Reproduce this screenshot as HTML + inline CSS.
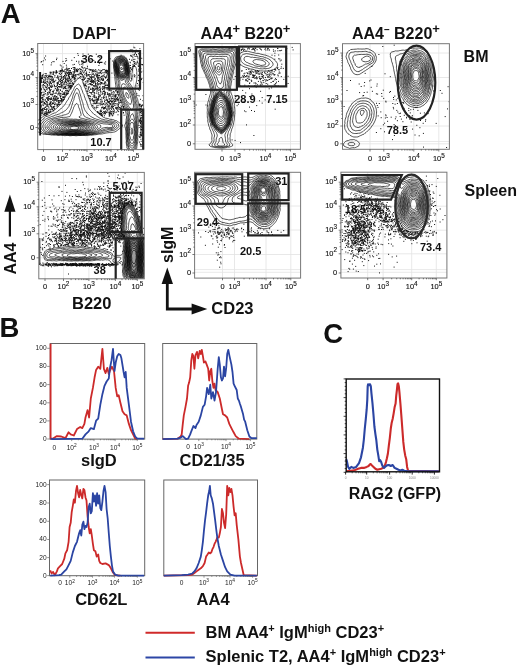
<!DOCTYPE html>
<html><head><meta charset="utf-8"><style>
html,body{margin:0;padding:0;background:#fff;width:520px;height:669px;overflow:hidden}
svg{display:block;will-change:transform}
text{font-family:"Liberation Sans", sans-serif}
</style></head><body><svg width="520" height="669" viewBox="0 0 520 669" font-family='"Liberation Sans", sans-serif'><text x="0.7" y="23.1" font-size="27.5" font-weight="bold" text-anchor="start" fill="#111" >A</text><text x="-0.6" y="337.4" font-size="27.5" font-weight="bold" text-anchor="start" fill="#111" >B</text><text x="323.2" y="342.9" font-size="27.5" font-weight="bold" text-anchor="start" fill="#111" >C</text><text x="72.6" y="38.8" font-size="16" font-weight="bold" text-anchor="start" fill="#111" >DAPI<tspan font-size="10" dy="-6">–</tspan></text><text x="200.5" y="38.8" font-size="16" font-weight="bold" text-anchor="start" fill="#111" >AA4<tspan font-size="13" dy="-6">+</tspan><tspan dy="6"> B220</tspan><tspan font-size="13" dy="-6">+</tspan></text><text x="352.0" y="38.8" font-size="16" font-weight="bold" text-anchor="start" fill="#111" >AA4<tspan font-size="10" dy="-6">–</tspan><tspan dy="6"> B220</tspan><tspan font-size="13" dy="-6">+</tspan></text><text x="463.6" y="61.8" font-size="16" font-weight="bold" text-anchor="start" fill="#111" >BM</text><text x="464.5" y="196.0" font-size="16" font-weight="bold" text-anchor="start" fill="#111" >Spleen</text><text x="72.0" y="309.0" font-size="16.5" font-weight="bold" text-anchor="start" fill="#111" >B220</text><text x="211.3" y="313.6" font-size="16.5" font-weight="bold" text-anchor="start" fill="#111" >CD23</text><text x="0" y="0" font-size="16" font-weight="bold" fill="#111" transform="translate(15.9,274.6) rotate(-90)">AA4</text><text x="0" y="0" font-size="16" font-weight="bold" fill="#111" transform="translate(173.4,263.0) rotate(-90)">sIgM</text><line x1="9.9" y1="236.5" x2="9.9" y2="208" stroke="#111" stroke-width="2.2"/><path d="M4.3 211.8 L9.9 194.6 L15.5 211.8 Z" fill="#111"/><path d="M167.3 282 L167.3 309 L193 309" fill="none" stroke="#111" stroke-width="2.8"/><path d="M161.6 284 L167.3 267.6 L173 284 Z" fill="#111"/><path d="M191.6 303.5 L207.3 309 L191.6 314.5 Z" fill="#111"/><text x="81.0" y="466.3" font-size="16.5" font-weight="bold" text-anchor="start" fill="#111" >sIgD</text><text x="179.6" y="465.8" font-size="16.5" font-weight="bold" text-anchor="start" fill="#111" >CD21/35</text><text x="75.2" y="604.9" font-size="16.5" font-weight="bold" text-anchor="start" fill="#111" >CD62L</text><text x="196.6" y="604.9" font-size="16.5" font-weight="bold" text-anchor="start" fill="#111" >AA4</text><text x="348.7" y="499.0" font-size="16" font-weight="bold" text-anchor="start" fill="#111" >RAG2 (GFP)</text><line x1="145.5" y1="632.7" x2="194.8" y2="632.7" stroke="#d02a2a" stroke-width="2"/><line x1="145.5" y1="657.5" x2="194.8" y2="657.5" stroke="#2c46a6" stroke-width="2"/><text x="205.6" y="638.2" font-size="16.5" font-weight="bold" text-anchor="start" fill="#111" >BM AA4<tspan font-size="11" dy="-6">+</tspan><tspan dy="6"> IgM</tspan><tspan font-size="11" dy="-6">high</tspan><tspan dy="6"> CD23</tspan><tspan font-size="11" dy="-6">+</tspan></text><text x="205.6" y="661.7" font-size="16.5" font-weight="bold" text-anchor="start" fill="#111" >Splenic T2, AA4<tspan font-size="11" dy="-6">+</tspan><tspan dy="6"> IgM</tspan><tspan font-size="11" dy="-6">high</tspan><tspan dy="6"> CD23</tspan><tspan font-size="11" dy="-6">+</tspan></text><text x="34.0" y="56.0" font-size="7.4" text-anchor="end" fill="#111" stroke="#111" stroke-width="0.12">10<tspan font-size="6.4" dy="-3.4">5</tspan></text><text x="34.0" y="79.8" font-size="7.4" text-anchor="end" fill="#111" stroke="#111" stroke-width="0.12">10<tspan font-size="6.4" dy="-3.4">4</tspan></text><text x="34.0" y="106.5" font-size="7.4" text-anchor="end" fill="#111" stroke="#111" stroke-width="0.12">10<tspan font-size="6.4" dy="-3.4">3</tspan></text><text x="34.0" y="129.7" font-size="7.4" text-anchor="end" fill="#111" stroke="#111" stroke-width="0.12">0</text><text x="43.5" y="161.0" font-size="7.4" text-anchor="middle" fill="#111" stroke="#111" stroke-width="0.12">0</text><text x="62.5" y="161.0" font-size="7.4" text-anchor="middle" fill="#111" stroke="#111" stroke-width="0.12">10<tspan font-size="6.4" dy="-3.4">2</tspan></text><text x="87.0" y="161.0" font-size="7.4" text-anchor="middle" fill="#111" stroke="#111" stroke-width="0.12">10<tspan font-size="6.4" dy="-3.4">3</tspan></text><text x="111.0" y="161.0" font-size="7.4" text-anchor="middle" fill="#111" stroke="#111" stroke-width="0.12">10<tspan font-size="6.4" dy="-3.4">4</tspan></text><text x="133.5" y="161.0" font-size="7.4" text-anchor="middle" fill="#111" stroke="#111" stroke-width="0.12">10<tspan font-size="6.4" dy="-3.4">5</tspan></text><text x="191.0" y="55.8" font-size="7.4" text-anchor="end" fill="#111" stroke="#111" stroke-width="0.12">10<tspan font-size="6.4" dy="-3.4">5</tspan></text><text x="191.0" y="79.5" font-size="7.4" text-anchor="end" fill="#111" stroke="#111" stroke-width="0.12">10<tspan font-size="6.4" dy="-3.4">4</tspan></text><text x="191.0" y="103.2" font-size="7.4" text-anchor="end" fill="#111" stroke="#111" stroke-width="0.12">10<tspan font-size="6.4" dy="-3.4">3</tspan></text><text x="191.0" y="127.0" font-size="7.4" text-anchor="end" fill="#111" stroke="#111" stroke-width="0.12">10<tspan font-size="6.4" dy="-3.4">2</tspan></text><text x="191.0" y="146.0" font-size="7.4" text-anchor="end" fill="#111" stroke="#111" stroke-width="0.12">0</text><text x="222.0" y="161.0" font-size="7.4" text-anchor="middle" fill="#111" stroke="#111" stroke-width="0.12">0</text><text x="235.0" y="161.0" font-size="7.4" text-anchor="middle" fill="#111" stroke="#111" stroke-width="0.12">10<tspan font-size="6.4" dy="-3.4">3</tspan></text><text x="265.5" y="161.0" font-size="7.4" text-anchor="middle" fill="#111" stroke="#111" stroke-width="0.12">10<tspan font-size="6.4" dy="-3.4">4</tspan></text><text x="290.5" y="161.0" font-size="7.4" text-anchor="middle" fill="#111" stroke="#111" stroke-width="0.12">10<tspan font-size="6.4" dy="-3.4">5</tspan></text><text x="338.5" y="55.0" font-size="7.4" text-anchor="end" fill="#111" stroke="#111" stroke-width="0.12">10<tspan font-size="6.4" dy="-3.4">5</tspan></text><text x="338.5" y="79.5" font-size="7.4" text-anchor="end" fill="#111" stroke="#111" stroke-width="0.12">10<tspan font-size="6.4" dy="-3.4">4</tspan></text><text x="338.5" y="103.2" font-size="7.4" text-anchor="end" fill="#111" stroke="#111" stroke-width="0.12">10<tspan font-size="6.4" dy="-3.4">3</tspan></text><text x="338.5" y="128.0" font-size="7.4" text-anchor="end" fill="#111" stroke="#111" stroke-width="0.12">10<tspan font-size="6.4" dy="-3.4">2</tspan></text><text x="338.5" y="146.0" font-size="7.4" text-anchor="end" fill="#111" stroke="#111" stroke-width="0.12">0</text><text x="370.0" y="161.0" font-size="7.4" text-anchor="middle" fill="#111" stroke="#111" stroke-width="0.12">0</text><text x="383.8" y="161.0" font-size="7.4" text-anchor="middle" fill="#111" stroke="#111" stroke-width="0.12">10<tspan font-size="6.4" dy="-3.4">3</tspan></text><text x="413.8" y="161.0" font-size="7.4" text-anchor="middle" fill="#111" stroke="#111" stroke-width="0.12">10<tspan font-size="6.4" dy="-3.4">4</tspan></text><text x="438.8" y="161.0" font-size="7.4" text-anchor="middle" fill="#111" stroke="#111" stroke-width="0.12">10<tspan font-size="6.4" dy="-3.4">5</tspan></text><text x="35.0" y="184.2" font-size="7.4" text-anchor="end" fill="#111" stroke="#111" stroke-width="0.12">10<tspan font-size="6.4" dy="-3.4">5</tspan></text><text x="35.0" y="208.8" font-size="7.4" text-anchor="end" fill="#111" stroke="#111" stroke-width="0.12">10<tspan font-size="6.4" dy="-3.4">4</tspan></text><text x="35.0" y="235.8" font-size="7.4" text-anchor="end" fill="#111" stroke="#111" stroke-width="0.12">10<tspan font-size="6.4" dy="-3.4">3</tspan></text><text x="35.0" y="260.0" font-size="7.4" text-anchor="end" fill="#111" stroke="#111" stroke-width="0.12">0</text><text x="45.0" y="289.1" font-size="7.4" text-anchor="middle" fill="#111" stroke="#111" stroke-width="0.12">0</text><text x="63.5" y="289.1" font-size="7.4" text-anchor="middle" fill="#111" stroke="#111" stroke-width="0.12">10<tspan font-size="6.4" dy="-3.4">2</tspan></text><text x="88.9" y="289.1" font-size="7.4" text-anchor="middle" fill="#111" stroke="#111" stroke-width="0.12">10<tspan font-size="6.4" dy="-3.4">3</tspan></text><text x="115.4" y="289.1" font-size="7.4" text-anchor="middle" fill="#111" stroke="#111" stroke-width="0.12">10<tspan font-size="6.4" dy="-3.4">4</tspan></text><text x="137.3" y="289.1" font-size="7.4" text-anchor="middle" fill="#111" stroke="#111" stroke-width="0.12">10<tspan font-size="6.4" dy="-3.4">5</tspan></text><text x="191.0" y="184.2" font-size="7.4" text-anchor="end" fill="#111" stroke="#111" stroke-width="0.12">10<tspan font-size="6.4" dy="-3.4">5</tspan></text><text x="191.0" y="208.0" font-size="7.4" text-anchor="end" fill="#111" stroke="#111" stroke-width="0.12">10<tspan font-size="6.4" dy="-3.4">4</tspan></text><text x="191.0" y="232.0" font-size="7.4" text-anchor="end" fill="#111" stroke="#111" stroke-width="0.12">10<tspan font-size="6.4" dy="-3.4">3</tspan></text><text x="191.0" y="256.5" font-size="7.4" text-anchor="end" fill="#111" stroke="#111" stroke-width="0.12">10<tspan font-size="6.4" dy="-3.4">2</tspan></text><text x="191.0" y="275.2" font-size="7.4" text-anchor="end" fill="#111" stroke="#111" stroke-width="0.12">0</text><text x="222.5" y="289.4" font-size="7.4" text-anchor="middle" fill="#111" stroke="#111" stroke-width="0.12">0</text><text x="234.5" y="289.4" font-size="7.4" text-anchor="middle" fill="#111" stroke="#111" stroke-width="0.12">10<tspan font-size="6.4" dy="-3.4">3</tspan></text><text x="266.0" y="289.4" font-size="7.4" text-anchor="middle" fill="#111" stroke="#111" stroke-width="0.12">10<tspan font-size="6.4" dy="-3.4">4</tspan></text><text x="290.8" y="289.4" font-size="7.4" text-anchor="middle" fill="#111" stroke="#111" stroke-width="0.12">10<tspan font-size="6.4" dy="-3.4">5</tspan></text><text x="337.0" y="184.2" font-size="7.4" text-anchor="end" fill="#111" stroke="#111" stroke-width="0.12">10<tspan font-size="6.4" dy="-3.4">5</tspan></text><text x="337.0" y="208.2" font-size="7.4" text-anchor="end" fill="#111" stroke="#111" stroke-width="0.12">10<tspan font-size="6.4" dy="-3.4">4</tspan></text><text x="337.0" y="232.2" font-size="7.4" text-anchor="end" fill="#111" stroke="#111" stroke-width="0.12">10<tspan font-size="6.4" dy="-3.4">3</tspan></text><text x="337.0" y="255.8" font-size="7.4" text-anchor="end" fill="#111" stroke="#111" stroke-width="0.12">10<tspan font-size="6.4" dy="-3.4">2</tspan></text><text x="337.0" y="275.2" font-size="7.4" text-anchor="end" fill="#111" stroke="#111" stroke-width="0.12">0</text><text x="367.7" y="289.4" font-size="7.4" text-anchor="middle" fill="#111" stroke="#111" stroke-width="0.12">0</text><text x="383.1" y="289.4" font-size="7.4" text-anchor="middle" fill="#111" stroke="#111" stroke-width="0.12">10<tspan font-size="6.4" dy="-3.4">3</tspan></text><text x="411.7" y="289.4" font-size="7.4" text-anchor="middle" fill="#111" stroke="#111" stroke-width="0.12">10<tspan font-size="6.4" dy="-3.4">4</tspan></text><text x="436.3" y="289.4" font-size="7.4" text-anchor="middle" fill="#111" stroke="#111" stroke-width="0.12">10<tspan font-size="6.4" dy="-3.4">5</tspan></text><rect x="50.2" y="343.5" width="94.5" height="95.6" fill="none" stroke="#666" stroke-width="1.0"/><path d="M50.6 343.7 50.6 438.7 52.7 438.7 56.9 436.1 61.2 436.5 65.4 438.2 68.6 432.3 70.7 434.4 73.8 435.5 77 429.1 80.2 427 82.3 428.1 84.4 423.9 85.5 417.5 87.6 410.1 89.1 417.5 90.8 398.5 92.9 387.9 94.6 377.3 96.1 369.9 98.2 366.7 100.3 368.8 102.4 348.8 103.9 368.8 105.6 373.1 107.3 367.8 108.8 374.1 109.8 371 111.9 366.7 114 371 115.7 387.9 117.2 396.3 118.7 395.3 120.4 402.7 122.5 411.2 124.6 414.3 126.7 415.4 128.9 423.9 131 430.2 133.1 434.4 135.2 438.7 137.3 438.9" fill="none" stroke="#cc2a2a" stroke-width="1.8" stroke-linejoin="round"/><path d="M50.6 438.7 52.7 439.1 82.3 438.7 85.5 434.4 88.7 431.3 90.8 428.1 93.9 429.1 96.1 420.7 98.2 418.6 100.3 404.8 102.4 394.2 104.5 385.8 106.6 381.5 108.8 378.4 109.8 368.8 111.5 360.4 113 348.8 114.5 371 115.7 362.5 117.2 356.2 118.7 354 120.4 355.1 121.4 358.3 123.6 372 124.6 377.3 125.7 372 126.7 387.9 128.9 404.8 131 421.7 133.1 431.3 135.2 436.5 137.3 438.7 144.1 438.7" fill="none" stroke="#2b45a3" stroke-width="1.8" stroke-linejoin="round"/><text x="46.6" y="350.2" font-size="6.6" text-anchor="end" fill="#222">100</text><line x1="47.2" y1="348.3" x2="49.8" y2="348.3" stroke="#666" stroke-width="0.7"/><text x="46.6" y="368.3" font-size="6.6" text-anchor="end" fill="#222">80</text><line x1="47.2" y1="366.4" x2="49.8" y2="366.4" stroke="#666" stroke-width="0.7"/><text x="46.6" y="386.5" font-size="6.6" text-anchor="end" fill="#222">60</text><line x1="47.2" y1="384.6" x2="49.8" y2="384.6" stroke="#666" stroke-width="0.7"/><text x="46.6" y="404.7" font-size="6.6" text-anchor="end" fill="#222">40</text><line x1="47.2" y1="402.8" x2="49.8" y2="402.8" stroke="#666" stroke-width="0.7"/><text x="46.6" y="422.8" font-size="6.6" text-anchor="end" fill="#222">20</text><line x1="47.2" y1="420.9" x2="49.8" y2="420.9" stroke="#666" stroke-width="0.7"/><text x="46.6" y="440.9" font-size="6.6" text-anchor="end" fill="#222">0</text><line x1="47.2" y1="439.0" x2="49.8" y2="439.0" stroke="#666" stroke-width="0.7"/><text x="54.4" y="449.5" font-size="6.6" text-anchor="middle" fill="#222">0</text><text x="71.7" y="449.5" font-size="6.6" text-anchor="middle" fill="#222">10<tspan font-size="4.8" dy="-2.8">2</tspan></text><text x="94.0" y="449.5" font-size="6.6" text-anchor="middle" fill="#222">10<tspan font-size="4.8" dy="-2.8">3</tspan></text><text x="115.1" y="449.5" font-size="6.6" text-anchor="middle" fill="#222">10<tspan font-size="4.8" dy="-2.8">4</tspan></text><text x="137.3" y="449.5" font-size="6.6" text-anchor="middle" fill="#222">10<tspan font-size="4.8" dy="-2.8">5</tspan></text><path d="M71.7 439.1v2M94.0 439.1v2M115.1 439.1v2M137.3 439.1v2M78.4 439.1v1.2M82.3 439.1v1.2M85.1 439.1v1.2M87.3 439.1v1.2M89.1 439.1v1.2M90.5 439.1v1.2M91.8 439.1v1.2M93.0 439.1v1.2M100.4 439.1v1.2M104.1 439.1v1.2M106.7 439.1v1.2M108.7 439.1v1.2M110.4 439.1v1.2M111.8 439.1v1.2M113.1 439.1v1.2M114.1 439.1v1.2M121.8 439.1v1.2M125.7 439.1v1.2M128.5 439.1v1.2M130.6 439.1v1.2M132.4 439.1v1.2M133.9 439.1v1.2M135.1 439.1v1.2M136.3 439.1v1.2" stroke="#555" stroke-width="0.6" fill="none"/><rect x="162.7" y="343.5" width="94.1" height="95.6" fill="none" stroke="#666" stroke-width="1.0"/><path d="M162.7 439.1 177.5 438.7 180.7 436.5 181.7 434.4 182.8 423.9 183.8 415.4 185.5 406.9 187 398.5 188.1 385.8 189.1 382.6 190.2 377.3 191.3 360.4 192.3 354 193.4 356.2 194.4 368.8 195.5 355.1 197 351.9 198.2 358.3 199.7 350.9 200.8 354 201.8 349.8 202.9 356.2 203.9 362.5 205.4 361.4 206.7 364.6 208.2 368.8 209.2 380.5 210.3 371 211.3 368.8 212.4 381.5 213.5 387.9 214.5 383.7 215.6 390 217.7 392.1 219.8 398.5 221.9 409 223 414.3 225.1 415.4 227.2 417.5 229.3 423.9 231.4 428.1 233.6 432.3 235.7 436.1 238.9 438.7 249.4 439.1" fill="none" stroke="#cc2a2a" stroke-width="1.8" stroke-linejoin="round"/><path d="M162.7 439.1 177.5 438.7 180.7 437.6 182.8 436.1 186 439.1 188.1 438.7 190.2 434.4 191.3 431.3 193.4 426 195.5 428.1 196.5 424.9 198.7 421.7 200.8 415.4 202.9 406.9 204.6 404.8 206.1 396.3 207.1 387.9 208.8 394.2 210.3 384.7 211.3 398.5 213 392.1 214.5 400.6 216 392.1 217.7 368.8 218.8 357.2 219.8 364.6 220.9 377.3 221.9 380.5 223 378.4 224 366.7 225.1 376.3 226.2 367.8 227.2 354 228.3 349.8 229.3 355.1 231.4 364.6 232.5 372 233.6 383.7 234.6 385.8 236.7 390 237.8 398.5 238.9 400.6 239.9 403.8 241 406.9 243.1 414.3 244.1 419.6 245.2 421.7 247.3 430.2 249.4 436.5 251.5 438.2 256.8 438.2" fill="none" stroke="#2b45a3" stroke-width="1.8" stroke-linejoin="round"/><text x="188.0" y="449.2" font-size="6.6" text-anchor="middle" fill="#222">0</text><text x="198.8" y="449.2" font-size="6.6" text-anchor="middle" fill="#222">10<tspan font-size="4.8" dy="-2.8">3</tspan></text><text x="226.0" y="449.2" font-size="6.6" text-anchor="middle" fill="#222">10<tspan font-size="4.8" dy="-2.8">4</tspan></text><text x="250.4" y="449.2" font-size="6.6" text-anchor="middle" fill="#222">10<tspan font-size="4.8" dy="-2.8">5</tspan></text><path d="M198.8 439.1v2M226.0 439.1v2M250.4 439.1v2M207.0 439.1v1.2M211.8 439.1v1.2M215.2 439.1v1.2M217.8 439.1v1.2M220.0 439.1v1.2M221.8 439.1v1.2M223.4 439.1v1.2M224.8 439.1v1.2M233.3 439.1v1.2M237.6 439.1v1.2M240.7 439.1v1.2M243.1 439.1v1.2M245.0 439.1v1.2M246.6 439.1v1.2M248.0 439.1v1.2M249.3 439.1v1.2" stroke="#555" stroke-width="0.6" fill="none"/><rect x="49.5" y="480.0" width="95.2" height="95.7" fill="none" stroke="#666" stroke-width="1.0"/><path d="M50.2 570.4 51.6 573.5 53.1 571.9 54.8 575.2 56.9 571.4 58 568.3 60.1 566.1 62.2 564 64.3 558.7 65.4 553.4 67.1 550.3 68.6 541.8 69.6 527 70.7 522.8 71.7 512.2 72.8 505.8 73.8 499.5 74.9 502.7 76 491 77 485.8 78.1 493.2 79.1 497.4 80.2 490 81.3 495.3 82.3 498.4 83.4 488.9 84.4 490 85.5 497.4 86.5 500.6 87.6 516.4 88.7 527 89.7 533.3 90.8 529.1 91.8 535.5 92.9 543.9 93.9 550.3 95.4 551.3 96.7 556.6 98.2 554.5 99.2 560.9 100.3 563 102.4 564 105.6 563.4 108.8 565.1 110.9 568.3 113 572.5 115.1 575.2 120.4 575.7" fill="none" stroke="#cc2a2a" stroke-width="1.8" stroke-linejoin="round"/><path d="M50.2 575.7 59 575.2 61.2 574.6 64.3 571.4 66.4 569.3 68.6 565.1 70.7 560.9 72.8 552.4 74.9 546 77 541.8 79.1 533.3 80.2 530.2 81.3 535.5 82.3 524.9 83.4 521.7 84.4 529.1 85.5 525.9 86.5 527 87.6 522.8 88.7 506.9 89.7 503.7 90.8 513.3 91.8 511.1 92.9 493.2 93.9 501.6 95 495.3 96.1 505.8 97.1 493.2 98.2 503.7 99.2 495.3 100.3 508 101.3 510.1 102.4 501.6 103.5 491 104.5 485.8 105.6 492.1 106.6 509 107.7 518.5 108.8 533.3 109.8 546 110.9 556.6 111.9 565.1 113 571.4 115.1 574.6 118.3 575.7 144.1 575.7" fill="none" stroke="#2b45a3" stroke-width="1.8" stroke-linejoin="round"/><text x="46.6" y="486.5" font-size="6.6" text-anchor="end" fill="#222">100</text><line x1="47.2" y1="484.6" x2="49.8" y2="484.6" stroke="#666" stroke-width="0.7"/><text x="46.6" y="504.9" font-size="6.6" text-anchor="end" fill="#222">80</text><line x1="47.2" y1="503.0" x2="49.8" y2="503.0" stroke="#666" stroke-width="0.7"/><text x="46.6" y="523.2" font-size="6.6" text-anchor="end" fill="#222">60</text><line x1="47.2" y1="521.3" x2="49.8" y2="521.3" stroke="#666" stroke-width="0.7"/><text x="46.6" y="541.4" font-size="6.6" text-anchor="end" fill="#222">40</text><line x1="47.2" y1="539.5" x2="49.8" y2="539.5" stroke="#666" stroke-width="0.7"/><text x="46.6" y="559.5" font-size="6.6" text-anchor="end" fill="#222">20</text><line x1="47.2" y1="557.6" x2="49.8" y2="557.6" stroke="#666" stroke-width="0.7"/><text x="46.6" y="577.5" font-size="6.6" text-anchor="end" fill="#222">0</text><line x1="47.2" y1="575.6" x2="49.8" y2="575.6" stroke="#666" stroke-width="0.7"/><text x="60.1" y="585.4" font-size="6.6" text-anchor="middle" fill="#222">0</text><text x="69.8" y="585.4" font-size="6.6" text-anchor="middle" fill="#222">10<tspan font-size="4.8" dy="-2.8">2</tspan></text><text x="92.5" y="585.4" font-size="6.6" text-anchor="middle" fill="#222">10<tspan font-size="4.8" dy="-2.8">3</tspan></text><text x="114.5" y="585.4" font-size="6.6" text-anchor="middle" fill="#222">10<tspan font-size="4.8" dy="-2.8">4</tspan></text><text x="137.3" y="585.4" font-size="6.6" text-anchor="middle" fill="#222">10<tspan font-size="4.8" dy="-2.8">5</tspan></text><path d="M69.8 575.7v2M92.5 575.7v2M114.5 575.7v2M137.3 575.7v2M76.6 575.7v1.2M80.6 575.7v1.2M83.5 575.7v1.2M85.7 575.7v1.2M87.5 575.7v1.2M89.0 575.7v1.2M90.3 575.7v1.2M91.5 575.7v1.2M99.1 575.7v1.2M103.0 575.7v1.2M105.7 575.7v1.2M107.9 575.7v1.2M109.6 575.7v1.2M111.1 575.7v1.2M112.4 575.7v1.2M113.5 575.7v1.2M121.4 575.7v1.2M125.4 575.7v1.2M128.2 575.7v1.2M130.4 575.7v1.2M132.2 575.7v1.2M133.8 575.7v1.2M135.1 575.7v1.2M136.3 575.7v1.2" stroke="#555" stroke-width="0.6" fill="none"/><rect x="163.8" y="480.0" width="93.7" height="95.7" fill="none" stroke="#666" stroke-width="1.0"/><path d="M163.8 575.7 188.1 575.2 192.3 574.6 194.4 573.1 196.5 571.4 198.7 569.7 200.8 568.3 202.9 566.1 204.6 563 206.1 556.6 207.5 554.5 208.8 552.4 210.3 553.4 211.3 552.4 212.4 549.2 213.5 547.1 214.5 543.9 215.6 541.8 217.3 537.6 218.8 537.6 219.8 533.3 220.9 527 221.9 509 223 513.3 224 522.8 225.1 528.1 226.2 514.3 227.2 485.8 228.3 495.3 229.3 487.9 230.4 492.1 231.4 488.9 232.5 495.3 233.6 506.9 234.6 515.4 235.7 513.3 236.7 524.9 238.4 539.7 239.9 556.6 241 563 242.4 569.3 243.7 575.2 256.8 575.7" fill="none" stroke="#cc2a2a" stroke-width="1.8" stroke-linejoin="round"/><path d="M163.8 575.7 181.7 575.2 188.1 574.6 192.3 573.5 194.4 571.4 196.5 568.3 198.7 563 200.8 556.6 201.8 550.3 202.9 541.8 203.9 531.2 205 520.7 206.1 512.2 207.1 503.7 208.2 495.3 209.2 491 209.9 485.8 210.7 495.3 211.8 498.4 213 503.7 214.1 512.2 215.2 520.7 216.2 529.1 217.3 537.6 218.8 546 220.9 554.5 223 560.9 225.1 567.2 227.2 571.4 230.4 574.6 234.6 575.7 256.8 575.7" fill="none" stroke="#2b45a3" stroke-width="1.8" stroke-linejoin="round"/><text x="181.7" y="585.0" font-size="6.6" text-anchor="middle" fill="#222">0</text><text x="204.0" y="585.0" font-size="6.6" text-anchor="middle" fill="#222">10<tspan font-size="4.8" dy="-2.8">3</tspan></text><text x="230.0" y="585.0" font-size="6.6" text-anchor="middle" fill="#222">10<tspan font-size="4.8" dy="-2.8">4</tspan></text><text x="252.6" y="585.0" font-size="6.6" text-anchor="middle" fill="#222">10<tspan font-size="4.8" dy="-2.8">5</tspan></text><path d="M204.0 575.7v2M230.0 575.7v2M252.6 575.7v2M211.8 575.7v1.2M216.4 575.7v1.2M219.7 575.7v1.2M222.2 575.7v1.2M224.2 575.7v1.2M226.0 575.7v1.2M227.5 575.7v1.2M228.8 575.7v1.2M236.8 575.7v1.2M240.8 575.7v1.2M243.6 575.7v1.2M245.8 575.7v1.2M247.6 575.7v1.2M249.1 575.7v1.2M250.4 575.7v1.2M251.6 575.7v1.2" stroke="#555" stroke-width="0.6" fill="none"/><path d="M346.2 471.2 350.4 470.8 354.2 470.4 358.1 468.8 361 467.9 363.8 467.9 366.7 466.9 368.7 466 369.6 464.6 370.6 464 371.5 465 372.5 466 373.5 466.9 375.4 468.8 377.3 469.8 379.2 469.2 381.2 468.8 383.1 467.9 385 465 386 462.1 386.9 458.3 387.9 453.5 388.8 445.8 389.8 438.1 390.8 428.5 391.7 422.7 392.7 418.8 393.7 413.1 394.6 407.3 395.6 403.5 396.2 395.8 396.9 390 397.5 384.2 398.1 383.3 398.8 386.2 399.4 391.9 400.4 403.5 401.3 415 402.3 428.5 403.3 441.9 404.2 449.6 405.2 455.4 406.2 459.2 407.1 466.9 408.1 470.8 438.8 471.2" fill="none" stroke="#cc2a2a" stroke-width="2.1" stroke-linejoin="round"/><path d="M346.2 459.2 346.9 461.2 348.1 466.9 349.4 468.8 351.3 466.9 353.3 467.9 356.2 466.9 359 463.1 361 457.3 362.9 447.7 363.8 440 364.8 428.5 365.8 418.8 366.7 409.2 367.3 399.6 367.7 386.2 368.1 384.2 369.2 385.2 370 384.2 370.8 386.2 371.5 393.8 372.5 403.5 373.5 415 374.4 426.5 375.4 434.2 376.3 440 377.3 449.6 378.3 455.4 379.2 461.2 380.2 460.2 381.2 462.1 382.1 465 383.1 466.9 384 467.9 385 466.9 386.9 465.4 388.8 465 390.8 466 392.7 465 394.6 467.9 396.5 468.8 398.5 469.8 400.4 470.4 402.3 469.8 404.2 470.8 408.1 471.2 438.8 471.2" fill="none" stroke="#2b45a3" stroke-width="2.1" stroke-linejoin="round"/><rect x="346.2" y="379.0" width="93.3" height="92.8" fill="none" stroke="#111" stroke-width="1.4"/><line x1="343.6" y1="378.9" x2="346.2" y2="378.9" stroke="#111" stroke-width="0.8"/><line x1="344.7" y1="382.6" x2="346.2" y2="382.6" stroke="#111" stroke-width="0.8"/><line x1="344.7" y1="386.4" x2="346.2" y2="386.4" stroke="#111" stroke-width="0.8"/><line x1="344.7" y1="390.1" x2="346.2" y2="390.1" stroke="#111" stroke-width="0.8"/><line x1="344.7" y1="393.8" x2="346.2" y2="393.8" stroke="#111" stroke-width="0.8"/><line x1="343.6" y1="397.6" x2="346.2" y2="397.6" stroke="#111" stroke-width="0.8"/><line x1="344.7" y1="401.3" x2="346.2" y2="401.3" stroke="#111" stroke-width="0.8"/><line x1="344.7" y1="405.1" x2="346.2" y2="405.1" stroke="#111" stroke-width="0.8"/><line x1="344.7" y1="408.8" x2="346.2" y2="408.8" stroke="#111" stroke-width="0.8"/><line x1="344.7" y1="412.5" x2="346.2" y2="412.5" stroke="#111" stroke-width="0.8"/><line x1="343.6" y1="416.3" x2="346.2" y2="416.3" stroke="#111" stroke-width="0.8"/><line x1="344.7" y1="420.0" x2="346.2" y2="420.0" stroke="#111" stroke-width="0.8"/><line x1="344.7" y1="423.7" x2="346.2" y2="423.7" stroke="#111" stroke-width="0.8"/><line x1="344.7" y1="427.5" x2="346.2" y2="427.5" stroke="#111" stroke-width="0.8"/><line x1="344.7" y1="431.2" x2="346.2" y2="431.2" stroke="#111" stroke-width="0.8"/><line x1="343.6" y1="434.9" x2="346.2" y2="434.9" stroke="#111" stroke-width="0.8"/><line x1="344.7" y1="438.7" x2="346.2" y2="438.7" stroke="#111" stroke-width="0.8"/><line x1="344.7" y1="442.4" x2="346.2" y2="442.4" stroke="#111" stroke-width="0.8"/><line x1="344.7" y1="446.1" x2="346.2" y2="446.1" stroke="#111" stroke-width="0.8"/><line x1="344.7" y1="449.9" x2="346.2" y2="449.9" stroke="#111" stroke-width="0.8"/><line x1="343.6" y1="453.6" x2="346.2" y2="453.6" stroke="#111" stroke-width="0.8"/><line x1="344.7" y1="457.4" x2="346.2" y2="457.4" stroke="#111" stroke-width="0.8"/><line x1="344.7" y1="461.1" x2="346.2" y2="461.1" stroke="#111" stroke-width="0.8"/><line x1="344.7" y1="464.8" x2="346.2" y2="464.8" stroke="#111" stroke-width="0.8"/><line x1="344.7" y1="468.6" x2="346.2" y2="468.6" stroke="#111" stroke-width="0.8"/><line x1="343.6" y1="472.3" x2="346.2" y2="472.3" stroke="#111" stroke-width="0.8"/><line x1="345.6" y1="471.8" x2="345.6" y2="474.6" stroke="#111" stroke-width="0.9"/><line x1="352.2" y1="471.8" x2="352.2" y2="473.3" stroke="#111" stroke-width="0.6"/><line x1="356.0" y1="471.8" x2="356.0" y2="473.3" stroke="#111" stroke-width="0.6"/><line x1="358.7" y1="471.8" x2="358.7" y2="473.3" stroke="#111" stroke-width="0.6"/><line x1="360.8" y1="471.8" x2="360.8" y2="473.3" stroke="#111" stroke-width="0.6"/><line x1="362.6" y1="471.8" x2="362.6" y2="473.3" stroke="#111" stroke-width="0.6"/><line x1="364.0" y1="471.8" x2="364.0" y2="473.3" stroke="#111" stroke-width="0.6"/><line x1="365.3" y1="471.8" x2="365.3" y2="473.3" stroke="#111" stroke-width="0.6"/><line x1="366.4" y1="471.8" x2="366.4" y2="473.3" stroke="#111" stroke-width="0.6"/><line x1="366.7" y1="471.8" x2="366.7" y2="474.6" stroke="#111" stroke-width="0.9"/><line x1="373.3" y1="471.8" x2="373.3" y2="473.3" stroke="#111" stroke-width="0.6"/><line x1="377.1" y1="471.8" x2="377.1" y2="473.3" stroke="#111" stroke-width="0.6"/><line x1="379.8" y1="471.8" x2="379.8" y2="473.3" stroke="#111" stroke-width="0.6"/><line x1="381.9" y1="471.8" x2="381.9" y2="473.3" stroke="#111" stroke-width="0.6"/><line x1="383.7" y1="471.8" x2="383.7" y2="473.3" stroke="#111" stroke-width="0.6"/><line x1="385.1" y1="471.8" x2="385.1" y2="473.3" stroke="#111" stroke-width="0.6"/><line x1="386.4" y1="471.8" x2="386.4" y2="473.3" stroke="#111" stroke-width="0.6"/><line x1="387.5" y1="471.8" x2="387.5" y2="473.3" stroke="#111" stroke-width="0.6"/><line x1="389.6" y1="471.8" x2="389.6" y2="474.6" stroke="#111" stroke-width="0.9"/><line x1="396.2" y1="471.8" x2="396.2" y2="473.3" stroke="#111" stroke-width="0.6"/><line x1="400.0" y1="471.8" x2="400.0" y2="473.3" stroke="#111" stroke-width="0.6"/><line x1="402.7" y1="471.8" x2="402.7" y2="473.3" stroke="#111" stroke-width="0.6"/><line x1="404.8" y1="471.8" x2="404.8" y2="473.3" stroke="#111" stroke-width="0.6"/><line x1="406.6" y1="471.8" x2="406.6" y2="473.3" stroke="#111" stroke-width="0.6"/><line x1="408.0" y1="471.8" x2="408.0" y2="473.3" stroke="#111" stroke-width="0.6"/><line x1="409.3" y1="471.8" x2="409.3" y2="473.3" stroke="#111" stroke-width="0.6"/><line x1="410.4" y1="471.8" x2="410.4" y2="473.3" stroke="#111" stroke-width="0.6"/><line x1="412.2" y1="471.8" x2="412.2" y2="474.6" stroke="#111" stroke-width="0.9"/><line x1="418.8" y1="471.8" x2="418.8" y2="473.3" stroke="#111" stroke-width="0.6"/><line x1="422.6" y1="471.8" x2="422.6" y2="473.3" stroke="#111" stroke-width="0.6"/><line x1="425.3" y1="471.8" x2="425.3" y2="473.3" stroke="#111" stroke-width="0.6"/><line x1="427.4" y1="471.8" x2="427.4" y2="473.3" stroke="#111" stroke-width="0.6"/><line x1="429.2" y1="471.8" x2="429.2" y2="473.3" stroke="#111" stroke-width="0.6"/><line x1="430.6" y1="471.8" x2="430.6" y2="473.3" stroke="#111" stroke-width="0.6"/><line x1="431.9" y1="471.8" x2="431.9" y2="473.3" stroke="#111" stroke-width="0.6"/><line x1="433.0" y1="471.8" x2="433.0" y2="473.3" stroke="#111" stroke-width="0.6"/><line x1="434.4" y1="471.8" x2="434.4" y2="474.6" stroke="#111" stroke-width="0.9"/><text x="345.6" y="478.6" font-size="3.2" text-anchor="middle" fill="#888">0</text><text x="366.7" y="478.6" font-size="3.2" text-anchor="middle" fill="#888">10</text><text x="389.6" y="478.6" font-size="3.2" text-anchor="middle" fill="#888">100</text><text x="412.2" y="478.6" font-size="3.2" text-anchor="middle" fill="#888">1000</text><text x="434.4" y="478.6" font-size="3.2" text-anchor="middle" fill="#888">10000</text><line x1="43.5" y1="43.5" x2="43.5" y2="149.6" stroke="#e2e2e2" stroke-width="0.8"/><line x1="62.5" y1="43.5" x2="62.5" y2="149.6" stroke="#e2e2e2" stroke-width="0.8"/><line x1="87.0" y1="43.5" x2="87.0" y2="149.6" stroke="#e2e2e2" stroke-width="0.8"/><line x1="111.0" y1="43.5" x2="111.0" y2="149.6" stroke="#e2e2e2" stroke-width="0.8"/><line x1="133.5" y1="43.5" x2="133.5" y2="149.6" stroke="#e2e2e2" stroke-width="0.8"/><line x1="37.7" y1="53.6" x2="143.6" y2="53.6" stroke="#e2e2e2" stroke-width="0.8"/><line x1="37.7" y1="77.5" x2="143.6" y2="77.5" stroke="#e2e2e2" stroke-width="0.8"/><line x1="37.7" y1="104.5" x2="143.6" y2="104.5" stroke="#e2e2e2" stroke-width="0.8"/><line x1="37.7" y1="127.5" x2="143.6" y2="127.5" stroke="#e2e2e2" stroke-width="0.8"/><line x1="222.0" y1="43.6" x2="222.0" y2="149.3" stroke="#e2e2e2" stroke-width="0.8"/><line x1="235.0" y1="43.6" x2="235.0" y2="149.3" stroke="#e2e2e2" stroke-width="0.8"/><line x1="265.5" y1="43.6" x2="265.5" y2="149.3" stroke="#e2e2e2" stroke-width="0.8"/><line x1="290.5" y1="43.6" x2="290.5" y2="149.3" stroke="#e2e2e2" stroke-width="0.8"/><line x1="195.0" y1="53.8" x2="300.4" y2="53.8" stroke="#e2e2e2" stroke-width="0.8"/><line x1="195.0" y1="77.5" x2="300.4" y2="77.5" stroke="#e2e2e2" stroke-width="0.8"/><line x1="195.0" y1="101.2" x2="300.4" y2="101.2" stroke="#e2e2e2" stroke-width="0.8"/><line x1="195.0" y1="125.0" x2="300.4" y2="125.0" stroke="#e2e2e2" stroke-width="0.8"/><line x1="195.0" y1="141.5" x2="300.4" y2="141.5" stroke="#e2e2e2" stroke-width="0.8"/><line x1="195.0" y1="143.8" x2="300.4" y2="143.8" stroke="#e2e2e2" stroke-width="0.8"/><line x1="370.0" y1="43.7" x2="370.0" y2="149.3" stroke="#e2e2e2" stroke-width="0.8"/><line x1="383.8" y1="43.7" x2="383.8" y2="149.3" stroke="#e2e2e2" stroke-width="0.8"/><line x1="413.8" y1="43.7" x2="413.8" y2="149.3" stroke="#e2e2e2" stroke-width="0.8"/><line x1="438.8" y1="43.7" x2="438.8" y2="149.3" stroke="#e2e2e2" stroke-width="0.8"/><line x1="342.5" y1="53.0" x2="449.4" y2="53.0" stroke="#e2e2e2" stroke-width="0.8"/><line x1="342.5" y1="77.5" x2="449.4" y2="77.5" stroke="#e2e2e2" stroke-width="0.8"/><line x1="342.5" y1="101.2" x2="449.4" y2="101.2" stroke="#e2e2e2" stroke-width="0.8"/><line x1="342.5" y1="126.0" x2="449.4" y2="126.0" stroke="#e2e2e2" stroke-width="0.8"/><line x1="342.5" y1="141.5" x2="449.4" y2="141.5" stroke="#e2e2e2" stroke-width="0.8"/><line x1="342.5" y1="143.8" x2="449.4" y2="143.8" stroke="#e2e2e2" stroke-width="0.8"/><line x1="45.0" y1="172.4" x2="45.0" y2="278.8" stroke="#e2e2e2" stroke-width="0.8"/><line x1="63.5" y1="172.4" x2="63.5" y2="278.8" stroke="#e2e2e2" stroke-width="0.8"/><line x1="88.9" y1="172.4" x2="88.9" y2="278.8" stroke="#e2e2e2" stroke-width="0.8"/><line x1="115.4" y1="172.4" x2="115.4" y2="278.8" stroke="#e2e2e2" stroke-width="0.8"/><line x1="137.3" y1="172.4" x2="137.3" y2="278.8" stroke="#e2e2e2" stroke-width="0.8"/><line x1="38.8" y1="182.2" x2="144.3" y2="182.2" stroke="#e2e2e2" stroke-width="0.8"/><line x1="38.8" y1="206.8" x2="144.3" y2="206.8" stroke="#e2e2e2" stroke-width="0.8"/><line x1="38.8" y1="233.8" x2="144.3" y2="233.8" stroke="#e2e2e2" stroke-width="0.8"/><line x1="38.8" y1="257.8" x2="144.3" y2="257.8" stroke="#e2e2e2" stroke-width="0.8"/><line x1="222.5" y1="172.3" x2="222.5" y2="278.1" stroke="#e2e2e2" stroke-width="0.8"/><line x1="234.5" y1="172.3" x2="234.5" y2="278.1" stroke="#e2e2e2" stroke-width="0.8"/><line x1="266.0" y1="172.3" x2="266.0" y2="278.1" stroke="#e2e2e2" stroke-width="0.8"/><line x1="290.8" y1="172.3" x2="290.8" y2="278.1" stroke="#e2e2e2" stroke-width="0.8"/><line x1="194.6" y1="182.2" x2="300.6" y2="182.2" stroke="#e2e2e2" stroke-width="0.8"/><line x1="194.6" y1="206.0" x2="300.6" y2="206.0" stroke="#e2e2e2" stroke-width="0.8"/><line x1="194.6" y1="230.0" x2="300.6" y2="230.0" stroke="#e2e2e2" stroke-width="0.8"/><line x1="194.6" y1="254.5" x2="300.6" y2="254.5" stroke="#e2e2e2" stroke-width="0.8"/><line x1="194.6" y1="269.6" x2="300.6" y2="269.6" stroke="#e2e2e2" stroke-width="0.8"/><line x1="194.6" y1="272.3" x2="300.6" y2="272.3" stroke="#e2e2e2" stroke-width="0.8"/><line x1="367.7" y1="172.2" x2="367.7" y2="278.0" stroke="#e2e2e2" stroke-width="0.8"/><line x1="383.1" y1="172.2" x2="383.1" y2="278.0" stroke="#e2e2e2" stroke-width="0.8"/><line x1="411.7" y1="172.2" x2="411.7" y2="278.0" stroke="#e2e2e2" stroke-width="0.8"/><line x1="436.3" y1="172.2" x2="436.3" y2="278.0" stroke="#e2e2e2" stroke-width="0.8"/><line x1="340.9" y1="182.2" x2="446.9" y2="182.2" stroke="#e2e2e2" stroke-width="0.8"/><line x1="340.9" y1="206.2" x2="446.9" y2="206.2" stroke="#e2e2e2" stroke-width="0.8"/><line x1="340.9" y1="230.2" x2="446.9" y2="230.2" stroke="#e2e2e2" stroke-width="0.8"/><line x1="340.9" y1="253.8" x2="446.9" y2="253.8" stroke="#e2e2e2" stroke-width="0.8"/><line x1="340.9" y1="269.6" x2="446.9" y2="269.6" stroke="#e2e2e2" stroke-width="0.8"/><line x1="340.9" y1="272.3" x2="446.9" y2="272.3" stroke="#e2e2e2" stroke-width="0.8"/><clipPath id="cP1"><rect x="37.7" y="43.5" width="105.9" height="106.1"/></clipPath><g clip-path="url(#cP1)"><path d="M79.3 64.7h1M87.8 54.2h1M71.3 60.3h1M53.6 61.7h1M66.2 67.1h1M50.7 64.9h1M81 60.8h1M65.1 61.1h1M61.4 68.2h1M93.3 60.4h1M89.5 60.9h1M82.3 63.5h1M52.5 61.6h1M78.4 61.3h1M99.2 57.7h1M40.6 62.1h1M66.1 60.3h1M42.2 64.7h1M72.5 64.8h1M42.8 60.8h1M87 66.3h1M83.7 62.1h1M73.9 64.4h1M63.7 63.5h1M77.8 55.4h1M82.5 54h1M65.5 58.5h1M51.1 62.8h1M56 71h1M109.7 58.8h1M56 59.6h1M78.3 62.9h1M104.7 64.1h1M62.5 61.4h1M76 61.3h1M82.4 64.9h1M81.1 64.2h1M44 58h1M81.4 61.8h1M103.9 63.1h1M82.7 58.7h1M60.8 66h1M136.7 62.9h1M101.1 62.5h1M44.8 59.8h1M81.4 61.6h1M95.8 54.2h1M73.8 57.6h1M98.9 63.6h1M77.3 53.6h1M98.4 65.5h1M120.6 55.2h1M59.8 65.1h1M85.1 58.7h1M65.9 65.2h1M82.9 62.6h1M45.1 56h1M62.6 67.1h1M73.6 67.9h1M105.1 61.9h1M112.2 61h1M41.2 61.5h1M56.4 58.2h1M139.4 48.7h1M131 78.9h1M131.7 76.1h1M140.1 71.1h1M133.8 66h1M138.8 66.5h1M132 68.1h1M134.5 62.3h1M132.9 61.7h1M130.9 69.5h1M141.8 64.9h1M131.5 56.5h1M129.9 68h1M140.7 64.4h1M133.6 66.3h1M131.7 70h1M126.7 51.1h1M137.8 66.1h1M134.4 59.3h1M131.2 60.2h1M133.9 65.3h1M129.6 62.1h1M140.4 68.7h1M132.3 57.8h1M132.6 65.9h1M132.3 66.5h1M137.3 57.2h1M133.8 55h1M134.6 56.5h1M139.7 82.9h1M137.5 58.7h1M138.7 74.9h1M138.8 90.3h1M136.9 62.2h1M138 53.8h1M138.2 69.2h1M138.6 85.1h1M141.2 58.3h1M129 59.3h1M138.3 63.2h1M138.4 66.5h1M142.8 71.1h1M141.1 72h1M129.4 65.4h1M138.1 71h1M130 67.8h1M138.2 89.4h1M135.7 50.1h1M133.4 47.2h1M134.7 53.2h1M130.7 78.2h1M130.2 49.8h1M136.8 61.2h1M136.3 93.7h1M130.1 71.1h1M131.6 60.1h1M130.1 55.8h1M130.6 68.1h1M131.1 56h1M136 56h1M138.4 80.7h1M134.1 63.5h1M132.5 64.4h1M137.8 65h1M134.1 54.4h1M134.9 52.8h1M139.6 66.6h1M131.5 49.6h1M140.4 64.6h1M130.4 55.3h1M139.5 58.5h1M134.3 47.8h1M138.1 75.4h1M137 83.6h1M135.5 64.5h1M129.9 65.5h1M136.8 56.3h1M139.4 66.8h1M133.9 61.6h1M128.7 50.3h1M142.1 64.5h1M141 79.6h1M132.5 54.9h1M137.9 80.6h1M135.6 63.2h1M134.2 63.7h1M129.8 62.8h1M133.3 59.6h1M133.7 65.4h1M139.8 57.4h1M136 54.5h1M141.3 78.5h1M132.1 51.8h1M140 99.3h1M136.4 86h1M122.9 113h1M118.1 111.6h1M137.4 95.4h1M117.9 94.8h1M142.4 100.7h1M142.8 82.5h1M139.3 104.2h1M111.4 73.1h1M122.9 112.5h1M120.1 100.3h1M139.3 104.5h1M117.5 114.8h1M138.7 95.9h1M142.5 95.7h1M116.3 94.4h1M123.6 115.2h1M141 129.4h1M140.2 122.7h1M140.9 144.9h1M139.7 106.9h1M140.2 121h1M139.6 122.6h1M141.5 135.8h1M140.5 135.2h1M139.8 143.9h1M140.2 111.1h1M140.3 136.8h1M141.1 125.2h1M139.1 121.1h1M139.6 134.4h1M140.1 118.3h1M142.7 105.5h1M141.3 124.4h1M140.4 111.9h1M141.1 121.3h1M142.3 132.6h1M140.3 131.9h1M140.2 146h1M141.6 126.2h1M140.9 111.5h1M141.1 120.1h1M140 118.3h1M142.2 115h1M142 133.3h1M141 121.3h1M141.1 106.6h1M138.7 136.2h1M141 127.2h1M140.3 132.4h1M140.9 129.6h1M141.1 135.4h1M140.2 128.9h1M139 142.1h1M140.8 133.2h1M139.8 132.8h1M140.2 133h1M139.9 112.4h1M140.2 126.6h1M138.4 125.6h1M141.6 130.8h1M140.7 113.4h1M141.5 146.5h1M142.2 129.6h1M140.5 115.1h1M139.7 125.3h1M139.4 127.5h1M140 120.5h1M140.6 129.5h1M138.7 121.4h1M140.8 134.6h1M139.1 120.4h1M140.7 128h1M140.4 139.3h1M140.4 117.3h1M140 123.3h1M139.9 119.2h1M139 137.1h1M140.5 115.8h1M142.1 123.1h1M142.2 128.1h1M141.7 117.6h1M141.1 117.9h1M139.9 123.2h1M141.8 105.2h1M140.4 112.5h1M140.4 123.9h1M140.2 130.1h1M140.6 126.4h1M140.1 108.8h1M140.4 123.3h1M139.5 137.3h1M140.2 134.6h1M142.5 127.6h1M140.4 118.6h1M140.3 135.4h1M141 122.1h1M141.1 115.5h1M139.5 119.6h1M140.3 144.5h1M141.3 130.9h1M140.7 141.3h1M140.6 123.2h1M141.9 138.8h1M139.9 121.8h1M41 78.5h1M105.2 70.9h1M72.6 67.6h1M52.9 97.9h1M50.3 74h1M74.1 70.6h1M96.1 97.1h1M50.3 79.3h1M99.8 113.9h1M53.2 100.9h1M86.4 75.1h1M43.6 108.8h1M40.8 88.4h1M60.5 101.9h1M91.7 71.1h1M44.7 115.8h1M92.4 91.5h1M55.5 86.6h1M114.8 95.1h1M41.4 101.2h1M59.9 89.8h1M45.8 87.7h1M95.4 85.3h1M91.6 81h1M107.3 74.9h1M90.5 89.5h1M101.8 112.5h1M45.6 106.6h1M95.5 85.2h1M75.9 69.7h1M50 99.7h1M93.4 76.3h1M93.2 80.8h1M52.9 72.7h1M67 73h1M59.3 95.4h1M61.1 99.5h1M69.7 86.2h1M49.7 73.1h1M61.9 70.6h1M88.4 95.9h1M72.6 71.7h1M123.1 106.5h1M97.6 73.1h1M95.5 97.7h1M51.7 94.4h1M118.6 102.8h1M58 98.2h1M113.7 92.1h1M87.6 80.5h1M102 69.9h1M96.3 75.5h1M101.7 107.4h1M52.2 109.7h1M106.9 80.9h1M52.2 103.8h1M86 73.6h1M92.6 81.1h1M96.3 103.4h1M50 109.9h1M99.7 110.7h1M120.7 109.7h1M45.9 102h1M60.2 79.5h1M104.4 112.8h1M41.3 75.9h1M96.4 91.8h1M117.9 99h1M69.7 70.6h1M85.1 85.5h1M99.7 95.6h1M69 72.6h1M92.2 70.6h1M71.1 72.6h1M52.8 91.2h1M65.3 86.6h1M105.6 112h1M88.9 90.8h1M97 82.3h1M61.2 70.4h1M40.1 85.6h1M46.1 101.4h1M113.4 109.4h1M50.1 102.6h1M54 85.5h1M73.5 72.6h1M40.9 110.8h1M101.3 99.8h1M49.4 91.2h1M45.1 91.5h1M115.5 99.1h1M52.6 92.9h1M45.1 113.2h1M57.6 86.8h1M96 102.2h1M75.6 70h1M112.5 114.9h1M41.7 105h1M58.1 89.2h1M93.6 97h1M87.8 86.9h1M68.8 78.4h1M55.2 88.3h1M103.5 111.4h1M92.1 100.3h1M121.1 106.7h1M108.2 82.3h1M107.5 70.4h1M107.9 95.1h1M103.3 88.6h1M77.3 70.6h1M95.6 97.4h1M45.9 104.8h1M90 92.8h1M111.2 98.1h1M102.3 89.2h1M91.1 77.2h1M79.5 69.9h1M107.3 110.9h1M76.3 71.5h1M103.6 72.6h1M52.1 82.2h1M99.4 87.9h1M115.9 98.5h1M62.7 84.8h1M103.9 112.6h1M70.9 86h1M42.3 101.1h1M63.9 99.2h1M109 89.5h1M59.3 86.4h1M49.2 89.4h1M114.6 103.6h1M111.5 107.8h1M93 83.1h1M73.5 74h1M90.4 84.7h1M109.9 100.3h1M92.1 70.9h1M48.8 104.1h1M60 81.6h1M74.4 77.7h1M106.3 87.6h1M60.2 71.6h1M50.6 83.7h1M96.7 74.2h1M44 113.4h1M74.6 75.7h1M50.4 98.9h1M94.9 89.1h1M109.3 115.8h1M90.7 78h1M50.5 76h1M116.3 108.9h1M70.1 87.3h1M68.3 90.2h1M109.3 98.5h1M58.5 81.7h1M43.4 81.1h1M101 83.7h1M54.1 108.8h1M104 115.8h1M47.1 84.6h1M46.8 86.3h1M105.4 100.6h1M86.3 75.7h1M113.5 93h1M48.3 78.1h1M46.5 75.8h1M60.5 87h1M73 84.4h1M50.6 106.6h1M94.7 88.2h1M67.4 93.4h1M42.5 110.6h1M67 90.3h1M56.9 85.4h1M114.8 100.1h1M67.7 84.9h1M40.3 107.9h1M68.3 70.2h1M72.3 82.4h1M97.3 77.4h1M92.6 74.3h1M62.1 85.2h1M73.9 69.3h1M69.4 85.5h1M103.4 91.1h1M92.6 89.2h1M113.1 103.9h1M108.6 102.3h1M56.1 101.2h1M66.1 79.1h1M52.3 86.1h1M42 99.1h1M116.7 105h1M53.2 98.3h1M59.8 79.6h1M87.4 74.9h1M95.2 83.4h1M107.1 92.8h1M112.5 103h1M67.9 88h1M93.1 92.1h1M65.4 79.5h1M84.8 68.2h1M86.3 76.3h1M41.3 115.1h1M76.7 68.9h1M59.1 87.1h1M78.3 74.6h1M107.8 105.3h1M117.9 100h1M41.8 77.7h1M92.7 101.4h1M67.5 80.7h1M44.8 87.1h1M106.6 73.9h1M115 108.2h1M66.1 70.9h1M100.1 91.2h1M87.5 91.1h1M89.9 89h1M81.6 74.3h1M70.3 79.5h1M51.7 76.5h1M94 81.9h1M64.6 84.9h1M91.5 100h1M139.6 108.9h1M82.6 78.2h1M61 99.3h1M100.4 80.2h1M101.1 70.8h1M43.3 88.8h1M46.5 114.3h1M40.8 82.5h1M91.2 70.1h1M103.5 83.8h1M75.6 70.6h1M63.8 94.6h1M75.1 76.1h1M44.4 83.4h1M40.7 81h1M54.7 95.9h1M96.9 100.9h1M71.4 85.5h1M64.7 80.8h1M111.1 90.8h1M68.8 83.7h1M99.3 113.5h1M51.7 102.9h1M122.7 108.1h1M93.5 77h1M48.6 88.2h1M113.8 105.2h1M41.7 113.4h1M65.3 80.9h1M116.9 98.2h1M102.1 93.1h1M52.9 107.3h1M45.1 107.4h1M111.1 111.8h1M40.6 77.8h1M74 71.7h1M98.2 80.5h1M93.2 100.6h1M91.1 78.5h1M117.9 107h1M104.6 112.1h1M49.1 92.6h1M116.1 112.1h1M105.7 96.4h1M96.9 111.5h1M43.6 80.8h1M65.1 81.4h1M96.8 98.9h1M105.1 85.6h1M53.1 74.6h1M100 91.1h1M54.9 104h1M91.4 84.6h1M85.6 75.1h1M90.8 77.8h1M56.6 85.3h1M46.6 89.8h1M111.4 98.8h1M105 111.1h1M91.9 105.6h1M41.9 78.2h1M58.2 79.1h1M112.1 104.9h1M79.3 77.3h1M46.7 77.8h1M114.7 94.4h1M93.4 100.9h1M104.2 83.1h1M49.5 76.3h1M96.1 107.2h1M104.1 100h1M56.2 96.5h1M76.5 70h1M53.6 90.2h1M92.3 76.8h1M61.4 86.4h1M97.3 84.3h1M64 75.4h1M40.3 105.5h1M47.1 103h1M83.8 72h1M106.2 70.6h1M58.4 104.6h1M91.3 99.3h1M115.2 96.6h1M60.3 101.2h1M51.9 79.7h1M85.9 72h1M50.9 98.9h1M80 76.6h1M93.5 95.3h1M44.7 103.5h1M93.8 100.7h1M91.5 69.5h1M52.4 108.8h1M116.1 108h1M99.3 95h1M94.4 103h1M49.1 75.2h1M50.5 89.5h1M104.8 85h1M55.4 97.6h1M89.7 83.5h1M107.6 107.8h1M95.8 102.9h1M64.9 95h1M89.8 84.4h1M104.5 104.9h1M112.1 101.4h1M91.9 84.6h1M56.5 104.9h1M68.2 75.4h1M60.2 94.9h1M68.7 78.4h1M50.1 82.5h1M89.5 96.4h1M45.1 80.9h1M57.5 90.3h1M80.1 69.4h1M92.4 77.5h1M95.7 101.1h1M89.4 83.9h1M65.4 81.1h1M45.1 79h1M114.6 105.7h1M62.6 99.7h1M112.5 103h1M94.4 71.8h1M59.5 104.5h1M46.8 85.4h1M48.4 83.1h1M112.1 115.8h1M42.4 99.5h1M116.4 103.7h1M48.6 104.9h1M102.7 79.4h1M41 92.9h1M49.3 103.7h1M49.8 90.9h1M50.2 105.3h1M97.4 78h1M46.4 103h1M69.9 87.4h1M62.9 71.5h1M91.1 82.7h1M92 98.8h1M112.2 107.3h1M67 70.2h1M87.9 74.7h1M42.1 112.2h1M104.2 87h1M54 104.3h1M94.6 75h1M94.5 81.3h1M106.8 73.8h1M103.2 69.6h1M41.4 102h1M119.9 108h1M103.1 108.6h1M107.5 112.6h1M67.4 85.7h1M65.8 75.1h1M58.6 104.3h1M62.9 79.2h1M139.2 104.4h1M86 73.1h1M107 85.7h1M87.7 89.3h1M118.6 101h1M64.3 96.1h1M60.6 96h1M120.8 108.8h1M62.7 79.6h1M67.3 79.3h1M92.8 71.3h1M54.1 86.7h1M97.7 93.8h1M52.4 107.9h1M96.4 100.2h1M56.4 89.8h1M111.7 106.1h1M108.5 108.8h1M57.7 104.2h1M116.3 101h1M43.7 112.1h1M89.1 79.7h1M43.1 105.3h1M60 96.6h1M108.3 102.3h1M65.7 69.4h1M106 112.3h1M112.4 96.5h1M90.2 77.4h1M43.2 85.9h1M108.1 96.9h1M66.3 85.1h1M102.3 107.1h1M100.9 111.5h1M64.9 88.5h1M112.8 106.5h1M104.7 104.1h1M112.9 113.4h1M104.4 111.9h1M46.1 110.8h1M111.2 93.2h1M61.8 70h1M65.3 92.2h1M100.1 110.1h1M63.4 97.4h1M60.6 87.3h1M103.5 97.8h1M72.2 75.1h1M97.3 75.2h1M102.5 80.6h1M92.6 89.2h1M97.8 112.3h1M123.8 109.3h1M50.9 79.9h1M107.4 85.2h1M59.7 70.9h1M45 99.9h1M64 92.2h1M55.7 96.5h1M102.9 98.4h1M42 78.6h1M62.3 82.3h1M96.2 90h1M43.4 79.6h1M52.2 96.1h1M55.5 86.5h1M141 107h1M66 75.8h1M93.8 95.4h1M100 72.4h1M93.2 69.8h1M51.4 72.3h1M70.9 81.7h1M51.4 99.1h1M109 101.8h1M113.8 99.4h1M96.6 103.3h1M48.4 76.8h1M94.4 79.3h1M107.7 88.5h1M107.3 88.2h1M112.8 108.4h1M49.3 90h1M120.9 102h1M83.2 83.1h1M68.4 76.9h1M84.2 74.3h1M40.4 112.9h1M47.6 100.3h1M71.1 76.2h1M41.8 109.5h1M98.2 78h1M61.4 99h1M104.5 82.2h1M97.6 90.7h1M109.8 90.8h1M50.4 104.1h1M108.2 80.8h1M63.4 96.7h1M42.3 97.4h1M139.1 105.2h1M100.2 114h1M48.3 92h1M67.5 79.8h1M64.4 71.4h1M96.8 88.5h1M113.1 98.2h1M107.7 106.5h1M104.7 71.8h1M94.5 71h1M63 97.4h1M66.7 73.6h1M93.2 88.3h1M112.7 94.3h1M103.7 95.3h1M109.4 112.6h1M45.7 76.4h1M81 69.8h1M83.5 77.8h1M62.3 96.8h1M60.4 78.7h1M103.8 91h1M68.1 81.6h1M75.6 76h1M111.2 106.8h1M45.9 109.4h1M86.7 91.5h1M84.1 85h1M80.8 73.4h1M82.7 68.8h1M48.9 88.2h1M109.2 95.7h1M99.6 96.3h1M87.7 84.3h1M64.5 69.5h1M96.6 74.4h1M97 86.9h1M41.6 92.3h1M70.4 86.3h1M50.1 103.2h1M94.6 100.6h1M88.9 76.3h1M46.8 102h1M44.8 109.5h1M88.9 72.3h1M94.3 70.7h1M108.5 98.9h1M72.9 77h1M66 82.6h1M99.9 84.7h1M51.4 94.8h1M114.2 101.5h1M90.2 81.6h1M41 92.9h1M104.4 88.3h1M101.2 78.3h1M92.7 88.4h1M88.2 87.4h1M57.1 88h1M49 88.6h1M51.2 86.1h1M44.3 85.5h1M109 115.8h1M109.2 93.6h1M41.1 79.9h1M101 113.7h1M102.2 80.4h1M63.3 93.9h1M75.3 71.8h1M113.1 100.8h1M65.9 90.2h1M104.6 82h1M51 108.1h1M56.9 90.8h1M97.3 87.5h1M117.6 103.8h1M62.8 97.8h1M42.1 75.5h1M110.9 101.5h1M87.3 93.3h1M100.8 79.5h1M77.1 71.4h1M104.6 93.2h1M45.9 83.7h1M102.6 80.2h1M141.1 106.2h1M43.6 77.5h1M57.4 94.8h1M114.8 96.4h1M81.7 67.1h1M48.6 98.4h1M84.9 70.5h1M103.6 87.5h1M60.9 85.6h1M61.2 78.3h1M63.1 77.1h1M117.1 107.6h1M63 76.5h1M65 73.1h1M59.7 72.1h1M67.7 75.5h1M54.2 99.6h1M139.7 106h1M106.4 85.2h1M122.6 106.4h1M106.8 100.5h1M67.5 78.3h1M57.1 99h1M44.4 114.5h1M118.8 107.4h1M44.3 94.6h1M61.6 94h1M53.5 84.2h1M58.2 78.1h1M109.3 114.3h1M118 99.9h1M58.5 91.7h1M100.2 104h1M104.4 108.5h1M88.9 69.8h1M41.2 98.3h1M73.4 75.2h1M88.5 79h1M139.2 109.3h1M99.5 89.5h1M123.2 107.8h1M89.6 81.3h1M60.3 86.3h1M119.1 102.9h1M95.4 81h1M102.3 72.8h1M49.9 85.9h1M96.6 77.2h1M49.4 87.3h1M49.9 90.5h1M57.2 84.3h1M49.9 103.3h1M98.1 98.5h1M73.1 75h1M116.3 107.3h1M61.1 71.9h1M101.5 104h1M98.9 75.6h1M106.8 100.2h1M58.7 71.2h1M113.2 111.6h1M116.5 92.1h1M104.5 102.8h1M98.4 84.4h1M121.3 107.9h1M91.4 85.1h1M43.9 89.5h1M92.6 71h1M40.1 92.4h1M67.8 93.2h1M105.9 99.8h1M52.7 106.7h1M66.8 69.6h1M49.4 98.5h1M94.9 103.6h1M110.6 100.9h1M103.9 91.7h1M41.9 85.9h1M54.1 100.7h1M78.5 75h1M102.5 83.9h1M100.7 78.7h1M54.1 96.1h1M71 73.7h1M101.8 104.8h1M52.9 93h1M95.3 71.6h1M94.4 79.8h1M49.3 83.4h1M103.4 86.5h1M41.8 109.6h1M64.5 86.9h1M116.3 108.7h1M50.4 99.1h1M64.5 77h1M57 82.7h1M49.5 109.3h1M92.3 74.3h1M81.7 67.6h1M109.9 95.9h1M73.6 67.5h1M94.7 82.4h1M68.6 82.9h1M90.3 79.9h1M57.3 105.7h1M72.1 77.6h1M48 96.9h1M100.3 88.2h1M111.4 101.3h1M52.9 78.9h1M46.7 112.9h1M56 72.5h1M85.7 85.8h1M60.1 70.7h1M106.4 105.9h1M46.5 81.7h1M102 86.8h1M57.3 76.1h1M103.6 97.4h1M58.7 94.2h1M109.2 106.7h1M96.7 80.4h1M54.2 106.4h1M58.3 101.1h1M55.6 71.9h1M105.2 107.6h1M47.8 97h1M77 70.3h1M83 72.8h1M73.9 72.9h1M42.9 114.2h1M60.3 83.6h1M94 97.2h1M104.2 89.1h1M69 86.8h1M101.6 91.9h1M50.7 106.5h1M51.9 91.4h1M64.5 72.1h1M69.7 83.5h1M69.3 87.9h1M100.4 71.7h1M46.6 113.8h1M47.3 88.3h1M53 81h1M60.1 81.9h1M86.7 81.8h1M49 84.3h1M59.4 76.4h1M102.9 79.4h1M65.8 91h1M101.9 88.1h1M113.2 113.8h1M57.3 78.1h1M102.5 86.8h1M111.4 111.7h1M109.9 101h1M43.8 76h1M99 87.4h1M48.5 76.3h1M99.4 86.4h1M90.7 84.1h1M61.9 80.9h1M58.3 89.9h1M51.5 109.7h1M96.4 71h1M73.6 79h1M56 90.3h1M58.8 73.8h1M108.9 89.7h1M91.7 81.8h1M65.2 77.3h1M108.4 101.7h1M80 73.5h1M102.3 76.8h1M47.6 93.2h1M96.5 72.2h1M107.6 84.3h1M107.1 79.2h1M47.7 75.3h1M68.1 74.5h1M60.3 93.5h1M91 93.2h1M112.8 108.9h1M95.3 73.7h1M107.6 101.4h1M73.8 79.2h1M60.2 70.6h1M87.9 95.4h1M92.6 81.9h1M98.4 90.1h1M46.5 105.7h1M99.1 73.1h1M97.5 99.4h1M41.6 109.8h1M65.9 93.9h1M83.9 79.5h1M76.6 74.4h1M50.9 99h1M112.4 111h1M91.3 81.8h1M72.6 76.5h1M105.1 113.4h1M48.7 85.6h1M76.1 70.3h1M101 115.4h1M106.2 76h1M68.4 71.3h1M48.9 92.8h1M98.7 113.5h1M59.3 80.4h1M65.4 74h1M75.2 78.7h1M98.4 99.9h1M55.6 92.8h1M60.5 84.5h1M64 93.3h1M100 82.7h1M55.7 73.7h1M77.1 71.7h1M96.5 76.3h1M53.5 82.6h1M54.1 104.8h1M85.4 73.3h1M99.9 89.2h1M102.3 93.8h1M103.9 76.2h1M61.9 71.9h1M56.4 91.1h1M69.8 89h1M70.5 88.7h1M85.9 68.7h1M70.3 73.1h1M67.4 68.7h1M100.1 103h1M51.2 87.5h1M106.3 102.9h1M65.3 78.9h1M45.4 111.5h1M92.5 81h1M56.5 106.2h1M52.7 81h1M94.1 93.2h1M44.7 93.5h1M96 88.3h1M104 101.4h1M67.6 73.6h1M47.3 79.7h1M52.2 100.4h1M110.7 96.9h1M41.6 82.3h1M98.7 75.3h1M78 69.4h1M68.8 68.5h1M99.4 81.4h1M113.9 110.8h1M98.3 79.2h1M60.7 76.5h1M51.4 78.2h1M63 99.9h1M65.8 68.6h1M83.2 76.3h1M97.1 75.1h1M85 69.8h1M42.1 108.4h1M60 90.4h1M96.2 105.9h1M43 84.4h1M88.7 95.7h1M54.5 93.4h1M111.1 102.9h1M63 88.3h1M70.5 85.6h1M41.4 113.6h1M61.1 80.6h1M41.6 97.5h1M115.1 90.9h1M44.8 91.2h1M64.8 88.2h1M46.8 84.3h1M46.2 113.5h1M90.2 76.8h1M84.8 85.1h1M61.6 80.4h1M46.4 108.5h1M90.1 96.3h1M91.3 81.2h1M63.8 84.1h1M67.9 72.4h1M109.9 111.1h1M71.6 86.6h1M53.1 110.9h1M42.7 101.1h1M63.2 88.8h1M94 108h1M56.7 89.6h1M58.9 73.4h1M90.2 89.1h1M106 109.1h1M89.8 99.9h1M91.5 72.9h1M63.5 70.6h1M92.6 106h1M51.6 80.4h1M52.6 103.2h1M63.2 94.4h1M48.8 87.8h1M99.1 79.2h1M141.2 105.5h1M72.7 75.3h1M46.2 112.1h1M53.1 73h1M47.8 87.7h1M55.7 99h1M68.3 72.4h1M66.2 72.2h1M79.3 68.5h1M43.6 96.2h1M110.1 94.3h1M94.5 96.1h1M65.5 75.2h1M85.8 86.7h1M89.2 78.1h1M74.4 67.7h1M52.9 98.7h1M48 110.5h1M110.9 113.8h1M51.9 94.3h1M87.7 81.8h1M69.5 70.6h1M106.3 76.1h1M98.5 77.4h1M105.7 85.2h1M95.7 86.1h1M48.3 110.1h1M110.9 114.2h1M71.4 80.3h1M53.9 81.5h1M73.3 75.4h1M67.1 81h1M93.1 80.7h1M59.9 96.7h1M102.4 75.7h1M95.3 89h1M63.9 94.5h1M43.4 108.5h1M87 68.2h1M98.3 97.6h1M69.1 73.5h1M72.3 83.9h1M48.2 112.5h1M66.4 93.3h1M46.8 93.9h1M106.2 70.2h1M64.4 81.9h1M111 109.3h1M94.4 86.8h1M57.9 82h1M100.2 101.2h1M75.9 69.6h1M139.3 104.4h1M96.1 101.9h1M94.4 103.4h1M41.6 98h1M94.9 83.5h1M110.1 113.7h1M48.6 112.4h1M104.9 70.8h1M101.7 101.7h1M116.4 109.1h1M70.1 72h1M63.9 78.1h1M99.7 105.1h1M52.4 103.3h1M65.4 79.9h1M57.5 83.7h1M49.5 76.6h1M52.9 79.7h1M98.5 103.1h1M107.5 109.2h1M48.8 81.1h1M43.5 92.3h1M103 78.9h1M45.7 89.4h1M57.2 76h1M54.4 75.5h1M57 87.6h1M64.1 82.8h1M47.7 111.9h1M94.1 85.8h1M102.1 83h1M106.6 87.6h1M93.9 92.4h1M104.2 69.6h1M46.1 114.8h1M65.9 84.1h1M72.9 83.7h1M44.9 82.4h1M96.3 76.6h1M43.8 108.1h1M53 73h1M71.9 83.2h1M57.9 102.5h1M54.3 81.2h1M47.3 98.6h1M114.5 103.6h1M115.8 95.9h1M56.8 105.8h1M101.9 79h1M73.7 78h1M114.7 101.5h1M62.7 86.9h1M41.7 110.9h1M105.3 87.5h1M140.6 108.7h1M102.6 97.4h1M106.9 70.9h1M82.9 77.3h1M96.8 99.8h1M40.9 102.4h1M101.5 94.4h1M57.2 101h1M46 87.8h1M67.4 83.3h1M42.2 76.7h1M85.4 83.3h1M56.3 77.7h1M72.1 77.2h1M111.2 106.5h1M47.3 99.5h1M63.2 83.9h1M108.7 113.2h1M74.9 74.7h1M52.8 99.8h1M75.4 74.7h1M47 104.7h1M142.4 104.9h1M51.7 86.6h1M95.7 99.6h1M71.5 74.2h1M57.2 98.3h1M119.2 109.2h1M74.3 76.1h1M69.9 85.8h1M99.8 112.1h1M64.9 87.2h1M109.2 90.1h1M82 79.5h1M47.2 97.6h1M113.8 96.9h1M105 77.5h1M103.7 93.4h1M103.6 88h1M51.5 85.2h1M50.1 94.4h1M89.1 98.5h1M98.1 94.9h1M117 97.4h1M48.7 112.4h1M50.5 72.9h1M106.9 94.5h1M50.5 83.2h1M41.6 97.6h1M52.9 91.4h1M140.3 109.2h1M46.6 98.4h1M61 82.9h1M64.1 87.5h1M89.8 100.8h1M107.8 74.9h1M54 108.8h1M93.8 90.5h1M48.3 111.6h1M47.7 100.2h1M104 107.5h1M41.1 81.3h1M97.4 85.7h1M105.7 98.9h1M44.6 107.4h1M57.9 83h1M92.6 71.8h1M83.4 83.9h1M48.8 96.4h1M86.2 74.2h1M42.6 110.2h1M81.9 70.8h1M69.6 79h1M44.5 82.8h1M57.3 76.9h1M42.2 75.2h1M70.3 74.5h1M101.2 110.2h1M120.5 105.8h1M105.1 106.4h1M93.6 103.2h1M44.2 82.9h1M105.7 70.4h1M64.5 82.7h1M46.6 112.5h1M74.6 80.7h1M40.6 112.8h1M83.6 70.9h1M88.6 74.8h1M111.5 92.6h1M64.5 76.6h1M83 80.1h1M109.5 111.1h1M103.7 74.3h1M44.7 77.3h1M103.3 109h1M46.3 98h1M47.4 106.2h1M110.5 108.4h1M117.3 92.7h1M100.9 76.3h1M68.5 76.2h1M46.7 82.2h1M101.4 104.6h1M103.1 108.4h1M64.2 97.2h1M110 104.1h1M49.7 102.7h1M50.5 77.8h1M106.4 72.2h1M93.5 101.9h1M73.4 69.4h1M69.7 79.7h1M58.1 86.5h1M109 113.8h1M111.1 105h1M117.6 109.9h1M81.1 72.9h1M92.7 103.7h1M84.7 84.6h1M53.8 108h1M40.5 89.6h1M74.1 78.8h1M70.8 87.2h1M90.8 92.5h1M115.3 107.6h1M84.9 78h1M74.1 77.7h1M95.2 69.6h1M95.7 86.8h1M40.7 80h1M46.6 95.1h1M81.3 76.9h1M95.6 107.4h1M64.6 73.2h1M54.3 97h1M47.1 92.6h1M84.3 78.4h1M92.8 73.8h1M61.1 73.5h1M104.6 94.1h1M55.7 70.6h1M54.8 88.7h1M44.5 100.2h1M50.1 105.9h1M102.8 75.8h1M93.7 94.1h1M67.8 87.1h1M120.6 109.5h1M88.3 75.3h1M100.9 113.4h1M61.7 91.3h1M69.9 82h1M72.5 76.3h1M44 103.8h1M41.3 94.9h1M99.5 90.2h1M89.9 70.2h1M114.3 98.6h1M53.2 98.6h1M43.1 82.5h1M74.8 68.9h1M50 76.4h1M42.6 84.7h1M116.7 99.3h1M102 89.6h1M102.9 103.5h1M68.5 80.6h1M57.6 93.6h1M139.3 105.7h1M57.1 72.2h1M68.9 74.5h1M54.6 102.8h1M100.7 73.2h1M86.6 80.6h1M90.2 81.6h1M72.9 74.1h1M69 86.8h1M52.1 77.7h1M95 84.7h1M109.3 103.5h1M67.2 78.2h1M104.1 86.8h1M95.5 83.7h1M51.9 74.1h1M48.6 82.3h1M55.9 71.5h1M116.8 97.4h1M40.2 95.6h1M59.5 80.9h1M60.9 85h1M106.3 103.6h1M64.6 86.4h1M91.5 94.4h1M66.2 93h1M89.2 87h1M51.5 80.7h1M41.6 102.2h1M42.6 87.6h1M46 76h1M55.2 99.2h1M91.8 88.9h1M81.3 66.7h1M108.7 94.6h1M108.4 90.7h1M87.9 88.7h1M108.7 114.4h1M114.4 100.9h1M88.5 69.2h1M52.8 107.6h1M58.6 100.6h1M56.4 104h1M44 103.1h1M55.3 80.3h1M109.1 112.9h1M42.4 95.8h1M104.6 93h1M61.5 87.9h1M70 72.6h1M117 110.8h1M93.8 78h1M67.8 76.1h1M102.9 104.1h1M91.4 76.5h1M57.4 98.7h1M48.8 104.5h1M92.8 90.6h1M59 84.5h1M104.3 92h1M57.8 104.2h1M58.2 100.5h1M104.3 94.7h1M114.8 95.7h1M46.9 77.8h1M104.9 72.8h1M98.6 96.7h1M86.7 81.9h1M56.4 83h1M92.4 100h1M63.9 93.3h1M45.9 73.8h1M117.1 100h1M54.2 72.1h1M108.6 116h1M50.6 104.7h1M87.2 78.7h1M52.8 71.7h1M111 101.7h1M65 81.6h1M95.8 93.2h1M106.7 110.8h1M64.1 75.5h1M49.3 76.2h1M56.8 88.2h1M107.3 89.7h1M104.7 114h1M105.6 70.8h1M103.8 108.7h1M83.4 76h1M107.7 101.8h1M101.3 76.7h1M43.1 94.4h1M45.4 101.6h1M84.2 85.7h1M89.6 83.8h1M79.7 72.3h1M81.6 71.8h1M59.1 93h1M113.9 102.1h1M108.9 99.9h1M40.9 77.2h1M74.5 79.1h1M103.1 79.9h1M101.5 101.1h1M111.7 115.3h1M107.1 71.7h1M56.8 104.8h1M101.4 102.8h1M97 83.9h1M109.7 104.3h1M98.1 96.7h1M117 91.7h1M92.6 96.7h1M54.3 77h1M58 93h1M108.6 101.6h1M61.4 82.9h1M54.9 98.9h1M83.1 79.9h1M72.9 77h1M113.4 111.9h1M100.2 111.5h1M85.5 88.4h1M65.1 90.4h1M89.3 92.5h1M60.1 98.4h1M65.9 94.8h1M98.6 103.7h1M91.5 79.4h1M117.9 106h1M104.7 108.1h1M106.8 104.6h1M117.7 108.7h1M118 104.3h1M114.9 95.3h1M107.4 102.2h1M94.5 99.2h1M63 93h1M104.4 94.7h1M66.4 72.6h1M107.1 71.9h1M56.2 100h1M70.3 85.7h1M98 81.4h1M97.7 83.9h1M43.9 109.4h1M48.1 100.1h1M50.2 81.5h1M40.6 109.4h1M60.8 76.9h1M62.2 100h1M93 86h1M63.7 88h1M50.8 87.2h1M50.4 93.9h1M72 76.8h1M68.1 68.9h1M111.7 107h1M98.7 83.4h1M54.3 98.8h1M109.2 105.3h1M49.7 101.7h1M45.8 97.9h1M96.9 102h1M49.6 111.7h1M113.6 99.3h1M106.3 77.3h1M78.7 73.4h1M52.3 103.5h1M53.4 96.8h1M48.2 76.6h1M107 101.1h1M101 82.5h1M61 98.7h1M102.7 113.7h1M59.9 97h1M93.9 75.3h1M106 88.9h1M42.7 74.3h1M103.8 113.6h1M88.3 78.9h1M58.1 79.8h1M53.4 102.1h1M68.6 86.3h1M68.2 85.3h1M71.3 83.9h1M49.6 72.2h1M48.1 76.8h1M52.3 94.5h1M92 88.1h1M99.7 114.3h1M65 74h1M105.7 97.5h1M120.2 108.1h1M42.7 103.9h1M99.4 72.3h1M60.8 75.1h1M103.3 96.6h1M106.6 73.1h1M61.3 77.5h1M93 82h1M112.6 103.9h1M50.5 94.7h1M100.9 114.8h1M61.3 101h1M105.2 78.2h1M90.7 80.6h1M103.1 111.9h1M89.7 98.3h1M114.2 95.9h1M41.5 111.9h1M98.2 97h1M69.5 70.7h1M106.6 109h1M107.7 106.9h1M74.1 67.8h1M82 74.7h1M71.3 78.2h1M58.5 100.6h1M101.3 107.4h1M52.8 81.9h1M111.4 94.6h1M65.4 94h1M107.1 87.8h1M62.4 81.7h1M118 102.1h1M44.5 78h1M97.9 100h1M58.6 86.7h1M97.7 73h1M44 102.5h1M106.6 99.4h1M93.7 96.9h1M51.6 109.4h1M92 92.1h1M115.4 90.6h1M105.2 77.2h1M47.3 99.7h1M107 79.6h1M102.2 114.9h1M58.3 101.7h1M60.7 70.4h1M97.2 89.6h1M60.1 100.4h1M67.3 80.8h1M120.1 100.3h1M114.5 112.3h1M97.2 80.2h1M43.4 102.3h1M115 97.2h1M47.7 94.4h1M112.9 91.4h1M97.6 77h1M95.6 108.8h1M109.5 107.9h1M43.6 114.7h1M77.4 74.7h1M108.7 112.1h1M100.7 70.6h1M117.1 99.7h1M91.8 88.2h1M61.3 80.6h1M49.6 79.7h1M107 93.8h1M98.2 92.7h1M67.1 94.1h1M111.9 98.6h1M108.6 94.1h1M110.2 112.2h1M105.2 92.4h1M110.6 113.5h1M48.2 106.9h1M45.1 104.1h1M55.6 93.3h1M119.8 109.1h1M84.9 81.7h1M61.5 82.7h1M86.6 90.9h1M101.3 108.2h1M40.9 106h1M106.3 80.6h1M100.1 99.4h1M59.6 93.4h1M83.7 67.7h1M93.9 89.4h1M49.3 99.3h1M100.2 92.9h1M120.2 102.6h1M55.2 72.8h1M91 75.1h1M97 99.8h1M90 69.6h1M44.9 113.4h1M50.7 97.4h1M41.1 89.8h1M66.3 88.4h1M96.6 87.3h1M117.8 106h1M91.3 79.8h1M100.9 97.9h1M51.2 76.5h1M108.9 109.1h1M112.6 95.3h1M112.8 106.3h1M97.5 99.3h1M60 74.3h1M55 100.2h1M95.7 74.8h1M52 103.6h1M45.4 112.9h1M59 102.3h1M99.5 95h1M97.2 112.3h1M97.3 107.4h1M62.4 97.6h1M57.2 83.8h1M41.2 110.2h1M139.6 109.7h1M96.5 98.8h1M61 100.9h1M101.9 115.8h1M54.3 95.9h1M56.4 100.3h1M71 68.5h1M100.7 73.7h1M48.2 98.4h1M94.9 78.7h1M56.9 83.8h1M69.5 84h1M91.5 80.8h1M60.1 81.7h1M94.4 86.1h1M44.7 73.5h1M45 75.3h1M92 90.2h1M62.2 94.5h1M46.9 81.2h1M57.5 77.4h1M72.6 84.7h1M89.6 74.5h1M62.6 77.1h1M98.3 81.3h1M41.7 109.4h1M45.3 86.8h1M44.6 90.5h1M104.6 85.4h1M62.6 100.8h1M100.4 83.6h1M103.1 108.3h1M92.8 85.6h1M103.1 91.5h1M50.1 111.4h1M52.7 103.4h1M93.6 107.3h1M88.2 78.6h1M119 107.6h1M112.5 112.9h1M69.6 80.7h1M45.4 79.2h1M97.1 75.7h1M48.6 78.9h1M51.4 107.2h1M109.3 89.8h1M40.6 106.9h1M105.4 83.1h1M99.4 70.3h1M112.3 101h1M108.7 96h1M108.3 102.8h1M105.9 72.5h1M61.7 91.8h1M42.5 95.3h1M108.2 94h1M115.2 100h1M53.1 106.7h1M97.5 105.5h1M68.8 76.4h1M49.5 92.7h1M46.8 106h1M73.8 81.4h1M101.2 115.1h1M69 77.5h1M43.1 81.5h1M109.8 103.6h1M111.2 98.9h1M73.7 71.9h1M82.1 76h1M103 91.5h1M106.4 70.8h1M99.4 113.5h1M99.9 77.3h1M80.6 74.7h1M79.9 71.4h1M50.2 72.3h1M92.2 82.3h1M58.4 103.2h1M102.7 107.2h1M56.5 97.3h1M67 91h1M98.5 112.2h1M104 83.8h1M67.9 91.5h1M104.7 82h1M97.7 88.4h1M108.3 87.3h1M98.4 75.6h1M50.2 86.5h1M67.5 73.8h1M51 83.7h1M98.1 69.8h1M46.5 109.4h1M50.8 101.8h1M104.4 77h1M61.6 69.6h1M106.3 71.6h1M97 79h1M43.3 99.2h1M65.1 78.6h1M77.5 78.2h1M48.4 108h1M55.5 99h1M97.4 78.3h1M115.6 99.3h1M63.1 78.9h1M60.9 100.3h1" stroke="#111" stroke-width="1.0" fill="none"/><path d="M132.7 155.3l-1.4 .1-1-.5-1-1.1-.6-.9-.5-1.4-.2-1.4-.4-1.1-.8-1.4 0-1.1-.3-1.4-.1-1.2-.2-1.4 .2-1.6-.2-1.4-.1-1.4-.1-1.2 0-1.3-.1-1.3 0-1.4-.1-1.4-.1-1.3-.2-1.3-.2-1.3-.4-1.1-.2-1.1 .5-1.3 .5-1.1 .2-1.1 .2-1.2 0-1.2 .3-1.2 .2-1.3-.4-1.5-.1-1.1 0-1.3-.5-1.4-.3-1.2-.5-1-.7-1.2-.5-1.2-.8-1.1-.6-1.5-.4-1-.6-1.2-.6-1.3-.5-1.3-.6-1.1-.2-1.3-.6-1.2-.5-1.2-.5-1.3-.3-1.4-.4-1.3-.4-1.4-.2-1.1-.6-1.5 0-1.5-.2-1.3-.2-1.2-.1-1.4-.2-1.3-.1-1.2-.2-1.3-.1-1.3-.3-1.6-.2-1.2-.1-1.2 0-1.3-.2-1.5-.4-1.2 .1-1.3 0-1.3-.2-1.4 .1-1.2 .1-1.4 .4-1 .2-1.2 .5-1 .9-1.3 1-.5 1.1-.2 1.3-.4 1.3-.3 1.3-.1 1.4 .2 1.4 .3 .9 .7 .9 .9 .7 1.1 .4 1.2 .7 1.3 .3 1.4 .5 1.5 0 1.2 .5 1.4 .2 1.2 .2 1.1 .1 1.3 0 1.4 .5 1.2-.1 1.3-.2 1.1-.2 1.4-.3 1.4 0 1.4 .6 1 1 .6 .7-1.1 .2-1.4 0-1.2-.1-1.4 .1-1.3-.1-1.3 .4-1.5 0-1.2 .2-1.4 .3-1.3 .2-1.2 .8-1.2 1.4 .3 .7 1.1 .4 1.3 .3 1.5 .2 1.4-.1 1.2 .1 1.4 .2 1.4 0 1.3-.2 1.4-.1 1.3-.1 1.4-.3 1.1-.2 1.4-.4 1.3-.5 1.3 0 1.2 0 1.4-.2 1.5 .5 1 .4 1.4 .1 1.4 .3 1.2 .3 1.6 .4 1.4 .7 1.4 .2 1.5 .4 1.3 .3 1.2 .2 1.5 0 1.5 .2 1.3 .1 1.2 .3 1.3 0 1.4-.2 1.5 .1 1.5-.3 1.5-.1 1.2-.1 1.4-.2 1.4-.3 1.2 0 1.3-.1 1.3-.2 1.2-.1 1.3 .1 1.4-.1 1.4-.1 1.4 .1 1.2-.3 1.5 .2 1.6 .1 1.4-.2 1.3 0 1.3 .1 1.4-.1 1.3-.2 1.4-.3 1.4-.1 1.2-.3 1.2 0 1.2-.4 1.1-.4 1.3-.6 1.5-.7 1.1-.6 1-1 .9-.5 .2M81.6 135.5l-1.6 0-1.2 0-1.2 .1-1.4 .2-1.1-.1-1.4-.3-1.1 .1-1.3 .2-1.5 .1-1.1-.3-1.4-.1-1.4 .2-1.2 .1-1.4-.3-1.3-.1-1.3-.2-1.1 .2-1.4 .2-1.6-.3-1.2-.1-1.2 0-1.4-.1-1.2 .1-1.5-.4-1.4-.1-1.4-.2-1.4 .1-1.1-.2-1.3 0-1-.4-1.4-.6-1.1-.5-1.3-.6-1.1-.5-1-.7-.9-1.1-1-.9-.5-1.5-.3-1.5 .3-1.2 .4-1.7 .9-.9 1.1-.8 1-.8 1-.7 1.1-.6 1-.6 1-.9 .7-.9 1-.6 1.2-.7 1.4-.4 1.3-.8 1.4-.6 1-.8 1.2-.7 .9-.6 1-.6 1.2-.9 1-.6 1.1-1 1-.7 1-1.1 1-.9 .7-.9 .8-.8 .9-1.1 .7-1.2 .6-1 .8-1.1 .8-1.3 .6-1.1 .9-1.3 .8-1.3 .7-1.1 .5-1 .7-.9 .8-1.4 .4-1.1 .9-.8 .7-1 .5-1 .7-1 .8-.8 .7-1.1 .6-.9 1-1.3 .5-1.1 1.1-1 1.1-.7 .9-.7 1.1 .5 1 .7 .8 1 .5 1.1 .1 1.1 .4 1.1 .5 1.3 .3 1.3 .5 1.1 .6 1 .5 1.1 .3 1.2 .3 1.1 .7 1 .2 1.2 .4 1.1 .5 1.1 .6 1.1 .3 1.2 .4 1.1 .6 1.1 .3 1.4 .3 1 .7 1.4 .3 1.3 .6 1.3 .9 1.1 .7 1 .9 .9 1 1 .9 .9 .9 .9 1 .5 .7 .9 .9 .8 1.2 .7 .9 .8 1 .8 1.1 .4 1.3 .7 1.6 .2 1.2 .2 1.3 .6 1.4 .2 1.5 .1 1.3 .3 1.2 .8 1.4 .1 1.1 .7 1 .7 .9 .7 1.4 .6 .9 .7 .8 1 0 1.2-1.1 1.1-1.1 .5-1.1 1-1 .8-.9 .7-1.4 1-1.1 .5-1.4 .3-1.6 .2-1.2 .2-1.4 0-1.5 .2-1.3 .2-1.4 .2-1.4 .4-1.2 .3-1.4 .1-1.3 .1-1.1 0-1.4 .3-1.2 .3-1.4 .1-1.3 .2-1.3 .1-1.2-.1-1.5 .3-1 .3-1.4-.1-1.5 .1-1.3-.1-1.3-.1-1.2 .1M132.7 152.6l-1.4 .1-1.3-.8-.7-1-.6-1-.2-1.1-.3-1.3-.3-1.4-.4-1.3-.5-1.2-.2-1.4 .1-1.5-.1-1.3 .1-1.5-.3-1.5 0-1.3 .1-1.3-.1-1.4 0-1.2 0-1.5-.2-1.4 0-1.3-.1-1.2 0-1.4 .1-1.2 .2-1.6 .4-1.1 0-1.4 .1-1.3 .3-1.3 .3-1.1-.2-1.5-.3-1.3-.2-1.4-.5-1-.4-1.1-.7-1.4-.7-1-.7-1.5-.7-.9-.4-1.2-.6-1.2-.5-1.1-.4-1.1-.5-1-.5-1.3-.3-1.3-.6-1.2-.3-1.4-.6-1.3-.3-1.4-.2-1.1-.2-1.2-.4-1.2-.3-1.3-.1-1.2-.3-1.5 0-1.3 0-1.3-.4-1.1-.5-1.4-.2-1.6-.6-1.3-.1-1.4-.1-1.2-.2-1.3-.2-1.3 0-1.4-.3-1.3-.1-1.1-.2-1.4 .1-1.5 .1-1.3 .4-1.3 .8-1.3 .8-1.2 1.1-1 1.4-.4 1.4-.4 1.4 0 1.4 .3 1.3 .4 1 .8 1 1.1 .6 .9 .5 1.3 .5 1.2 .4 1.3 .3 1.1 .4 1.2-.1 1.4 .3 1.2 .3 1.4 .3 1.3-.2 1.3-.2 1.4 0 1.2-.1 1.4-.7 1.3-.2 1.2 0 1.6 .4 1.2 .9 .8 .5 1.1 .9 1 .4 1 1 1.2 .4 1.1 0 1.2 .7 1.3 .5 1.2 .4 1.2 .5 1.3 .3 1.4 .5 1.1 .1 1.1 .4 1.5 .3 1.5 .5 1 .1 1.3 .1 1.6 .2 1.4 .2 1.3 .4 1.3 0 1.5 0 1.2-.2 1.4-.1 1.4 0 1.2-.2 1.4 0 1.3-.1 1.2-.1 1.5-.1 1.3 .1 1.3 0 1.3-.1 1.3 .1 1.5 .1 1.4 0 1.2 0 1.2-.1 1.2-.1 1.4 .1 1.3-.2 1.4-.1 1.5 .1 1.4-.3 1.5-.2 1.5-.2 1.1-.1 1.4-.2 1.1-.2 1.1-.4 1.4-.5 1.3-.6 1-1 1.2-.6 .2M134.6 77.2l-.4-1.4 .1-1.4 .8 1.1-.4 1.3 0 .4M83.6 135.1l-1.5 .2-1.1 0-1.5 .1-1.4-.1-1.1 0-1.2 0-1.3 .2-1.5 0-1.3-.1-1.3-.1-1.3 .1-1.3-.2-1.3-.2-1.3 .1-1.3-.1-1.5-.1-1.3 0-1.4 0-1.3 0-1.3-.4-1.6 .1-1.5 0-1.5-.1-1.2-.3-1.2 .1-1.3 0-1.3-.1-1.3-.4-1.4-.4-1.3-.2-1.1-.6-1-1.1-1.1-.9-1-.8-.7-1.1-.6-1.1-.4-1.2 .2-1.3 .6-1.1 .9-1.2 .9-.9 1-1 1-.7 .8-1.1 1-.7 1.1-1 .8-.8 1.1-.3 1.2-.3 1.3-.4 1-.7 1.2-.7 1.2-.6 1.5-.6 1.2-.2 .9-.6 1.1-.8 1.2-1.1 1-.6 .9-.7 .8-1 .9-.8 .9-.8 .9-.8 .6-1 .8-1.2 .6-1.1 .6-1.1 .8-1 .7-.9 .5-1.5 .8-.9 .7-1.2 .7-1.3 .7-1.3 .6-1.5 .7-1 .6-1.1 .4-1 .5-1.2 1-1.3 .9-.7 1.2-.8 1.1-.5 .8 .7 .8 1.3 .8 1.3 .2 1.4 .6 1.2 .5 1 .3 1.3 .4 1.1 .8 1 .3 1.3 .4 1.4 .6 1.3 .3 1.5 .6 .9 .5 1.1 .4 1.4 .6 1.5 .4 1.2 .4 1.3 .7 1.4 .7 1.1 .8 .9 .9 .9 .7 1 1 .8 .9 1.1 1.2 .5 1.2 1.1 1.3 .9 1 .6 1.4 .9 1.1 .6 1.4 .3 1.2 .3 1.5 .4 1.3 .1 1.3 .3 1.3 .3 1.3 .2 1.4 .1 1.4 .3 1.3 .4 1.1 .5 1.3 .7 1.1 .9 .5 1.2 .2 1.4-.7 1-1.1 .9-1.2 1.1-1.4 .7-1.2 .3-1.1 .1-1.3 .3-1.7 .3-1.2 .3-1.3 .2-1.4 .3-1.2 .2-1.2 .3-1.2 .4-1.2 .3-1 .4-1.4 .3-1.2 0-1.2 .1-1.4 .2-1.4 .3-1.3 .4-1.3-.1-1.6 0-1.2 0-1.3 .3-1.4 .2-1.1-.2-.1 0M132.1 150.1l-1.2 0-.9-.7-.7-1.2-.6-1.1-.4-1.4-.2-1.5-.1-1.4-.4-1.2-.3-1.2 .2-1.3-.2-1.3-.1-1.3 .1-1.3 0-1.4-.3-1.6 0-1.2 0-1.5 0-1.5 0-1.2 .1-1.4 0-1.3 .2-1.4 .4-1.3 .2-1.5 .1-1.2 .3-1.3 .3-1.3-.1-1.4-.2-1.2 0-1.1-.3-1.3-.2-1.2-.7-1.3-.6-1-.7-1.5-.8-.8-.3-1.2-.8-1.2-.7-1.4-.7-1.3-.1-1.2-.5-1-.8-1.2-.3-1.3-.6-.9-.4-1.5-.2-1.4-.3-1.2-.2-1.4-.3-1.1-.1-1.3-.2-1.6-.2-1.4 .1-1.3 0-1.4-.7-1.4-.6-1-.5-1.3-.3-1.1-.3-1.3-.4-1.3-.3-1.4-.2-1.2-.2-1.2-.2-1.3-.2-1.1-.1-1.1-.1-1.4 .3-1.4 .1-1.2 .4-1.2 .4-1.1 .6-.9 1.2-1.1 1.3-.3 1.3-.4 1.4-.1 1.4 .1 1.1 .6 1.2 .5 .7 1 1 1.2 .3 1.2 .4 1.3 .5 1.3 .1 1.4 .5 1.2 .1 1.3 .3 1.4-.1 1.3 .2 1.3 0 1.4-.3 1.2-.1 1.5-.7 1.2-.8 1.2-.2 1.4 .1 1.4 .8 1.2 .6 1 .7 1.5 .9 1.1 .8 1 .5 1.2 .6 1.5 .7 1.2 .4 1.2 .3 1.4 .5 1.4 .7 1.3 .2 1.4 .2 1.1 .3 1.4 .2 1.4 .2 1.3 .4 1.3 0 1.5 .3 1.4 .1 1.2 .1 1.4-.1 1.2 0 1.2-.1 1.6 0 1.1 .2 1.4-.1 1.5 0 1.2 .1 1.3 0 1.4 0 1.3 0 1.2 .2 1.2 0 1.5-.1 1.5 .3 1.2-.2 1.2-.2 1.4 .2 1.3-.2 1.4 0 1.2 0 1.4-.4 1.6 .1 1.4-.2 1.2 .1 1.3-.2 1-.4 1.2-.6 1.5-.3 1.1-.8 1.2-1.1 .8-.5 .1M85.4 134.8l-1.3-.1-1.3 .1-1.6 0-1.5 .1-1.4 0-1.3 0-1.2 .1-1.5-.1-1.5-.1-1.1 .1-1.4 .2-1.3-.1-1.3-.1-1.3-.2-1.3 0-1.3 0-1.3 0-1.4-.2-1.4 .1-1.4-.2-1.4-.1-1.3-.2-1.6 0-1.3-.1-1.3-.1-1-.3-1.2-.3-1.4-.2-1.2-.1-1.6-.5-1.1-.9-1-.8-.9-1.1-.7-1.4-.4-1.1-.1-1.4 .3-1.4 .8-1.2 1-1.2 .8-1.2 .9-.7 .9-.8 1-.6 1.4-.7 1.2-.5 1.3-.4 1.3-.6 1.2-.3 1.2-.4 1.2-.7 1.3-.2 1.5-.6 1.2-.3 1.2-.8 1.1-.5 1.3-.6 1-.5 .8-.7 1.1-.7 .8-.8 .7-.9 .9-1.2 .8-1 .4-1.3 .8-1.2 .3-1.4 .8-1.2 .3-1.2 .5-1.2 .4-1 .2-1.4 .4-1.2 .4-1.2 .7-1.3 .5-1.3 .6-1.2 .5-1.1 1.1-.9 1.2 .9 .6 1 .6 1.1 .1 1.1 .5 1.2 .5 1.5 .4 1.3 .3 1.2 .3 1.2 .5 1.3 .4 1.5 .5 1.3 .3 1.4 .3 1.3 .2 1.2 .5 1.4 .5 1.3 .7 1.4 .7 .9 .9 1.2 .9 1.1 1.1 1 .9 .7 .9 .8 1.1 .5 1.1 .7 1.4 .7 1.3 .4 1.1 .5 1.1 .2 1.5 .5 1.3 .6 1.3 .3 1.2 .2 1.5 0 1.1 .4 1.4 .2 1.3 .2 1.4 .1 1.3 .2 1.5 .3 1.4 .3 1.1 .6 .9 .9 .9 1.1-.5 1.3-.8 .8-1 1.1-1.1 .4-1.5 .4-1.3 .2-1.4 .1-1.3 0-1.4 .5-1.2 .2-1.3 .3-1.3 .4-1.5 .7-1.1 .4-1.3 .1-1.1 .5-1.2 .4-1.4 .5-1.2 0-1.5 .4-1.3 .3-1.5-.1-1.2 0-1.2 0-1.3 .3-.5 .2M132.3 148.2l-1.1-.4-1-.8-.7-.9-.5-1.3-.3-1.2-.5-1.4-.2-1.4-.1-1.2-.1-1.3-.1-1.5 0-1.4 0-1.4-.1-1.2-.1-1.3 .1-1.4 0-1.2 .1-1.4-.1-1.3 .2-1.3 .2-1.2 .1-1.3 .3-1.5 .2-1.2 .2-1.4 .2-1.4 .3-1.4 .1-1.3 .2-1.2-.1-1.4-.3-1.3-.4-1-.6-.9-.4-1.2-.6-1-.6-1.1-.7-1-.8-.8-.5-1-.5-1.4-.5-1.2-.5-1.2-.6-1.1-.4-1.1-.4-1.3-.5-1.2-.3-1.4-.4-1.5-.4-1.4-.2-1.3-.2-1.3 0-1.3 .1-1.5 .2-1.1-.2-1.3-.5-1.5-.8-.9-.4-1.1-.9-1.1-.2-1.1-.6-1.2-.4-1.3-.3-1.3-.1-1.3-.1-1.3-.3-1.5-.4-1.1-.1-1.3 0-1.3 0-1.4 .5-1.2 .5-1.4 .7-.9 1.2-.8 1.1-.4 1.1-.3 1.5-.2 1.3 0 1.2 .7 .8 .7 .9 1 .9 1 .4 1.3 .4 1.4 .5 1 .2 1.4 .3 1.4 .1 1.3 0 1.5 .2 1.2 .1 1.2-.2 1.5-.3 1.5-.4 1.3-.9 1.3-.9 .9-.7 1.4 .3 1.3 .7 1.2 .7 .9 .8 1 .8 1.1 .7 1 .5 1.4 .9 1.3 .5 1.2 .6 1.4 .5 1.2 .3 1.2 .6 1.3 .3 1.2 .3 1.3 .1 1.4 .5 1.3 .4 1.2 .1 1.5 0 1.3 0 1.2 .2 1.1 .1 1.5 0 1.5 0 1.3 .1 1.4 0 1.4 .1 1.2 .2 1.2-.1 1.1 .4 1.3-.1 1.2 0 1.6 .1 1.2 .2 1.3 .1 1.4 0 1.2 0 1.4 0 1.3-.2 1.4 .2 1.4-.2 1.5 0 1.4-.2 1.4 0 1.3-.1 1.5-.2 1.6-.2 1.5-.3 1.1-.4 1.2-.7 1.4-1 1-.5 .3M78.6 134.6l-1.3-.2-1.1 .1-1.4 .1-1.4 0-1.2 .2-1.4-.1-1.2-.2-1.1 0-1.3 .1-1.3 0-1.4-.3-1.1 0-1.5 .2-1.3 0-1.4-.2-1.2-.2-1.3-.4-1.4-.1-1.4 .1-1.1-.3-1.5-.2-1.4-.5-1.2-.1-1.2-.6-1.4-.5-1.1-.7-.9-.8-.5-1.4-.7-1.3-.1-1.4 .5-1.4 .7-1.3 .8-.9 .7-.9 1-.7 1-.6 1.2-.7 1.4-.6 1.4-.3 1.2-.4 1.5-.3 1.3-.5 1.2-.4 1.2-.3 1.2-.3 1.1-.3 1.3-.2 1.3-.5 1.4-.4 1.3-.2 1.2-.5 1-.4 1-.5 .7-1.1 .6-1.6 .7-1.4 .5-1.2 .3-1.5 .4-1.1 .4-1.2 .4-1.4 .3-1.3 .6-1 .4-1.1 .1-1.2 .4-1.2 .5-1.3 .5-1.2 .7-1.2 .9-.7 .7 1 .6 1.1 .3 1.2 .4 1.3 .1 1.3 .4 1.1 .4 1.3 .3 1.4 .2 1.1 .4 1.4 .4 1.5 .3 1.3 .2 1.3 .4 1.2 .4 1.3 .1 1.1 .4 1.3 .6 1.1 .5 1.2 1.3 .8 1.1 .8 1.4 .3 1 .4 1.3 .5 1.3 .4 1.2 .3 1.2 .3 1.3 .5 1.1 .2 1.5 .5 1.3 .5 1.1 .2 1.2 .1 1.5 .3 1.4 .1 1.1 .3 1.1 .1 1.4 .2 1.1 .2 1.4 .2 1.2 .2 1.5 .4 .9 .6 .6 1.2-.5 1.3-1 .7-1.2 .7-1.3 0-1.5 .2-1.2 .1-1.4 .1-1.3 .2-1.1 .5-1.2 .4-1.1 .4-1 .5-1.3 .2-1.3 .7-1.3 .4-1.3 .5-1.4 .5-1.2 .2-1.2 .3-1.5 .3-1.3 .1-1.4-.1-1.3 .3-1.3 .1-1.3 .3-1.5 0-1.2 .2-1.5-.1-1-.1M123 79.9l-1.4 .5-1.2-.6-1-.7-.8-.9-.7-1.1-.5-1.4-.6-1.2-.3-1.2-.1-1.1-.3-1.2-.5-1.2-.2-1.4 .1-1.2-.2-1.4-.3-1.1 .3-1.1 .3-1.4 .1-1.2 .9-1 1.2-.9 1.1-.3 1.4-.4 1.4 0 1.3 .3 1.2 .4 .9 1.1 .8 1.2 .7 1.4 .3 1.2 .2 1.1 .2 1.4 .3 1.2 .2 1.2 .4 1.3 0 1.2 .1 1.1-.3 1.5-.5 1.4-.5 1.4-.9 .8-.8 .9-1.2 .9-1.2 .4M132.1 110.3l-1-.6-.6-1.1-.7-.9-1-1.2-.5-1-.6-1.1-.9-1.2-.6-1-.7-1.2-.7-1.2-.4-1-.5-1.4-.5-1.3-.5-1.5-.4-1.1-.4-1.4-.3-1.3-.3-1.4-.2-1.1 0-1.5 .3-1.4 .6-1.3 1.3-.4 1.3 .4 .9 1.2 .9 .8 .8 .9 .7 1.4 1 1.1 .4 1.1 .8 1.1 .5 1.4 .6 1.2 .4 1.3 .6 1.5 .1 1.4 .2 1.1 .4 1.4 .1 1.2 .1 1.4 .2 1.4 0 1.1-.1 1.3-.5 1.3-.5 1-.4 .7M82.7 134.2l-1.4 .2-1.1-.1-1.2 .2-1.5 0-1.3-.1-1.4 .1-1.5 .1-1.4 0-1.2-.1-1.4-.1-1.2-.1-1.2-.1-1.4 0-1.4 .1-1.4-.2-1.4-.2-1.3-.1-1.4-.1-1.1-.2-1.4-.1-1.2-.4-1.3-.2-1.4-.2-1.5-.6-1.1-.4-1.3-.5-.9-.6-1-.7-.8-.9-.3-1-.2-1.2-.1-1.3 .4-1 1.1-1.1 .8-1 1.1-.8 1-.4 1.2-.8 1.3-.7 1.2-.3 1.5-.5 1.2-.1 1.4-.2 1.2-.4 1.3-.2 1.2-.4 1.1-.1 1.3 0 1.5-.1 1.3 0 1.3-.3 1.3-.3 1.1-.1 .6-1 .4-1.1 .7-1.2 .6-1.4 .4-1.1 .5-1.3 .5-1.1 .2-1.2 .7-1 .5-1 .7-1 1.1-.9 1 1 .6 1 .2 1.4 .4 1.1 .7 1.3 .3 1.4 .5 1.1 .3 1.4 .4 1.3-.2 1.2-.9 1-1.1 .4 1.1 1 1.1 .3 1.3 .2 1.2 .2 1.3 .5 1.2 .4 1.5 .2 1.3 .3 1.4 .3 1.3 .6 1.3 .2 1.5 .2 1.2 .4 1.5 .6 1.2 .4 1.4 .4 1.3 .2 1.3 .3 1.2 .3 1.5 0 1.2 .2 1.2 0 1.5 .3 1.3 .2 1.3 0 1.2 .8 0 1.5-1.1 .6-1.4 .1-1.4 .2-1.5-.5-1.2 .2-1.2 .2-1.5 .3-1.3 .4-1.1 .9-1 .5-1.1 .4-1.3 .6-1.2 .7-1.2 .5-1.1 .6-1.4 .2-1.1 .2-1.1 .1-1.1 .4-1.1 .3-1.4-.1-1.3 .3-1.4 .2-1.3-.1-.2 0M132.4 145.9l-1.3-.2-.9-.9-.5-1-.2-1.1-.4-1.3-.2-1.4-.3-1.1-.2-1.1 0-1.4-.1-1.3 0-1.1 0-1.2 .1-1.1-.1-1.4-.1-1.3 0-1.1 .1-1.4 0-1.3 .2-1.1 .1-1.3 .6-1.4 .1-1.4 .3-1.1 .6-1.2 .3-1.2 .3-1.1 .9-1.1 1-.6 .4 1.1 .7 1.2 .4 1.5 .2 1.4 .5 1.4 .3 1.3 0 1.5 .1 1.5 .1 1.4-.1 1.2 .1 1.1 0 1.4 0 1.4 .1 1.4 0 1.2-.2 1.1 .2 1.6-.2 1.5-.2 1.4-.1 1.3-.3 1.1-.4 1.4-.5 1.3-.6 1-.8 .4M123.6 78.7l-1.3 .3-1.5-.1-1.4-.8-.8-.9-.4-1.2-.7-1.1-.6-1.3-.6-1.2 0-1.4-.3-1.3-.2-1.5-.2-1.4 .1-1.2-.1-1.3-.2-1.3 .6-1.4 .7-1 .9-.7 1-.6 1.5-.3 1.3 .1 1.3 0 1 .4 1.2 .7 .5 1 .6 1 .5 1.2 .2 1.5 .5 1.2 .3 1.2 .1 1.5 .1 1.4 .2 1.4 0 1.4-.1 1.1-.5 1.4-.7 .9-.6 1-1.3 .6-1.1 .6-.1 .1M130.5 104.2l-1.2-.4-1-.8-.8-1.1-1-1.3-.5-1-.7-1.2-.3-1.1-.8-1.1-.3-1.4-.5-1.3-.2-1.4-.1-1.3 .1-1.3 0-1.2 .8-1.2 1.3 0 1.1 1 .6 1.1 .9 .8 .6 1.2 .6 1.1 .6 1.2 .3 1.2 .3 1.1 .4 1.3 .4 1.4 .2 1.2 .3 1.1-.1 1.6-.5 1.4-.6 .3M84.1 134l-1.6 0-1.5-.1-1.3 .2-1.3 0-1.3 0-1.3 0-1.6-.1-1.3 .3-1.3-.1-1.3-.1-1.6 0-1.3-.2-1.5 0-1.3-.2-1.3 .2-1.3-.3-1.3-.2-1.2-.3-1.5-.1-1.2-.2-1.3-.3-1.5-.5-1.4-.4-1.2-.6-1.2-.3-1-.7-1.2-.9-.9-1-.1-1.4 .2-1.3 .9-1.2 .9-1 1.2-1 1-.7 1.2-.6 1.2-.1 1.3-.6 1.3-.2 1.4-.3 1.3-.3 1.3 0 1.4 0 1.3-.3 1.2-.2 1.4 .2 1.4-.2 1.2 0 1.3 .2 1.3 0 1.5 0 1.4 .2 1.2-.1 1.2 0 1.3 .2 1.4 .1 1.3 .2 1.2 .1 1.6 .2 1.1 .1 1.2 .2 1.1 .4 1.4 .5 1.4 .1 1.4 .2 1.1 .5 1.1 .3 1.5 .4 1.4 .6 1.3 .3 1.3 .6 1.1 .4 1.4 .6 .2 1.1-.6 1.3-.9 .9-1.2 .5-1 .6-1 1-1.2 .8-1.5 .6-1.3 .4-1.3 .4-1.5 .1-1.4 .4-1.1 .3-1.4 .2-1.2 .2M132.8 143.2l-1.3 .1-1-.6-.4-1.5-.5-1.2-.4-1.4-.2-1.3-.2-1.2 0-1.4 .1-1.5 .1-1.4 0-1.1 0-1.4 0-1.1-.1-1.3 .3-1.4 0-1.4 .5-1.3 .4-1.4 .5-1.3 1-.9 1.2 .1 .7 1.2 .7 1.1 .2 1.6 .1 1.2 .1 1.4 0 1.3 0 1.3-.1 1.4 .3 1.4 .1 1.4-.2 1.2 0 1.4-.2 1.3-.1 1.4-.2 1.4 0 1.2-.6 1.2-.3 1.1-.6 .5M122 78.2l-1.4-.3-1.1-.7-.9-.8-.7-1-.5-1.1-.4-1.2-.1-1.4-.5-1.4-.1-1.5-.3-1.4-.3-1.2 0-1.3 .2-1.5 .4-1.3 1.1-1.3 .8-.7 1.3-.3 1.2-.2 1.4-.1 1.3 .3 1.2 .9 .7 1 .7 1.3 .4 1.1 .2 1.5 .4 1.6 .4 1.1 0 1.4 0 1.3 .1 1.2-.1 1.5-.6 1-.5 1.1-.9 .9-1 .6-1.1 .3-1.2 .5 0 0M128.5 98.3l-1.1-.6-.8-1.2-.6-1.3-.2-1.3 .1-1.3 1.2 .4 .8 1.1 .4 1.2 .5 1.2 .1 1.2-.3 .6M80.2 133.7l-1.5 .2-1.1-.1-1.4 .1-1.5 .1-1.3 0-1.2 0-1.4-.1-1.4-.1-1.2-.1-1.3-.2-1.2 .1-1.3 0-1.5-.2-1.5-.3-1.4-.2-1.2-.1-1.1-.4-1.4-.3-1.5-.2-1.2-.7-1.1-.5-1.3-.8-1.2-.8-1-1-.2-1.4 .6-1.4 .6-1 1-.7 1-.6 1.1-.9 1.2-.3 1.1-.2 1.2-.5 1.4-.5 1.2-.1 1.5-.2 1.2 0 1.2-.1 1.4-.2 1.6 0 1.1 0 1.3 .1 1.2 0 1.4 0 1.5 .1 1.4 0 1.3 0 1.3 0 1.3 .2 1.2 .2 1.1 .1 1.2 .2 1.2 0 1.4 .3 1.3 .2 1.2 .1 1.1 .3 1.5 .3 1 .7 1.4 .3 1.4 .5 1.3 .5 1.2 .4 1.2 .7 .8 1 0 1.2-.9 1.3-.9 .8-.9 .7-1.3 .8-1 .3-1.2 .6-1.1 .5-1.1 .2-1.3 .2-1.4 .4-1.3 .2-1.4-.1-1.3 .1-1.1 .3-1 .1M132.1 140.4l-1.3-.9-.4-1.3-.3-1.4-.5-1.2 .1-1.5-.1-1.3-.2-1.4 0-1.2 .2-1.3 .2-1.3 0-1.3 .1-1.1 .4-1.4 .7-.9 1-.6 1.2 .8 .5 1.5 .1 1.3 .1 1.6 .4 1.3-.1 1.3-.1 1.3 .1 1.6 .1 1.3-.4 1.4-.5 1.3 0 1.5-.4 1-.9 .9M123 77.2l-1.3 .2-1.3-.2-1.2-1-1-1.1-.5-1.2-.4-1.3-.4-1.4-.1-1.2-.2-1.2-.3-1.4 0-1.4 0-1.2 .2-1.7 .3-1.3 .9-.7 1-.6 1.2-.3 1.5-.3 1.3 .2 1.1 .5 .9 1 .7 1 .8 1.1-.2 1.4 .2 1.1 .6 1.3 .2 1.4 .3 1.1 .1 1.3-.3 1.4-.3 1.3-.6 1.5-.8 1.1-1.2 .4-1.1 .2-.2 0M81.4 133.3l-1.1 .3-1.6 .1-1.4-.2-1.2-.1-1.2 .2-1.5-.1-1.2 .2-1.3 0-1.5-.3-1.3-.1-1.1 .2-1.5-.1-1.4-.3-1.4-.2-1.3-.4-1.2-.4-1.4-.3-1.3 0-1.2-.5-1.4-.7-1.1-.8-1.4-.6-1-1.2-.5-1.3 .2-1.1 1.1-1 .8-.7 1.3-.7 1.3-.6 1.2-.4 1.2-.3 1.3-.3 1.3-.2 1.4 0 1.4-.2 1.3-.2 1.3 0 1.2-.1 1.3 .1 1.4-.2 1.2 .1 1.5-.1 1.3 .1 1.3 .1 1.5 .1 1.2 .1 1.4 .2 1.5 .1 1.7 .1 1.1 .3 1.2 .2 1.4 .3 1.1 .2 1.3 .4 1.3 .5 1.3 .3 1.2 .5 1.1 .7 1.3 .7 .6 1.4-.4 1.1-.8 1-.9 .7-.7 .8-1.2 .5-1.1 .5-1.1 .2-1.5 .4-1.4 .3-1.2 .5-1.3 .2-1.5-.2-.9 .1M131.8 134.3l-.6-1.1 .1-1.4 .1-1.3-.2-1.3 .7-1 .6 1.1 0 1.3 0 1.1 .1 1.3-.6 1.3-.3 0M122.2 76.7l-1.2 .1-1.4-.8-.7-1-.7-.9-.5-1.2-.3-1.1-.3-1.2 0-1.4-.3-1.2-.3-1.3 .1-1.5 0-1.4 .5-1.3 1.1-1.2 1.2-.6 1.1-.4 1.3 .1 1.3 .3 1.2 1 .6 .9 .5 1.3 .6 1.4 .4 1.2 0 1.3 .3 1.4 .1 1.3 .1 1.2-.2 1.3-.5 1.5-.9 1-1 .8-1.3 .2-.9 .1M74.5 133.3l-1.5 0-1.3 0-1.4-.2-1.2 0-1.5 0-1.3-.1-1.3 .1-1.3-.5-1.4-.4-1.3-.2-1.1-.3-1.3-.5-1.1-.6-1.2-.5-1.3-.6-1-1.1-.6-1.1-.2-1.3 1.3-.9 1.2-1 1-.3 1.2-.6 1.4-.4 1.4-.2 1.2-.3 1.3-.3 1.3-.2 1.4 0 1.4-.2 1.1-.1 1.4 0 1.4-.2 1.4 .2 1.2 0 1.4 .1 1.4 .1 1.5 .3 1.2-.1 1.3 .2 1.4 .2 1.2 .2 1.2 .1 1.4 .3 1.5 .4 1.1 .3 1.1 .4 1.2 .6 1.3 .6 1 .8 .5 1.6-.5 1.3-1 .7-.9 .7-1.5 .7-1.1 .6-1.3 .3-1.4 .5-1.5-.1-1.2 .3-1.1 .3-1.4 .4-1.5 0-1.3-.1-1.3 0-1.3 0-.7 .1M123.5 75.8l-1.4 .4-1.3-.1-1.2-.8-.6-1-.7-1.4-.6-1-.2-1.5-.3-1.2-.1-1.3-.1-1.4-.2-1.3 .1-1.4 .6-1.2 1.1-.9 1.4-.6 1.4-.1 1.4 .2 1 .4 .6 1 .6 1 .5 1.4 .5 1 .2 1.5 .4 1.3 .1 1.3-.2 1.4-.4 1.1-.3 1.4-.6 1.2-1.3 .4-.4 .2M77.8 133l-1.3 0-1.2 .1-1.4 0-1.3-.1-1.2 0-1.5-.2-1.3-.1-1.3 0-1.3-.1-1.4-.2-1.1-.3-1.1-.3-1.5-.5-1-.5-1.1-.4-1.3-.5-1.2-.9-.7-1.3-.3-1.2 .8-1 1.3-.9 1.1-.6 1.1-.4 1.1-.2 1.3 0 1.3-.7 1.4-.3 1.3 0 1.2 0 1.5-.2 1.4-.1 1.2 0 1.3-.2 1.3 .2 1.2 .1 1.5 .1 1.3 .1 1.4 0 1.3 .1 1.2 .2 1.1 .2 1.3 .3 1.3 .4 1.3 .3 1.2 .4 1.2 .8 1.2 .2 .7 1 .7 .8-.2 1.2-.8 .9-1 .9-1 .5-1.3 .4-1.2 .4-1.1 .5-1.1 .3-1.5 .2-1.2 .2-1.4 .4-1.2 .1-1-.2M122.5 75.5l-1.2 .2-1.1-.2-.8-.9-.7-1.4-.3-1.1-.5-1.2-.2-1.2-.5-1.5-.1-1.4-.1-1.2 .3-1.1 .3-1.1 1.2-1.1 1-.6 1.1-.3 1.3-.1 1.3 .7 .8 1 .5 1 .4 1.1 .4 1.3 .1 1.3 .3 1.6 .2 1.3-.1 1.4-.3 1.1-.9 1.4-1.2 .8-1.2 .1M78.8 132.5l-1.4-.1-1.3 .1-1.4 .1-1.2 .2-1.2 .1-1.5-.1-1.5-.4-1.2 0-1.2-.3-1.3-.2-1.4-.3-1.5-.3-1.5-.5-1.2-.4-1.1-.9-1-.7-.7-1.2 .3-1.1 1.1-1.1 1.3-.6 1.2-.6 1.2-.6 1.4-.2 1.4-.2 1.4-.2 1.3-.2 1.2 0 1.4-.1 1.1-.1 1.4 .2 1.5-.1 1.5-.1 1.3 .2 1.1 0 1.4 .2 1.3 .4 1.4 0 1.2 .1 1.2 .1 1.3 .7 .9 .6 1.1 .4 1.3 1 .7 1.3-.4 1.1-.6 1.1-1 .4-1 .3-1.3 .6-1.3 .3-1.2 .5-1.4 .2-1.2 .3-1.2 0-.6 .1M121.6 74.9l-1.2-.5-1.1-.8-.7-1.4-.2-1.1-.3-1.3-.3-1.5-.1-1.3 .2-1.3-.1-1.3 .9-1.5 1.2-.6 1.4-.1 1.1-.2 1.2 .9 .6 .9 .3 1.1 .5 1.1 .5 1.3 .3 1.5-.2 1.2 .2 1.3-.4 1.3-.7 1.2-.9 .8-1.1 .4-1.1 0M78.8 131.9l-1.5 .1-1.3 .2-1.2-.1-1.5-.1-1.1 .2-1.3-.1-1.3-.3-1.5-.1-1.4 0-1.2-.3-1.3-.3-1.1-.6-1.1-.6-1.1-.4-1.1-.5-.6-1.3 .4-1.3 .8-.9 1.2-.3 1.1-.3 1.1-.5 1.3-.4 1.5-.2 1.2-.1 1-.4 1.6-.2 1.5 0 1.2 .2 1.2-.1 1.3 .1 1.6 0 1.4 .2 1.2 0 1.4 .2 1.1 .5 1.4 .3 1.3 .4 1.3 .5 1.4 .6 .9 1.1-.3 1.2-.7 1-1.4 .6-1 .8-1.1 .4-1.4 .3-1.3 .3-1.4 .2-1.2 .2-.1-.1M123 74.1l-1.2 .3-1.3-.1-.9-1.1-.6-1.3-.3-1.6-.3-1.3-.3-1.4-.2-1.3 .4-1.4 .4-1.1 1.1-.8 1.4-.5 1.4 .3 .9 .7 .9 1.1 .3 1.5 .5 1.1 .2 1.3 .1 1.3-.1 1.4-.1 1.1-.8 1.2-1.1 .5-.5 0M79 131.7l-1.7 .1-1.1 .1-1.2-.1-1.4 0-1.4-.1-1.3-.2-1.4-.1-1.2-.1-1.4-.3-1.4-.3-1.4-.4-1.1-.7-1.3-.7-.9-.9 .4-1.3 .9-.9 1.2-.4 1.4-.7 1.2-.3 1.3-.5 1.2 0 1.5 0 1.2-.1 1.4 0 1.5-.2 1.3 .2 1.2 0 1.3 .2 1.4 0 1.3 .1 1.4 .6 1.3 .3 1.2 .3 1.2 .6 1.1 .7 .4 1.4-.5 1-1.1 1-1.3 .5-1.5 .5-1.1 .2-1.7 .3-1 .2M121.5 73.7l-1.2-.5-.8-.8-.7-1.4-.1-1.3-.2-1.2-.3-1.3 0-1.5 .6-1.2 1.2-.8 1.3-.5 1.1 .1 1.1 .9 .4 1.2 .4 1.1 .4 1.3 .2 1.4 0 1.1-.1 1.1-.3 1.1-.9 .7-1.5 .5-.5 .1M78.3 131.3l-1.4 0-1.3 0-1.3 0-1.4 0-1.6 .2-1.3-.2-1.4-.2-1.3-.5-1.4-.4-1.1-.5-1.4-.8-.8-1 .4-1.1 .8-.8 1.3-.5 1.3-.4 1.3-.2 1.3-.3 1.3-.3 1.4 0 1.2-.2 1.5 0 1.3 .2 1.1-.2 1.2 .1 1.3 .4 1.3 .3 1.3 .3 1.2 .4 1 .5 1.1 .7 .7 .9-.6 1.2-1.4 .7-1.4 .7-1 .5-1.3 0-1.4 .2-.5 .3M122.5 72.8l-1.3 0-1.2-1-.4-1.1-.4-1.1-.3-1.3 .1-1.3 .1-1.4 .8-1.2 1.3-.4 1.5 .2 .7 1.1 .5 1.2 .3 1.1 .2 1.5-.1 1.3-.4 1.3-1.3 1M78.4 130.5l-1.4 .2-1.3 .3-1.4 0-1.2-.1-1.4-.2-1.1 0-1.6-.1-1.4-.5-1-.5-1-.6-1-.6-.3-1.2 .9-.7 1-.6 1.3-.4 1.2-.6 1.2-.2 1.3 0 1.2 0 1.5-.1 1.4 .2 1.3 .2 1.2 0 1.4 .1 1.3 .4 1.3 .6 1.1 .2 1.2 .8 0 1.2-1.1 .9-1 .6-1.3 .3-1.4 .5-.9 0M122.1 72l-1.2-.2-.8-1.2-.3-1.2-.3-1.5-.1-1.4 .4-1 1.3-.5 1.3 .2 .7 1.4 .3 1.2 .4 1.4-.1 1.3-.8 1-.9 .4M77.4 130.2l-1.4 .2-1.2 .1-1.2 0-1.3-.1-1.2-.1-1.2-.2-1.1-.4-1.1-.3-1.2-.7-.9-1.2 1.1-.9 1.4-.5 1.3-.5 1.4-.3 1.3-.2 1.4 .2 1.2 .1 1.3 0 1.4 .1 1.5 .1 1.2 .3 1.2 .6 1 .8 0 1.2-1.1 .6-1.2 .5-1.1 .6-1.5 .1M122 69.8l-1.1-.7-.1-1.5 1.1 .1 .7 1-.5 1.1M76.7 129.9l-1.4 .1-1.6-.1-1.3-.1-1.2-.2-1.2-.1-1.2-.6-.9-.9 .3-1 1.2-.4 1.3-.5 1.3-.2 1.4-.2 1.3 .1 1.1 .1 1.3 .3 1.3 .1 1.3 .5 1.2 .7-.4 1.1-1.2 .5-1.1 .3-1.3 .3-.3 .1M75 129.4l-1.5 0-1.4 .1-1.1-.3-1-.8-.1-1.1 1.1-.6 1.1-.2 1.4-.1 1.3-.2 1.3 .2 1.3 .3 1.1 .4 .3 1.2-1.2 .6-1.4 .3-1.2 .1" fill="none" stroke="#000" stroke-width="0.68" stroke-linejoin="round"/><rect x="39.2" y="72" width="1.9" height="63.5" fill="#111"/></g><clipPath id="cP2"><rect x="195.0" y="43.6" width="105.4" height="105.7"/></clipPath><g clip-path="url(#cP2)"><path d="M287.6 76.3h1M245.3 76.7h1M259.8 84.9h1M254.8 70.7h1M253.7 76.3h1M253 77.6h1M259.8 78.8h1M259.5 78.7h1M249.5 74.6h1M273.8 84.7h1M254.7 75.1h1M260.3 85.3h1M275.8 86.1h1M262.3 77h1M258.9 74.2h1M270.6 82.5h1M267.2 84.2h1M241.3 77.3h1M236 71.5h1M260.7 82.9h1M274.4 74.6h1M238.6 76h1M254.8 78.1h1M264 72.8h1M261.5 76.4h1M239.6 80h1M237.2 75.9h1M249.7 71.7h1M283.3 79.4h1M245.2 76.5h1M249.7 71.1h1M266.9 72.3h1M261.6 84.6h1M273.5 74.9h1M246.8 78.3h1M247.1 73.4h1M266.3 75h1M252.7 75.5h1M255.5 73.3h1M242.4 79.3h1M245.6 80.8h1M245.5 79.6h1M247.5 73.8h1M246.5 72.7h1M251.2 80.8h1M269.6 74.2h1M278.5 69.9h1M251.3 70.2h1M275.9 79.5h1M262 74.3h1M259.2 76.6h1M237 80.2h1M269.8 76.9h1M276 82.2h1M274 69.6h1M249.3 82.9h1M243.1 76.4h1M269.6 72h1M244.4 73.2h1M254.6 71.8h1M268.5 77.5h1M254.1 78.1h1M280.8 66.9h1M260.3 81.8h1M264.9 77.5h1M248.3 69.4h1M257.9 81.4h1M256.1 78h1M262.9 78.2h1M256.4 73.1h1M248.1 79.1h1M256.9 71.9h1M244.3 85.2h1M238.1 73.7h1M259.2 78.4h1M255.5 72h1M248.9 73.2h1M254.1 85.8h1M243.9 75.8h1M266.7 80.6h1M278 81.4h1M252.2 71.7h1M261.7 76.2h1M246.4 75.6h1M237 71.9h1M248.6 76.1h1M251.9 77.4h1M245.6 80.4h1M258.2 71.5h1M270.5 78.8h1M249 79.3h1M261.1 78.4h1M263.3 82.6h1M268.8 75.6h1M264.4 71.9h1M268.7 79.4h1M256.9 78.1h1M239.6 65.2h1M242.1 75.9h1M250.2 71.9h1M243.5 73.8h1M246.2 76h1M253.5 83h1M255.6 77.6h1M250.7 72.3h1M260.5 72.8h1M280.8 76.6h1M243.4 77.5h1M249 88.7h1M241.1 71h1M270.5 72.8h1M267.3 80.3h1M239 73.9h1M262.2 76.4h1M238.2 67.7h1M256.3 78.9h1M256.9 70.6h1M233.4 79.3h1M258.6 73.2h1M258.6 77.1h1M273 81.3h1M257.8 71.7h1M255.6 71.7h1M247.2 81.1h1M263.1 75.6h1M266.7 74.8h1M265.9 79.9h1M267.8 70.8h1M254.2 75.4h1M238.3 69.4h1M275 78.7h1M272.3 81.4h1M247.6 76.4h1M282.8 68.4h1M274.1 74.9h1M267.2 77.1h1M243.8 75.4h1M265.2 81.1h1M268.6 71.5h1M284.8 77h1M250.9 73.8h1M253 75.1h1M271.9 73.8h1M271.3 77.9h1M250.1 74h1M248.4 77.2h1M259.9 79.7h1M262.7 80.7h1M268.3 76.4h1M247.3 81h1M236.3 81.7h1M270.7 74.9h1M255.4 85h1M254.8 82.9h1M268.9 74.1h1M238.2 74.9h1M256.4 73.2h1M252.1 74.9h1M262.5 77.2h1M256.1 76.8h1M265.3 73.6h1M240.1 77.9h1M251.1 81.3h1M245.4 79.9h1M270.5 78.7h1M273 73.9h1M257.8 74h1M265.7 83.5h1M253.9 75.7h1M248.5 71.9h1M274.3 79.9h1M255.5 83.4h1M287.6 83.5h1M241.7 70.8h1M264.3 79.7h1M252.6 75.9h1M261.9 72.6h1M245.8 69.5h1M260.6 73.7h1M262.5 80.4h1M267.6 74.3h1M257.1 84.8h1M260.9 74.3h1M253.1 72.2h1M237.4 75.5h1M249 83.4h1M250.5 71.9h1M252.6 75.4h1M273.2 51.3h1M248.5 48.2h1M265.1 48.2h1M253.9 49.7h1M253.3 48.9h1M254.5 51.1h1M252.5 48.9h1M269 50h1M235.6 48.5h1M248.8 49h1M231.4 48.8h1M240.9 49.5h1M236.6 49.1h1M254.3 50.2h1M228.6 49h1M251.4 49.6h1M245.5 51.1h1M272.9 49.8h1M237.5 50h1M240.9 50.6h1M265.4 50.1h1M242.3 49.3h1M252.1 49.1h1M253.3 48.9h1M264.4 49.3h1M232.5 47.7h1M241.9 48h1M254.9 48.1h1M277.4 50.8h1M244.2 49.6h1M243.1 50.4h1M267.1 49h1M256.6 49.7h1M255.2 48.4h1M284.9 47.2h1M243.3 49h1M267.6 48.7h1M286.3 48.6h1M248.1 47.8h1M292.6 49.9h1M267.4 50.1h1M261 49.9h1M279.5 50.5h1M259.4 48.4h1M260.1 49.2h1M253.2 48.8h1M267.5 48.3h1M247 48.9h1M241.6 49.3h1M291.7 47.4h1M274.8 50.9h1M281.1 50.3h1M285.1 50.2h1M277.3 75h1M277.1 48.4h1M280.5 68.5h1M270.8 70.8h1M278.2 55h1M274.4 53.2h1M278.5 73.3h1M277.3 48.4h1M275 69.3h1M271.6 71.9h1M274.6 85.4h1M277.8 75.9h1M281.3 64.2h1M274.3 59.2h1M274.9 83.9h1M273.7 71.7h1M271.5 55.2h1M278.2 58.8h1M276.9 68.7h1M274.3 55.8h1M278.8 72h1M280.8 60.1h1M276.8 68.2h1M279.3 59h1M278.4 69.5h1M279.6 50.8h1M271.7 70.3h1M279.6 73h1M275.2 70.2h1M267.3 76.8h1M277.3 67.6h1M271.1 87.9h1M279.7 60.9h1M236.6 105.7h1M240 142.6h1M195.6 105h1M251 110.5h1M254 100.5h1M240 86.1h1M243.5 101.4h1M205.4 94.5h1M234.5 95.6h1M234.8 98.7h1M253.4 135.5h1M207.3 106h1M205.5 105h1M234.6 140.4h1M254 111.4h1M244 110.9h1M246 124.9h1M237.9 104.2h1M231.6 139.9h1M271.5 78.3h1M249 107.1h1M255.7 87.1h1M275.3 83.4h1M261.7 103.1h1M268.9 79.5h1M277.7 85.8h1M234.8 76.5h1M252.9 76.8h1M249.2 96.5h1M261.4 83h1M245.4 111.7h1M274.7 109.2h1M251.2 97.1h1M248.2 85.9h1M245.2 92.9h1M242.2 90.4h1M256.2 105.6h1M250.1 72.2h1M260.1 91.3h1M251.4 94h1M261.7 97.6h1M259 100.8h1M268.7 88.8h1M264.7 99.9h1M250.7 80.1h1" stroke="#111" stroke-width="1.0" fill="none"/><path d="M224.1 148l-1.4 .1-1.4 .1-1.2-.1-1.4-.1-1.2-.1-1.3-.2-1.4-.1-1.4-.4-1.4-.4-1.1-.2-1-.6-.9-1.1 .7-1.1 1.1-.7 .8-1.3 .4-1.2-.2-1.3 0-1.5 .2-1.6 .1-1.2-.4-1.1-.5-1.4-.3-1.1-.6-1.3-.6-1.2-.1-1.3-.7-1.4-.3-1.2-.3-1.4-.3-1.3-.3-1.4 .1-1.3-.2-1.2-.3-1.4 0-1.4 0-1.4-.1-1.7 .1-1.3 .1-1.1-.1-1.3-.1-1.1 .1-1.4 .3-1.4 0-1.2 .3-1.4 .4-1.4 .5-1 .1-1.2 .4-1.3 .4-1.4 .4-1.2 .4-1.4 .2-1.3-.2-1.3-.1-1.3 0-1.2-.6-1.4-.2-1.3-.4-1.4-.5-1.4-.4-1.1-.4-1.2-.6-1.2-.5-1.2-.6-.9-.5-1.6-.4-1.2-.7-1.1-.4-1.1-.6-1.3-.5-1.1-.5-1-.6-1.3-.3-1.4-.3-1.4-.4-1.1-.4-1.5 .1-1.3-.4-1.1-.1-1.4-.3-1.1-.3-1.2-.2-1.3-.2-1.2-.4-1.1 .1-1.4 .5-1.1 1.1-.5 1.5-.4 1.4 .1 1.5-.1 1.1 0 1.3 0 1.2 0 1.2 .1 1.6 .1 1.3-.3 1.3 .2 1.5 .2 1.2-.1 1.2-.2 1.5-.1 1.3 .2 1.2-.2 1.2 0 1.2 .3 1.5-.3 1.5 .1 1.3-.2 1.5-.1 1.4 .2 1.4 0 1.4 .1 1.2 .6 .8 1.1 .6 1.1 .1 1.4 .4 1.3 1.4 .3 .9-.9 1-1 1.4-.6 1.4-.6 1.6-.5 1.2 .1 1.3-.1 1.3 .3 1.3 .4 1.3 .3 1.3 .3 1.3 .2 1.4 .4 1.2 .3 1.5-.1 1.3 .3 1.2 .5 1.5 .3 1.2 .3 1.3 .3 1.3 .2 1.3 .6 1.1 .3 1.2 .7 1.2 .4 1 .6 1 .6 1.2 1 .8 .7 1 .9 .9 1.2 .8 1.3 .2 1.4-.4 1.6-.9 1.2-.9 .6-1 .6-1.1 .7-1.2 .5-1.2 .3-1.2 0-1.4 .3-1.1 .4-1.5-.2-1.3 .1-1.3 .1-1.1-.2-1.7 0-1.4-.2-1.3-.2-1.3-.1-1.1-.2-1.2-.5-1.1-.4-1.1-.2-1.2-.1-1.3-.4-1.4-.5-1.5-.6-1.2-.2-1.3-.6-1.2-.6-1.3-.9-.9-.7-.9-1-.9-.9-.9-1-1.2-.2-.5 1.2-.4 1.2-.3 1.5-.6 1.2-.5 1.3-.2 1.3-.5 1.3-.2 1.1 .2 1.2-.6 1.3-.3 1.4-.3 1.3-.4 1.5-.2 1.2-.1 1.3-.2 1.5-.3 1.5-.2 1.3-.3 1.3-.1 1.2 0 1.5-.1 1.3 .2 1.3 .3 1.4 .4 1.1 .7 1.3 .2 1.2 .2 1.5 .6 1.1 .5 1.2 .1 1.2 .3 1.2 .4 1.3-.1 1.3 .2 1.3 .2 1.4 .1 1.2 .1 1.3-.1 1.5 .1 1.3-.2 1.2-.1 1.5-.1 1.2-.1 1.4-.2 1.4-.3 1.3-.2 1.1-.2 1.5-.4 1.3-.3 1.3-.4 1.1-.5 1.1-.4 1.1-.3 1.4-.3 1.2-.6 1.2-.2 1.3 .1 1.4-.2 1.2 0 1.3 .2 1.2-.1 1.3 .6 1 1.1 1.2 .8 .9 0 1.3-1 .5-1.4 .5-1.4 .4-1.4 0-1.2 .5-1.5 .2-.7 .2M225.3 146.9l-1.3 .4-1.2 .1-1.3-.3-1.5 .1-1.2 0-1.3 0-1.5-.3-1.4-.4-1.2 0-1.3-.7-.1-1.2 .7-1.2 .9-1.4 .4-1 .1-1.3-.2-1.4 .3-1.2 .4-1.1-.1-1.3-.5-1.4-.3-1.2-.7-1.2-.5-1-.4-1.2-.6-1-.6-1.6-.4-1.4-.1-1.4-.6-1-.4-1-.2-1.2 0-1.2-.1-1.5-.2-1.5-.3-1.3-.1-1.2 .1-1.4 .1-1.3 .1-1.5 .1-1.2 .3-1.6 .1-1.4 .3-1.3 .1-1.5 .1-1.2 .8-1.3 .2-1.2 .7-1.4 .2-1.1 .3-1.2 0-1.3 0-1.4-.2-1.2-.2-1.3-.2-1.4-.5-1.5-.2-1.2-.5-1.4-.4-1.4-.4-1-.3-1.1-.6-1.1-.4-1-.5-1.2-.7-1.3-.7-1.5-.3-1.1-.5-1.1-.8-1.2-.4-1.5-.4-1-.6-1.2-.6-1.2-.2-1.4-.1-1.4-.3-1.4-.4-1.1-.3-1.3-.2-1.2-.3-1.4-.3-1.2 0-1.2-.3-1.3 0-1.4 .3-1.1 1.2-.6 1.1-.1 1.4 0 1.2 .1 1.3 0 1.4 .1 1.5 0 1.3-.1 1.2-.1 1.3-.1 1.4 0 1.4 0 1.4 .2 1.2 .1 1.4 0 1.2 0 1.3-.2 1.3 0 1.4-.1 1.3 .2 1.3-.2 1.3 .2 1.4-.1 1.5 0 1.6 .1 .9 .6 .6 1.3 0 1.5-.2 1.1 .1 1.4 .2 1.4-.1 1.1-.2 1.2-.1 1.1-.4 1.3-.4 1.2-.3 1.5-.3 1.1-.2 1.2-.3 1.1-.3 1.2-.2 1.5-.3 1.4-.4 1.1-.4 1.4-.1 1.5-.6 1.4-.2 1.2-.3 1.3-.3 1.3 0 1.3-.1 1.3-.2 1.4-.1 1.3 0 1.4-.3 1.3 .1 1.3-.1 1.2-.1 1.4 .4 1.3 .7 1.5 .3 1.3 .5 1.3 .6 1.4 .2 1.2 .4 1.3 .2 1.5 .2 1.3 .2 1.3-.1 1.1 .2 1.5 0 1.3 .4 1.2 .2 1.2-.2 1.4-.3 1.4-.1 1.2-.2 1.2-.3 1.1-.2 1.5 0 1.3-.4 1.1-.5 1.4-.4 1.1-.3 1.1-.4 1-.6 1.1-.3 1.1-.9 .9-.2 1.3-.4 1.4-.3 1.2-.1 1.4 .2 1.3 .3 1.4-.3 1.3 .1 1.3 .6 1 .8 .8 .6 1.3-.5 1.2-1.1 .3-1.1 .3-1.1 .2-.6 .1M265 68.6l-1.1 .1-1.5 .2-1.3-.1-1.4-.1-1.3-.3-1.2-.4-1.3-.1-1.3-.3-1.3-.1-1.4-.6-1.2-.4-1.1-.4-1.1-.4-1.4-.3-1.3-.5-1.2-.6-1.1-.7-1.2-1-.9-.9-.4-1.1-.3-1.3-.1-1.3 .3-1 .6-1.2 1.1-1 1-.5 1.5-.4 1.4-.3 1.4 .2 1.2 .2 1.5 .4 1.4 .3 1.3 .1 1.2 .4 1.4 .3 1.4 .2 1.3 .3 1.3 .4 1.3 .2 1.6 .1 1.3 .5 1 .4 1.5 .4 1.2 .5 1.2 .6 1 .7 1.1 1 .9 1.2 .8 .9 .3 1.5-.4 1.1-.8 1-.9 .8-1 .5-1.2 .5-1.2 .2-1.7 .2-.9 .1M223.4 146.7l-1.3 .2-1.5-.1-1.4-.1-1.2 0-1.1-.2-1.1-.4-1.2-.8 .2-1.3 .7-1.2 .5-1 .2-1.4 0-1.3 .4-1.2 .5-1.3 .2-1.4-.5-1.5-.5-1.3-.8-.9-.7-.9-.5-.9-.5-1.3-.8-1.1-.7-.9-.7-1.4-.5-1.3 0-1.4-.6-1-.2-1.2 0-1.1-.3-1.1-.4-1.5 0-1.4-.3-1.1 .2-1.5 .3-1.3 .1-1.1 0-1.4 .4-1.4 .1-1.1 .1-1.2 .3-1.3 .3-1.2 .3-1.6 .3-1.2 .8-1.1 .7-1.2 .3-1.2 .3-1.1 .1-1.4-.5-1.5-.6-1.2-.1-1.4-.1-1.2-.1-1.4-.5-1.3-.4-1.2-.2-1.2-.3-1.1-.7-1.4-.4-1.1-.6-1.2-.4-1.2-.7-1.3-.5-1.4-.7-1.3-.4-1-.4-1.4-.8-1.1-.5-1.3-.7-1.4-.5-1.3-.3-1.3-.4-1.4-.2-1.4-.1-1.1-.4-1.2-.1-1.6-.1-1.5-.4-1.2-.1-1.4 .2-1.4 .9-.6 1.2-.2 1.4-.1 1.5 0 1.4 .2 1.4-.1 1.3-.2 1.4 .2 1.3 0 1.4-.1 1.5 0 1.5 .1 1.3-.1 1.4 0 1.1 .1 1.3 0 1.3-.1 1.3 0 1.4 0 1.3-.1 1.4-.1 1.2 .2 1.3 0 .9 .7 .4 1.2 .2 1.2 0 1.1-.2 1.3-.1 1.4-.1 1.3-.1 1.3-.2 1.4-.4 1.1-.1 1.5-.3 1.2-.2 1.5-.6 1.1-.2 1.5-.3 1.3-.2 1.3-.3 1.3-.4 1.2-.3 1.4-.2 1.3-.4 1.4-.3 1.4-.1 1.3-.3 1.3-.3 1.2 .1 1.5 .1 1.1-.2 1.5 0 1.1-.2 1.4-.1 1.2 .2 1.2 0 1.2 .5 1.4 .5 1.3 .5 1.4 .6 1.1 .3 1.4 .4 1.6 .2 1.3 .2 1.3 .3 1.2 .2 1.5 .2 1.3 0 1.4 .2 1.3 .2 1.2 0 1.5-.3 1.3-.4 1.3 .1 1.4-.5 1.1-.4 1.3-.2 1.4-.2 1.2-.3 1.1-.8 1.3-.7 1.1-.6 1-.7 1.2-.5 1.1-.8 .9-.5 1.3-.7 1.4-.1 1.3 .3 1.4 .2 1.5 .1 1.3 .1 1.5 .5 1.1 .7 1.1 .6 1.3-.4 1-1.1 .4-1.3 .2-1.1 .2M263.5 66.9l-1.5-.1-1.3 .1-1.3-.4-1.2-.2-1.3-.1-1.3-.2-1.3-.4-1-.7-1-.4-1.1-.3-1.1-.3-1.4-.6-1.4-.8-1.1-.3-1-.9-1-1.2-.2-1.4 .5-1.4 1.1-.7 1.4-.3 1.4 .2 1.3 .3 1.2 .5 1.5-.1 1.3 .3 1.4-.1 1.4 .3 1.3 .2 1.5 .2 1.4 .4 1.2 .3 1.4 .1 1.1 .4 1.2 .8 1.3 .7 1 .8 .8 .9 .6 1.3-.5 1.3-1 .7-1.3 .7-1.4 .3-1.2 .2-.4-.1M222.2 133.7l-1.3 .1-1.3-.7-.9-.9-1.3-.7-.6-1-1.1-.7-.6-1.4-.9-1.4-.9-.9-.7-1.1-.5-1-.4-1.1-.4-1.2-.3-1.2-.2-1.3-.3-1.1-.1-1.2-.3-1.2-.2-1.3 .1-1.5 .2-1.2-.1-1.4 .3-1.3 .2-1.2 .5-1.4 .2-1.2-.1-1.1 .4-1.2 .6-1.3 .5-1.5 .4-1 .4-1.1 .6-1.3 .6-1.3 .6-1 .2-1.2-.4-1.1-.5-1.3-.5-1.3-.2-1.1-.3-1.5-.2-1.3-.5-1.5-.3-1.2-.3-1.4-.7-1.3-.5-1.5-.6-1.1-.3-1.3-.7-1.2-.4-1.5-.4-1.1-.6-1.2-.6-1.3-.6-1.3-.6-1.2-.7-1.3-.5-1.5-.3-1.2-.2-1.5-.2-1.2-.1-1.2-.5-1.2-.3-1.1 0-1.4 .1-1.4 .6-1.1 1.2-.4 1.3-.1 1.3 .1 1.4-.1 1.5-.1 1.3 0 1.2 .1 1.4-.1 1.2 .1 1.4-.1 1.4-.2 1.3 .1 1.4 .1 1.2 0 1.1-.1 1.4 .2 1.4 0 1.3-.1 1.5-.1 1.3 .2 .9 .7 .5 1.1 0 1.3-.2 1.2 .1 1.3-.2 1.3-.2 1.3-.1 1.1-.2 1.3 0 1.3-.4 1.3-.2 1.5-.4 1.3-.4 1.3-.3 1.3-.4 1.2-.2 1.4-.6 1.3 0 1.4-.2 1.2-.2 1.4-.4 1.4-.1 1.4-.2 1.3-.2 1.6-.1 1.3-.1 1.3 0 1.6 .1 1.2-.2 1.3-.6 1.2-.1 1.2 .7 1.3 .6 1.1 .5 1.4 1 1.2 .5 1.5 .6 1.2 .3 1.1 .2 1.2 .1 1.3 .4 1.2 .3 1.3 .3 1.5 0 1.4 .3 1.3 .2 1.3-.4 1.2-.1 1.4-.1 1.3-.4 1.4-.2 1.3-.4 1.3-.3 1.3-.4 1.4-.7 1-.5 1.1-.5 1.2-.7 .9-.6 .9-1 1-.9 .8-.8 1.1-1.3 1.1-.5 .4M263.7 65.1l-1.4 .2-1.4 .2-1.3-.5-1.3-.3-1.3-.3-1.5-.5-1.4-.7-.8-1-.5-1.1 .9-.9 1.2-.4 1.5-.3 1.4 .2 1.3 .1 1.4 .2 1.3 .4 1.2 .3 1.4 .8 .8 .9 .5 1.2-.5 1-1.1 .5-.5 .1M223.6 145.7l-1.4 .4-1.4-.1-1.3-.1-1.4-.4-1-.8 .6-1.2 .8-1.1 .7-1.3-.1-1.3 .3-1.2 1.1-.9 1.1-.2 .8 1.2 .3 1.2 .1 1.3 .2 1.1 .6 .9 .9 .8 0 1.3-.8 .3M221.4 132.8l-1.2-.3-1-.9-1-.7-1-1-1.1-.8-.7-1-.7-.9-.6-1-.9-.9-.8-1-.2-1.1-.4-1-.3-1.3-.3-1.4-.4-1.2-.4-1.2 0-1.3-.2-1.4 0-1.5 .3-1.4 .3-1.2 .2-1.4 .2-1.3 .2-1.2 .3-1.3 .2-1.4 .2-1.4 .5-1.3 .6-1.2 .5-1.4 .5-1.2 .8-1.2 .6-1.1 .8-1 .5-1 .1-1.1-.2-1.3-.8-.9-.5-1.4-.3-1.2 0-1.4-.4-1.3-.3-1.5-.6-1.2-.6-1.2-.3-1.5-.5-1.1-.4-1-.4-1-.4-1.1-.5-1.2-.3-1.1-.8-1.3-.6-1.6-.5-1.1-.4-1-.4-1.1-.5-1.2-.6-1.1-.4-1.2 .2-1.1-.4-1.2-.2-1.1-.3-1.3-.2-1.3 .4-1.3 1-.7 1.4-.3 1.4 0 1.4 .2 1.3 0 1.1-.1 1.4 .2 1.3-.3 1.1-.1 1.5 .2 1.4 .1 1.3-.3 1.3 0 1.4-.1 1.6 .1 1.2 .1 1.5 .3 1.3 .6 .5 1.4 .1 1.5-.2 1.3-.2 1.2-.2 1.5 0 1.4-.3 1.1-.3 1.3-.5 1.3-.3 1.3-.3 1.5-.2 1.4-.3 1.5-.5 1.3-.3 1.3 0 1.6-.3 1.4-.3 1.2-.2 1.3-.4 1.1 0 1.5 0 1.3-.2 1.3 0 1.5-.2 1.3-.1 1.2-.7 .9-.4 1.4 .5 1.3 .8 .8 .6 .9 1 1.3 .8 1.2 .6 1.1 .6 1.2 .6 1.3 .1 1.3 .8 1.4 .1 1.1 .3 1.4 .2 1.2 0 1.2 .4 1.3 .2 1.3 .1 1.4-.1 1.1-.1 1.6 0 1.1-.6 1.1-.4 1.1-.1 1.1-.4 1.3-.2 1.1-.3 1.1-.4 1-1 1.3-.7 1.4-1 .7-.8 1.3-.9 .8-1.1 1-.9 1-1.3 .4 0-.1M221.8 88.3l-1.2 .2-1.1-.3-1.1-.5-1-.9-.5-1.2-.4-1.3 0-1.3-.5-1.1-.3-1.2-.3-1.3-.6-1.3-.5-1.3-.5-1.4-.5-1-.5-1.1-.6-1.2-.3-1.1-.7-1.3-.5-1.1-.5-1.3-.8-1.3-.3-1.3-.5-1.2-.4-1.4-.2-1.3 0-1.4 .1-1.3 .6-1.2 1.2-.6 1.4 0 1.5 .3 1.5-.2 1.4 0 1.2 .1 1.6 0 1.3-.1 1.2 .1 1.6-.2 1.4 .1 1.4 0 1.4 0 .9 .9 .3 1.2 0 1.4-.2 1.4-.1 1.2-.2 1.3-.2 1.3-.2 1.1-.5 1.1-.1 1.4-.5 1.6-.2 1.2-.4 1.4 0 1.2-.5 1.1-.3 1.3 0 1.2-.1 1.3-.3 1.3-.4 1.2 0 1.4-.2 1.3 .1 1.3-.5 1.4-.9 1.2-.5 .2M222.2 132.3l-1.3 0-.9-.6-1-.9-1-.7-.8-.9-1-.7-.7-1.1-.8-1.2-1-.8-.6-1.1-.5-1.1-.3-1.4-.5-1.1-.1-1.3-.5-1.4-.2-1.5-.1-1.3-.4-1.4 .1-1.2 .4-1.4 .2-1.4 .3-1.2 .2-1.4 .3-1.3 .1-1.4 .4-1.1 .6-1.4 .3-1.6 .6-1.4 .3-1.1 .5-1.1 .9-1 .8-1.4 .9-1.1 .6-1 .9-1.1 1.2-.7 1 .6 .7 1 .7 .9 1.1 1 .9 .9 .8 1.2 .8 1 .6 .9 .7 1.1 .5 1.1 .6 1 .7 1.1 .5 1.3 .1 1.3 .3 1.3 .2 1.5 .4 1.3 .2 1.4 0 1.3 .1 1.3 .1 1.3 0 1.1-.3 1.6-.3 1.2-.3 1.1-.1 1.2-.3 1.3-.5 1.2-.3 1.1-.7 1.2-.6 .9-.7 1.1-.9 .7-.5 1-.8 .9-1.1 1-1 .8-.4 .4M220 84.2l-.7-.9-.6-1.1-.7-1.4-.5-1.3-.5-1.4-.5-1.4-.3-1.1-.8-1-.8-1-.6-1.2-.5-1.4-.3-1.1-.6-1.1-.2-1.2-.5-1.1-.2-1.2-.6-1-.2-1.1-.1-1.5 0-1.4 .9-1.1 1.3-.5 1.4 0 1.2 0 1.5-.1 1.2 .1 1.2 0 1.3-.1 1.5 .2 1.1 0 1.2 .3 .7 1.1 0 1.3 0 1.4 0 1.2-.3 1.2-.2 1.3-.1 1.2-.2 1.5-.5 1.3-.3 1.2-.3 1.4-.3 1.2-.4 1.1-.2 1.1-.3 1.3-.2 1.4-.1 1.4-.3 1.3-.6 1-.7 1-.3 .2M221.9 131.7l-1.2-.2-1-.6-1.3-1.1-1-.6-.8-1-.8-1.1-.9-.9-.6-1.1-.9-.7-.5-1-.4-1.3-.2-1.2-.5-1.1-.1-1.5-.2-1.5-.2-1.1-.2-1.2-.1-1.2 .1-1.3 .2-1.3 .2-1.1 .4-1.4 .2-1.5 .2-1 .1-1.3 .5-1.1 .2-1.3 .8-1.5 .3-1 .5-1.1 .8-1.1 .5-1.1 .5-1.1 .9-1.1 .8-.9 .8-1.2 1-.6 .9 .7 .7 .9 .9 .7 .9 .7 .7 .9 .7 1.1 .8 .8 .6 1 .5 1.1 .8 1 1 1.2 .2 1.4 .5 1.4 .3 1.1 .3 1.4 .4 1.3 .2 1.4 .4 1.3-.2 1.3 .1 1.3 .2 1.3-.2 1.4-.4 1.3-.1 1.5-.4 1.1-.4 1.4-.3 1.3-.4 1.4-1 1.1-.5 1-.8 .8-.6 .9-.7 1.2-1 .9-.9 .8-1 .9-.3 .1M219.6 75.1l-1.3-.4-.9-.8-1-.8-.8-1.1-.6-1-.6-1.3-.2-1.5-.1-1.2 0-1.2-.4-1.4-.2-1.4 .6-1.2 1.1-.5 1.4-.2 1.4-.1 1.2 0 1.4-.1 1.3 .7 .8 .9 .1 1.3 .2 1.5 0 1.2-.1 1.7-.4 1.2-.1 1.5-.5 1.2-.5 1.1-.8 .8-.7 .9-.3 .2M221.8 131.2l-1.2-.2-.9-.7-.8-.8-1.1-.5-1-.8-.6-1.1-1-1-.7-1.2-.8-1.3-.5-1.4-.5-1.2-.2-1.4-.3-1.4-.5-1.2 0-1.3-.3-1.6 0-1.3 .1-1.2 .4-1.3 .3-1.3 .2-1.3 .1-1.5 .3-1.3 .4-1.1 .4-1.4 .3-1.2 .4-1 .4-1.2 .5-1.1 .5-1.1 .7-.9 .8-1.1 .8-1 .6-.9 1-.8 1.3 .5 .8 1.1 .9 .7 1.1 .8 .8 .8 .6 1.4 1 1.2 .7 1 .6 1.1 .4 1 .6 1.1 .4 1.2 .3 1.4 .3 1.3 .5 1.4 .2 1.4 .1 1.4 .1 1.4 .2 1.1 0 1.4-.2 1.3-.3 1.4-.4 1.2-.3 1.5-.3 1.3-.3 1.4-.5 1.1-.7 .9-.6 1-.6 1.2-.9 .9-.8 .9-.8 .9-1.2 .9-.8 .5M219.7 72l-1.3 .2-1.3-.9-.7-.8-.7-1.3-.2-1.2 0-1.4 .6-1.3 .6-1.1 1-.6 1.5-.1 1.4 .8 .4 1.2 .2 1.2 .3 1.3-.1 1.1-.4 1.6-1 1-.4 .2M222 130.7l-1.1 0-1.1-1-1.4-.9-1.1-.9-.6-.9-1.1-1.2-.7-.9-.9-1.4-.3-1-.8-1.1-.2-1.5-.1-1.4-.2-1.3-.2-1.5-.6-1.4 0-1.4 .4-1 .1-1.5 .6-1.4-.2-1.2 .3-1.1 .4-1 .1-1.1 .1-1.3 .4-1.3 .6-1.1 .4-1.1 .5-1.1 .7-1.3 .7-1.5 .9-1.1 1-1 1-.7 1.4 .3 .9 .8 .8 .9 1.1 1 .8 .8 .5 1.2 1 1.1 .6 1 .7 1.2 .5 1 .6 1.2 .4 1.3 0 1.4 .3 1.4 .2 1.2 .3 1.4 .1 1.3 .3 1.2 .2 1.4-.3 1.4-.4 1.3-.1 1.4-.3 1.4-.3 1.3-.5 1.3-.3 1.3-1 1.3-.9 1.2-.8 1-.9 1.2-.8 1-.9 1-.9 .5M218.7 70.1l-1-.5-.5-1.4 0-1.2 .9-.8 1 .5 .9 1.1-.2 1.3-.8 1.1-.2 0M221.4 130.1l-1.1-.4-1.1-1-1.2-.8-1-.9-.9-1.1-.8-.9-.8-.9-.6-1 0-1.2-.3-1.2-.4-1.2-.3-1.1-.2-1.1-.4-1.1 0-1.3-.1-1.4 .3-1.4 .2-1.5 0-1.2 .3-1.4 .2-1.4 .3-1.2 .3-1.2 .4-1.3 .2-1.2 .7-1.1 .6-1.3 .6-1.2 .6-1.1 .9-1 .6-1.1 1-1 1.3 0 1.2 1.2 .9 .8 .8 .7 1.2 1.1 .5 1 .8 .9 .5 1 .6 1.1 .4 1 .4 1.2 .3 1.1 .4 1.3 .5 1.3 .1 1.3 .1 1.5 .3 1.4 .1 1.3 .1 1.2-.4 1.4-.3 1.3-.2 1.2-.5 1.5-.2 1.1-.1 1.1-.4 1.4-.6 1.1-.7 1-.9 1.1-1.1 1.5-1 1.1-1.2 .7-.9 .2M221.8 129.5l-1.2-.2-1.1-.6-.9-.5-.8-1-.7-.9-.9-1.2-.9-1.2-.8-1.2-.4-1.2-.3-1.4-.2-1.2-.4-1.4-.3-1.5-.2-1.3 0-1.3-.2-1.4 .3-1.3 .3-1.4 .3-1.3 .2-1.1 .3-1.5 .3-1.3 .3-1.3 .7-1.6 .6-1.2 .3-1.1 .8-1.4 .5-1 1.2-1.2 .9-.7 1.4 .3 1.1 .9 1.2 .6 .5 1.1 .7 .9 .8 1.2 .7 1 .8 1.2 .5 1.1 .5 1.2 .3 1.3 .2 1.5 .3 1.3 .4 1.3 .1 1.5 .4 1.3 .1 1.6-.2 1.3-.4 1.4-.3 1.4-.3 1.2-.2 1.4-.4 1.1-.4 1.6-.7 1.1-.7 .9-.8 1-.9 .9-.6 .9-.9 .8-.9 .7M221.6 128.7l-1.2-.5-1.2-.6-.9-.8-1-.9-.8-.9-.6-.9-.9-1.2-.4-1.6-.3-1.2-.4-1.2-.4-1.4-.3-1.5-.4-1 .1-1.5 .3-1.5 .1-1.2 .2-1.5 .1-1.3 .3-1.4 .5-1.3 .2-1.2 .4-1.2 .5-1 .4-1.4 .7-1 .6-1.1 .7-1.4 .8-.7 .9-.8 1.4 0 .8 .8 .8 .8 1.2 .9 .8 1.1 .7 1 .6 1.1 .7 1.2 .4 1.4 .4 1.4 .5 1.1 .3 1.4 .1 1.2 .2 1.2 .3 1.1 .1 1.4 0 1.4-.2 1.1-.2 1.3-.3 1.4-.4 1.4-.4 1.5-.3 1.3-.3 1.2-.6 1-.8 .7-.6 1-.8 .9-.8 .9-1.2 .8-.3 .3M221.7 127.6l-1.4 .1-1.1-.9-.9-.9-.8-.8-.9-1.1-.8-.8-.4-1.4-.5-1.4-.4-1.3-.1-1.3-.6-1.1-.1-1.5-.1-1.3 .2-1.3 .1-1.4 0-1.3 .1-1.4 .3-1.3 .2-1.3 .2-1.5 .7-1.3 .6-1.5 .7-.9 .6-1.4 .8-1.3 .6-.9 1.4-.6 1.1 .1 1.1 .8 .9 1 .7 1.3 .9 1 .9 1.3 .7 1.3 .3 1.2 .4 1.1 .3 1 .3 1.4 .2 1.3 .2 1.1 .1 1.4 .2 1.5 0 1.5-.4 1.4-.4 1.4-.2 1.6-.4 1.4-.6 1.1-.3 1.4-.6 1.1-.7 .9-1.1 1-1.1 .8-1 .8M222.2 125.3l-1.3 .4-1.2-.3-1.4-.9-.9-1.2-.7-1-.5-.9-.5-1.4-.5-1-.1-1.2-.3-1.1-.1-1.5 0-1.4-.5-1.3 .1-1.5 .2-1.5 .4-1.2 .2-1.1-.1-1.4 .5-1.4 .7-1.2 .5-1.2 .7-1.3 .8-1.1 .8-.8 1-.7 1.5 .2 1.1 .4 .7 .9 .7 1 .7 .9 .5 1 .8 1 .4 1.4 .2 1.3 .4 1.3 .4 1.5 .1 1.3 0 1.3 .3 1.1-.4 1.3 0 1.3-.2 1.2-.3 1.3-.4 1-.3 1.4-.6 1.2-.6 1.5-.9 1.2-1 .9-.9 .3M222.2 123l-1.1 .5-1.4-.2-1-.5-.8-1.1-.6-1.2-.8-1.2-.6-1.4-.2-1.6-.2-1.2-.1-1.3-.1-1.2 0-1.2 .1-1.3 .1-1.4 .3-1.5 .4-1.1 .2-1.3 .6-1.1 .8-1.4 .8-.8 1.1-.7 1.3-.4 1.1 .1 1 .8 .8 1 .8 .9 .6 1.3 .5 1.1 .3 1.2 .2 1.4 .3 1.3 0 1.2-.1 1.2 0 1.5 0 1.4-.1 1.1-.4 1.2-.3 1.1-.4 1-.4 1.1-.8 1.1-.6 .9-1 .8-.1-.1M220.9 121.5l-1.2-.5-1-.8-.7-.9-.5-1.1-.6-1.3-.2-1.2-.2-1.4-.1-1.3 0-1.3-.1-1.3 .2-1.2 .1-1.2 .2-1.1 .6-1 .6-1 .8-1.1 .8-.8 1.2-.6 1.1 0 1 .7 .4 1 .9 .9 .5 1.3 .2 1.3 .5 1.4 .3 1.5 .2 1.3-.1 1.3-.3 1.5-.3 1.4-.5 1.4-.4 1.6-.8 1-1.2 .8-1.1 .5-.4 .1M221.5 119.3l-1.1-.2-1.2-.9-1-1.3-.5-1.3-.1-1.4-.2-1.3 0-1.2 0-1.3 .2-1.3 .5-1.5 .4-1.4 1-1.2 1.1-.5 1.3 .3 .8 .9 .7 1 .5 1.5 .4 1.3 0 1.2 .1 1.4 .2 1.3-.3 1.2-.4 1.4-.5 1.1-.6 1-.8 .8-.3 .3M221.3 117.2l-1.1-.2-.8-1-.7-1.2-.3-1.4 0-1.3 .2-1.3 .1-1.3 .4-1.2 .7-1 1.1-.7 1.2 .3 .6 1.2 .3 1 .3 1.3 .2 1.2-.1 1.4-.1 1.4-.4 1.2-.6 1-.9 .6" fill="none" stroke="#000" stroke-width="0.68" stroke-linejoin="round"/></g><clipPath id="cP3"><rect x="342.5" y="43.7" width="106.9" height="105.6"/></clipPath><g clip-path="url(#cP3)"><path d="M394.3 96.1h1M384 131.8h1M397.1 133h1M393.2 99.4h1M409.5 119.5h1M433 91h1M392 139.6h1M423 147.1h1M441.5 93.3h1M444.7 116.6h1M363.8 85.9h1M363.1 95.5h1M346.5 90.5h1M382.9 124.8h1M448.7 101.7h1M375.9 132.5h1M422.7 123.3h1M394.8 125.6h1M393.9 135.5h1M435.7 123.4h1M400.9 119.1h1M384.1 123.2h1M343.6 106.5h1M387.1 121.3h1M411.7 117.1h1M376.8 105.5h1M380.3 128.7h1M411.8 115.6h1M389.8 76.7h1M376.4 86.1h1M389.1 92.3h1M362.4 95.9h1M385.3 101.2h1M427.6 113.6h1M384.9 118h1M382.8 90.2h1M423.9 112.9h1M371.3 66.3h1M377.7 115.9h1M402.3 102.6h1M393.1 108.8h1M381.4 96.3h1M375.9 93.8h1M439.8 90.5h1M382.3 46.5h1M385.5 102h1M425.2 119.7h1M358.7 84h1M364.1 82.5h1M400 113.2h1M380.7 117.7h1M418.7 135.8h1M392.8 107.4h1M393.7 45.2h1M350 80.5h1M419.4 127.7h1M381.2 93.5h1M447 108.9h1M360.7 86.5h1M383.2 98.4h1M446.1 147.5h1M422.9 133.4h1M376.7 84h1M363.7 92.5h1M397.3 98.3h1M416.3 125.3h1M447.6 86.7h1M377.1 94.1h1M370.7 87.3h1M406.1 117.3h1M377.5 107.4h1M359.1 92.6h1M432.4 86h1M403.5 132.7h1M380.3 111.9h1M369.2 80.9h1M376 103.3h1M412.1 129.1h1M378.4 54.5h1M386.6 117.5h1M410.3 109.7h1M370.5 80h1M384.5 73.8h1M393 97.5h1M364.7 73.4h1M412.9 109.3h1M366.7 92.2h1M406.1 128.5h1M399.7 116.5h1M371.9 91.3h1M395.8 99.9h1M402.4 121.7h1M402.8 102.4h1M398.7 113.6h1M417.4 110.4h1M390 91.5h1M397.3 112h1M406.1 113.6h1M403.8 115.3h1M378.8 103.5h1M403.6 108.3h1M406 117.9h1M409.1 118.1h1M390.7 117.2h1M410.7 122h1M394.6 104.2h1M408.3 108.4h1M408.3 110.6h1M385.6 115.8h1M395.5 116.9h1M396.9 120.7h1M385.2 114.9h1M419.9 113.2h1M396.9 103.5h1M409.8 112.9h1M400.9 103.2h1M392.3 103.5h1M415.3 107.5h1M409.1 115.7h1M393.6 124.6h1M403.2 103.3h1M394.5 127.3h1M414.5 135h1M405.9 112.8h1M420 120.5h1M425 121.2h1M394.9 118.8h1M416.5 107.6h1M410.8 117.4h1M396.3 110.4h1" stroke="#111" stroke-width="1.0" fill="none"/><path d="M418 107.2l-1.2 .2-1.4 .2-1.3-.2-1.4-.4-1.2-.2-1.2-.4-1.2-.7-1.2-.7-.9-.7-.9-.8-1-1.4-.9-.9-.7-1.2-.6-1.3-.7-.9-.7-.9-.6-1.3-.2-1.1-.7-.9-.7-1.1-.7-1.3-.5-1.1-.1-1.4-.5-1.3-.2-1.4-.3-1.3-.4-1.1-.3-1.4-.3-1.1-.2-1.2-.1-1.3-.3-1.2-.3-1.3-.3-1.4-.4-1.5-.1-1.1-.3-1.1-.2-1.3-.3-1.3-.1-1.2-.4-1.4-.4-1.3-.3-1.5-.6-1.3-.3-1.5-.1-1.2-.5-1.2-.4-1.1 0-1.3-.2-1.3 .6-1.4 .9-.7 1.3-.3 1.2-.3 1.2-.5 1.3 .1 1.5 0 1-.3 1.5-.2 1.2-.3 1.3-.1 1.4 .2 1.5-.4 1.4-.4 1.3-.4 1.3-.6 1.6 0 1-.4 1.6 .1 1.2-.1 1.3 0 1.4-.1 1.2 .2 1.3 .4 1.4 .7 1.1 .4 1.1 .6 .9 .7 .9 .7 .9 .9 .6 1.1 .8 1 .7 1.2 .7 1.3 .5 1.2 .6 1 .5 1 .6 1.3 .2 1.2 .2 1.3 .2 1.1 .2 1.4 0 1.1 .3 1.5 0 1.5 .3 1.1-.1 1.4-.4 1.3 .1 1.2 .4 1.2 0 1.5-.2 1.4-.2 1.1-.1 1.5 0 1.3-.2 1.6-.1 1.2-.1 1.3-.3 1.2-.3 1.3-.7 1.3-.2 1.3-.3 1.4-.6 1.4-.5 1.4-.5 1.1-.5 1.3-.9 .7-.5 1.1-.5 1.1-1.4 1-1.2 1.4-1.2 .7-1.1 .5-.8 .7-1.5 .4-1.1 .2-.3-.1M359.7 74.3l-1.4 .3-1.1 .1-1.4-.2-1.5-.5-1.1-1.2-.8-.9-.5-1.3-.9-.8-.3-1-.3-1.4-.7-1.4-.5-1.3-.6-1-.6-1.1-.3-1.1-.3-1.2-.5-1.1-.5-1.3-.4-1.2 .3-1.2 .2-1.1 .5-1.4 .5-1.1 1.2-1 1.1-.5 .8-.8 1.5-.2 1.6-.1 1.3-.1 1.6-.1 1.2-.2 1.6 .1 1.4 0 1.2 .1 1.1-.1 1.5 0 1.4-.3 1.2 0 1.4 .3 1.1 .7 1.3 .5 1.2 .8 1.1 .6 .9 .8 .9 1.1 .4 1.5 .5 1 .4 1.3-.2 1.4-.1 1.3-.3 1.1-.7 1.2-.6 1-1 1-.5 1-1 .8-1.3 .8-1.2 .8-.8 .7-1.2 .6-1 1-1 .6-1.4 .7-.9 .7-1.4 .9-1 .6-.9 .7-.2 0M356.5 137l-1.5 0-1.2 0-1.3-.4-1.4-.7-1-.6-.8-.8-1.3-.7-.9-1-.7-.9-.5-1.2-.7-1-.4-1.3-.1-1.2 0-1.2-.1-1.4 .4-1.3-.2-1.6 .2-1.3 .3-1.2 .4-1.2 .5-1.3 0-1.1 .3-1.2 .4-1.5 .5-1 .6-1.1 .4-1 .6-1.2 .3-1.2 .8-1.1 .8-.7 .8-1.4 .7-1.2 1-.6 1-.9 .9-.7 1.3-1 1.1-.6 1.1-.3 1.4-.4 1.3-.4 1.2 .1 1.4-.1 1.4-.2 1.5 .3 1.1 .2 1.2 .7 1.1 .2 .6 1.2 .8 .7 1 .8 1 1.1 .5 1 .7 1.4 .4 1 .5 1.4 .4 1.3 .1 1.2 .2 1.4-.1 1.4-.1 1.4-.1 1.2-.2 1.5-.3 1.2-.4 1.3-.4 1-.5 1.1-.6 1.1-.5 1.1-.7 .9-.9 1.1-.6 1.1-.8 1-.8 .8-1 1.2-.9 .8-1 .6-.7 .9-1.1 .8-.8 .8-1.3 .4-.9 .5-1.4 .6-1.1 .5-1.4 .8-1.5 .1M353.6 147.7l-1.4 .1-1.1 .2-1.4 .4-1-.5-1.4-.4-1.1-.4-1.1-.5-1.2-.6-.4-1.2 .2-1.3 1-1.2 .9-.9 1.3-.6 1.5-.3 1.2-.5 1.2-.3 1.2 .1 1.3-.2 1.1 .1 1 .5 1.2 .2 1.1 1 1.1 .9 .7 1.1-.3 1.2-.3 1.1-1 .7-1.1 .5-1 .5-1.1 .4-1.3 0 .1-.2M416.6 105.7l-1.3 0-1.3-.3-1.3-.3-1.3-.4-1-.4-1.1-.7-1-.9-1-.7-.7-1-1-.9-.8-1.3-.7-1.1-.3-1.1-1-1.1-.4-1.1-.8-1-.7-1.1-.4-1.2-.2-1.2-.6-1.2-.3-1.3-.3-1.1-.5-1.1 0-1.2-.4-1.2-.1-1.2-.1-1.3-.1-1.4-.3-1.4-.2-1.3-.1-1.3-.1-1.5 0-1.1-.3-1.2-.3-1.5-.1-1.3-.1-1.2 .2-1.2-.2-1.6-.3-1.1-.2-1.6-.2-1.4-.4-1.1 .1-1.1 .1-1.2 .8-1 1-.4 1.4-.5 1.2-.9 1.3-.2 1.5-.3 1.2-.5 1.5-.5 1.2-.4 1.3-.6 1.5-.3 1.1-.4 1.2-.4 1.3-.3 1.2 .1 1.3-.1 1.2-.3 1.3 .3 1.3 .5 1.1 .2 1.2 .3 1.3 .7 1 .7 1.1 .9 .8 1 1 .7 .7 .9 .7 1.2 .6 1.4 .7 1.3 .5 1.2 .4 1.5 .5 1.2 .2 1.2 .3 1.4 .2 1.3 .2 1.4-.2 1.3 .3 1.4 .1 1.3 .2 1.3 .1 1.4-.2 1.3-.1 1.4-.2 1.3 0 1.4-.2 1.3-.3 1.3 .1 1.4-.2 1.2-.3 1.1-.3 1.1-.2 1.6-.4 1.1-.4 1.5-.3 1.2-.6 1-.5 1.2-.7 1.2-.4 1.1-.6 1-.7 1.1-1.1 .9-.8 .8-1 .7-.9 .8-1.3 .7-1.3 .5-1.4 .4-1.1 .2-.2 0M359.1 71.6l-1.5 0-1.5-.4-1-.8-.9-.7-.6-1.2-.5-1.1-.5-1.1-.4-1.2-.7-1.3-.6-1.2-.3-1.3-.5-1-.6-1.1-.4-1.1-.3-1.2 .1-1.5 .5-1.4 .7-1.1 1-.6 1.2-.1 1.5-.2 1.5-.4 1.4 .1 1.2 .1 1.4-.2 1.2 0 1.3 0 1.4-.1 1.1-.1 1.5-.1 1.5 .4 1.3 .5 1.5 .1 1.2 .8 .9 .8 .9 .7 .9 1.3 .3 1.2-.1 1.1 0 1.2-.4 1.5-.4 1.4-1.1 .7-1.3 .7-.9 .7-1.2 .5-1.3 1.1-.9 .7-1.2 .7-1 .6-1 .7-1.1 1-1.4 .6-.9 .6-1.1 .5 .1 .2M358.1 133.2l-1.1 .3-1.2 0-1.4 0-1.1-.2-1.2-.3-1.1-1.1-1.1-.5-.9-1.3-.6-1.3-.6-1.1-.5-1.4-.2-1.2 .2-1.4 .1-1.5 .4-1.3 .1-1.3 .1-1.2 .2-1.3 .4-1.1 .5-1.1 .4-1.5 .6-1 .2-1.3 .5-1.2 .7-1.3 .7-.9 .6-1.4 .9-.7 1-1 1.1-.7 .8-.9 .9-.9 1.2-.3 1.3-.7 1.5-.2 1.6-.1 1.5 .1 1.3 .1 1.2 .3 1.1 .5 1.1 .6 .9 .8 .9 1.1 1 .9 .3 1.1 .6 1 .6 1.2 .1 1.1 .4 1.4 .1 1.5-.2 1.5-.1 1.4-.1 1.1-.4 1.1-.3 1.1-.4 1.4-.8 1.3-.5 1.4-.8 .8-.9 1.3-.8 1.2-1 .6-.7 1.1-.9 1-1.2 .7-1 .9-.7 .8-1 .6-1.3 .6-.9 .7-1.3 .1-.7 .1M353.1 145.6l-1.4 .1-1.5-.1-1.3-.4-1-.8 .4-1.1 1.1-.6 1.5-.3 1.4 0 1.3 .3 .9 .7 .3 1.1-.9 .9-.8 .3M417.1 103.7l-1.5 .1-1.1 0-1.4-.3-1-.4-1.3-.7-1.1-.3-.9-.7-.9-.9-.7-1.2-.8-1-.7-.9-.8-1.3-.9-1.2-.4-1.1-.7-1.3-.3-1.3-.6-1.1-.5-1.6-.5-1.1-.2-1.2-.5-1.1-.3-1.1-.1-1.3-.2-1.6-.2-1.4 0-1.4-.3-1.2 0-1.4-.1-1.1 .2-1.5-.5-1.3 0-1.2 .1-1.3 0-1.4 0-1.3 .3-1.4 .1-1.3 .4-1.5 .1-1.2 .7-1 .5-1.1 .8-1.1 .7-1 .9-.8 1.4-.7 1-1 1.3-.6 1-.6 1.3-.5 1.4-.4 1.4-.7 1.1 .2 1.1-.2 1.5-.1 1.3 .3 1.4 0 1.3 .4 1.1 .6 1.5 .4 1.2 .8 1 .9 .9 .8 .8 .9 1.1 1.2 .4 1.3 .6 1.1 .4 1.3 .3 1.1 .5 1.1 .4 1.3 .2 1.5 0 1.2 .2 1.2 0 1.2 .4 1.4-.1 1.4 .1 1.5 0 1.4 0 1.3 .2 1.2-.2 1.5-.4 1.5 .1 1.3-.2 1.1-.3 1.6-.6 1.4 .1 1.3-.4 1.4-.6 1.3-.1 1.2-.5 1.4-.5 1.4-.6 1.1-.6 .9-.6 1.2-.9 1.3-.8 1.2-1 .6-.8 .8-1.4 .7-1.5 .5-1.3 .5-1 .2M360 67.2l-1.5 .2-1.4-.4-.9-1-.9-.8-.3-1.6-.8-.9-.4-1.3-.5-1.5-.5-1.2 0-1.5 .7-1.4 1-.7 1.2 .1 1.5-.4 1.4-.2 1.4-.1 1.5-.1 1.3 .1 1.2-.1 1.4 0 1.5-.2 1.4 .3 1.5 .5 1.5 .7 .9 1.1 .4 1.1 0 1.1-.2 1.2-.9 1.3-1.2 .6-.8 .8-1.5 .6-1.5 .5-1.1 .1-1 .7-1.2 .6-.9 .7-1.3 .5-1.2 .6M356.9 130.7l-1.4 .1-1.3-.5-1.3-.4-.9-.6-.4-1.5-.9-1-.3-1.1-.2-1.3-.1-1.3 0-1.2 .1-1.4 .4-1.2-.2-1.2 .3-1.4 .4-1.2 .5-1.4 .2-1.4 .6-1.2 .6-1.3 .6-1 .7-.9 .8-1.1 .8-1 1-.9 .9-.8 1.2-.5 1.6-.4 1.3-.3 1.3-.1 1.3 .2 1.2 .2 1.3 .6 1.1 .5 1 .8 .9 .9 .5 1.2 .4 1.1 .5 1.1 .3 1.4 .2 1.3-.1 1.4-.3 1.5 .1 1.1-.5 1.4-.4 1.1-.3 1.1-.4 1.1-1.1 1.2-.9 1.1-.8 1-1 .7-.8 .9-.8 .8-1.1 1.1-1.1 .7-.9 .6-1.2 1-1.4 .1-1.6 .2-.2 .1M418.7 102.1l-1.3 0-1.3 .1-1.1 0-1.3-.4-1.2-.2-1.3-.6-1.2-.4-.7-1-1-.9-1-1.3-.7-1-.9-1-.6-1-.4-1.1-.5-1.1-.6-1.4-.6-1.4-.2-1.2-.7-1.3-.5-1.4-.3-1.3-.2-1.4-.2-1.2 0-1.2-.1-1.1-.1-1.2-.3-1.5 0-1.2 0-1.2 .3-1.5 .1-1.4 0-1.3-.2-1.3 .2-1.1 .2-1.3 .3-1.1 .4-1.4 .2-1.3 .4-1 .5-1.3 1-1.1 .8-1 .7-.9 1-.8 1.2-.9 .8-.9 1.3-.3 1.2-.4 1.3-.5 1.6-.3 1.2-.2 1.3 .2 1.2 .2 1.1 .1 1.3 .3 1.4 .4 1.1 .4 1.2 .8 .9 1 .9 .9 .7 1 .5 1.1 .7 .9 .7 1.3 .3 1.4 .5 1.1 .3 1.1 .4 1.1 .3 1.2 .3 1.5 .1 1.3-.1 1.8 .1 1.4-.1 1.5 .1 1.2 0 1.2-.2 1.3 0 1.2-.2 1.7-.2 1.1 .1 1.2-.3 1.2-.3 1.5-.3 1.2-.2 1.5-.5 1.1-.5 1.5-.5 1.3-.5 1.1-.7 1.2-.6 .9-.7 1.2-.7 .9-.9 .7-.8 .9-1.4 .9-1.1 .8-.8 .3M366.7 61.7l-1.3 .1-1.4-.2-1.2-.4-1.2-1 .2-1.4 .9-.9 1.1-.6 1.3-.7 1.2-.4 1.4 0 1.4 .3 .9 .9 .6 1 .2 1.2-.8 .8-1.3 .7-1.2 .4-.9 .1M359.2 127.3l-1.1 .3-1.6-.4-1.3-.4-.8-.9-.8-1.1-.4-1.2-.5-1.4-.1-1.5 .2-1.4 .2-1.3 .2-1.3 .3-1.4 .4-1.2 .6-1.3 .3-1.2 .9-1.1 .6-1.1 .9-.7 .5-1.1 1-.4 .9-.7 1.6-.5 1.2-.3 1.2 .2 1.1 .4 1.1 .3 1.3 .8 1 1.2 .8 1.2 .7 1.6 0 1.2 .2 1.3 0 1.2-.5 1.2-.4 1.3-.7 1.6-.6 1.4-.6 1-1 .9-.9 1.3-1.2 .9-.8 .9-1.3 .4-1.3 .8-1.5 .4 .1 0M417.6 100.8l-1.4 .2-1.1-.2-1.3 0-1.3-.5-1.1-.8-1.4-.6-.9-1-.8-.8-.7-1.1-.9-1-.5-1.1-.5-1.1-.6-.9-.2-1.1-.6-1-.6-1.4-.2-1.3-.3-1.1-.6-1.5-.4-1.1-.2-1.2-.1-1.5-.1-1.3-.2-1.4 0-1.3 0-1.3 0-1.4 .2-1.3 .1-1.4 0-1.3 0-1.3 .3-1.3 .3-1.1 .3-1.3 .5-1.3 .5-1.4 .4-1 .6-.9 .8-1.4 .8-.8 .7-1.2 1.2-.5 1.3-.6 1.3-.8 1.1-.1 1.2-.2 1.2-.3 1.4 0 1.5 0 1.2 .1 1.4 .3 1 .7 1.4 .7 1.1 .9 1.3 .8 .8 .8 .3 1.3 .6 1.3 .6 .9 .5 1.1 .6 1 .2 1.4 .2 1.7 0 1.3 .4 1.2 .1 1.4 .2 1.3 0 1.4 0 1.2-.1 1.7 0 1.5-.1 1.5 0 1.3-.3 1.3 .1 1.2-.3 1.5-.4 1.1-.2 1.2-.3 1.1-.6 1.4-.3 1.4-.8 1-.5 1.5-.6 1-1 1.1-.4 1.1-.9 .7-.9 .8-.9 .7-1.3 .9-1.2-.1-.8 .3M360 123l-1.3 0-1.4-.1-.8-.8-.3-1.5-.3-1.3-.1-1.4-.1-1.1 .2-1.2 .4-1.3 .8-1.3 .5-1.2 .6-1.3 1.2-.7 1-.8 1.1-.5 1.3-.2 1.4 0 .7 .9 1.1 .8 .7 1.3 .4 1.2 0 1.3 0 1.4-.2 1.2-.6 1-.4 1.1-.8 1-.6 1.1-1.1 1.1-.9 .7-1.2 .3-1.2 .4M417 99.4l-1.2-.1-1.3 .1-1.4 0-1-.6-1-.7-.8-.9-1-1-.8-.9-.6-1-.8-1-.5-1.3-.6-1.2-.6-1.2-.7-1.4-.5-1.2-.4-1.3-.4-1.7-.1-1.4-.2-1.5-.1-1.5-.2-1.3-.2-1.3 .1-1.5 .1-1.4 .2-1.4-.1-1.3 .1-1.2 .2-1.4 .2-1.3 .4-1.3 0-1.1 .4-1.1 .5-1.1 .7-1.4 .7-1.3 .8-.9 .9-.7 .9-.8 1-.6 1.1-.8 1.4-.5 1.3-.5 1.2 .2 1.4-.1 1.4 .2 1.3 .1 1.3 .5 1.1 .5 1.2 .9 .9 .9 .9 .7 .8 1.3 .8 1 .6 1.1 .3 1.3 .5 1.4 .3 1.1 .3 1.3 .5 1.5-.1 1.3 0 1.3-.1 1.5 .4 1.2 0 1.2-.3 1.4-.1 1.3 .1 1.3-.1 1.2-.1 1.3-.2 1.3-.3 1.2-.2 1.3-.4 1.4-.5 1.4-.6 1.1-.5 1.2-.4 1.2-.6 1.1-.5 1-.8 1.1-.9 .9-.9 .9-.8 .7-1.3 .8-1.6 .2-.6 .2M361.9 115.8l-.9-.8-.5-1.1-.1-1.4 .1-1.2 .7-1 1.5 0 1.3 .5 .2 1.3-.8 1.3-.6 1.1-.8 .9-.2 .4M416.6 97.7l-1.1 .2-1.2 .3-1.3-.9-1.1-.6-1.1-.9-1.1-.7-.8-1.2-.4-1-1-1.3-.5-1-.9-1.4-.3-1.3-.5-1.1-.4-1.2-.2-1.3-.5-1.4-.3-1.5-.1-1.3 0-1.7 0-1.2-.1-1.3 .1-1.5-.3-1.1 0-1.3 .3-1.5 0-1.3 .3-1.4 .5-1.2 .4-1 .3-1.2 .5-1.2 .8-1.3 .8-1.2 .7-.9 1.1-.7 1-.8 1-.7 1.2-.5 1.3-.4 1.2 .2 1.2-.1 1.4-.2 1.4 .5 1.2 .9 1.6 .7 .9 .8 1 .8 1 1.1 .4 1.2 .8 1 .3 1.2 .5 1.4 .2 1.3 .3 1.1 .3 1.2-.3 1.2 .3 1.3 .1 1.5 .3 1.4 0 1.4 0 1.4-.2 1.4-.2 1.6-.3 1-.3 1.1-.1 1.3-.2 1.3-.3 1.2-.4 1.4-.7 1-.4 1.4-.6 .9-.5 1.5-.6 1-.8 .9-.9 .8-.9 1-1 .7-1.4 .1-1.3 .1-.1 0M417.9 96.2l-1.1 .2-1.4 .1-1.4-.2-1.2-.2-1-.6-1.1-.8-.8-.9-.5-1.1-.9-1-.5-1.3-1-1.3-.4-1.4-.7-.9 0-1.2-.4-1.5-.5-1.2-.2-1.4 0-1.3-.2-1.3 .1-1.3-.2-1.6-.2-1.5 .1-1.2 0-1.5 .2-1.4 .1-1.2 .2-1.2 .2-1.4 .5-1.1 .7-1.1 .5-1.3 .8-1 .8-1 .8-.8 1-.4 1.2-.6 .8-.8 1.3-.1 1-.5 1.4 0 1.4 .1 1.1 .3 1.3 .3 1.4 .8 .9 1.2 .9 .7 .7 .9 .6 .9 .5 1.1 .6 1.1 .4 1.1 .3 1.1 .2 1.2 .1 1.4 .5 1.3 .1 1.4 .1 1.3 .1 1.5-.3 1.2 .1 1.2-.2 1.3 .2 1.5-.1 1.2-.6 1.3-.4 1.5-.3 1.1-.2 1.4-.3 1.2-.5 1.1-1 1.2-.5 1.2-.8 .9-1 .8-.9 1.1-1 .9-1.3 .5-.1 .1M417.8 95l-1.4 .3-1.1-.2-1.5-.1-.9-.7-1.2-.9-1.3-.7-.4-1.1-1.1-1.1-.6-1.2-.7-1.2-.6-1.4-.4-1.3 0-1.2-.7-1.2-.4-1.4 .1-1.3-.3-1.5-.3-1.1 .2-1.6 .2-1.4-.1-1.4-.1-1.2 .3-1.4 .3-1.3 .2-1.1 .3-1.4 .4-1.3 .4-1.3 .7-.9 .8-1 1-1.1 1-.7 1-.8 1.1-.4 1.4-.3 1.1 0 1.4 .3 1.3-.1 1.1 .1 1.1 .4 1 .8 1.1 .8 .8 1 .8 1.2 .5 1.1 .5 1 .3 1.3 .4 1.2 .4 1.5 0 1.4 .3 1.3-.1 1.2 .2 1.2 .2 1.3-.3 1.5 0 1.3-.1 1.6-.2 1.2-.3 1.2-.1 1.5-.6 1.1-.6 1.4-.4 1.3-.5 1-.8 1.1-.4 1-1 1.2-.9 .9-1.1 .4-1.2 .8-.4 .3M416.9 93.4l-1.3 .2-1.1-.1-1.2-.4-1.3-1-1.3-.9-.5-1.3-.7-.9-.7-.9-.7-1.1-.5-1.2-.3-1.2-.4-1-.3-1.1-.2-1.2-.2-1.4 0-1.5-.1-1.3-.3-1.5 .2-1.5 .2-1.5-.2-1.2 .2-1.3 .4-1.3 .6-1.3 .3-1.3 .8-1.5 .7-.8 .6-1.2 .9-.9 1.4-.7 .9-.5 1.4-.4 1.3 0 1.6 .4 1.6 0 1.3 .6 1.1 .9 1 .9 .7 1.3 .8 1 .8 1.4 .4 1.1 .4 1.5 .2 1.1-.1 1.1 .3 1.3 .2 1.3-.2 1.2-.2 1.4-.1 1.5 .3 1.2-.2 1.3-.1 1.2-.4 1.4-.5 1.5-.4 1.3-.7 1.1-.3 1.1-.8 1.2-1 1.2-.9 .9-1 .9-1.1 .6-1.2 .4M417.6 91.7l-1.3 .2-1.3 .1-1.3-.3-1.3-1-.8-1-1.1-.5-.7-1.5-.9-1.3-.6-.9-.6-1.5-.1-1.3-.2-1.2-.3-1.2-.3-1.5 0-1.5 .1-1.1-.1-1.2 .1-1.6 0-1.1 .2-1.2 .1-1.4 .3-1.2 .7-1.4 .5-1.1 .3-1.3 1-.6 .9-1.2 .9-.9 1.4-.4 1.2-.3 1.3-.1 1.3 .1 1.5 .3 .8 .8 1.2 .7 1 .5 1 1.3 .6 1.5 .6 1 .4 1.4 .3 1.1 0 1.2 .1 1.1 .2 1.2 .2 1.2 0 1.3-.1 1.3 0 1.1-.1 1.3-.3 1.4-.1 1.3-.4 1.1-.3 1.2-.7 1.3-.5 1-.7 1.2-.8 1.3-1.1 .8-.9 1-1.1 .4-.4 .1M416.2 90.5l-1.5-.2-1.1-.3-1.1-.4-.7-1-.7-1-.9-1.1-.7-1.2-.5-1.4-.5-1.2-.4-1.2-.3-1.1 .2-1.1 0-1.3-.4-1.4-.1-1.3 .3-1.2 .2-1.4 0-1.3 .1-1.1 .3-1.4 .1-1.3 .7-1 .9-1 1-1 .5-1.3 1.4-.3 1.2-.1 1.4-.2 1.3-.1 1.6 .2 1.1 .3 1.2 1.1 .5 1.2 1 1.1 .5 1.4 .3 1.4 .3 1.5 .3 1.2 .2 1.4 .4 1.2-.3 1.3-.3 1.3 .3 1.2-.1 1.2-.4 1.5-.3 1.4-.7 1.5-.3 1.5-.4 1-1 1.3-.7 .9-1.4 .7-1.2 .7-1.3 .4M417 88.7l-1.2 .2-1.3-.1-1.4-.6-1-1-1-.4-.6-1.5-.5-1-.7-1.3-.5-1.2-.2-1.4-.3-1.5 0-1.3 .1-1.3 .1-1.6-.3-1.2 .1-1.3 .1-1.3 .5-1.2 .5-1.1 .4-1.3 .8-.9 .9-1 1-.8 1-.7 1.3-.1 1.4-.1 1.1 .3 1.2 .1 .9 .5 1.2 1.1 .6 1.1 .6 1 .5 1.2 .4 1.4 .2 1.3 .3 1.3-.1 1.6 0 1.1 0 1.5 0 1.2-.4 1.3 .1 1.5-.3 1.1-.7 1.1-.2 1.2-.7 1-.7 1-.7 .9-.8 .8-1.7 .5M417 87.3l-1.4-.2-1.5-.1-1.1-.8-1.1-.8-.7-1-.9-.9-.4-1.1-.1-1.5-.3-1.1-.2-1.2-.4-1.4 0-1.3 .2-1.4 0-1.5-.1-1.2 .6-1.1 .5-1.3 .4-1.2 .7-1 .5-1.2 1.4-.8 1.3-.3 1.1-.1 1.3 .1 1.2 .3 1 .5 .8 .8 1 .8 .6 1 .4 1.1 .4 1.4 .4 1.3 0 1.2-.3 1.2 0 1.4 .4 1.3-.2 1.2-.4 1.5-.1 1.4-.4 1.2-.6 1.3-.9 1.1-.7 1.2-1 .9-1 .5-.3-.3M417.5 85.8l-1.4 .3-1.2-.4-1.3-.4-1.3-1.1-.8-1.2-.6-1-.3-1.1-.3-1.1-.2-1.5-.3-1.3 .2-1.5 0-1.4 .2-1.4 0-1.3 .6-1.3 .3-1.6 1.3-1.1 1.1-.9 1.3-.4 1.4-.2 1.3 .4 1.3 .8 1 1 .9 1.2 .4 1.2 .4 1.2 .3 1.5 .3 1.2-.2 1.3-.3 1.1-.1 1.3-.1 1.4-.3 1.2-.6 1.5-.5 1.1-.6 .9-1.2 .8-.7 .7M416.5 84.2l-1.2-.1-1.3-.5-1.2-.8-.9-1.2-.3-1.1-.5-1-.4-1.3 .2-1.3-.3-1.4 0-1.3 .2-1.5 .3-1.1 .3-1.1 1-1.3 .9-1 1.1-.8 1.4-.1 1.1 .3 1.6 .7 .8 .9 .8 .9 .2 1.2 .3 1.5 .2 1.2-.1 1.5 .1 1.2-.2 1.5 0 1.4-.3 1.2-.7 1.3-.5 1-1 .7-1.1 .4-.4-.1M416.7 82.6l-1.2 0-1.4-.5-.8-.8-1-1.1-.4-1.3-.4-1.6 0-1.2 .1-1.2 .1-1.2 .2-1.2 .3-1.2 .6-1 .7-.9 1.4-.7 1.5-.1 1.2 .6 .9 .7 .7 1 .3 1.2 .7 1.1 .1 1.2-.2 1.4-.1 1.1 .1 1.1-.5 1.3-.7 1.4-.8 .9-1 .6-.3 .3M416.7 80.8l-1.2-.1-1.1 .1-1-1-.3-1.3-.3-1.2 0-1.4-.1-1.5 .3-1.3 .6-1.3 .7-1 1.3-.2 1.3 0 1 .4 .5 1.2 .3 1.4 .3 1.4 .1 1.4-.1 1.3-.7 1.4-.7 1.1-.7 .6" fill="none" stroke="#000" stroke-width="0.68" stroke-linejoin="round"/></g><clipPath id="cP4"><rect x="38.8" y="172.4" width="105.5" height="106.4"/></clipPath><g clip-path="url(#cP4)"><path d="M124.5 238.5 L144.3 238.5 L144.3 279 L130 279 L126.5 262 Z" fill="#9a9a9a"/><rect x="38.8" y="238" width="1.6" height="27" fill="#555"/><path d="M71.4 264.9h1M72.7 265.3h1M91.3 264.1h1M90.7 263.9h1M70.3 264.3h1M47.4 264.3h1M44.8 264.7h1M52.2 263.9h1M102.4 264.1h1M85.5 265.3h1M84 264h1M96.4 265.1h1M96.6 264.9h1M80.3 265.9h1M75.9 263.8h1M68.2 264.9h1M54.7 263.6h1M110.7 264.4h1M75.9 264.8h1M77.7 264.9h1M86.3 263.7h1M56.9 265.6h1M116.4 264.6h1M110.1 264.9h1M56.5 265.6h1M66.6 265.8h1M70 263.7h1M64.8 264.1h1M86.7 264.1h1M84.8 263.7h1M81.6 265h1M90.8 265.5h1M45.8 263.8h1M71.5 265.6h1M66.2 264.2h1M108.6 265.4h1M114.6 264.5h1M87.5 265.6h1M85.5 264.7h1M64.2 264.6h1M87.8 265h1M99.3 265h1M76.1 264.9h1M76.3 266.3h1M104.4 265.5h1M75.9 264.2h1M79.3 264.8h1M74.9 265.1h1M63.4 264.4h1M83.4 265.3h1M76.5 264h1M90.9 264.6h1M63.1 264.8h1M75.4 264.3h1M69.6 263.9h1M105.9 264.7h1M72.1 264.8h1M92 264.9h1M53.9 264.8h1M68.7 264h1M105.2 264.9h1M78.1 265.5h1M80.9 264.2h1M41.9 265.7h1M79 265h1M87.2 265.2h1M93.2 264.7h1M80.7 265.5h1M88.5 264.8h1M87.3 264.2h1M58.9 264.8h1M72.3 264.1h1M86.9 264.1h1M53.7 266.1h1M80.3 264.6h1M64.5 264.7h1M47.9 264.1h1M82.6 264h1M75.2 265.6h1M72.9 265.1h1M84.3 264.3h1M91.4 264.7h1M104 264.5h1M61.5 263.6h1M48.9 264.6h1M71 264.6h1M57.3 265.6h1M88.9 264.8h1M106.4 264.6h1M73.9 264.9h1M81.2 265.5h1M66.6 263.8h1M73.7 264.3h1M83 264.8h1M121.8 264.2h1M112.8 264.3h1M51 266.8h1M75.4 263.7h1M98.2 264.1h1M72 264h1M72.2 265.6h1M62.2 263.7h1M68.1 265.6h1M81.9 264.4h1M101.8 264h1M65.5 264.4h1M81 263.4h1M71.3 264.3h1M87.4 264.9h1M87.1 265.2h1M62.8 264.6h1M112.6 264.9h1M59.8 265.3h1M87.8 263.4h1M45.7 264.7h1M72.1 263.5h1M105.3 264.6h1M106.1 264h1M79.2 264.7h1M70.2 264.6h1M43.3 265.8h1M70.9 263.8h1M41.3 264.9h1M79.5 265.2h1M74.9 263.1h1M80.5 264.6h1M107.8 265.2h1M60.8 264.8h1M47.2 265.4h1M98.4 263.5h1M49.2 264.8h1M94.2 265.2h1M58.9 264.2h1M109.5 266.4h1M70.6 264.5h1M54.8 264.9h1M112.5 264.6h1M105.4 265.4h1M57.6 264.1h1M80.5 264h1M69.8 265.2h1M111.4 263.4h1M83.2 265h1M107.1 264.5h1M87.6 264.6h1M40.4 265.2h1M78.2 265.4h1M71.1 265.2h1M91.5 264.9h1M69 264.8h1M92 264h1M45.7 265.3h1M82.2 263.8h1M71.7 264.3h1M60.3 265.1h1M106.1 264.7h1M63.6 265h1M86.6 263.9h1M71.5 264.3h1M99.2 266.2h1M109.2 264.2h1M89.2 264.6h1M42.4 263h1M80.2 264.9h1M110.9 264.7h1M76.3 265.2h1M73.7 264.6h1M48.3 265.6h1M50.7 265.3h1M80.7 264.7h1M97.8 263.7h1M53.9 264.5h1M51.9 264.8h1M69.8 264.8h1M101.9 263.7h1M102.8 264.4h1M74.2 264h1M82.7 264.6h1M61.2 265.6h1M65.4 263.4h1M90.6 263.9h1M52.4 265.5h1M108.5 263.9h1M83.6 265.3h1M83.8 265.5h1M76 265.2h1M98.6 265.4h1M95.9 264.2h1M66 264.2h1M67.9 264.4h1M99 264.8h1M55.6 264.5h1M95.7 265h1M80.1 264.6h1M109.9 264.5h1M61.6 265.5h1M76.4 264.8h1M51.2 263.7h1M68.2 265.6h1M101.2 264.6h1M75.5 264.6h1M46.9 263h1M55.3 264.1h1M115.9 265.3h1M42.8 264.1h1M97.8 264.4h1M88.7 265.6h1M65.9 264.5h1M75.5 264.8h1M45.8 264.2h1M87.2 265.5h1M67.1 263.9h1M63.6 264.6h1M82.9 264.3h1M88.8 264.6h1M56.4 264.5h1M89.8 264h1M91.3 266.2h1M81 265.1h1M84.4 264.1h1M101.4 265h1M66.8 264.4h1M47.8 266.4h1M45.6 264.3h1M66.6 264.7h1M83.9 264.7h1M60.8 264.7h1M57.7 265.3h1M52.6 265.2h1M81.5 264.3h1M74.2 264.1h1M102 264.9h1M67.2 263.9h1M85.9 264.8h1M72.2 265h1M48 264.9h1M60.7 264.8h1M63.6 264.7h1M54.3 264.7h1M110.6 265h1M54.7 265.3h1M93 264.8h1M50.1 264.4h1M79.8 264.9h1M85.1 266.1h1M97.6 264.2h1M77 265.4h1M71.4 265.5h1M109.4 265h1M89.2 266.3h1M62.3 264.5h1M75.5 265.2h1M71.3 264.7h1M90.7 264.8h1M115.4 264.2h1M58.7 265.2h1M103.5 264.8h1M82.5 266h1M80.3 264.4h1M75.2 264h1M97.7 264.7h1M73 265h1M42.8 265.2h1M86.8 264.3h1M59.8 263.4h1M106.3 264.3h1M53 263.9h1M90.1 264.5h1M60.6 264h1M49.8 265.7h1M93.6 264.7h1M70.3 264.9h1M62.9 264.3h1M39.3 264.4h1M82 263.7h1M49.3 263.7h1M74.4 264.9h1M45 264.4h1M61.9 265h1M80.4 264.3h1M87.4 264.5h1M55.4 265.9h1M80.5 265h1M91.5 264.8h1M61 264.6h1M112.5 264.8h1M79.4 265.4h1M104.2 265.5h1M83.3 265.8h1M112 263.6h1M54.3 263.9h1M66.5 264.4h1M97.2 263.5h1M66.7 264.9h1M60.6 264.7h1M78.9 264.8h1M96.2 264.4h1M71.9 265.4h1M105.8 264.3h1M49.8 265.2h1M96.1 264.3h1M86.5 264.5h1M113.5 264.8h1M96.3 265.1h1M121.6 265h1M60.5 264.5h1M108.8 264.8h1M60 264.3h1M65.7 265.1h1M79.1 263.8h1M57.8 264.4h1M94.7 263.9h1M91.7 265.1h1M92.2 264.2h1M81 264.3h1M68.5 264.9h1M78.8 265.1h1M59 264.7h1M82.6 264.8h1M90.3 264h1M74.1 264.5h1M97.8 264.9h1M39.6 263.3h1M111.8 264.1h1M47.9 264.8h1M59.3 265.2h1M108 263.7h1M105.5 265.3h1M75.6 264.1h1M104.9 264.4h1M56.4 264.7h1M112.4 265.6h1M73.1 264.5h1M60.7 264.2h1M86.6 265.9h1M106.5 264.5h1M67.4 265.4h1M81.8 265.1h1M56.1 264.9h1M107.7 264.6h1M105.6 264.5h1M97.1 263.8h1M95.1 264.4h1M98.9 264.4h1M99 264.4h1M74.7 264.8h1M88.5 264.3h1M66 265h1M95 264.4h1M90.7 266.1h1M73.2 263.9h1M90 264.3h1M91 263.7h1M82.8 264.3h1M99.2 263.7h1M93.8 264.2h1M88.3 265h1M68.8 264.9h1M75.8 264.2h1M97.8 264.1h1M103.1 265.6h1M48.4 263.8h1M94.6 265.7h1M76.4 264.6h1M75.9 264.8h1M60.7 264.1h1M67.1 264.9h1M62.2 264.8h1M48.1 264.6h1M67 264h1M62.1 265.4h1M55.5 264.8h1M104.4 264.8h1M76.3 265.7h1M61.3 264.1h1M61.1 264.7h1M90.7 265.4h1M81.7 265.2h1M68.4 264.4h1M88.9 264.7h1M78.4 263.5h1M93.2 265.1h1M116.4 264.9h1M90.6 263.6h1M75.4 264.5h1M105.9 264.9h1M70.6 265.9h1M89.7 264.5h1M68.3 264.8h1M97.3 265.2h1M111.6 264.4h1M72.9 263.5h1M64.9 264h1M83.6 265.8h1M72.9 265.5h1M69.5 265.5h1M55.3 264.8h1M82 264.4h1M110.7 265.5h1M62 264.3h1M90.5 265.3h1M113.9 264.8h1M45.8 264.7h1M83.5 264.4h1M57.7 264.8h1M89.2 263.7h1M96.6 264.6h1M79.5 263.5h1M70.7 264.2h1M65.7 263.8h1M73.9 263.9h1M79.4 264.7h1M119.7 263.3h1M98.5 264.9h1M86.6 264.6h1M98.1 264.8h1M98.4 265.5h1M117.5 264.6h1M78.9 266h1M66.3 265h1M87.1 264.4h1M49.5 264.7h1M75.6 265.2h1M48.2 263.8h1M95.4 264.4h1M77 264.8h1M88.8 264.3h1M78.4 265.2h1M88.8 265.4h1M100.9 264.6h1M93.2 264.8h1M74.3 265.1h1M90.3 265.2h1M63.6 264.5h1M67.4 265.3h1M90.8 264.2h1M91.3 264.4h1M53.7 264.1h1M93.1 264h1M67.5 264.9h1M68.8 264.9h1M86.5 265h1M85.8 263.7h1M72.4 265.2h1M56 263.7h1M102.7 265.2h1M85 265.6h1M78.7 264.4h1M89.8 263.7h1M86.5 263.5h1M63.8 264.6h1M52.7 264.3h1M72.4 264.3h1M82.2 264.5h1M62.4 264.5h1M85.6 264.4h1M85.1 264.9h1M85.3 264.6h1M77.2 264.5h1M56.7 264.2h1M65.3 263.2h1M62.6 264.1h1M57.2 265.6h1M53.3 263.3h1M117.5 196.3h1M118.1 200h1M120.8 228.7h1M117.4 221.3h1M111.7 215.2h1M127.4 202.7h1M131.1 195h1M117.3 220.7h1M121.3 211h1M122.1 209h1M112.2 216.4h1M120.5 239.6h1M117.1 216.9h1M113.7 235.8h1M118.5 209.3h1M121.3 211.8h1M113.6 201.5h1M114 216.1h1M119.3 222.7h1M114.7 217.7h1M115.1 234.4h1M113.3 207.5h1M112.1 209.5h1M117.1 240.4h1M114 227.7h1M121.2 218.9h1M120.5 223.7h1M109 191.7h1M121.1 220.7h1M108.3 188.2h1M122.3 243h1M115.8 226.2h1M119.9 225.9h1M127.6 199.2h1M133.2 195.9h1M119.5 210.3h1M119 219.5h1M125.1 200.3h1M115 200.4h1M128.5 183.5h1M119.7 212.8h1M120.5 197.1h1M125.8 203.4h1M120.1 194.5h1M127.5 202h1M108.3 222.7h1M127.7 199.2h1M128.6 201.3h1M116.5 186.7h1M132.2 202.8h1M136 208.9h1M118.7 225.3h1M121.9 213.3h1M117.8 205.7h1M118.6 202.1h1M121.3 213.4h1M119.1 197h1M120.6 230.5h1M119.5 216.8h1M113.9 219.9h1M115 217.8h1M101.9 212.4h1M121.4 239.8h1M119.3 231.4h1M122.7 236.5h1M115.4 243.4h1M116.6 238.1h1M105.5 211.9h1M111.1 212.8h1M114.1 206.7h1M118 204.5h1M114.4 221.9h1M129.3 193.3h1M118.8 213h1M112.8 213.4h1M127.9 195.6h1M125.7 200.6h1M136.3 208.6h1M119.3 216.5h1M117.9 234.1h1M119.9 208.6h1M115.8 230.4h1M113.8 211.8h1M130.5 203.1h1M125.3 204.2h1M108.3 228.1h1M104.7 205.7h1M115.9 213.4h1M119.3 213.2h1M120.4 204.2h1M116.6 190.1h1M111.5 235.1h1M120.5 223.6h1M114.7 206.3h1M118.4 209.9h1M119.5 199.9h1M119.2 208.2h1M114 217h1M108.5 198.4h1M119.7 217.5h1M113.9 238.9h1M133.6 201h1M115.1 205.9h1M121.6 239.8h1M114.2 222.8h1M110.5 249.8h1M117.3 197.6h1M105.3 212.6h1M121.2 217h1M121.2 224.2h1M134.8 201.8h1M117.1 230.7h1M118.5 220.5h1M121.7 198.8h1M117.8 223.9h1M131 201.4h1M118.1 199h1M121.5 218.7h1M121.8 202.3h1M121.4 236.2h1M116.1 221.3h1M121.2 208.8h1M117.1 228.6h1M123 239h1M120.1 213.8h1M125.6 195.8h1M114.3 206.6h1M118.6 218.5h1M119.4 242.7h1M116.4 224.3h1M106 233.4h1M135.8 201.4h1M104.6 212.7h1M117.8 212.6h1M137.7 211.8h1M120.7 224.2h1M140 209.9h1M134.9 205.8h1M118.6 222.9h1M109.4 235.3h1M138.5 186.2h1M119.5 218.7h1M118.4 217.3h1M118.9 208.6h1M115.8 211.2h1M118.3 214.4h1M117.5 232.5h1M117.8 205.6h1M118.5 203.6h1M117.4 216.3h1M104.5 216.6h1M110 236h1M111.1 205.4h1M112.4 228.6h1M109.1 225.6h1M116 216.8h1M115 220.1h1M117 237.6h1M107.8 183.4h1M119.6 216h1M118.5 215.6h1M136.8 209.2h1M121.2 216.6h1M114.2 222.9h1M123.8 201.8h1M124.8 195.5h1M121.1 206.2h1M126.6 188.3h1M114.9 215.8h1M138.8 216.9h1M119.3 241h1M121.4 207.4h1M123.3 201.7h1M128.1 195.5h1M108.2 229.4h1M116.5 212.2h1M114.4 225.8h1M116.8 210.8h1M114.5 205h1M131.6 202.5h1M139.3 201.9h1M113.3 196.4h1M120.8 233.6h1M115.3 224.6h1M121.1 200.2h1M118.4 219.6h1M110 227.6h1M118.8 241.1h1M113.9 188.5h1M111.1 205.9h1M117.6 217.6h1M109.5 209.1h1M106.4 235.7h1M136.6 187.3h1M105.6 207.2h1M119.5 200.5h1M139 216.7h1M118.8 217h1M118.8 222.4h1M106.6 218.4h1M113.9 205.5h1M118 197.1h1M114.9 217.5h1M120 211.8h1M117.3 216.9h1M108.9 216.2h1M114.9 215.8h1M115.8 211h1M128.1 203.5h1M120.6 217.8h1M119.8 221.8h1M113 193.9h1M121.4 233.3h1M131.6 199.8h1M120.3 192.6h1M115.2 224.7h1M118.5 234.4h1M112.2 199.9h1M117.8 232.2h1M117.1 230.2h1M123.3 207.1h1M132.6 192h1M131 201.2h1M115.7 208.2h1M117.4 210.5h1M143.2 228.3h1M113.6 212.3h1M106.5 220.8h1M120.9 229.6h1M114.6 216.7h1M120.6 223.6h1M123 194.9h1M120.8 215.2h1M111.4 210.1h1M116.1 197.9h1M120.6 212.3h1M122.6 177h1M109.3 219.9h1M116.8 229.2h1M113.4 223.3h1M111.4 224.7h1M117.9 213.5h1M126.2 198.3h1M115.6 219.3h1M122.7 198.2h1M111.8 215h1M139.1 210.6h1M116.1 187.7h1M120.8 193.1h1M129.7 200.3h1M116 226.5h1M119.5 216.6h1M114.1 207.6h1M115.2 196.8h1M119.4 215.4h1M124.3 193.1h1M114.8 219.6h1M140.6 183.5h1M101.4 189.2h1M101.1 229.7h1M115.5 213.2h1M119.8 227.4h1M120.4 196.8h1M140.3 212h1M117.2 205.3h1M121.1 183.9h1M109.6 224.3h1M111.3 223.5h1M110.4 236.6h1M112.2 202.3h1M118.4 216.9h1M120 217.6h1M115.2 202h1M125.8 200.3h1M106.9 216.3h1M113.3 223.4h1M129.2 189.2h1M112.1 236.1h1M116.5 240.3h1M135.8 189.4h1M119.6 213.2h1M116.7 207.6h1M116.4 205h1M113.3 231.5h1M115.7 187.9h1M121.1 236.5h1M120.8 219.5h1M125.9 189.9h1M119.3 201.5h1M123.9 198.7h1M121.8 212.8h1M111.2 230.8h1M114.1 225.2h1M120.3 246.1h1M112.9 198.7h1M123.9 196.7h1M115.6 206.6h1M125.9 203.4h1M116.5 200.5h1M121.4 200.2h1M117.6 202.9h1M102.8 235.5h1M120.1 197.8h1M121.1 203.1h1M122.3 204.6h1M110 215.6h1M120.1 211.2h1M118.7 217.6h1M118.8 206.7h1M107.6 181h1M114.4 222.4h1M119.2 195.8h1M118.9 218.4h1M118.9 206.4h1M114.5 215h1M109.2 218.3h1M115.7 218h1M121.1 212h1M129.9 198h1M121 229.9h1M129.4 203.8h1M108.1 223.9h1M119.2 221.7h1M111.7 206.8h1M117.9 216.1h1M118.7 208.5h1M119.4 240.1h1M125.8 187.2h1M127.8 181.3h1M110.1 207.3h1M108.1 226.9h1M121.5 202.5h1M120.6 210.9h1M117.7 202.9h1M114.6 227.2h1M121.3 215.3h1M118.7 223.1h1M106.9 201.7h1M137.5 207.3h1M127.9 202.8h1M122.5 203h1M123.3 207.9h1M125.6 204.9h1M122.9 206.2h1M135.1 202.7h1M126.8 203.6h1M118.4 204.4h1M128.3 201.6h1M124.4 202.4h1M135.2 205.3h1M121.9 203.5h1M120.4 205.4h1M135.9 209.2h1M118.1 206.9h1M122.9 207.7h1M128.2 202.9h1M132.3 202h1M115.9 203.5h1M130.4 198.9h1M111.6 203.2h1M118.1 206.7h1M117.8 207.9h1M126.6 202.4h1M122.8 205h1M126.2 200h1M133.1 205.4h1M119.4 203.5h1M132.5 205.3h1M132.1 204h1M117.6 210.9h1M121.2 207.9h1M134.6 206.4h1M125.9 195.2h1M136.2 203h1M122.3 204h1M120.5 204.9h1M120.8 206.7h1M131.4 204.8h1M115.4 200.8h1M135.2 204.1h1M121.7 198.7h1M131.3 201.1h1M119.8 202.6h1M120.6 200.6h1M114 205.4h1M131.1 203.8h1M132.7 205.4h1M122.1 209h1M129.8 202.5h1M117.8 205.4h1M120.2 211.1h1M122.9 204.8h1M120.9 205h1M124.1 200.2h1M113.5 204.8h1M124.1 204.8h1M126.1 202.8h1M118.3 208.3h1M120.2 207.9h1M125 203.2h1M131.6 204.3h1M119.5 208.4h1M121.6 209.6h1M136.3 204h1M124.2 205.5h1M131.1 203h1M133.1 205.4h1M124 203.4h1M124.3 201.1h1M130.1 202.8h1M122.4 206.6h1M120.7 208.3h1M128.7 201.2h1M138.9 207.4h1M131.8 203.9h1M134.8 204.6h1M139.4 207.6h1M121.8 204h1M122.1 210.1h1M134.5 205.4h1M131.8 204.5h1M124 204h1M123.6 206.6h1M118.6 205.6h1M124.2 203.9h1M125.4 200.7h1M125.9 199.5h1M123.4 207.1h1M118.7 202.2h1M124.4 198.5h1M131 204.3h1M139.5 204.7h1M135.2 205.1h1M121.6 195.7h1M121.1 200.7h1M129.1 201.9h1M118.5 207.2h1M130.9 202.5h1M119.8 201.6h1M118.6 203.4h1M121 200.3h1M111.4 209.2h1M124.9 203.2h1M123.6 205.6h1M124 206.2h1M129.3 201.9h1M123.5 204.1h1M122.6 203.4h1M95.1 211.6h1M106.2 219.2h1M110.3 215.5h1M107.5 246.2h1M76.9 215.5h1M89.7 226.6h1M84 225.9h1M86.1 218.5h1M110.2 220.5h1M127 203.9h1M86.1 240.7h1M99.4 198.9h1M97.6 228.6h1M87.1 227.3h1M99 223.4h1M108.5 211.7h1M94.8 241.3h1M92.7 212.8h1M103.3 183h1M87.9 233.7h1M87.2 246h1M93.7 243.5h1M92.3 221h1M95.1 194.2h1M84.3 198.8h1M99.8 215.2h1M95.6 224.9h1M104 197.7h1M105.5 191.2h1M70.2 222.3h1M115.6 234.8h1M93 233.5h1M80.2 213.8h1M106.8 226.1h1M76.4 229.5h1M93.9 212h1M93.7 224.8h1M88.8 219.1h1M90.4 217.8h1M76.1 178.7h1M94.4 217.3h1M115.1 216.9h1M71.2 237.4h1M76.9 223h1M88 191.2h1M96.3 216.4h1M97 207.8h1M96.2 212.1h1M98.9 211.9h1M102.1 209.3h1M108.3 190.6h1M80.3 232.1h1M78 241.7h1M73.3 215h1M103.5 236.4h1M56.1 243.2h1M99.4 218.3h1M78 240.3h1M75.5 225.7h1M88.2 225.1h1M101.1 233h1M101.1 238.3h1M88.1 229h1M91.1 228.6h1M56 235.2h1M119.1 196.6h1M77.7 203.7h1M119.9 209.6h1M88.8 217.2h1M91.7 213.1h1M101.2 232.4h1M117.9 200.5h1M64.9 231.1h1M115.3 197.4h1M112.4 220.1h1M111.5 206.5h1M68.9 208h1M93 233.6h1M96.1 214.7h1M67.8 225.3h1M90.6 212.4h1M68.9 211.6h1M84.3 235.6h1M73.1 213.8h1M114.1 213.6h1M117.8 175.1h1M87 207.9h1M119.6 202.6h1M77.2 240.9h1M93.4 216.1h1M76.8 239.3h1M68.3 201.4h1M82.8 233h1M95 246.9h1M108.1 235.8h1M99.4 202.9h1M58 246.2h1M66.5 230.9h1M81.1 210.5h1M61.2 244.5h1M56.9 244.5h1M83.8 220.4h1M108.6 176.3h1M80.4 231.2h1M87.6 227.4h1M91.8 227h1M81.3 221.2h1M71.7 243.6h1M82.4 219.8h1M106.6 198.7h1M93.1 218.8h1M92.8 234.1h1M82.2 213.7h1M114.4 206h1M72.9 230h1M113.8 199.9h1M74.1 239.3h1M105.4 228.1h1M98.8 215.4h1M73.3 216.9h1M96.2 219.4h1M84.1 231.9h1M103.2 206.6h1M83.7 215.3h1M97.2 230h1M67.1 217.4h1M134.8 190.6h1M114.8 230.2h1M64.4 199.7h1M84 224.4h1M108.7 203.5h1M79.7 208.1h1M72.7 202.2h1M103.8 204.6h1M105 215.7h1M73.4 206.1h1M109.4 219.8h1M85.9 176h1M117.5 206.1h1M88.7 214h1M120.3 221.2h1M65.5 244.3h1M86.2 245.5h1M87 202.6h1M71.4 234.4h1M95.2 210.4h1M79.3 225h1M99.3 231.2h1M71.9 196.5h1M54.4 218h1M92 223.6h1M118 206.2h1M73 236.9h1M86.5 196.8h1M81.7 234h1M103.3 217.2h1M94.4 224.4h1M91 218.4h1M138.9 194.2h1M121.2 210.5h1M94 215.4h1M76.1 234.5h1M97.3 200.9h1M106.7 227.3h1M71 232.7h1M86.6 237.7h1M69.8 232.5h1M91.6 213.3h1M68.2 200.2h1M110 240.2h1M86.5 213.5h1M84.6 220.5h1M105.1 203.7h1M73.6 238.3h1M80.6 205.6h1M115.7 224.8h1M87.5 228.6h1M66.6 244.3h1M115.6 207.3h1M109.6 206.3h1M64.8 235.2h1M101.2 188.3h1M97.4 246h1M92.8 210.8h1M78.3 196.9h1M83 218.7h1M55.9 241.6h1M77.8 230.9h1M118.2 241.4h1M75.5 199.7h1M75.4 236.4h1M98.9 200.7h1M98.7 236.2h1M56.2 211.7h1M84.8 243.8h1M81.5 223.1h1M48.2 226h1M84.6 225.7h1M66 228.6h1M102.7 202.3h1M87.5 234.4h1M80.8 236.8h1M87.5 199.2h1M95.6 227.5h1M90.8 204h1M68.8 223.9h1M93.2 209.1h1M129.9 187.4h1M56.9 225.4h1M89.1 232.8h1M84.3 220.8h1M113.1 214.2h1M66.3 215.1h1M97.2 227.9h1M96.1 216.2h1M61.9 226.9h1M104.4 222h1M89.8 243.3h1M70.8 238h1M102.4 203.1h1M83.3 230.3h1M60.9 239.4h1M93.8 211.7h1M69 226.9h1M67.8 243.4h1M115.9 216.9h1M87.6 230.1h1M99.7 201.2h1M84.3 233.7h1M60.4 236h1M74.3 230.7h1M71.2 210.5h1M72.3 226.4h1M121.7 201.3h1M112.6 230.5h1M78 230.7h1M86.3 228.3h1M116.4 197.8h1M98.5 217.3h1M89.4 200.8h1M84.3 242.8h1M96.9 224.7h1M100.3 195.4h1M104.8 198.9h1M63 229.6h1M99.2 227.9h1M91.1 212h1M96.9 230.9h1M53.1 247h1M93.7 238h1M86 219.4h1M107.6 232.8h1M89.8 211.5h1M93.2 226.1h1M90.8 228.4h1M70.7 213.6h1M77.6 213.4h1M95.2 236.5h1M75.8 196.5h1M114.7 250h1M59.5 234h1M75.2 195.1h1M110.8 227.5h1M109.7 193.1h1M95.1 197h1M93.8 221.6h1M97.9 236h1M87.6 189.1h1M84 232.5h1M107.5 214.2h1M94.7 226.4h1M63.1 207.2h1M93.3 213.5h1M88.7 214h1M95.3 224.7h1M89.9 216.3h1M76.7 223.2h1M83 233.1h1M86.5 228.4h1M106.3 198.7h1M118.6 178.7h1M92.6 213.6h1M86.1 215.4h1M82.6 199.1h1M104.2 210.7h1M89.8 216.5h1M95.4 241.8h1M92.6 241h1M75.6 213.1h1M80.1 232h1M81.9 214.2h1M114.2 207.2h1M108.6 201.8h1M97.3 223.2h1M117.7 226.3h1M92.7 193.5h1M92.2 237.6h1M81.3 224.7h1M60.5 241.6h1M82.9 184.8h1M83.1 232.6h1M104.8 241.8h1M86.4 244.3h1M115.4 197.7h1M73.9 245.6h1M91.5 218.8h1M87.3 227h1M70.4 236.8h1M107.3 239.2h1M55.1 233.2h1M91.1 246.1h1M76.4 216.1h1M102.6 230.7h1M115.9 209.3h1M88 229.8h1M109.1 188.7h1M69.2 224.8h1M111.7 221.3h1M89.9 189.9h1M113 201.9h1M90.9 193.4h1M110.7 203.7h1M62.1 224.6h1M98.9 233.9h1M84.7 207.2h1M60.9 236.6h1M76.1 225.5h1M90.3 220.2h1M118.5 215.6h1M69.5 243.6h1M123.7 202.4h1M123.1 236.7h1M92.2 233h1M85.1 206.3h1M119.8 199.3h1M75.3 232.9h1M102.4 203.1h1M95.8 218.7h1M90.2 232.1h1M95 210.2h1M84 240.9h1M99 189.3h1M85 230.8h1M88.3 230.7h1M100.4 189h1M104.6 189.1h1M94.5 236.2h1M70.4 207h1M60.3 240.8h1M88 225.1h1M82.8 233.3h1M112.3 213.7h1M90.2 233.4h1M89.2 238.8h1M112.4 208.5h1M66.4 192.4h1M85.8 231h1M121.3 198.6h1M91.8 213.5h1M113.8 231.4h1M98.4 224.5h1M89.1 218.1h1M108 233.7h1M104.5 211.6h1M94.9 209h1M93.4 216.5h1M107.3 222.5h1M69.2 228.9h1M80.5 197h1M66.2 230.7h1M113.6 206.4h1M104.1 220.7h1M86.6 215.5h1M80.1 223h1M114 236h1M116.8 230.6h1M118.3 218.4h1M107.1 206.2h1M86.9 231.4h1M68.7 223.1h1M113 251.7h1M111.6 220.5h1M98.7 221h1M101 206.5h1M89.4 194.8h1M48 219.7h1M113.9 189.8h1M64.3 225.8h1M69.1 215h1M77.8 206.7h1M80 232.7h1M98.9 211.4h1M97.7 231h1M92.1 232.4h1M92.7 195.9h1M82 202.5h1M70.9 222.8h1M102.4 215.3h1M79.6 208h1M100.7 214.2h1M103.2 186.5h1M80 235.2h1M61 222.2h1M72.8 244.5h1M77.5 220.4h1M108.8 215.9h1M97.3 216.9h1M136 190.6h1M60.9 217.3h1M93.1 226.8h1M89.5 227.2h1M72.2 222.6h1M99 229.8h1M107.5 190.3h1M66.9 224h1M90.2 222.2h1M99.9 229h1M98.8 204.9h1M94.2 208.4h1M106.6 201.6h1M135.4 187.2h1M76.7 229.6h1M76.4 231.8h1M103.9 227.6h1M94.2 217.2h1M90.7 205.7h1M91.9 194.5h1M61.3 215.6h1M111.7 241.4h1M107.7 224.3h1M88.9 202.3h1M97.1 214.1h1M94.9 233.3h1M75.2 231.9h1M82 243.1h1M112.1 199.7h1M93.3 239.1h1M58.2 220h1M91.7 216.9h1M100.7 217h1M76.4 220.6h1M106.4 206.1h1M111.6 207.4h1M99.2 222h1M123.8 207.1h1M111 242.6h1M109 246.2h1M69.7 214.8h1M63.6 233.3h1M85 239.4h1M93.6 199.3h1M107 203.7h1M65.7 233.8h1M91.1 212.9h1M106.9 205h1M94.9 221h1M69.7 237.5h1M110.4 234.7h1M96.8 230.1h1M91.9 228.2h1M126 191.7h1M102 217.8h1M60.5 229.5h1M74.3 221.9h1M107 237.3h1M65 234.8h1M69.3 241.1h1M86.6 237.9h1M75.9 234.6h1M89.3 224.8h1M93.9 248.3h1M90.6 223.5h1M88 199.7h1M121.1 183.2h1M120.8 223h1M136.8 211.5h1M110.7 227.9h1M106.6 229.3h1M104.5 221.6h1M98.1 218.7h1M79.3 206.5h1M97.3 220.6h1M106 203.9h1M92.5 226.9h1M72.7 242.6h1M96.3 219.9h1M88.4 234.8h1M86.4 213.3h1M106.3 205.3h1M108.9 234.7h1M89.4 196.4h1M81.9 241.3h1M91.2 222.8h1M101.7 217.6h1M96.8 223.8h1M101.6 225.1h1M101.1 211.2h1M92.2 192.4h1M95.5 223.9h1M73.5 245.4h1M113.9 226.8h1M89 239.8h1M97.6 227.4h1M75.9 210.7h1M43.5 211.4h1M139.9 195.5h1M100.7 216.3h1M90.7 216h1M58.5 186.8h1M80.9 236.8h1M70.1 230.5h1M57.8 209.7h1M86.9 238.4h1M103.2 199.9h1M110 219.6h1M110.7 227.7h1M106.3 243.5h1M102.9 189.9h1M93.5 224h1M89.8 214.7h1M78.8 235.7h1M96.7 208.4h1M107.1 185.6h1M94.2 238.3h1M84 208.5h1M63.4 215.2h1M97.2 205.3h1M94 229.9h1M48.9 243.9h1M86.2 199.8h1M80.8 234.7h1M92.2 217.5h1M94.7 214.9h1M102.7 217.2h1M93 200.6h1M46.2 232.8h1M99.1 238h1M77.5 218.2h1M87.9 238.5h1M105.1 226.2h1M97.7 213.6h1M73.7 234.8h1M98.1 217.4h1M89.4 210.9h1M107.8 212.1h1M102.4 221.1h1M60.5 245.7h1M94.4 236.9h1M81.3 245.5h1M80.5 211.2h1M105.1 228.2h1M94 247.2h1M78 229.9h1M74.7 205.2h1M109.5 205.9h1M43 238h1M94.9 229h1M72.3 234.1h1M83.7 218.2h1M91.2 221.7h1M98.8 197.6h1M62.9 222.9h1M91.3 209.9h1M100.6 219.6h1M107.2 216.3h1M74.1 235.4h1M66.8 228.2h1M86.6 230.2h1M88.4 231.5h1M98.3 231.8h1M102.5 232.9h1M98.2 186.5h1M89.2 236.7h1M89.6 236.2h1M86.9 240.3h1M61.3 245.4h1M88.5 228h1M76.1 243.7h1M101 240.4h1M92.7 214.1h1M83.1 232.9h1M68.5 238.9h1M111.7 226.9h1M102.5 205h1M116.2 201.1h1M84.1 227h1M135.9 199.8h1M72.1 222.9h1M101.9 222.6h1M102 228h1M75.8 241.6h1M96.1 203.9h1M71.4 241.1h1M104.9 215.3h1M98.2 202.7h1M124.7 190.1h1M73.3 223.6h1M90.1 208.1h1M92.7 209h1M70.6 235.8h1M91 204.4h1M85.1 245.9h1M95.6 222.2h1M90.7 230.8h1M97.5 193h1M102.2 204.5h1M92.3 207.1h1M97.7 224.6h1M102.4 229.7h1M123 193.8h1M101.8 218.5h1M81.8 207h1M124.6 173.2h1M89 200.5h1M69.1 242.2h1M118.2 196.1h1M42.2 249.8h1M98.8 206.5h1M98.1 227.4h1M79.2 224h1M92.3 220.4h1M93.9 217.4h1M92.1 219.8h1M80.7 263.6h1M89.3 218.7h1M96.3 214.4h1M98.2 212.4h1M122.7 199.4h1M119.3 216.4h1M82.1 243.8h1M102.1 234.8h1M96.4 241.1h1M85.3 240.4h1M125 199.1h1M78.4 194.9h1M75.9 233.4h1M90.7 220.8h1M79.8 227.8h1M78.1 240h1M75.7 236.1h1M107.5 181h1M108.8 232.5h1M79.7 218.7h1M100.7 218.5h1M89.2 238.8h1M113.7 206.3h1M105.7 201.8h1M109.5 204.1h1M69.8 242.4h1M94.7 239h1M78.6 204h1M90.3 229h1M87.2 224.8h1M79.5 221.5h1M88.1 235h1M104.2 222.8h1M99.7 186.6h1M96.5 220.4h1M116.9 211.8h1M85.9 177h1M90 240.7h1M65 185.3h1M82.8 215.9h1M103.7 236.4h1M83.8 222.8h1M79.1 239.8h1M97.2 219.7h1M75 229h1M94.2 224.2h1M96.6 200.8h1M86 231.6h1M80.8 231.9h1M72.7 230.4h1M110.4 219.4h1M94.2 194.4h1M120.4 203.5h1M86.9 211.2h1M54.9 224.7h1M99.1 216.8h1M84.3 246.8h1M90 226.2h1M106.5 212h1M104.9 212.9h1M64.3 223.4h1M82.1 209.7h1M89.7 199.5h1M89.9 216.8h1M88.4 244.2h1M92 225.8h1M117.9 201.9h1M88.1 219.3h1M106.5 240.2h1M76 229.5h1M86.5 242.5h1M103.9 201h1M76.9 207h1M71.3 217.7h1M103 217.1h1M69.1 235.7h1M87.1 232.3h1M96.7 221h1M99 187.8h1M65.2 221.6h1M76.7 211.5h1M89.9 210.5h1M93.3 204.6h1M68.7 227.8h1M85.1 220.7h1M69.9 222.7h1M136.3 198.9h1M55 238.7h1M103.2 216h1M88.1 220h1M96.9 189.2h1M121.8 208.2h1M100.5 245.5h1M93.1 215.1h1M96.7 231.5h1M78 233.1h1M115.7 211.2h1M109.1 223.7h1M78.2 211.6h1M86.2 211.7h1M104.8 225.9h1M85.2 236.2h1M121.1 200.8h1M104 212.9h1M103.9 200.3h1M82.7 210.8h1M93.1 202.5h1M88.4 237.8h1M78.2 226.6h1M74.1 203.4h1M76.2 233.3h1M102.3 199.8h1M94.3 189.1h1M80.4 240h1M98 226.9h1M82.5 216.8h1M102.3 216.2h1M97.6 217.6h1M83.9 244.2h1M95.5 235.7h1M109.8 188.9h1M95.8 208h1M94.3 224.7h1M131.5 191h1M89.9 228.7h1M101.4 217.1h1M98.2 205.5h1M94.9 223.7h1M101.3 217.9h1M101.6 224.6h1M111.5 217.8h1M69 201.2h1M119.7 197.7h1M90.5 244.4h1M94.1 201.9h1M90.1 232.9h1M89.1 229.1h1M79.3 226.7h1M91.3 233.6h1M96.6 198.1h1M84.3 205h1M82.8 234.5h1M77.9 205.9h1M85.7 218.8h1M80.3 228h1M87.6 228.6h1M77 196.6h1M91.1 203h1M94.6 207.1h1M85 193.1h1M94.5 218.4h1M103.7 214.3h1M103.2 205.5h1M117.8 187.4h1M93.3 213.5h1M88.6 221.7h1M73.9 226.6h1M74.8 230.9h1M89.4 202.3h1M103.2 235.2h1M82.9 245.2h1M100.4 200.5h1M81.9 206.5h1M78.7 196.5h1M92.1 214.4h1M103.1 217.1h1M82.9 221.4h1M94.9 230.8h1M84.1 234.8h1M84.3 188.6h1M107.3 173.3h1M89 225.5h1M64.8 239.7h1M97.2 225h1M94.6 213.7h1M104.9 197.3h1M104 212.8h1M110.1 220.9h1M95.1 209.4h1M91.1 242.9h1M70.7 199.2h1M117.4 214.6h1M118.3 200.4h1M118.6 186h1M113.1 238.9h1M92.8 209.9h1M108.2 215.5h1M109.7 199h1M72.6 246.1h1M94.1 226.2h1M92.1 208.5h1M95.6 218.5h1M70.4 223.5h1M86.6 215.4h1M70.7 213.7h1M73.3 218.6h1M88.5 218h1M81.4 229.2h1M104.3 248.6h1M88.6 216.2h1M79.8 239h1M101.1 223.5h1M99.8 224.4h1M102.4 198.9h1M95.7 216.5h1M81.8 216.2h1M101.5 213.6h1M88.7 232.7h1M90.1 204.7h1M98.4 222.7h1M99.8 229.1h1M94.6 213.4h1M93.9 212h1M87.5 232.5h1M92.2 198.9h1M80.3 190.6h1M93.8 227.6h1M90.4 215.1h1M85.2 241h1M97.4 218.2h1M92.4 225.2h1M103 208.9h1M116.5 205.6h1M89.1 229.2h1M101 241.9h1M77.3 218.5h1M89.7 227.1h1M94.4 216.8h1M68 274h1M83.2 218.9h1M100.1 212.8h1M105.9 222.6h1M95.6 206.8h1M76 225.3h1M110.2 204.1h1M73.4 230.5h1M80 220.6h1M84 217.7h1M65.3 235.5h1M67.1 235.4h1M109.3 233h1M70.7 235.5h1M100.8 234.1h1M81 217.1h1M86.8 226.2h1M73.6 215.3h1M117 207h1M74.7 189.5h1M118.4 216.8h1M102.2 200.9h1M86.9 236.8h1M91.2 229.6h1M96.4 201.8h1M109.8 218.3h1M103.4 207.5h1M108.5 222.9h1M73.9 264.8h1M107.8 216.7h1M86.1 202.2h1M67 217.8h1M111.1 191.9h1M115.8 223.6h1M81.1 202.3h1M72.5 208.8h1M72.5 234.6h1M89.9 233.9h1M80 208.4h1M76.8 213.7h1M66.9 244.8h1M85.1 244.7h1M100.2 229.8h1M103.7 222.7h1M78.7 213.1h1M89.3 190.7h1M90.7 227.9h1M70 227.4h1M85.2 209.6h1M93 224.2h1M53.4 244.9h1M110.9 205.1h1M110.8 188.4h1M92.5 214.9h1M68.4 233.5h1M95.3 215h1M119.3 204.1h1M75.5 217.1h1M74.3 206.4h1M96 219.1h1M79.4 219.3h1M70.4 236.7h1M98 214.6h1M98.2 208.9h1M91 196.5h1M92.1 213.3h1M66 244.4h1M132.6 189.4h1M63.5 228h1M92.3 240h1M94.6 206.6h1M76.3 219.9h1M80 228.8h1M63.5 204.3h1M102.8 223.6h1M96.9 243.2h1M83.8 211.5h1M57.3 234.7h1M106.8 185.8h1M98.9 224.2h1M83 225.4h1M90.4 217.4h1M83.6 202.5h1M82.3 230.7h1M83.7 217.9h1M109 194.4h1M76.8 191.5h1M91.2 244.8h1M96.3 215.9h1M101.7 223.4h1M82.2 220.3h1M119.4 178.7h1M109 246.4h1M72.1 231.3h1M95.2 218.2h1M80.4 240.5h1M83.9 215.3h1M75.8 232.4h1M96 248.1h1M103.2 222.7h1M108.1 212.9h1M87.1 235.5h1M71.5 178.5h1M87.9 221h1M106.2 209.1h1M86.6 232.3h1M94.7 218.8h1M112.5 221.6h1M81 226.3h1M101 240.6h1M97.9 245.9h1M92.3 220.6h1M115.7 211.5h1M119.8 212.7h1M85.5 228h1M79.9 236.2h1M82.5 213.5h1M71.5 235.5h1M97.2 229.5h1M91.5 221.6h1M75.8 224.8h1M81.8 225.2h1M94 194.4h1M86.6 225h1M120.3 195.8h1M85.3 203.9h1M68.5 224.4h1M84 209h1M117 177.8h1M76.2 205.7h1M86.7 200.2h1M106.8 196.6h1M89.5 237.1h1M99.2 221.8h1M83.4 233.3h1M92 234.3h1M89.8 223.5h1M76.8 234.3h1M102.4 237.4h1M96.3 207.5h1M96.3 215.9h1M62.7 229.8h1M82.7 216.2h1M98.4 194.3h1M96 215.5h1M78.3 217.8h1M95.8 230.5h1M74.1 215.6h1M83.4 243.7h1M89.1 212h1M74.2 225.3h1M84.1 222.4h1M75.6 225h1M83.7 200.2h1M99.7 212.9h1M86.7 225h1M50.2 211.2h1M113 216.2h1M76.1 227.4h1M66.6 225.8h1M111.2 235h1M76 204.6h1M102 221.5h1M57.8 229.7h1M93.7 210.2h1M105.4 222.3h1M89.8 197.5h1M65.3 233.3h1M87.3 199.3h1M107.1 215.8h1M91.7 216.8h1M105.7 216.9h1M72.9 229.8h1M96.1 223.7h1M86.8 232.7h1M86.5 203.9h1M112.8 226.9h1M55.3 208h1M85.9 234.7h1M102.3 229.4h1M85.5 216.8h1M106.7 199.2h1M113 195.4h1M82.3 182.3h1M79.1 228.3h1M77.9 231.6h1M105.2 208.2h1M96.2 217.9h1M61.4 209.7h1M95.1 210.1h1M79.6 230.2h1M80.9 230.7h1M138.9 187.3h1M53.1 216.6h1M84.3 206h1M75 239h1M96.8 214.6h1M100.4 226h1M92.7 229.2h1M89 224.8h1M68.6 238.2h1M80.6 236.7h1M105.2 195.3h1M87.2 236.8h1M91.4 213.7h1M79.6 223.2h1M102.8 205.7h1M96.4 232.8h1M86.1 225h1M107.5 187.4h1M72.9 241h1M84.4 239.6h1M77.3 234.5h1M100.5 227.9h1M105.4 229.5h1M112.1 228.3h1M90.1 222.5h1M70.8 231.2h1M69.6 234.4h1M60 243.9h1M113 234.3h1M97.9 228.4h1M90.2 228.3h1M57.8 242.4h1M107.2 230.5h1M59.4 237h1M65.9 240.4h1M84.1 228.7h1M59.9 245.9h1M59 233.2h1M48.4 243.6h1M83.7 240.5h1M106.5 234.3h1M79.8 224.8h1M95.1 236.1h1M84.6 246.4h1M55.9 239.7h1M77.2 235.1h1M93.6 246.5h1M80.3 236.2h1M91 219.5h1M77.1 240.2h1M46.6 262.4h1M73.6 229.6h1M86.9 232.9h1M60.5 238.1h1M106.4 231h1M94.7 227.2h1M90.2 229.7h1M58.8 238.6h1M56.6 237.8h1M84.8 236h1M91 226.4h1M89.1 232.4h1M90.5 228.2h1M69.5 240.5h1M48.1 237.7h1M56.9 236.7h1M67.5 243h1M65 235.9h1M88.1 211.4h1M81.3 234.2h1M80.4 227h1M57 244h1M42.1 244.5h1M81.5 229.6h1M56.5 227.2h1M101.8 233.6h1M73.8 242.4h1M79.5 234.1h1M47.3 244.2h1M73.9 237.6h1M71.2 242.8h1M80.8 239h1M79.6 238.1h1M65.2 240.8h1M73 236.8h1M50.7 239.9h1M94.2 238.1h1M95.9 233.3h1M78.9 235.2h1M89.3 230.4h1M80.1 238.8h1M81.4 232.1h1M54.6 234.3h1M76.1 238.5h1M60.2 231.1h1M55.3 233.7h1M83.6 233.6h1M78.9 224.6h1M105.6 223.9h1M88.8 235.6h1M63.7 230.8h1M85 230.7h1M95.5 226.8h1M47.2 238.7h1M74.6 234.8h1M84.3 227.8h1M84.4 230.8h1M67.1 235.7h1M73.2 228.3h1M67 226.7h1M105.8 232.9h1M91 245.4h1M81.3 225.8h1M64.4 230.1h1M98.6 235.6h1M90.5 230.4h1M70.4 234.8h1M98.3 234.7h1M96.4 236h1M42.9 240.1h1M67.7 232.8h1M81.4 241.7h1M46.1 245.7h1M60.6 235.4h1M75.7 230.3h1M78.6 239.9h1M80.7 234.8h1M109.7 234.3h1M53.4 234.2h1M68 244.2h1M72.4 245.6h1M86.7 227.1h1M74.3 230.7h1M41.8 248.9h1M93 240h1M76.7 230.8h1M84.1 237h1M79.3 244.1h1M88.6 238.9h1M87.5 229.5h1M64.1 236.3h1M74.4 239.7h1M82.1 234.2h1M62.2 242.8h1M81.6 235.8h1M79.4 237.9h1M66.3 242.6h1M51.9 234.6h1M101.4 230.8h1M49 239.8h1M73.3 231h1M90.1 235.2h1M100.8 236h1M96.2 233.6h1M51.9 241.7h1M99.3 225.1h1M82.1 222.4h1M48.4 238.3h1M66 238.6h1M59.3 237h1M81.6 240.4h1M71.2 240.5h1M50.3 241h1M105.3 225.5h1M81.9 243.5h1M87.3 224.3h1M80.8 223.3h1M107.9 237.2h1M73.7 240.4h1M77.7 245.6h1M87.7 233.4h1M107.6 235.9h1M45.6 242.3h1M92.4 236.8h1M66 231.8h1M108.6 226.7h1M98.9 223.5h1M75.1 233.9h1M64.5 245.2h1M54.5 236.7h1M94 242.9h1M72.4 225.9h1M42.2 255.6h1M46 241.3h1M67.8 240.8h1M119.5 228.2h1M81.3 242.2h1M102 226.4h1M102.9 232.6h1M54.6 244.5h1M111.7 221.9h1M70.5 233.3h1M64 240.6h1M95.4 225.6h1M81.3 235.9h1M92.9 235.2h1M72.6 244.1h1M99.6 236.4h1M64.5 244.5h1M64.7 245.4h1M89.1 235.2h1M81.7 240.1h1M91.7 232h1M79.5 239.5h1M90.4 241.9h1M75.6 239.4h1M101.5 238.8h1M82.2 211.4h1M96.6 235.5h1M109.2 226.3h1M98.1 234.3h1M91.7 241.8h1M54.8 240.4h1M102.9 237.5h1M66.1 238.2h1M64 238.3h1M70.5 226.7h1M59.3 235.2h1M94 239.2h1M84 234.7h1M58.8 243.5h1M78.5 242.9h1M41 254.3h1M70.3 235.6h1M69 241h1M74.9 227.1h1M62.4 238.1h1M75.3 230.4h1M62.8 236.1h1M71.1 238.4h1M42.2 248h1M93.4 232.1h1M83.2 229.4h1M89.5 244h1M80.6 231.8h1M98.3 224.2h1M73.5 223.8h1M101.7 230.6h1M69.1 238.7h1M70.6 234.1h1M81.2 244.9h1M73.9 243.6h1M90.4 230.6h1M72.1 240.5h1M92.2 225.8h1M56 243.8h1M87.2 237.4h1M86.2 234.8h1M98.1 234.2h1M66.9 244.9h1M90.4 234.6h1M69.1 242.5h1M48.8 248.9h1M96.3 218.9h1M96.6 238.9h1M89.1 231h1M68 225.8h1M87.5 227h1M49.9 249.1h1M56.2 240.4h1M49.5 247.1h1M40.5 252.5h1M74.4 213.9h1M91.6 221.9h1M100.8 234.8h1M82.3 229.4h1M77.8 240.4h1M74.2 235.4h1M70.6 235.8h1M54.7 240.3h1M58.7 241.3h1M48.2 245.9h1M69 235.2h1M74.7 231h1M70.3 231.8h1M57.8 246h1M59.1 240h1M100.9 229.3h1M69.9 237.4h1M60.2 236.8h1M44.4 264.1h1M112.6 228.5h1M64.8 237.5h1M99.1 247.3h1M74.4 230.9h1M65 239.8h1M66.3 233.4h1M62.5 230h1M67.9 243.6h1M80.6 243.9h1M76 226.2h1M90.6 233.2h1M93.8 224.2h1M89.4 240.6h1M66.8 242.1h1M72.1 237.7h1M62 239.5h1M91.3 233.5h1M60.1 239.9h1M58.7 234.3h1M54.8 238.4h1M69.9 233.6h1M93.2 226.2h1M80.8 237.2h1M66.4 231h1M86.3 226.4h1M69.4 240.6h1M81.9 234.9h1M72.6 238.6h1M95.8 230.1h1M44.1 247.5h1M65.2 235.3h1M87.8 233.7h1M107.7 230.5h1M88.4 233.7h1M80 234.1h1M72.4 228h1M75.6 234.6h1M63.1 245.5h1M85.9 242.5h1M86.3 232.9h1M70.4 228.2h1M71.2 235.6h1M100.9 226.6h1M94.2 237.9h1M54 237.1h1M50 244.5h1M60.4 229.6h1M59.2 233.9h1M71.5 243.7h1M40.2 247.3h1M82.6 235.7h1M50.4 239.1h1M70.9 241.8h1M76.7 243.8h1M71.4 240.3h1M68.5 237.7h1M78.5 237.7h1M82.8 240.2h1M78.8 238.8h1M93.8 245.8h1M68.3 245.5h1M79.8 239.2h1M79.9 234.8h1M82.7 230.5h1M101 231.9h1M79.6 236.9h1M83 234.9h1M69.5 239.7h1M42.5 234.2h1M73.7 242.4h1M61 238.5h1M77.6 226h1M73 244.6h1M45.2 232.9h1M57.5 245.8h1M79.7 230.4h1M61.7 240.7h1M81.7 240.6h1M53.2 234.1h1M57.6 243.5h1M58.6 237.7h1M71.6 237.9h1M88.5 242.7h1M62.6 230.8h1M60 236.1h1M87.8 243.2h1M78.7 230.6h1M86.3 232.9h1M76.3 241.5h1M71.9 244.7h1M77.7 233h1M66.3 236.1h1M72 244h1M64.9 229h1M89 216.8h1M74.2 231.9h1M70.1 239.7h1M84.5 237.4h1M58.3 246.6h1M65 227.9h1M102.2 229.1h1M78.6 235.8h1M68.2 239.4h1M110.7 232.3h1M113.8 222.5h1M83.4 226.2h1M92.1 228.4h1M112.8 232h1M70.8 236.8h1M80 243.1h1M91.1 227.9h1M91.4 222.2h1M97.2 244.5h1M62.4 231.7h1M55.7 238.5h1M70.9 244.3h1M58 240.3h1M76 220.3h1M80 235.3h1M92.2 241.5h1M65.6 244.8h1M87.4 218.4h1M58.2 238h1M65.4 239h1M79.6 239.4h1M101 218.2h1M96.4 236.6h1M78.1 236.4h1M67.1 240.3h1M83.4 236.1h1M84.7 237h1M98.1 236.9h1M118.9 219.8h1M88.4 225.8h1M86 226.9h1M88.1 228.3h1M49.6 239.4h1M92.7 230.7h1M73.3 242.9h1M81.2 235.1h1M65.2 241.7h1M76.5 229.7h1M71.7 239.5h1M96 221.8h1M104 243.8h1M108.6 228.2h1M101 229.4h1M104.2 228h1M98 229.3h1M108.2 237.8h1M117.8 234.4h1M117.8 242h1M118.6 236.2h1M106.1 238.3h1M104.7 243.5h1M98.4 218.2h1M106.9 222h1M107.8 234.4h1M113.4 226.9h1M98.3 212.7h1M106 227.9h1M103.4 231.3h1M107.7 208.6h1M115.2 224.1h1M108 236.1h1M96.2 232.1h1M92.3 240.1h1M110 218.5h1M110.5 227.6h1M100.7 218.4h1M105.5 219.9h1M109 222.3h1M103.8 236.9h1M99.7 220.9h1M108.7 247.4h1M112.3 233.4h1M96.7 234.5h1M108 224.9h1M121.9 205.9h1M103.9 231.9h1M109.3 245.4h1M105.7 227.9h1M111.3 226.4h1M110 242.1h1M106.6 224.4h1M98.6 207.6h1M102.8 248.9h1M105.4 238.6h1M108.4 218.4h1M112.4 222.4h1M101.9 235.8h1M113.9 221.9h1M95.5 231.3h1M101.1 239.3h1M111.9 242.5h1M112.6 224.6h1M114.4 217.2h1M96.7 221.9h1M107.3 228.4h1M91.6 219.8h1M108.5 240h1M103.9 231.8h1M104.2 219.9h1M107.7 225.6h1M102.3 240.3h1M97 237.7h1M101 233.3h1M103 210.9h1M99.4 246.8h1M95.8 225.9h1M104.6 236.4h1M106 208.9h1M104.4 225.4h1M111.5 239.8h1M100.8 241.9h1M107.6 223.5h1M109.4 239.8h1M109.7 224.8h1M103.2 238.8h1M106.2 242.8h1M91.9 235.2h1M97.5 239.8h1M110.8 243.1h1M100.4 216h1M104.5 244.4h1M101.3 237.4h1M102.8 245.1h1M102.1 245h1M102.8 226.5h1M107.3 216.2h1M109 233.3h1M104.5 243.5h1M108.6 230.4h1M99.7 217.5h1M100 233.7h1M96.9 244.3h1M109.8 229.1h1M101.9 238.5h1M99.6 231.5h1M100.4 211.5h1M107.6 211.6h1M104.9 213h1M112.9 231.9h1M99.2 227.5h1M109.9 223.9h1M101 234.7h1M104.3 238.3h1M113.4 226.6h1M109.9 246h1M104.7 243.9h1M111.6 230.8h1M100.5 220.2h1M105.1 242.5h1M99.2 218.8h1M99.4 226.6h1M109.6 234.1h1M108.2 243.1h1M109.5 231.8h1M103 230.8h1M119.6 242.4h1M98.4 241.9h1M112.1 223.2h1M106.3 228.8h1M103.5 233.1h1M97.8 224.5h1M97.7 235.8h1M115.7 229h1M100 224.6h1M101.6 236.1h1M111.8 224.5h1M102.8 230.8h1M101.6 223.9h1M104 237.3h1M96 227.6h1M101.8 235.1h1M101.1 241.1h1M89.4 227.1h1M107 226.7h1M114.1 219.4h1M103.5 217.3h1M111.3 224.5h1M99.5 235.3h1M94.9 228.4h1M113.3 221.9h1M100 215.3h1M87.7 234.2h1M93.9 239.6h1M102 227.9h1M110.8 205.5h1M101.1 226.1h1M106.6 229.7h1M109.1 217.2h1M109.7 245.8h1M103.7 242.8h1M114.7 224.3h1M107.1 249.6h1M112.7 234.6h1M102.9 237.3h1M97.4 217.8h1M112 226.7h1M114.8 213.5h1M108.9 220.2h1M105.7 230.5h1M103.7 226.4h1M102.7 239.5h1M106.5 218.2h1M109.6 227.5h1M111.7 243.8h1M99.9 241.1h1M106.6 228.5h1M102.5 235h1M110.1 233.5h1M100.8 226.2h1M103.8 207h1M119.7 225.5h1M112.7 218.9h1M107.2 213.7h1M106.6 209.7h1M107.8 236.2h1M104.3 235.4h1M102.7 226.4h1M117.6 225.6h1M101.5 229.9h1M98.1 222.6h1M100 222.6h1M110.9 228.9h1M120 219h1M90.7 222.8h1M99.8 245.1h1M111.5 223.9h1M104.5 218.1h1M104.7 220.4h1M99.4 239.9h1M101.6 217.5h1M104.9 225.6h1M103.4 232.8h1M106.5 212.7h1M103.8 234h1M106.7 237.5h1M117.4 224.8h1M97.9 246.3h1M105.6 249.3h1M101.3 233.8h1M100 223.1h1M114.6 230.8h1M108.2 219.2h1M96.3 225.6h1M103.3 237.4h1M104.1 226.2h1M117.4 220h1M100.7 227.3h1M111.7 230.2h1M109.8 217.5h1M103.6 229.6h1M103.6 222h1M113.3 226.9h1M106.5 223.8h1M108.9 243.6h1M104.1 215.7h1M101.8 233h1M105.6 233.9h1M114.7 244.7h1M105.4 236h1M112.6 238h1M114.6 228.6h1M107.6 221.2h1M110 210.7h1M103.1 245.4h1M114.8 222.7h1M110.6 250.3h1M101 238.4h1M101.9 226.1h1M104.5 231.9h1M103.3 233.2h1M103 217.3h1M100.5 226.4h1M104.9 229.8h1M112.1 228.9h1M103 229.7h1M113 227.8h1M106.7 226.3h1M104.9 231.3h1M98.7 218.4h1M107.8 240.7h1M98.8 240.7h1M113.5 239.1h1M110.3 210.6h1M98.6 217.7h1M99.4 231.2h1M100 213.6h1M110.2 223.4h1M117.7 232.3h1M107.6 190.5h1M102.4 244.2h1M98.6 246h1M100.4 214.3h1M95.4 222h1M104.2 223.4h1M99.1 228.6h1M119.2 228.5h1M95.9 221.9h1M110.7 228.3h1M102.4 229.5h1M109.8 224.2h1M98.9 234.2h1M112.5 210.5h1M116.5 236.8h1M93.2 238.4h1M112.4 219.5h1M110.2 218.4h1M99.9 230.4h1M107.9 237.2h1M112.5 247.8h1M107.5 232.6h1M115.4 235.3h1M105.9 235.8h1M104.7 221.3h1M96.4 204.6h1M83 242.6h1M117.7 239.2h1M103.3 222.4h1M117 221.6h1M107 231.4h1M102.3 215.1h1M95.6 233.8h1M96.3 234.5h1M114.5 234.9h1M108.2 218h1M100.5 234.9h1M103.5 216.9h1M103.4 217.5h1M100.5 229.7h1M114.5 209.4h1M102.5 217.5h1M108.1 216.9h1M102.7 234.4h1M111.7 225.7h1M106.3 217.2h1M98.7 241.3h1M108.8 220.5h1M110.7 226.2h1M93.4 219.2h1M98 227.8h1M104.5 240.6h1M112.4 238.5h1M110.1 240.1h1M106.2 232.5h1M110.8 234.7h1M113.6 222.8h1M98.5 230.2h1M108.7 229.2h1M103.6 221.5h1M104.5 226.5h1M109 227.2h1M104.2 237.5h1M113.5 240.2h1M107.3 224h1M111.5 226.2h1M109 246.2h1M109.8 244.3h1M107 234h1M112.3 236.9h1M105 224.2h1M103.1 241.4h1M97.7 229.9h1M101.1 214.3h1M120 226.9h1M107.6 231.4h1M107.5 211.7h1M108.8 239.1h1M115.3 223h1M122.1 251.3h1M111.4 245.4h1M109.7 210.7h1M101.8 222.7h1M104.8 234.7h1M115.5 232.7h1M104.7 234.5h1M100.8 226.2h1M101.8 227.4h1M107.9 241.1h1M97 222.5h1M104.7 230.9h1M105.6 218h1M74.7 220.6h1M73 211.6h1M57.2 220.3h1M97 230.5h1M58.9 230.4h1M52.8 218.1h1M77.6 227.2h1M64.3 231h1M93.3 221.5h1M93.7 207.8h1M44.4 202.6h1M47.5 218.1h1M49 234.6h1M80.6 197.4h1M56.3 210h1M43.9 198h1M108.4 230h1M61.3 220.8h1M54.1 246.2h1M90.6 225.2h1M62.7 209.5h1M58.6 187.3h1M101.9 198.1h1M75.8 238.2h1M65 238.9h1M91.2 242.2h1M53.3 237.7h1M61 231.1h1M87.3 223.7h1M77.5 235.1h1M52.5 224.1h1M63.4 211h1M65.3 212.2h1M76.8 210.7h1M54.3 241.2h1M52.3 236.9h1M86.6 224.6h1M60.6 245.2h1M44.3 205.2h1M70.6 229.6h1M97.2 235.3h1M79.3 234.8h1M83.6 238.6h1M44.3 221.1h1M53.9 209h1M80.9 226.8h1M50.6 226.2h1M68 218.1h1M56.3 241.9h1M72.5 243.4h1M48.7 195.5h1M76.5 210h1M76.2 220.5h1M69.8 229.4h1M71.9 203.6h1M53.3 205.9h1M72.5 228.1h1M80 229h1M86.5 225.3h1M88.1 218.6h1M44.5 219.2h1M98.1 219.7h1M45.6 208.3h1M56.4 215.2h1M54.8 226.2h1M83.8 220.7h1M111.7 230.9h1M53.5 195.9h1M68.2 209.9h1M70.1 239h1M42.4 220.4h1M78.6 208.5h1M53.3 219.3h1M53.4 225.1h1M90.2 207.1h1M51.5 199.9h1M68.3 227.5h1M51.2 211.9h1M57.2 217.1h1M71.7 232.3h1M93.8 233.5h1M98.4 215.6h1M42.3 215.4h1M64.5 210.3h1M106.9 212.2h1M41.8 200.2h1M47.5 216.5h1M58.9 236.4h1M41.4 181.5h1M48.3 229.9h1M83.7 229.1h1M60.8 200.7h1M83.1 199.3h1M82 213.8h1M55.8 220.3h1M90.2 213.8h1M73.7 226.7h1M51.6 226.3h1M60.7 222.1h1M82.6 206.6h1M59.1 208h1M75.5 211.7h1M56.9 221.3h1M48.1 235.5h1M108.6 230.7h1M75.9 206.3h1M78.2 215.8h1M80.5 223.4h1M57.2 214.1h1M92.9 212.1h1M55.9 232.3h1M41.5 239h1M50.6 211.3h1M60.7 238.9h1M62.4 222.9h1M98 199h1M74.1 243.7h1M83.2 221.2h1M39.6 224.6h1M62.3 225.8h1M51.4 232h1M41.9 206.4h1M112.1 211.4h1M76.1 222.8h1M61.9 243h1M51.1 240.5h1M83.5 230.2h1M63.9 215.3h1M99.4 216.9h1M85.6 200.9h1M61.8 240.7h1M64.9 196.2h1M69.1 195.8h1M77.6 209.3h1M62.6 212.4h1M54.5 234.1h1M89.2 221.5h1M83.4 243.5h1M73.3 210.9h1M79.6 213.9h1M63.7 210.6h1M70 224.5h1M96.3 234.4h1M79.5 234.8h1M82.1 242.2h1M68.1 214.8h1M61.3 218.2h1M60.7 231.7h1M81.6 240h1M77.3 232.4h1M70.9 232.7h1M59.7 219.7h1M61.9 223.1h1M41.8 240.7h1M122.9 205.8h1M62.3 203.7h1M75.9 216.7h1M59.1 224.3h1M63.1 224.7h1M73.2 228.7h1M84.8 195h1M81.8 244.7h1M90.9 241.8h1M83.6 240.4h1M67.7 236h1M52.1 204h1M71.2 201.3h1M115.1 243.8h1M49.6 207.3h1M70.5 225.7h1M81.3 217.9h1M58.4 195.6h1M87 241.2h1M74.9 220.4h1M74.3 225.6h1M80.1 227.9h1M62.6 214.9h1M61.8 227.6h1M61.5 191.4h1M58 225.4h1M81.4 225.8h1M45.5 236.3h1M85.6 223.7h1M63.1 240.8h1M53.2 245.3h1M60.5 233.9h1M41.9 239.3h1M110.9 235.9h1M116.2 237.2h1M123.1 235.2h1M124.4 237.2h1M120.3 235.3h1M122.3 234.7h1M117.7 236h1M122.6 237.9h1M119.8 233.9h1M109.3 237.4h1M122.7 237.1h1M120.7 235.3h1M106.8 233.1h1M119.1 234.1h1M121 233.8h1M110.9 235h1M122.2 236.1h1M124.2 235.9h1M122.9 237.1h1M108.5 237.3h1M123.9 239h1M114.1 233.5h1M118.9 240h1M118.3 236.6h1M119.1 236.7h1M122.7 237.2h1M114.5 233.7h1M123.4 236.6h1M121.4 235.2h1M118 230.3h1M109 237.8h1M121.5 234.3h1M115.8 234.8h1M120.8 236.3h1M122.8 237.8h1M114 236.8h1M118.1 235.1h1M116.3 233.8h1M119.4 233.4h1M123.4 236.4h1M108.7 237.9h1M119.8 237h1M122.1 234.9h1M119.2 234h1M119.6 235.2h1M119.2 235.8h1M122.5 235h1M117.5 235.8h1M143.2 237.4h1M117.2 234.9h1M113.6 237.4h1M115.2 232.2h1M112.4 232.7h1M142.9 234.5h1M143.7 234.2h1M120.1 236.7h1M122.5 235.6h1M120.3 235.1h1M116.6 235.2h1M111.9 237.6h1M123.8 235.6h1M143.5 236.1h1M110.2 237h1" stroke="#111" stroke-width="1.0" fill="none"/><path d="M136.4 286.7l-1.4 .3-1.3 0-1.1 0-1.4-.2-1.1-.7-1.1-1-1.3-.6-.8-1.3-.6-1.2-.6-1.3-.8-.8-.7-1.3-.3-1.1-.6-1-.4-1.5 0-1.3-.5-1.4 .2-1.2-.1-1.5 .2-1.2 .2-1.2-.1-1.5 0-1.3 .1-1.5-.6-1.1-1.2-.4-1.1 .9-1.1 .5-1.1 .7-1.3 .1-1.4 .6-1.3 0-1.1-.5-1-.4-.8-.9-.7-1.2-1-.8-1.4-.6-1.3 .1-1.2-.2-1.3 .2-1.2 .3-1.4-.3-1.3 .3-1.1-.2-1.1 0-1.7 .1-1.1 .2-1.2 .2-1.2 .2-1.6 .1-1.2 0-1.4 0-1.2-.1-1.4 0-1.1 .2-1.5 .1-1.3 0-1.2-.1-1.4-.1-1.5 .2-1.2 0-1.6-.1-1.3-.1-1.5 .3-1.6 0-1.4-.1-1.2-.1-1.2 0-1.3-.3-1.6 .1-1.2 0-1.2 .1-1.4-.2-1.3 0-1.3 .2-1.4 .2-1.3-.3-1.4 0-1.4 .1-1.2-.1-1.3-.1-1.4 .1-1.5-.4-1.4-.3-.8-.9-.4-1.4-.1-1.5-.3-1.1 .1-1.1 .5-1.1 .4-1.1 .9-1 1-.7 1.2-.5 1.4-.3 1.4-.3 1.2-.2 1.2-.5 1.1-.4 1.4-.1 1.1 0 1.2-.2 1.2 0 1.3-.2 1-.3 1.2 .1 1.4-.1 1.3-.3 1.4-.2 1.1-.1 1.3 0 1.2-.1 1.5-.3 1.3-.1 1.3 .1 1.4-.2 1.5-.1 1.3 .3 1.3 .3 1.4-.2 1.3 .4 1.2 .3 1.3-.1 1.5 .2 1.3 .3 1.2 .1 1.4 .2 1.2 .1 1.4 .3 1.4 .3 1.2 .1 1.3 .1 1.2 .2 1.3 .1 1.1 .4 1.4 .3 1.5 .4 .9 .6 1.5 .3 1.1 .4 1.1 .4 1.2 .4 1.1 .4 1.1 .5 .9 1 .4 1.3 .8 .9 1.3 .3 1.1-.3 1.2-.7 1.2 0 1.2 0 1.1-.1 1.1-.4 .8-1.3 .3-1.2 .3-1.1 .2-1.4-.1-1.2 .1-1.3 .1-1.5-.1-1.1 0-1.2 .2-1.4 .4-1.1 .2-1.4-.1-1.4 .5-1.3 .1-1.3-1.2-.9-1.1-.3-1-1-.2-1.4 0-1.5 0-1.4 0-1.3-.1-1.4 .2-1.1 .4-1.2-.3-1.3 .1-1.5 0-1.4 0-1.2 .1-1.1 .1-1.3-.1-1.3 .1-1.4 .5-1.1 .4-1.2 .1-1.2 .7-1.3 .4-1.1 .6-1.1 .8-.8 .5-1 .8-.8 1.5-.3 1.1 .5 1.4 .4 1.1 .5 1.3 .7 1.2 1 .4 1.2 .9 1 .8 1.4 .5 1 .6 1.1 .3 1.3 .5 1.1 .5 1.2 .5 1.2 .3 1 .5 1.4 .6 1.4-.1 1.1 .3 1.5 .3 1.1 .2 1.3 0 1.2 .5 1.3 .3 1 .2 1.1 .5 1.4-.2 1.2 .6 1.4-.1 1.3 .1 1.5 .6 1.4 0 1.1 .4 1.2 .1 1.3-.3 1.6 .6 1.2 .1 1.5 .1 1.4 .1 1.5-.1 1.3-.1 1.3 .1 1.2-.1 1.4 0 1.5-.2 1.2 .1 1.2 .1 1.5 .1 1.2-.1 1.4 .2 1.2 0 1.5 0 1.4 .1 1.3-.1 1.5 .1 1.1-.1 1.4-.2 1.4-.1 1.3-.6 1.3-.6 1.1-.2 1.2-.4 1.1-.5 1.1-1 1.2-.5 1-.9 1-.6 1-.8 .8-.8 .7-1.2 .2M135.9 284.7l-1.2 .3-1.6 0-1.2-.4-1.2-.4-1.2-.3-1.1-.8-.8-1-.5-1.1-.5-1.1-.9-1.3-.9-1.2-.7-1.7-.3-1.3-.3-1.2-.3-1.1 0-1.2 .3-1.4 .1-1.4 .2-1.7 0-1.2 .1-1.2-.3-1.3-.1-1.3-.4-1.5 0-1.3 0-1.3 0-1.4 .1-1.2 .3-1.2 .4-1.1 0-1.4-.2-1.2 .3-1.5-.1-1.3 .1-1.2 .3-1.3 .2-1 .2-1.2 .1-1.4 .2-1.4 .1-1.1 .2-1.3 .2-1.5-.7-1.2-1.1-.3-1.2-.5-.5-1-.4-1.3 0-1.4-.1-1.5 0-1.3 .2-1.1 .1-1.2 .1-1.2 .1-1.5 0-1.3 .1-1.2-.1-1.1 .1-1.5-.2-1.4 .1-1.3 .4-1.4 .5-1.2 .4-1.4 .4-1.1 .6-1.6 1-1.4 .8-1.1 1.2-.6 1.3 .1 1.2 .5 1.2 .4 1.4 .8 .6 1.1 1 .8 .7 1.3 .8 1.4 1 1 .3 1.3 .2 1.2 .5 1 .4 1.3 .7 1.2 .2 1.2 .5 1.5 .3 1.4 .3 1.1 .1 1.2 .1 1.2 .5 1.2 .3 1.4 .5 1.3 0 1.5 .3 1.2 .1 1.4 .1 1.2 .2 1.2 .2 1.5 .6 1.1 .1 1.2-.1 1.1 .2 1.5 .3 1.3 .3 1.2-.1 1.4 0 1.4-.1 1.3 .3 1.4 .2 1.3-.1 1.2 0 1.6 0 1.4-.1 1.4 0 1.4 .1 1.5 .3 1.5-.2 1.1 0 1.4 0 1.1 .1 1.6 .1 1.2-.1 1.4-.1 1.4-.1 1.3-.2 1.1-.4 1.4-.3 1.4-.3 1.4-.6 1-.7 1-.7 1.2-.7 1-.6 .9-1 .9-1.3 .8-1.2 .4M88.4 260l-1.6 .2-1.5 .1-1.4-.1-1.3-.1-1.3-.2-1.4 .1-1.2 .3-1.5 0-1.5 .1-1.4-.1-1.2-.2-1.5 .2-1.4-.2-1.2-.2-1.2 .3-1.2 0-1.1-.2-1.4-.1-1.2 .1-1.4-.2-1.2-.3-1.4 0-1.2 .1-1.1 0-1.3-.1-1.1 .2-1.5-.2-1.4 .2-1.4 0-1.1 0-1.3-.2-1.2-.5-.8-1.2-.4-1.5 0-1.4 .5-1.5 .6-1.1 1-.8 1.1-.3 1.5-.5 1.1-.4 1.2-.5 1-.4 1.3 0 1.3-.1 1.3-.3 1.1-.2 1.4-.1 1.2-.1 1.7-.3 1.5 .1 1.3-.1 1-.3 1.2 0 1.2-.1 1.5-.2 1.2-.2 1.4 0 1.3-.1 1.1-.1 1.6-.1 1.3 .2 1.3 .2 1.3 0 1.4 .2 1.3 .2 1.3 .3 1.5 .4 1.7-.1 1.2 .2 1.2 .2 1.5 .2 1.2 .2 1.4 0 1.5 .2 1.1 .3 1.3 .2 1.1 .2 1.2 .5 1.3 .2 1.5 .2 1.3 .5 1.1 .4 1.1 .1 1.4 .8 1.1 .2 1.3 1 1 1.1 .2 1.4-.1 1.1-.5 1-1.3-.1-1.3 0-1.1-.1-1.3 0-1.6 0-1.3 0-1.6 .2-1.1 0-1.2 .3-1.6 .3-1.3 0-1.4 .1-1.1 0-1.5 0-1.1 .2-1.5 .5-1.2 0-.3-.2M116.9 262.5l-1.6 .1-1.2-.3-1.1-.6-.1-1.3 .5-1.5 1-.5 1.1-.6 1.1-.5 1.2-.2 1.5 0 1.3 .6 .2 1.3-.8 .8-.8 .8-1.1 1.2-1.1 .6M136.3 283.1l-1.3 .5-1.3-.1-1.3-.2-1.2-.3-1-.6-1.3-.6-.6-.9-1-1.2-.8-1-.3-1.5-.8-.9-.6-1.1-.4-1.1-.2-1.3-.1-1.4 0-1.4 .1-1.2 .3-1.4 .1-1.3-.1-1.1-.1-1.3-.1-1.2-.3-1.6-.1-1.4 .2-1.2 0-1.2 .1-1.5 .1-1.4 .2-1.5 0-1.5-.1-1.4 0-1.4 .1-1.2 .2-1.4 0-1.2 .4-1.3 0-1.3 .1-1.4 .4-1.1 .3-1.1 .4-1.4 .5-1.4-1-1.2-1.1-.5-1.2-.5-.8-1-.2-1.2-.4-1.2 .1-1.4 .1-1.3-.2-1.3 .1-1.2 .3-1.5 .2-1.4-.2-1.5 0-1.2 0-1.2 0-1.2-.1-1.2 .3-1.1 .2-1.4 .3-1.1 .6-1.5 .4-1.4 .4-1.3 .7-.9 .7-1.1 1-.7 1.2 0 1.3 .3 1 .7 1.3 .8 .7 1 .9 .7 .9 1.2 .8 1 .2 1.2 .7 .9 .6 1.4 .3 1.1 .6 1.2 .2 1.1 .6 1.1 .4 1.3 .2 1.5 .3 1.4 .1 1.3 .5 1.2 .5 1.1 .2 1.5 0 1.4 .2 1.3 .1 1.4 .5 1-.3 1.1 0 1.1 .5 1.3 .2 1.3 .1 1.3 .6 1.4 .2 1.3 .2 1.3 .1 1.1 0 1.5 .1 1.3 .1 1.3 0 1.1 0 1.3 .2 1.1 .2 1.4-.1 1.2 0 1.2 0 1.2 .1 1.6-.2 1.3-.3 1.2 .2 1.5 .2 1.4 .2 1.3-.3 1.5-.4 1.1 .3 1.2 .1 1.1-.2 1.2-.1 1.4-.2 1.6-.6 1.3-.6 1.3-.4 1.1-.9 1.4-.8 1.5-1.1 .8-.9 .7-1.1 .5-.3 .1M83 259.8l-1.5-.1-1.5 0-1.4 0-1.3-.1-1.2-.1-1.4 0-1.1 .1-1.5-.1-1.2 .4-1.4-.5-1.2 0-1.5 .1-1.4-.1-1.3-.1-1.2-.2-1.5-.2-1.1 .1-1.4 .1-1.3-.2-1.3-.3-1.5 0-1.3-.2-1.3 0-1.1-.3-1.4-.2-1.3-.3-1-.4-.7-1.3 .2-1.2 .4-1.1 .9-.9 1.1-.5 1.1-.3 1.4-.3 1.4-.4 1.2-.2 1.3-.2 1.4-.2 1.4-.1 1.3 .1 1.2-.3 1.4-.4 1.3-.3 1.4 .1 1.5 0 1.4-.5 1.6-.2 1.2 .2 1.4-.1 1.4-.1 1.2 0 1.2 0 1.3 0 1.4 .2 1.3 .2 1.1 .2 1.5-.2 1.4 0 1.4 .4 1.1 .1 1.3 .2 1.4 .2 1.5 .3 1.4 .1 1.3-.1 1.2 .3 1.3 .2 1.5 .3 1.3 0 1.5 .5 1.1 .3 1.2 .3 1.4 .5 1.2 .2 1 .7 1.3 .5 1.1 .6 .7 1-1 1-1.4 .1-1.1 .1-1.5 .2-1.6-.1-1.2 .3-1.2 .5-1.5-.1-1.3 .3-1.2 .2-1.4 .1-1.1 0-1.5 .3-1.1 .2-1.1 .1-1.5 .2-1.2 .1-1.5 .1-1.3 0-1.2 .3-.3-.1M136.6 281.7l-1.4 .2-1.2 .4-1.2 0-1.2-.5-1.3-.4-1.1-.8-.7-.9-.8-.9-.6-1.1-1-.9-.2-1.1-.3-1.5-.8-1.4 0-1.3 .1-1.4-.2-1.2-.1-1.3 .1-1.5 .4-1.4-.1-1.3-.1-1.2 0-1.3 0-1.3-.2-1.2 0-1.2 .1-1.2 0-1.3 .2-1.5-.1-1.2-.1-1.5 .2-1.2 .2-1.2 0-1.2 .2-1.4 .4-1.4 0-1.7 .1-1.4 .5-1.4-.1-1.2 .9-1.2-.1-1.3-.2-1.2-1.1-1-1.3-.7-1.1-.6-.6-1.1-.1-1.3 0-1.3 .1-1.5 .1-1.4 0-1.1 .2-1.3-.1-1.5-.1-1.1 .2-1.5 .1-1.5 0-1.2-.3-1.3 .3-1.3 .6-1.3 .5-1.4 .2-1.3 .5-1 .5-1.3 1.2-1.1 .9-.8 1.3 .1 1.2 .6 1.1 .3 .7 1 1 .9 .6 1.2 .8 .9 .6 .9 .6 1.2 .2 1.1 .4 1.2 .7 1.1 .4 1.2 .5 1.2 .4 1.1 .3 1.2 .3 1.2 .2 1.2 .2 1.4 .2 1.4 .2 1.1 .2 1.3 .3 1.1 .7 1.3 0 1.1-.1 1.5-.3 1.3 .3 1.4 .4 1.2 .2 1.5 .6 1.1 0 1.2 0 1.2 .5 1.1 0 1.4 0 1.3 .2 1.3 0 1.2 .3 1.3 .1 1.4-.1 1.1 .1 1.2-.4 1.2 .2 1.3 .3 1.4-.3 1.4-.2 1.4 .1 1.3 .4 1.2 0 1.4-.1 1.2-.1 1.6-.2 1.3 0 1.5-.1 1.1-.2 1.1-.2 1.5-.4 1.2-.3 1.5-.9 1-.6 1.3-1 1.1-.8 1-1.2 .7-.4 .3M87.1 258.4l-1.4 .4-1.1 .1-1.3 .1-1.5 0-1.3 .2-1.4 0-1.5 0-1.5-.2-1.2-.1-1.3 0-1.3 .3-1.2 0-1.1-.2-1.1-.2-1.5-.2-1.4-.2-1.4-.1-1.2 0-1.3 0-1.4-.2-1.4-.2-1.3-.2-1.3-.2-1.2-.2-1-.5-1.2 0-1.3 .2-1.5-.4-1.3-.8 .5-1.4 1.1-.8 1.4-.4 1.3-.8 1.4-.1 1.3 .1 1.3-.4 1.4-.1 1.5-.1 1.6-.5 1.3-.1 1.2 .1 1.2-.3 1.6-.2 1.4-.1 1.6-.2 1.4-.1 1.3 0 1.4 .2 1.3 .2 1.1-.2 1.4-.2 1.3 .2 1.5 .1 1.1-.1 1.2 0 1.2 .4 1.4 .2 1.2-.1 1.2 .2 1.4 .2 1.4 .2 1.4 .2 1.2 .2 1.4 .1 1.2 .2 1.1 .2 1.1 .4 1.2 .3 1.2 .5 1.3 .6 .4 1.1-1 .6-1.2 .5-1.3 0-1.2 .4-1.2 .2-1.1 .2-1.4 .3-1.2 .1-1.5 .2-1.4 .3-1.2 .1-1.2 0-.6 0M135.4 280.8l-1.3 .2-1.5-.1-1.3-.3-1-.6-1-.6-.8-1.1-.9-.8-.6-1.2-.5-1.4-.4-1.3-.6-1.4 0-1.1-.1-1.4 0-1.2 .1-1.6 .2-1.7-.2-1.4-.1-1.2 0-1.3-.1-1.1 0-1.5 0-1.4 0-1.3 .2-1.2 0-1.5 .3-1.6-.3-1.1 0-1.1 0-1.4 .2-1.1-.2-1.5 .4-1.5 .2-1.4 .3-1.2 .4-1.3 .3-1.1 .4-1.4 .5-1.2 .4-1.2-.8-1.1-1.2-.8-1-.7-1.2-.4-.5-1.2-.3-1.3 0-1.4-.2-1.2 .2-1.3 .3-1.1 0-1.3-.1-1.1 0-1.2 .1-1.2 0-1.4 .1-1.5-.1-1.3 .2-1.4 .3-1.3 .5-1.2 .5-1.3 .3-1.5 .9-1 .7-1 1.1-.4 1.2 .3 1 .5 .9 .8 .7 1.3 1.1 .9 .8 1 .7 1 .4 1.1 .6 1.1 .2 1.4 .7 1.2 .6 1.1 .5 1.2 .3 1.3 0 1.3 .3 1.2 .4 1.1 .2 1.6 .1 1.4 .5 1.1 .3 1.1 .3 1.4 0 1.6-.1 1.4-.3 1.3 .4 1.2 .3 1.3 .5 1.5 .1 1.5 .7 1 0 1.1 0 1.8 .2 1.3 .1 1.2 0 1.4 .5 1.1-.2 1.5 .2 1.1 .2 1.3-.2 1.5-.2 1.4 .1 1.3 0 1.7 0 1.2-.1 1.7 0 1.4-.2 1.3 .2 1.3-.1 1.5 0 1.4 0 1.3-.2 1.3-.1 1.4-.3 1.1-.9 1.5-.3 1-.8 1.3-.9 .8-.9 .9-.9 .8-1.1 .1-.2 0M84.1 258.4l-1.2 0-1.5 0-1.3-.1-1.2 0-1.5 .3-1.3-.2-1.2-.1-1.3 .3-1.4-.4-1.4-.1-1.3 0-1.4 0-1.3 0-1.2-.2-1.4-.1-1.4-.5-1.2 0-1.3-.2-1.4-.5-1.2-.2-1-.5-1.3-.2-.6-1.1 1.1-.5 1.3-.6 1.2-.1 1.1-.3 1.3-.4 1.4 .1 1.2-.3 1.3-.3 1.4-.3 1.3-.1 1.5 .2 1.1-.1 1.3-.3 1.4 .2 1.2-.2 1.4-.1 1.3 .2 1.2-.2 1.3 .2 1.3 0 1.4 .2 1.4 0 1.2 .1 1.4 .3 1.4-.1 1.1 .1 1.2 .2 1.2 .3 1.4 .1 1.2 .5 1.1 .7 1.5 .3 1.1 .3-.9 1.1-1.5 .6-1.3 .4-1.2 .3-1.3 .3-1.3 .4-1.3 .2-1.3 0-1.4 .1-1.4 .2M134.7 279.8l-1.4-.1-1.5 0-1.3-.5-1-.7-.7-.9-.8-.9-.9-1.2-.4-1.4-.5-1.3-.1-1.2-.1-1.5-.1-1.2-.1-1.4 .1-1.5-.2-1.3 .1-1.2 .2-1.2-.2-1.3 0-1.3-.1-1.3 .1-1.5 .1-1.2-.2-1.5 0-1.2 .1-1.3 .1-1.4 .1-1.5 .3-1 0-1.2 .1-1.2 0-1.1 .3-1.2 .4-1.4 .3-1.2 .5-1.1 .3-1.2 .5-1.2 .5-1.4-.2-1.4-1-1.1-.9-.6-1.5-.6-.8-.7-.6-1.3-.1-1.4-.1-1.3 .2-1.1-.1-1.3 .2-1.3 0-1.3 .1-1.4 .3-1.2-.1-1.5 0-1.3 0-1.5 .2-1.3 .3-1.2 .4-1.2 .6-.9 .4-1.6 .7-1 1-.8 1.2 .5 1 .6 .9 .9 .9 1.2 .8 1.1 1 1 .4 1.4 .5 1.2 .5 1.1 .4 1.1 .4 1.1 .5 1.3 .5 1.2 .2 1.5 .3 1.4 .2 1.2 .4 1.5 .4 1.1 .3 1.3 .1 1.4 .3 1.3 0 1.4-.5 1.1 0 1.3 .2 1.2 .6 1.1 .4 1.1 .3 1.1 .1 1.5 .4 1.2 .2 1.4 .4 1.2 .3 1.5 0 1.6 0 1.4 .2 1.3 .2 1.4-.4 1.4 0 1.4 .1 1.5-.1 1.2-.2 1.1 .2 1.4 .2 1.3-.3 1.1 0 1.3 0 1.5-.1 1.2-.1 1.5-.1 1.2-.1 1.1 .1 1.6-.2 1.4-.6 1.4-.7 1.1-.7 1-.7 1-1.1 .7-1 .5-1.2 .3-.5 .2M79.7 257.8l-1.4 .2-1.3 0-1.3 0-1.1-.4-1.2 0-1.1 0-1.5 0-1.1-.2-1.2 .1-1.2-.4-1.5-.2-1.2-.2-1.5-.4-.9-.6-.3-1.1 1.4-.7 1.3-.5 1.1-.1 1.5-.2 1.4-.1 1.3-.2 1.5-.2 1.5 .1 1.4 0 1.2-.1 1.1 .1 1.5 .1 1.2-.1 1.2-.2 1.6 .2 1.1 .2 1.2 .2 1.4 0 1.5 .3 1.2 .1 1.1 .4 1.1 .4 1.1 .3-.5 1.3-1.3 .3-1.1 .5-1.2 .4-1.3 .3-1.3 0-1.4 .2-1.3-.1-1.4 .3-1.4-.1M134.6 279.2l-1.4-.2-1.3-.3-1.3-.7-1.3-.9-.9-.8-.8-1-.5-1.5-.3-1.4-.4-1 .1-1.7 0-1.5 0-1.5 0-1.3-.3-1.4 0-1.3 0-1.2-.1-1.6 0-1.3 0-1.4 .1-1.4-.2-1.2 .2-1.3 .4-1.7 .1-1.5-.1-1.6 0-1.2 .1-1.3 .4-1.3 .3-1.4 0-1.3 .6-1 .1-1.2 .5-1.4 .8-1.4 .5-1.2 0-1.3-.6-1.2-.9-.7-1-.8-1.4-.8-.7-.9-.3-1.4 0-1.5 0-1.5 .2-1.2 .1-1.3-.2-1.2 .1-1.3 0-1.6 .3-1.5 0-1.3 .1-1.3 .3-1.4 .2-1.1 .5-1.1 .4-1.1 .4-1 1-.7 1.2 .3 1.2 1 .9 .6 .7 1.3 .9 1.2 .5 .9 .3 1.3 .4 1.1 .5 1 .9 1 .2 1.2 .1 1.2 .2 1.3 .4 1.4 .5 1.4 .4 1.1-.1 1.4 .2 1.3 .6 1.3 .2 1.5-.3 1.3-.3 1.1-.2 1.4 .4 1.5 .8 1.1 .5 1.1 .4 1.1 .4 1.4 0 1.4 .5 1.2 0 1.3 .2 1.1 .2 1.3 0 1.5 .1 1.1 0 1.3-.1 1.2 .1 1.4 .2 1.3 .1 1.5 0 1.3-.3 1.4-.1 1.1 0 1.5 0 1.2 0 1.5 .1 1.6-.3 1.3 .3 1.3-.4 1.3-.2 1.3-.1 1.4-.5 1.2-.7 .9-.3 1.2-1.2 .8-.9 .8-1.2 .6-1.1 .4 0 .1M81.4 257l-1.4 0-1.2 .2-1.1-.3-1.1-.1-1.7 .2-1.1 .1-1.3-.1-1.2-.3-1.4 0-1.2-.3-1.3-.5 .1-1.1 1.1-.5 1.4-.4 1.2-.3 1.2 .2 1.5 0 1-.1 1.2-.2 1.2-.2 1.1 .2 1.1 .2 1.1 0 1.2 0 1.1 .3 1.5 .2 1 .4 1.2 .5-.5 1.1-1.2 .2-1.3 .3-1.4 .1-.8 .1M134.5 278.3l-1.3 .1-1.2-.5-1.4-.3-1-.7-.4-1.2-.8-.9-.6-1.2-.4-1.2-.4-1.4 .1-1.5 0-1.1-.4-1.2 .3-1.3 0-1.4-.2-1.5 0-1.4 .2-1.6-.1-1.6-.1-1.4-.3-1.2 .1-1.3 0-1.1-.1-1.2 .1-1.2 .2-1.5 .2-1.1-.1-1.4 .2-1.2 .2-1.4 .4-1.3 .3-1.1 .5-1 .3-1.3 .6-1.2 .5-1.1 1.1-1.1 .4-1.1-.3-1.3-.9-1-1-1-.7-.8-1.1-.5-.8-.9-.3-1.4 .2-1.4 0-1.3 .3-1.5-.2-1.3-.1-1.2 0-1.4 .4-1.2-.1-1.4 0-1.1 .2-1.2 .4-1.1 .3-1 .6-1.2 1.2-.6 1.3 .4 .9 .9 .5 1 .6 1 .8 .8 .5 1.3 .5 1.2 .3 1.2 .5 1 .4 1.3 .5 1.4 .3 1.2 .2 1.3 0 1.1 .5 1.1 .4 1.3 .2 1.5-.1 1.3-.6 1.1-.6 1-.1 1.3 .7 1 .4 1.2 .7 1.3 .6 1.1 .4 1.1 .4 1.5 .2 1.4 .5 1.1 .1 1.6 .1 1.2 .1 1.5 .1 1.4 .1 1.2 .2 1.3-.1 1.3-.1 1.2-.2 1.3 .2 1.3 0 1.3 .3 1.3-.1 1.8 0 1.2-.6 1.3 .1 1.4 0 1.1 0 1.3 .1 1.4-.2 1.2-.3 1.4-.5 1-.8 1.2-.3 1.1-1.4 .9-.9 .6-1.3 .7-.4 0M134.6 233l-1.1 .2-1.1-.2-1.4-.9-1-.7-.9-.8-.6-1.1-.3-1.2 .1-1.5 .2-1.2 .2-1.3 .1-1.4 .2-1.1 .3-1.4 .6-1.4 .7-1.4 1.1-.7 1 .7 1 1.1 .3 1.2 .5 1.1 .7 1.2-.1 1.1 .3 1.3 .4 1.2 .4 1.5 .2 1.6 .7 1.3-.5 1.1-.6 1.1-1.3 .7M135.2 277.4l-1.5 .2-1.5-.2-1-.6-1.1-.6-.8-1.1-.8-.9-.6-1.3-.5-1.3-.1-1.4 .2-1.4-.2-1.3 .2-1.4-.1-1.5-.1-1.4 .1-1.3-.2-1.6 0-1.5 .2-1.2-.2-1.3-.2-1.4-.1-1.4 .1-1.5 .1-1.2 .2-1.5 .1-1.3 .2-1.1 .3-1.5 .2-1.2 .5-1.5 .3-1.4 .7-1.2 .5-1.4 .9-.9 .8-.9 1.2-.6 1.1-.5 1.4 .3 1.1 .9 .6 1.2 .9 1.3 .5 1.1 .3 1.3 .3 1.3 .4 1.3 .1 1.4 .4 1.2 0 1.2 .3 1.4 .3 1.4 0 1.5 0 1.6 .1 1.4-.2 1.2-.3 1.5 .3 1.3 .1 1.5-.2 1.4-.2 1.4 .1 1.4-.1 1.2-.1 1.2-.2 1.3-.1 1.3-.2 1.1-.2 1.6-.4 1-.7 1-.8 .9-1.1 .3-1.1 .8-.3 .3M133.9 231l-1.3-.1-1.1-.4-1.1-1 .4-1.1 .2-1.2-.1-1.2 .6-1.2 .5-1 1.1 .2 .7 1 .6 1 .5 1.1 .8 1.2 0 1.6-.8 .9-1.1 .1M135 276.6l-1.2-.3-1.3-.3-1.2-.3-1.3-.6-.8-1.2-.7-1.1-.4-1.2-.2-1.2 .1-1.5 0-1.3-.1-1.4-.1-1.2-.2-1.3-.1-1.4 .1-1.3-.1-1.4-.1-1.2 .1-1.2 .3-1.1 0-1.4-.2-1.2 0-1.3 0-1.4 .1-1.2 .2-1.2 .2-1.2 .1-1.3 .2-1.4 .7-1.3 .4-1.6 .5-1.3 1-1 1.1-1 1-.8 1.1 .1 1.4 .7 1.2 .8 .6 1 .6 .9 .5 1.3 .6 1.3 0 1.4 .3 1.2 .2 1.4 .1 1.4 .2 1.5 .2 1.5 .1 1.3 0 1.3 .1 1.3 0 1.3-.2 1.3 .2 1.5-.2 1.6 0 1.2-.2 1.5-.1 1.5-.2 1.4 .2 1.3-.3 1.4 0 1.1-.5 1.3-.6 1.3-.8 1.3-1 .9-1.4 .6-.3 .1M135.6 275.4l-1.1 .3-1.3 0-1.1-.2-1.3-.9-.9-.8-.7-1.1-.3-1.3-.4-1.1-.2-1.6-.1-1.3 0-1.3 .1-1.2-.1-1.3-.1-1.2-.1-1.2 .1-1.2 0-1.4-.1-1.3 0-1.2 0-1.2-.1-1.4 .3-1.4-.1-1.3 .1-1.2 .1-1.2 .5-1.2 .5-1.2 0-1.3 .3-1.4 .4-1.3 .7-1.1 .9-.8 1-.6 1.5-.4 1.3 .3 1 .8 .7 .9 .8 1.1 .5 1.4 .2 1.3 .7 1.1 .2 1.4 .1 1.4 0 1.5 .1 1.5 .1 1.4-.1 1.2 0 1.1-.1 1.5 0 1.5 .3 1.2-.2 1.1-.1 1.2-.2 1.5 0 1.3 0 1.1-.3 1.3 .1 1.1-.3 1.4-.3 1.5-.4 1.3-.5 1.1-1 1-.8 .8-.4 .1M134.7 274.8l-1.4 .1-1.4-.3-1.1-.7-.7-1.2-.7-1.1-.3-1.5-.2-1.2 .1-1.5 0-1.3-.1-1.1-.1-1.5-.3-1.5-.1-1.1 .2-1.2-.1-1.1-.3-1.4 .1-1.2 .2-1.3 0-1.1 .2-1.5 .1-1.4 .1-1.3 0-1.2 .2-1.5 .4-1 .4-1.4 .3-1.3 .9-.8 .7-.9 1.4-.8 1.5 .1 1.2 .5 .9 1 .7 1.1 .4 1.5 .5 1.2 .3 1.2 .2 1.3 .1 1.2 .1 1.4 0 1.3 .3 1.1 0 1.4-.1 1.2 0 1.3 .1 1.3-.1 1.4 0 1.2 0 1.5-.2 1.4-.2 1.4-.2 1.3 0 1.2-.1 1.1-.3 1.5-.6 1.4-.7 1-.9 1.1-1.4 .6M134.8 273.7l-1.5 .2-1.2-.5-1.1-.5-.5-1.1-.6-1-.5-1.3 0-1.1 .2-1.7-.3-1.3 0-1.3-.1-1.1-.1-1.2-.1-1.2-.2-1.5-.1-1.3 0-1.3 0-1.5 .3-1.2-.2-1.4 .2-1.3 .1-1.3 .3-1.3 .3-1.4 .1-1.4 .8-1.2 .7-1.3 1.1-.8 1.1-.2 1.6 0 1.3 1 .7 1 .5 1.3 .4 1.4 .5 1.2 0 1.5 .2 1.4 .2 1.4 .1 1.3-.1 1.5-.3 1.3 0 1.3 .2 1.4-.2 1.3-.2 1.4 .1 1.4 0 1.2 0 1.6-.3 1.4-.3 1.2-.3 1.4-.3 1.5-.6 1.3-.9 .7-.9 .2M134.4 272.7l-1.3 .1-1.3-.4-.5-.9-.8-1-.1-1.3-.3-1.2-.1-1.4-.2-1.4-.2-1.3-.1-1.1 0-1.4 .1-1.5 0-1.5-.1-1.3-.3-1.3 0-1.5 .1-1.4 .1-1.5 .2-1.3 .1-1.3 .5-1.4 .5-1.3 .7-1.4 .9-1 1.4-.1 1.3-.1 1 1.1 .8 1.3 .5 1.4 .5 1.1 .2 1.2 .2 1.1 .2 1.4-.1 1.2 0 1.2 .1 1.4-.1 1.6 0 1.2 .1 1.1 0 1.5-.1 1.3-.4 1.4-.1 1.1-.1 1.5-.1 1.3 0 1.1-.3 1.3-1 1.1-.8 .9-1.1 .5M135 271.8l-1.1 .2-1.5-.3-1-1.2-.3-1.3-.5-1.4 0-1.3-.1-1.1-.3-1.4-.3-1.4 0-1.5 .1-1.1-.1-1.2-.2-1.6 .2-1.2 0-1.4-.1-1.2-.1-1.1 .3-1.2 .5-1.2 .3-1.1 .1-1.2 .4-1.1 .9-1.1 1.3-.5 1.3 .1 1.1 .6 .7 1.1 .5 1.4 .1 1.1 .4 1.2 .1 1.6 .2 1.5-.1 1.3 .1 1.3 .1 1.3-.2 1.2 0 1.5-.2 1.2-.1 1.3-.2 1.4 0 1.4 0 1.5-.4 1.5-.7 1.1-.3 1.1-.8 .8-.1 .3M134.4 270.4l-1.5-.2-.9-.9-.3-1.5-.4-1.1-.2-1.4-.2-1.2-.2-1.5-.1-1.4-.2-1.4-.1-1.3 .1-1.6 0-1.4-.2-1.4 .4-1.6 .1-1.6 .1-1.2 .5-1.4 .8-.9 1.2-.8 1.2-.2 1 .5 .6 1.4 .3 1.1 .5 1.3 .2 1.3 .3 1.4-.1 1.3 .1 1.1 .2 1.1 0 1.5-.2 1.3-.1 1.3-.3 1.3-.1 1.4-.4 1.2-.4 1.4 .1 1.2-.6 1.3-.7 1.1-.5 .5M134 267.4l-1.3-.9-.3-1.1-.5-1.2-.5-1-.3-1.4 0-1.6 0-1.3-.3-1.2 0-1.3 .3-1.7-.1-1.5 0-1.2 .3-1.1 .4-1.2 .9-1 1.2-.3 1.2 0 .6 1.3 .5 1.3 .5 .9 0 1.5 0 1.2 .1 1.2 0 1.5-.1 1.6-.1 1.3-.1 1.1 0 1.2-.4 1.2-.6 1.4-.5 1.2-.8 1M134.1 263.8l-1.2-.8-.6-.9-.4-1.1-.2-1.5 .1-1.1-.2-1.5-.1-1.5 .3-1.3 .3-1.4 .4-1.3 .8-1 1.1-.3 .9 1.1 .6 1.3 0 1.3 .4 1.4-.2 1.5 .1 1.2-.2 1.1-.4 1.3-.1 1.5-.6 1.1-.8 1" fill="none" stroke="#000" stroke-width="0.68" stroke-linejoin="round"/></g><clipPath id="cP5"><rect x="194.6" y="172.3" width="106.0" height="105.8"/></clipPath><g clip-path="url(#cP5)"><path d="M219.3 228h1M222.5 231.1h1M235.9 229.6h1M208.3 227.1h1M216.6 240.7h1M216 224.8h1M228.6 232h1M229.2 237.7h1M227.6 233.2h1M243.8 236.2h1M227.3 229.4h1M226.6 236.7h1M227.3 228h1M219 232.8h1M228.9 238.9h1M213.2 234h1M222.1 232.8h1M214.7 227.2h1M232.3 241.8h1M228.5 230h1M219 234.1h1M217.9 234h1M224.8 228.9h1M205.2 231.5h1M215.1 233.1h1M221 232h1M223.4 232.8h1M226.6 232.8h1M218.8 227.8h1M236.8 231.2h1M228 227.9h1M216.4 238h1M214.5 231.9h1M220.4 240.5h1M221.4 239.1h1M232 232.9h1M227.9 234.2h1M232.9 240.4h1M210.8 235.8h1M218.2 223.4h1M216.6 237.8h1M231.7 236.6h1M212.6 224h1M210.1 224h1M226.1 234.7h1M225.5 229.8h1M228.6 233.5h1M213.8 229.4h1M228.5 234.7h1M214.3 231.9h1M227.6 233.9h1M220.3 231h1M217.1 228.9h1M230.5 236.2h1M225.1 230.7h1M212.2 244h1M219.9 232.5h1M210.1 231.9h1M215.7 236.6h1M226.3 230.3h1M223.7 234.3h1M217.2 237.2h1M233.8 229.4h1M221.2 229.4h1M217.3 231.9h1M207.8 232.4h1M209.1 231.1h1M223.6 235.1h1M217.6 228.2h1M236.5 228.8h1M227 232.1h1M200.3 237h1M211.9 226.4h1M232.4 233.5h1M226.2 232.7h1M218.3 234.4h1M224 244.6h1M218.1 228h1M231.8 232h1M204.9 245.3h1M234.2 240.4h1M222.7 237.4h1M212.6 229.6h1M243.4 224.2h1M221.4 236.1h1M206.2 224.6h1M217.3 231.3h1M232.9 235.3h1M221 240.8h1M241 228.7h1M233.2 237.3h1M230.4 230.3h1M212.4 238.8h1M217.1 232.3h1M227.7 229h1M235.3 231h1M218.9 244.2h1M220.8 236.2h1M241.2 228.1h1M223.8 245.2h1M214 224.6h1M227.9 230.8h1M225.3 237h1M198 232.9h1M228.6 237.7h1M218.1 232.3h1M230.1 230.9h1M216.3 235.8h1M226.2 229.5h1M224 234.2h1M228.9 228.9h1M219.5 233.5h1M217.7 233.9h1M210.1 230.9h1M230.6 230.7h1M218.4 225.8h1M224.2 235.4h1M211.3 236.2h1M230.6 236h1M212.5 231.7h1M230.4 231.7h1M224.5 247.5h1M237.5 229.4h1M233.1 228h1M220.8 235.2h1M214.7 229.3h1M216.9 232.9h1M217.8 247.2h1M220.2 262.2h1M216.8 260.2h1M215.8 252.8h1M218.3 254.7h1M220.1 256.8h1M220.6 257.8h1M217.7 252.9h1M219.1 257.6h1M219.2 267.2h1M217.1 242.2h1M220.4 251.6h1M217.3 255h1M220.5 263.8h1M235.3 230h1M256.6 233.5h1M271 232.2h1M241.5 231.8h1M269.1 228.7h1M254.4 232.8h1M259.8 228.7h1M266.8 232.1h1M258 232.9h1M257.5 233.3h1M271.1 232h1M271.9 234.6h1M250.7 232.1h1M283.2 230.6h1M247.9 231.7h1M257.7 228.4h1M257.6 232.2h1M231.8 228.1h1M266.4 230.9h1M248.1 231.4h1M253.1 231.5h1M277.3 230.4h1M268.2 234.2h1M256.9 230.8h1M251.6 235.6h1M249.3 231.4h1M254.6 232.8h1M280.6 232.2h1M258.4 227.9h1M261.7 234.6h1M251.1 230.7h1M261.5 232.5h1M250.7 229h1M246.2 232.8h1M234.4 231.8h1M263.3 229.8h1M268.2 232.6h1M243 229.6h1M260 233.8h1M251 227.9h1" stroke="#111" stroke-width="1.0" fill="none"/><path d="M267.7 228.3l-1.5 .4-1.4 0-1.2 0-1.2-.2-1.4-.4-1.4-.3-1.3-.6-1-.8-1.2-.8-1-.6-.9-1.2-.9-.7-1.1-.7-1.4-.5-1.1-.1-1.2 .2-1.2 .3-1.3 .2-1.4 .2-1.3 .1-1.4 .1-1.3 0-1 .4-1.4 .2-1.1 .6-1.1 .4-1.4 .2-1.5 .1-1.5 .7-1.1 .2-1.2 .1-1.4-.3-1.4-.2-1.3-.2-1.3-.2-1.6-.6-1.3-.1-1.1-.5-1.4-.8-.9-1-1-.8-.8-1-.8-.7-.7-1.1-.4-1.2-.8-1.1-.7-1-.5-1-.9-.9-.6-.9-.5-1.2-.5-1-.7-.9-.4-1.1-.6-1.1-.7-1-.4-1.1-.5-1.4-.5-1.4-.8-1.3-.6-1.1-.6-1.1-1.5-.5-.9-1.2-.9-.6-1-.8-.9-.7-.6-1.2-.5-1.3-.3-1.4-.2-1.4-.1-1.7-.1-1.3 .2-1.2 .1-1.2 .4-1.2 .3-1.4 1-1.4 .9-.7 .9-.6 1.4-.3 1.5-.3 1.2-.4 1.3-.2 1.4-.1 1.1 .2 1.3 0 1.3-.1 1.4-.2 1.3-.1 1.2 .1 1.5-.1 1.3-.1 1.4 .2 1.1-.3 1.3-.1 1.5 .1 1.3-.1 1.3 0 1.5-.1 1.1 .1 1.1 .2 1.5-.1 1.3 .1 1.4 .2 1.4-.3 1.3 0 1.4 .5 1.2 .2 1.5-.2 1.1-.1 1.2-.2 1.2-.2 1.5-.1 1.3 .2 1.3 .1 1.6 .1 1.1 .3 1.2-.2 1.3-.1 1.1-.7 1.2-.6 1.1-.3 1-.5 1.1-.4 1-.5 1.4-.3 1.2-.3 1.4-.1 1.6 .1 1.5 .2 1.5-.1 1.4 .5 1 .8 1 .7 1.3 .9 .7 .8 1.2 1.1 .8 1.1 .6 1.1 .8 .9 .7 1.3 .5 1.5 .2 1.3 .4 1.5 .5 1.4 .3 1.4 .3 1.4-.1 1.5 .1 1.2 .2 1.3-.1 1.3-.1 1.2 .3 1.3 0 1.4 .1 1.5 .2 1.3-.2 1.4 .2 1.4-.4 1.3 .2 1.5-.1 1.5-.5 1.3-.2 1.3-.2 1.2-.5 1-.4 1.3-.5 1.2-.7 1.3-.5 1.1-.6 1-.7 1-.8 .9-1.1 1.2-1.1 1.1-.9 1-1.3 .7-1.2 .9-1.2 .1M267.3 226l-1.4 .5-1.3 0-1.6-.1-1.3 0-1.1-.7-1.3-.4-1.2-.6-1.1-.8-1.1-1-1-1-1.1-.7-.9-.7-.8-1-1.3-.5-1.4 .1-1.2 .5-1.4 .5-1.4 .4-1.5 .4-1.3 .1-1.4 .3-1.4 0-1.3 .2-1.3 .5-1.3 .4-1.3 0-1.2 .4-1.1 .2-1.4 .5-1.3 .3-1.3-.2-1.4-.3-1.3-.2-1.3-.5-1.3 0-1.2-.4-1.1-.6-1.2-.6-.9-.8-.9-.9-.8-1.2-.8-.9-.4-1.2-.8-1.2-.7-.9-.9-1.1-.8-1.1-.5-1.4-1.1-1.1-.4-1.2-.7-1-.5-1-.7-1.1-.4-1.1-.2-1.6-.2-1.6-.5-1.2-.9-.7-1.1-.9-.8-1.1-1-.5-1.2-.7-1.1-.5-1-.8-.8-.9-.5-1.2-.3-1.1-.2-1.3-.1-1.2-.1-1.4-.1-1.5 .1-1.1 .4-1.4 .8-1.3 .8-.9 1-.7 1.1-.5 1.6-.3 1.4-.4 1.4 .1 1.4-.1 1.2-.2 1.3 0 1.2-.1 1.4 0 1.3-.3 1.3 .4 1.4-.1 1.3-.3 1.4 0 1.2 .1 1.2-.1 1.4 .1 1.6 0 1.4-.1 1.3 .3 1.2-.1 1.2-.1 1.2-.1 1.5 0 1.1 .2 1.4 .3 1.2 .1 1.2 .5 1.2 .2 1.4-.1 1.6 0 1.3-.1 1.2 0 1.5-.1 1.2 .2 1.4 .3 1.1 .2 1.3-.3 1.2-.6 1.4-.4 1-.6 1.1-.5 1-.8 1.3-.4 1.2-.6 1.2-.3 1.3-.3 1.3-.2 1.4 .2 1.5 .3 1.1 .2 1.3 .4 1.3 .4 .9 .9 1.2 .8 1.1 .6 .8 .8 .6 1 .8 1.1 .7 1.3 .9 1.3 .3 1.3 .6 1.3 .4 1.4 .1 1.1 .1 1.3 .3 1.4 .2 1.2-.2 1.4 .1 1.2-.1 1.5-.1 1.2 .1 1.1 .1 1.2-.1 1.1 .1 1.3 .1 1.2 .3 1.5 0 1.1-.1 1.3-.4 1.4-.3 1.4-.1 1.3-.3 1.4-.4 1.1-.4 1.2-.8 1.1-.7 1.1-.6 1.3-.8 .8-.8 1.3-.8 .9-1 1-.8 .7-1.2 .5-.9 .7-1.1 .2-.3 .1M247.5 200.6l.8-.8 .3-1.1-.3-1.2-.6-1.2-.9-.8-1.3-.4-1.4-.1-1.4 .2-1.2 0-1.1 0-1.2 .8-1 .5-1.1 1 .9 .9 1.3 .3 1.1 .3 1.3 .3 1.2 .6 1.2 .6 1.4 .4 1.6 0 .3-.3M267.2 224.2l-1.3 .2-1.1 .1-1.5 .1-1.4-.3-1-.2-1.1-.3-1.4-.9-1.2-.9-1-.5-.8-.8-.7-1-1-.9-1-1-1.2-.8-.7-1-.9-.6-1.3-.7-1.3 .2-1.1 .8-.9 1-1.2 .3-1.3 .3-1.3 .2-1.5-.2-1.4 .4-1.1 .4-1.3 .2-1.4 .4-1 .4-1.4 .3-1.1 .2-1.2 .3-1.5 0-1.1-.4-1.5-.1-1.2-.3-1.2-.3-1.5-.4-.9-.8-.9-.9-.7-1.2-.9-.7-.7-1.3-1-.8-.8-1.3-.7-1.2-.9-.7-.7-1.1-.8-1-.5-1-.8-1.1-.1-1.5-.6-1.3 0-1.3-.5-1.3-.7-1-.8-.8-1.3-1-1-.5-1.1-.9-.9-.6-1.3 0-.9-.9-.9-.8-.7-1.1-.7-.9-.4-1.5-.2-1.2-.2-1.5 .2-1.1 .3-1.1 .3-1.3 .6-1.1 1-.9 1.1-.6 1.1-.1 1.6-.3 1.4-.5 1.1 .2 1.2-.3 1.5 .1 1.4 .1 1.3-.2 1.5 0 1.3-.4 1.3-.2 1.3 .3 1.5-.2 1.2-.1 1.2 .1 1.4-.1 1.3 0 1.3 0 1.6 .1 1.1 .2 1.2 .1 1.4 .1 1.4 .1 1.4 .6 1.2 .2 1.2 .2 1.2 .5 1.2 .3 1.2 .5 1.4 .1 1.2-.7 1.5 .1 1.3 .4 1.2 0 1.3 0 1.3-.2 1.2-.1 .8-.8 1.4-.5 .8-.9 1.3-.6 1.1-.4 1.2-.8 1.1-1 1.3 0 1.6-.3 1.4-.1 1.3 .2 1.2 0 1.3 .4 1.5 .2 1.1 .8 1.1 .6 .9 .6 1 .9 1 .8 .5 1.1 .5 1.1 .5 1.2 .7 1.1 .5 1.4 .3 1.3 .2 1.6 .3 1.2 0 1.2 .3 1.3-.2 1.3 .2 1.5 .2 1.3-.2 1.3-.2 1.3 .2 1.3 .1 1.2-.1 1.1 0 1.2 .1 1.4 .1 1.4-.2 1.5-.1 1.2-.2 1.1-.2 1.5-.4 1.1-.7 1.5-.6 1-.7 .9-.5 1.1-.7 1-.8 .8-.7 .9-.9 .6-1 .7-1 .6-1.1 .6-.9 .2M247.2 204.8l1.1-.9 .7-.9 .6-1.3 .6-1.5 0-1.3 0-1.1-.1-1.3-.5-1.2-.6-1.1-1.1-1-.8-1-1.5 .2-1.1-.1-1.2-.3-1.3 .4-1.3 .3-1.1 .4-1.2 .5-1 .7-1.2 .5-1.3 .8-.9 .7-1.1 .8-.4 1.1-.3 1.3 0 1.3 .5 1.2 1.3 .8 1.4 .4 1.5 .1 1.4 0 1.4 .1 1.5-.1 1.2 .6 1 .2 1.1 .2 1.5 .5 1.2 .1M266.3 223.3l-1.5 0-1.5-.1-1.5-.2-1.3-.5-1.2-.4-.9-.5-1.3-.7-1-1-1.1-.9-1-.9-.8-1-.8-.8-.8-1.4-.5-1.1-.4-1.1-.5-1.1-.3-1.5 0-1.5 0-1.2 .4-1.4 .3-1.3 .3-1.3 .4-1.4 .1-1.3 0-1.1 .2-1.7-.2-1.1-.1-1.3-.7-1.2-.5-1-.3-1.1-.4-1.1-.9-1-.5-1-1.3-.6-1.4 .3-1.1 .1-1.4 .2-1.2 .3-1.3 .7-1.2 .7-.6 1.1-1.4 .7-.9 .7-1.3 .7-1.2 .7-.9 .6-1.2 .3-1.2 .9-.9 .7-.8 .8-.5 1-.3 1.3-.4 1.4-.3 1.2-.4 1.4-.9 .8-.8 1-1.2 .9-1.3 .6-1.4 .4-1.2-.2-1.2-.4-1.1-.8-.9-.8-.9-.7-.6-.9-.3-1.1-.2-1.1-.2-1.2-.4-1.2-.7-1.1-1.1-.6-.9-.7-.8-.9-1.1-.1-1.3-.7-1.2-.5-1.2-.6-1.3-.5-.9-.9-.8-.6-.8-.9-.5-1.3-.3-1.4-.2-1.4 .4-1.4 .3-1.1 .8-1 .9-.9 1.4-.6 1.3-.4 1.4 0 1.2-.4 1.3 0 1.2-.3 1.3 0 1.4-.2 1.5 0 1.6 0 1.1-.4 1.3 .1 1.4-.2 1.4-.2 1.4 .3 1.2-.1 1.2-.1 1.4 .2 1.1 .2 1.3 .2 1.5 .2 1.2 .2 1.5 .2 1.4 .6 1.3 .7 .9 .7 1 .5 .9 1 1.4 .3 1.3 .2 1.5 .1 1.5 0 1.3 .2 1.2 .4 1.1-.8 1.2-.7 1.2-1.1 1.2-1.1 .9-.7 .8-.9 1.2-.6 .7-.9 1.3-.5 1.4-.5 1.4-.4 1.1-.4 1.4 0 1.3 .1 1.3-.2 1.4 .2 1.2 .5 1.3 .9 1.1 .5 1.1 .9 1.1 .9 1 1.1 .7 1.3 .6 1.2 .5 1.5 .4 1.2 .3 1.4 .1 1.1 .1 1.5 .2 1.4 .4 1.4-.2 1.5 .3 1.2 0 1.2-.1 1.4 .2 1.3 .2 1.3-.1 1.2 0 1.4-.3 1.2 0 1.5 .3 1.4-.2 1.2-.4 1.4-.6 1.1-.4 1.3-.5 1.3-.7 1.1-.8 1.5-1 .8-.9 1-.9 .9-1.3 .7-1.1 .5-1.1 .6-.9 .6M266.7 221.6l-1.4 .1-1.3 0-1.3 .1-1.2-.1-1.1-.3-1.3-.4-1-.8-.8-.9-1.2-.7-.9-.9-1-.8-.9-.9-.5-1.1-.7-1.3-.5-1.1-.4-1.2-.1-1.5-.1-1.6 .2-1.3 .3-1.1 .3-1.1 .2-1.3 .3-1.4-.1-1.2 .2-1.4 .2-1.5-.3-1.1-.4-1.4-.2-1.4-.1-1.1-.2-1.3-.3-1.1-.2-1.2-.1-1.3 .4-1.4 .5-1 .7-1.2 .9-.9 .9-.8 1-1 1-.6 .9-.7 1.3-.5 1.2-.6 1.3-.3 1.4-.3 1.3 0 1.4 0 1.2 .2 1.1 .5 1.5 .4 1.1 .7 .8 .8 1.1 .6 .7 1.1 .8 1.2 .8 .9 .4 1.5 .7 1.4-.2 1.2 .4 1.3 .1 1.4 0 1.5 .2 1.2-.1 1.1 .2 1.5 0 1.3-.1 1.1 .2 1.7 .1 1.3 0 1.2 .1 1.5 .3 1.2-.4 1.5-.1 1.4-.3 1.2-.4 1.2 0 1.2-.5 1-.6 1-.7 1.1-.9 1.3-.6 .9-.9 .9-1.1 1-1.5 .7-1.4 .5-.4 .1M221.3 204l-1.1-.2-1.1-.5-.4-1.1-.3-1.2-.2-1.3-.8-1.3-1.3-.8-1.2-.8-1.2-.6-1.4-.6-1.5-.4-1.3-.6-1.2-.5-1.4-.9-1-.7-1-.4-.7-1.1-.7-1-.6-1.1 .3-1.3 .3-1.4 .5-1.1 1-.8 1.1-.6 1.2-.4 1.5-.1 1.2-.5 1.3-.2 1.2-.2 1.4-.2 1.3-.1 1.2-.1 1.4-.1 1.4 .1 1.3 .1 1.2-.2 1.4-.1 1.5 .1 1.1 .1 1.3 .1 1.3 .2 1.3-.1 1.3 .3 1.4 .2 1.1 .5 1.2 .9 1 1 1.2 .9 .5 1.1 .5 1.1-.1 1.1-1.2 1.3-.9 .9-.8 .9-1.1 .8-1.2 .7-1 .5-1.1 .4-1.2 .6-1.1 .5-1.3 .5-.9 1-1.2 .9-.6 1.2-.5 1.2-.5 1.2-.4 1.3-.9 .7-.6 .2M265.3 220.7l-1.3 .1-1.3 0-1.4-.5-1.2-.3-1.3-.3-1.1-.5-.8-.8-1.2-1.2-.8-.8-1.1-1.1-.4-1.1-.6-1.1-.6-1.4 .1-1.2-.3-1.3 0-1.4 .4-1.4-.2-1.2 .6-1.4 .3-1.4 .2-1.2 .1-1.6-.2-1.4 .1-1.4-.2-1.1-.4-1.3-.1-1.2-.3-1.3-.2-1.3-.2-1.4 .1-1.3 .5-1 .3-1.1 .5-1.2 .7-.9 .7-.9 .9-.8 1.4-.6 1-.6 1-.5 1.5-.4 1.2-.2 1.5-.3 1.3 .3 1.4 0 1.2 .4 1 .5 1.3 .8 1 .9 1.1 1 .9 .8 .5 1 .4 1.1 .4 1 .5 1.5 .2 1.1 .2 1.5 0 1.6 0 1.3 .1 1.3 .2 1.4-.1 1.2-.1 1.2 .3 1.2 .2 1.1 0 1.3 .1 1.2 .1 1.5-.2 1.3 0 1.3-.1 1.4-.2 1.2-.5 1.3-.4 1.5-.7 1.4-.9 1.1-.8 1.2-1 1.2-1.1 .7-1 .5-1.2 .3-1.3 .3-.6 .4M222 195.8l-1.2 .1-1.4 0-1.1-.2-1.3-.4-1.4-.5-1.4-.3-1.4-.3-1.4-.6-1.2-.6-1.3-.5-1-.5-1.4-1-.9-.8-.5-1.1 0-1.6 .5-1.1 .9-.9 1.1-.6 1.5-.4 1.4-.3 1.5-.4 1.3-.4 1.2-.1 1.4-.1 1.1 .1 1.1-.4 1.3-.2 1.2 .1 1.3 .1 1.1-.1 1.3 0 1.2 .1 1.2 0 1.5 .3 1.3 .2 1.4 .4 1.5 .5 1 .6 1.1 1.2 .7 1.2 0 1.4-.5 1.3-.8 .8-.8 .9-1.1 .4-1.3 .7-1.1 .6-1.1 .8-1.1 .3-1.4 .2-1.4 .6-1.2 .5-1.5 .2M264.7 219.7l-1.6 .1-1.3-.3-1.2-.2-1.1-.5-1-.6-1.1-.5-.8-.9-.9-1-.8-1-1-1-.1-1.2-.5-1.1-.5-1.5 .1-1.4 .2-1.5 .3-1.3 .4-1.5 .1-1.2 .1-1.2 .1-1.3-.1-1.4 0-1.2-.2-1.3 .1-1.2 0-1.4-.5-1.4-.4-1.4 .2-1.3-.2-1.1 0-1.3 .5-1.1 .6-1.3 1-1.2 .9-.9 .8-.9 1-.5 1.4-.5 1.6-.6 1.4-.1 1.4-.4 1.4 .1 1.3 .4 1.2 .4 1.3 .5 1 1 1.1 1 1 1.2 .6 1.4 .4 1 .5 1 .4 1.1 .1 1.3 .2 1.2 0 1.5 .1 1.5-.1 1.3 .1 1.3 .1 1.3 0 1.3 .2 1.3 0 1.3 0 1.3-.1 1.7 .3 1.4-.1 1.4-.3 1.1-.2 1.2-.3 1.2-.4 1.4-.5 1-.5 1.2-1.2 1.1-1.1 1-1.3 1-1 .5-1.1 .4-1.1 .3-.9 .1M224.3 193.6l-1.4 .3-1.4 .1-1.3-.1-1.2-.1-1.4 .1-1.4-.3-1.2-.6-1.1-.4-1.5-.2-1-.6-1.1-.3-1.2-.9-.9-1-.2-1.4 .5-1.1 1.1-.9 1-.7 1.1-.4 1.3-.2 1.4-.5 1.2-.2 1.2-.1 1.4 0 1.4-.2 1.1 .1 1.3 .2 1.4 0 1.5-.2 1.2 0 1.3 .1 1.1 .3 1.7 .5 1.2 .8 1.1 1.1 .4 1.1-.3 1.4-1.1 1.2-.7 .9-.9 .7-1 .4-1.4 .3-1.1 .5-1.4 .3-.9 .1M264.3 218.9l-1.3 0-1.1-.2-1.2-.3-1.6-.5-1.1-.6-.8-.8-1.3-1-.8-1.1-.4-1.2-.6-1.3-.4-1.4 0-1.5 .3-1.3 0-1.2 .2-1.5 .2-1.3 .4-1 .2-1.3-.1-1.5-.1-1.3-.1-1.5 0-1.2-.3-1.3-.1-1.4-.2-1.2-.4-1.4-.1-1.5 .4-1.2 .2-1.4 .6-1.1 .8-.9 .9-1.1 1-.6 1.1-1 1.1-.4 1.3-.2 1.3-.2 1.5-.1 1.5 .1 1.4 .2 1.6 .6 .7 .8 1 1.2 .8 1 .9 .7 .5 1.1 .2 1.3 .3 1.4 .3 1.3-.1 1.2 .2 1.3 0 1.4 .1 1.1 .1 1.4 .3 1.4 0 1.5-.2 1.3-.1 1.3 .3 1.5 .2 1.2 .1 1.6-.2 1.4 .1 1.4-.4 1.1-.2 1.5-.8 1.1-.5 1.2-.6 .9-.9 .7-.9 .9-1 .8-1.2 .6-1.4 .4-1.5 .1-.1 .1M221.7 192.4l-1.1-.1-1.3 0-1.1-.3-1.1-.3-1.2-.1-1.4-.2-1.3-.8-1-.5-.7-1.1 .4-1.4 1.1-.8 1-.6 1.4-.4 1.4-.2 1.3-.2 1.4-.1 1.4-.1 1.2-.1 1.3 .1 1.3 .1 1.2 .1 1.3 .4 1.1 .4 1.1 .5 1 1.2-.2 1.5-.8 .7-1.4 .8-1.2 .5-1.2 .4-1.1 .3-1.6 .2-1.3 .1M264.7 217.9l-1.2 .2-1.4-.1-1.2-.4-1.4-.2-1-.6-1-.9-.9-.9-.6-1-.6-1.1-.6-1.1-.5-1.4 0-1.5 0-1.5 .4-1.3 .2-1.1 .3-1.2 .3-1.2 0-1.3 .4-1.4-.2-1.2-.1-1.5-.1-1.4-.3-1.2-.3-1.5-.2-1.2-.1-1.3-.2-1.4 .3-1.3 .4-1.4 .9-1.2 .8-.8 .7-.8 .8-.9 1.2-.6 1.4-.5 1.2-.1 1.4-.1 1.3 .2 1.3 .3 1.1 .6 1.1 .3 1.2 1.1 .6 .9 .8 1.1 .4 1.1 .5 1.2 .3 1.3 .2 1.3 0 1.3 .2 1.4 .1 1.2 .1 1.3 0 1.4-.2 1.4-.3 1.5 .5 1.2 .3 1.4-.1 1.1 0 1.2 .1 1.2 .2 1.3 0 1.1-.4 1.4-.5 1.2-.3 1-.5 1.6-.7 .9-.8 .9-1.3 .7-.9 .7-1.3 .2-1.4 .3-.2 .1M223.3 190.2l-1.3 .4-1.5-.2-1.1-.1-1.3-.2-1.3-.8 0-1.5 .8-.7 1.4-.2 1.1-.2 1.4-.1 1.4 0 1.2 .4 1.1 .5 1 .8-1 1.3-1.5 .5-.4 0M265.5 217.2l-1.3 0-1.3 .1-1.5-.1-1.1-.5-1.2-.6-1.2-.7-.8-1-.9-1.3-.6-1-.3-1.3 .1-1.4 0-1.7-.2-1.3 .4-1.1 .2-1.4 .6-1.3 .2-1.2 0-1.3-.1-1.6 .2-1.6-.4-1.3-.3-1.3-.2-1.2-.3-1.2-.3-1.1-.1-1.3 .2-1.3 .3-1.2 .5-.9 1-1 .9-1 .7-.9 1.5-.4 1.3-.4 1.5-.4 1.2 .3 1.3 .4 1.2 .2 1 .8 1.2 .7 .9 .9 .4 1.2 1.1 1.2 .1 1.3 .2 1.1 0 1.4 .1 1.2 .1 1.3 0 1.5-.1 1.4-.2 1.1 0 1.4 .3 1.3 .2 1.2 .3 1.4 .1 1.4 0 1.5-.2 1.3 0 1.2 0 1.3-.4 1.4-.4 1.4-.6 .9-.8 .7-.9 1-.8 .9-1.1 .4-1 .5-.5 0M266 216.2l-1.3 .3-1.4-.1-1.4 0-1.6-.4-1.2-.6-.7-.9-.9-.8-.8-.9-.5-1.3-.2-1.4-.3-1.4 .3-1.3 .2-1.2 .3-1.5 .4-1-.1-1.3 .5-1.3 .1-1.3 .1-1.5-.1-1.2-.3-1.4-.4-1.2-.3-1.1-.3-1.1-.1-1.4-.1-1.3 .1-1.2 .4-1 .6-1.3 .6-1.1 .9-.7 1.2-.6 1.3-.9 1.3 0 1.4 .2 1.4 0 1.2 .5 1.1 .7 1 .6 .8 1.1 .7 1.2 .5 1.2 .6 1.4 0 1.4-.2 1.3 .2 1.3 .1 1.2 0 1.4-.2 1.5 .1 1.1 .1 1.6 .2 1.1 .1 1.3 .1 1.5 0 1.4 .1 1.4 0 1.2-.2 1.2-.3 1.4-.6 1.1-.3 1.1-1.1 .8-1 1.4-1.1 .2-1.1 .6M264 215.8l-1.3-.2-1.5-.4-1-.4-1-.5-.9-.7-.8-1.1-.7-1.1-.2-1.4 0-1.3-.1-1.3 .3-1.4 .6-1 .3-1.1 .1-1.4 .4-1.4 .3-1.3-.5-1.4-.2-1.3 0-1.3-.4-1.4-.3-1.1-.3-1.5-.2-1.2 0-1.1 .1-1.4 .5-1.5 .8-1 1-.6 1-.9 1.4-.5 1.4-.4 1.4 .3 1.3 .4 1 .6 1.1 .6 1 .9 .7 1.3 .5 1 .2 1.3 .2 1.6 0 1.3-.1 1.2-.1 1.3 0 1.3-.1 1.2 .2 1.3 0 1.4 .1 1.3 .3 1.6 0 1.2 .3 1.1 .3 1.6-.1 1.2-.3 1.1 .1 1.2-.5 1.3-1 1.2-.8 1-1.2 .8-1 .6-1.2 .2-1.1 .1M264.9 215.1l-1.3-.1-1.3-.1-1.3-.2-1.2-.9-1.1-.6-.5-1.1-.7-1-.4-1.4 0-1.2 .4-1.3 .1-1.3 .5-1.1 .4-1.3 .3-1.1 .2-1.1 .1-1.2 .2-1.2 .3-1.4-.5-1.3-.4-1.3-.6-1.2-.4-1.5-.5-1 .1-1.2 0-1.3 .6-1 .4-1.1 .8-1.1 1.1-.7 1.3-.4 1-.5 1.2 .1 1.1 .2 1 .6 1.1 .5 .9 .7 .9 .9 .4 1.1 .1 1.2 .3 1.6-.2 1.1-.2 1.2 .1 1.7 .1 1.2 0 1.2-.2 1.1 .1 1.5 .1 1.4 .3 1.2 .1 1.3 .3 1.4 .1 1.2-.2 1.3 .4 1.6-.3 1.4-.7 .9-.9 1.2-.8 .7-.9 .8-1.1 .7-.6 .2M265.2 214.1l-1.2 .2-1.5 0-1.2-.3-1.3-.4-.8-1-.3-1.1-.8-1.2-.3-1.2 .3-1.2 .2-1.3 .4-1.1 .3-1.3 .5-1.3 .5-1.2 .1-1.6 .2-1.3 0-1.2-.2-1.3-.7-1.1-.3-1.2-.5-1.2-.4-1.5-.1-1.3 .1-1.2 0-1.4 .7-.9 1-.8 1.2-.4 1.2-.4 1.4 0 1.5 0 1.1 1.2 1.1 .6 .7 .9 .4 1.5 .3 1.4-.1 1.5-.2 1.2-.2 1.3-.1 1.3-.1 1.4-.2 1.5 .2 1.2 .2 1.4 .3 1.3 .4 1.2 .2 1.2 .1 1.4 .2 1.5-.2 1.3-.1 1.3-.6 1.3-.7 .9-1.3 .9-1.1 .3-.2 .1M264.6 213.5l-1.3-.1-1.2-.1-1.1-.1-1.1-.9-.8-1.3-.4-1.4 .1-1.3 .1-1.3 .6-1.4 .2-1 .6-1.2 .6-1.3 .5-1 .5-1.3 0-1.2-.3-1.1-.5-1-.4-1.2-.8-1.4-.6-1.2-.5-1.2-.1-1.4 0-1.5 .5-1 .5-1 1.3-.7 1.3-.6 1.2 .2 1.3 .2 1.1 .3 1 1.1 .6 1.2 .6 1.4 0 1.2-.1 1.6-.2 1.1-.5 1.4-.5 1.1-.2 1.2 0 1.2 .1 1.3 .1 1.5 .6 1.2 .5 1.3 .2 1.1 .5 1.5 0 1.3 .2 1.3-.6 1-.4 1.3-.7 1-.8 .8-1.2 .6-.4-.2M264.3 195.7l-1.2 0-1.1-.7-.6-1-.9-.8-.9-1.1 .1-1.3-.2-1.5 .1-1.2 .9-1.2 1.1-.7 1.3 0 1.2 .1 1 .3 1 .8 .7 1.1 .6 1.4-.2 1.4-.4 1.1-.3 1.4-.8 .9-1.1 1.1-.2 0M265.1 212.7l-1.5 0-1.5 0-1.2-.3-.9-1-.4-1.4-.4-1.3 .2-1.4 .4-1.1 .6-1 .7-1.5 .9-.8 .9-.9 1.2-.1 1 .5 1.3 1 .5 1 .6 1.1 .3 1.3 .1 1.4-.1 1.3-.2 1.4-1 .9-1 .7-.4 .2M264.5 193.7l-1.2 .2-1.7-.8-.6-1-.7-1.2-.2-1.4 .4-1.2 1.3-1 1.2-.3 1.2-.1 1.2 1 .7 1 .4 1.3 0 1.2-.5 1.3-1.1 .6-.6 .4M264.2 212.1l-1.3 0-1.3-.3-1-1.4-.6-1.2 .2-1.3 .6-1.2 1-1.4 1-.8 1.3-.3 1.4 .4 .7 .9 .7 1 .3 1.3-.2 1.4-.5 1.3-.9 .9-1.3 .7M264.1 192.3l-1.4 0-1.1-.7-.7-1.4 .2-1.3 1-.7 1.4-.5 1.2 .3 .8 1.3 0 1.3-.3 1.3-1.1 .5M264.4 210.9l-1.2 .4-1.3-.4-.8-1.4 .3-1.4 .5-1.1 .8-.9 1.6-.2 1 .8 .4 1.3 .1 1.4-.5 1.2-.9 .4" fill="none" stroke="#000" stroke-width="0.68" stroke-linejoin="round"/></g><clipPath id="cP6"><rect x="340.9" y="172.2" width="106.0" height="105.8"/></clipPath><g clip-path="url(#cP6)"><path d="M346.5 236h1M366.4 237.4h1M367.4 240.2h1M371.5 244h1M367.3 219.7h1M365 214.9h1M357.2 220.6h1M358.1 206.7h1M353.9 222h1M367.4 234.6h1M352 228.8h1M355.1 217.3h1M348.8 211h1M355.9 211.5h1M351.4 226.3h1M359.5 233h1M357 228.3h1M370.8 228.5h1M350.5 253.9h1M359.8 234.9h1M368.8 232.2h1M364.6 193.3h1M371.1 223.7h1M352.7 239h1M355.5 240.5h1M358.7 227.8h1M354.9 222.9h1M359.4 223.3h1M353.2 237.6h1M363.9 231.4h1M358.7 250.4h1M360.6 221.4h1M354.2 238.1h1M352 219.1h1M350.4 235.9h1M369.8 244.9h1M351.7 241.9h1M361.2 234.8h1M357.3 238.6h1M346 245.4h1M357.6 243.3h1M363.9 259h1M353.3 229.4h1M354.3 241.9h1M360.2 211.2h1M358 230.6h1M362.5 255h1M357.7 240h1M353.5 245.2h1M359.9 227.6h1M343.5 233.5h1M356.9 230.9h1M353.2 244.9h1M352.6 230.3h1M362.5 245.4h1M360.2 219.1h1M364.7 238.9h1M350.8 232.4h1M356.6 214.3h1M366.6 239.4h1M349.3 213.8h1M356.4 215.9h1M355.7 219.7h1M356.7 227.6h1M358.6 248.9h1M359.9 209.4h1M341.5 229.8h1M365 241.8h1M373.8 231.3h1M350.5 230.8h1M357.7 218.9h1M355.7 210.3h1M354.3 255.3h1M355 225.1h1M364.6 234.2h1M352.2 242.8h1M362.9 224.9h1M354.2 223.2h1M364.3 227.7h1M361.2 240.6h1M354.8 207.6h1M363 243.4h1M350.6 247.2h1M356.5 256.5h1M372.3 229.9h1M374.1 230.2h1M355.5 233.9h1M346.1 245.4h1M360.7 257.5h1M366.7 248.9h1M357.7 250.1h1M364 241.1h1M346.2 221.7h1M374.4 222.3h1M350.3 239.1h1M356.4 222.6h1M363.8 221.8h1M350.6 237.9h1M378.2 227.6h1M357.2 209.9h1M344.7 240.1h1M346.2 220.4h1M367.5 216.3h1M352.7 235.6h1M367 237.9h1M366 208.1h1M359.7 224.6h1M355 234.3h1M367.3 223.6h1M348 225.1h1M363.2 216.9h1M358.6 235.9h1M354.5 240.4h1M360.5 218h1M345.4 231h1M356 232.5h1M364.5 244.3h1M362.9 243.7h1M358.6 232.5h1M369.6 224.1h1M359.4 216.8h1M355.7 230h1M355.3 222.4h1M353 256h1M358.7 224.8h1M369.6 256.9h1M363.1 235.5h1M362.5 239.8h1M350.5 221.9h1M347.4 208h1M362.8 217.6h1M367.7 208.3h1M359.2 228.8h1M369.3 227.5h1M345.8 214h1M347.2 233h1M371.7 247.4h1M368.3 236.2h1M361.3 216.1h1M353.2 244.2h1M352.7 211.5h1M357.5 238.5h1M369.2 197.6h1M353.4 208.7h1M355.1 242.5h1M372.2 243.4h1M364.6 219h1M359.1 226.4h1M367.8 235.6h1M355.8 218.3h1M369.3 228.1h1M351.4 227.1h1M364.4 259.3h1M364.4 228.4h1M362.3 242h1M359.3 244.3h1M355.8 239h1M350.5 231.6h1M362.2 230.6h1M352.2 250.6h1M353.8 235.9h1M347.7 238.2h1M367.3 234.2h1M354.6 237.5h1M367.6 220.2h1M370.5 226.7h1M360.9 222h1M356.2 225.6h1M350.9 217.8h1M362.8 206h1M373.1 243.1h1M354.1 232.2h1M346.6 223h1M357.4 229.9h1M361.8 224.9h1M366.8 238.7h1M368.2 220h1M360.6 234.4h1M365.1 235.2h1M363.3 265.6h1M363.4 227.4h1M363.2 214.5h1M361.1 207.2h1M360.2 223.2h1M353 228.4h1M350.8 231.7h1M364.2 224.2h1M359 215.5h1M354.3 237.6h1M369.3 255.4h1M344.2 259.6h1M355.2 238.4h1M355.8 242.4h1M363.8 240.1h1M364 229.8h1M347.4 235.5h1M364.8 227.7h1M364.2 223.3h1M359.9 228.7h1M358.6 249h1M351.2 251.1h1M367.5 229.9h1M364.8 238.2h1M358.3 231h1M356.7 232.8h1M353.2 228.7h1M368.8 236.7h1M359.9 230.9h1M358.8 222.6h1M348.8 223.3h1M347.7 232.7h1M348.7 200.4h1M361.1 248.6h1M369.6 222.5h1M360.7 199.1h1M371.4 233.2h1M353.5 221.2h1M350.2 246.4h1M349.5 224.9h1M354.8 226.6h1M361.3 226.8h1M361.6 237.3h1M363.1 239.9h1M379 234.1h1M357.1 224h1M363.4 249h1M365.9 235.6h1M359.5 249.4h1M353.3 232.5h1M373.7 225.5h1M354.3 209.5h1M367.5 231.8h1M363.7 219.3h1M348.5 221.7h1M359 229.7h1M355.7 235.7h1M363.8 212.2h1M349.7 213.5h1M351.2 233.5h1M375.5 248.3h1M358.2 224.6h1M371.1 223.4h1M360.2 217.2h1M353.3 210.3h1M369.3 219.7h1M354.5 238.3h1M351.4 237h1M342.4 239.5h1M358.2 223.1h1M366.9 226h1M353.3 231.2h1M369.3 224.6h1M360.1 209.4h1M356.2 216.4h1M360.7 213.6h1M361.1 236.3h1M373.1 237.7h1M365.5 220.8h1M373.5 224.4h1M352.3 203.5h1M357.9 225h1M345.3 252h1M359.9 245.4h1M358.4 205.4h1M361.5 225.9h1M358.1 214.9h1M373.7 225.9h1M366.4 234.8h1M348.1 237.6h1M357 222.8h1M365.3 232.4h1M358.2 244.8h1M342.5 218.5h1M373.4 230.3h1M357.9 225.9h1M353.3 221.3h1M356.5 229.8h1M372.6 211.2h1M348.8 250.5h1M353.3 213.7h1M357.4 206.1h1M357.5 218.3h1M363 232.2h1M354.9 227.4h1M362.9 244.2h1M352.6 228.3h1M363.5 206.9h1M359.9 238.1h1M367 240.9h1M353.9 239.2h1M364.8 235.4h1M355 222.2h1M355.3 236.8h1M358.7 226h1M363.3 224.8h1M367.6 213.7h1M354.4 241.9h1M372.2 240.5h1M363.6 232.2h1M366.5 227.3h1M365.6 214.3h1M351.4 220.7h1M358.9 247.6h1M378.7 229.4h1M377.7 239.2h1M361.9 222.2h1M355.3 243.8h1M351.6 240.5h1M352.2 252.9h1M360.3 234h1M357 228.2h1M349.8 233.8h1M347.3 247h1M347.8 241.1h1M347.6 246.4h1M368.8 242.4h1M368.9 214.9h1M353.8 230.2h1M356.4 228.4h1M359.5 225.1h1M366.1 221.2h1M366 208.8h1M357.2 224.2h1M366.2 208h1M356 207.3h1M368.7 223.8h1M357.5 244.5h1M351.1 242h1M367.6 237.8h1M368.4 225.1h1M365.2 232.5h1M359.5 223.5h1M370.5 224.8h1M354.9 220.7h1M348.9 230h1M360 244.3h1M356.8 227.4h1M347.5 244h1M358 226.1h1M355.2 229.8h1M356.9 237.8h1M371.5 219.6h1M344.2 240.9h1M349 207.9h1M361.9 240.3h1M359.3 230.1h1M360.5 238.4h1M360.5 231.2h1M351.3 223.1h1M361.1 225.7h1M353.3 203h1M353.7 227.4h1M357.3 224h1M361 227.2h1M357.5 222.4h1M352 241.9h1M378 210.4h1M362.6 226.2h1M358 251.5h1M367 218.7h1M358.5 241.3h1M349.4 234.7h1M346.5 226.6h1M361.9 250.5h1M361.6 232.4h1M358.4 230.3h1M350.9 214.7h1M355.6 235h1M355.2 266.4h1M364 222.3h1M364.5 231.5h1M365.9 209.7h1M351.2 230.5h1M352.6 256.2h1M359.8 219.6h1M357.2 250.1h1M357.2 219.5h1M361.3 240.5h1M365.2 225.2h1M361.4 239.4h1M348.3 222.6h1M349.4 261h1M359.6 228.8h1M369.6 227.9h1M376.1 201.2h1M361.2 245.5h1M359.2 228.7h1M355.1 228.7h1M356.7 243.8h1M360.7 226.6h1M360.7 247.5h1M362.3 258.4h1M356.2 244.8h1M360.8 250.5h1M364.4 219.3h1M366.6 233.4h1M363 221.3h1M354.8 221.2h1M358.4 221.7h1M355 229h1M347.4 242.5h1M365.8 245.4h1M357.3 209.2h1M363.4 241.4h1M344.8 226.9h1M350.1 235h1M358 231.4h1M347.6 234.4h1M347.3 224.4h1M352.6 231.9h1M363 242.5h1M361 217.6h1M357.7 238.7h1M350.8 247.7h1M355.7 237.9h1M364 240.1h1M372.4 233.7h1M362.9 221.3h1M363.9 232.9h1M356.5 247.7h1M354.8 235.3h1M351.6 243.7h1M362.6 228h1M366.1 237h1M357.5 221h1M369.6 242.9h1M350.7 231.8h1M357 241.9h1M363.6 232.7h1M348.2 241.4h1M360.4 228.1h1M348.5 216.1h1M365.3 231.1h1M361.4 225.2h1M361.6 221.5h1M353.1 254.7h1M355.6 242.7h1M374 222.8h1M355.2 241.4h1M362.6 242.9h1M354.4 230.1h1M358.8 222.1h1M361.4 250.3h1M350.7 240.2h1M359.9 237.5h1M355.4 216.4h1M350.4 246.2h1M356.6 240.2h1M360 248h1M361.3 233.1h1M358.2 249.6h1M350.5 218.6h1M353.6 221.7h1M354.1 233.8h1M358 239.4h1M357.6 228.1h1M354.1 205.7h1M360.4 231h1M363.6 227.3h1M362.4 239.2h1M358.1 233.1h1M371.9 217.4h1M353.6 242.8h1M347 226.8h1M348 226.4h1M357.2 220.5h1M354.2 223.2h1M364.3 241.1h1M363.6 236.7h1M348.2 232.3h1M354.3 213h1M351 226.2h1M354 232.7h1M364 221.8h1M362.2 240.3h1M352.7 240.3h1M355.2 249.3h1M363 222.9h1M350.9 210.9h1M351.8 210.8h1M362.8 225.3h1M381.4 227.1h1M364.5 231.2h1M372.9 239.4h1M350.1 218.5h1M353.6 225.9h1M353 228.2h1M363.8 224.9h1M354 228.9h1M368.4 248.4h1M363.4 226.4h1M358.2 237.9h1M371.3 241.5h1M372.2 209.3h1M367.8 234.1h1M351.9 258.2h1M345.2 240h1M358.1 225h1M363.8 253.4h1M353.3 231.9h1M360 247.4h1M344.6 235.7h1M352.4 235.4h1M348.7 243.9h1M353 230.2h1M346.9 229.5h1M360.4 221.2h1M355 231.1h1M351.9 226.9h1M345.6 236.3h1M360.5 240h1M344.7 230.5h1M362.8 231.3h1M348.3 199.8h1M372.1 235.7h1M368.5 251.3h1M365.3 235.6h1M364.9 223.4h1M362.8 230.6h1M355 226.6h1M354.4 225.4h1M358.3 221.7h1M378.6 236.2h1M357.9 210.8h1M364.2 227.7h1M356.5 254h1M360.1 244.9h1M371 226.5h1M365.7 225.5h1M361.9 239.9h1M367.6 251.8h1M365.2 241.2h1M352.8 214.8h1M363.8 236.6h1M368.7 246.7h1M359.1 210.8h1M354 243.6h1M345.5 216.8h1M352.2 230.6h1M342.1 235.6h1M369.9 213.2h1M364.6 250.3h1M347.6 240.6h1M365.5 245.5h1M368.8 222.9h1M361.5 242.2h1M372.1 249.3h1M359 232h1M361.5 217.2h1M361.3 230.3h1M347.8 244.8h1M355.6 212.5h1M356.2 220.1h1M358.6 226h1M356.2 240.6h1M355.3 215.5h1M360.8 225.4h1M376.5 209.6h1M347.3 222h1M348.6 247.4h1M358 228.2h1M341.6 249.6h1M351.2 251.1h1M355.5 229.7h1M352.9 243.2h1M352.2 214h1M359.7 239h1M350.5 253.9h1M353.7 221.8h1M347 213.6h1M359.3 251.4h1M358.9 234.9h1M360.7 217.7h1M359.6 238.4h1M359.2 206.9h1M346.3 232.9h1M356 227.1h1M365.6 227.1h1M362.6 213.4h1M357.6 235.7h1M361.8 233.8h1M354.8 217.7h1M341.5 222.4h1M357.4 239h1M348 236.7h1M358.7 227.4h1M354.2 221.6h1M372 255.9h1M349.1 232.7h1M361.6 230.1h1M366.1 205h1M369.4 229.1h1M350.6 204.3h1M369.1 228.9h1M353.1 211.5h1M365.9 236.4h1M365.5 237.5h1M365.1 222.7h1M361.3 224h1M347.6 223.6h1M372.8 243.9h1M353.3 216.7h1M361.7 251.4h1M359 219.6h1M361.9 215.9h1M358.1 254.2h1M351.8 246.1h1M356 210.8h1M353.5 219.5h1M355.5 233.2h1M352.3 248.2h1M355.4 249.6h1M371.1 222.8h1M344.9 247.4h1M345.5 231.5h1M350.4 218.2h1M352.5 236h1M354.1 215.9h1M357.3 213.5h1M347.8 226.8h1M365.4 233.6h1M353.7 232.7h1M348.5 230.6h1M345.6 243.4h1M358.1 218.1h1M353 240.7h1M349.8 222.2h1M368.1 260.6h1M378.3 229.4h1M363.9 217.8h1M369.5 240.9h1M382.2 244.7h1M370.4 214.5h1M355.4 245.6h1M367.2 243.7h1M369.1 237.5h1M361.6 234.3h1M362.9 230.8h1M355.1 236.9h1M367.6 237.7h1M341.6 232.1h1M353.9 231.6h1M359.2 251.4h1M373.7 236.8h1M367.9 231.7h1M351.1 234.9h1M342.1 240.1h1M364.7 212.3h1M356.7 217.2h1M367.2 240.3h1M345.1 239.3h1M355.2 228.3h1M360.1 241.2h1M362.5 231.1h1M370 226h1M351.1 240.4h1M348.2 235.2h1M364 210.3h1M357.7 236.1h1M356.1 217.4h1M350.9 245.6h1M364.7 223.7h1M360.2 229.1h1M344.7 233.5h1M353 220.7h1M366.7 225h1M357.4 257.6h1M366.2 232h1M352.9 219.8h1M354.7 246.8h1M367 215.4h1M352 235.4h1M354.7 243.4h1M371 234.4h1M360.2 240.5h1M354.9 207.1h1M357.3 217.3h1M358.1 252.7h1M361.7 241.2h1M359.5 230.4h1M357.7 238.5h1M347.5 252.8h1M360.5 202.4h1M343.6 237.8h1M352.2 215.4h1M363.4 214.3h1M361.3 213.8h1M367 216.9h1M367.4 211.5h1M366.2 247.9h1M353.3 237h1M344.4 226.1h1M365.5 226.6h1M352.7 233.4h1M355.6 224.5h1M341.6 220.4h1M351.7 244h1M362.1 233.4h1M364.2 226.9h1M360 225.3h1M359.3 250.4h1M367.4 226.3h1M380.6 244.3h1M359.6 204.8h1M369.7 251.1h1M355.1 236.4h1M357.7 248h1M377.8 218h1M351.6 218.6h1M360.5 231.9h1M356.7 232.8h1M357.8 224.1h1M369.5 231.3h1M349.3 261.4h1M363.4 214.8h1M365.9 227.3h1M363.3 225.1h1M368.1 245.9h1M357.5 241.6h1M363.2 227.6h1M356.6 206.5h1M363.1 226h1M369.2 227.1h1M352.1 229h1M361.6 220.6h1M368.6 227.4h1M354.1 241.9h1M351.4 235h1M355.4 217.2h1M362.9 226.1h1M355.1 225.8h1M364.7 250.5h1M350.6 232h1M366.8 220.6h1M349.5 221.3h1M373.1 206h1M386.1 207h1M367.2 205.5h1M400.8 231.8h1M382.1 218.1h1M387.7 209.2h1M378.1 211.3h1M380.4 212.1h1M361.3 207.7h1M384.7 207.2h1M374.3 209.2h1M415.1 239.1h1M384.9 216.1h1M362.9 199.4h1M379.8 216.9h1M378.4 210.7h1M389.5 219.2h1M386.8 208.6h1M397.1 226.3h1M376.5 211h1M386 207.8h1M383.6 222.4h1M395.7 217.6h1M404.2 232.9h1M358.1 201.3h1M382.9 224.5h1M365.1 204h1M375.8 213h1M374.1 216.3h1M382.3 213.1h1M374.7 210.1h1M396 220.6h1M416.5 242.8h1M378.3 207.6h1M390.6 221.5h1M384.5 218.1h1M388.4 222.3h1M366.4 208.4h1M380.4 217.3h1M386.7 214.7h1M407 237.7h1M398.5 231.7h1M383.1 210.9h1M359.5 200h1M384.7 217.2h1M386.2 210.4h1M376.8 211h1M376.3 210h1M367.4 209.2h1M361.9 196.7h1M393.4 227h1M395.7 226.8h1M395.5 222.1h1M385.2 218.3h1M389.9 216.9h1M374.2 208.9h1M392.7 216.3h1M403.5 237.6h1M381.6 212.8h1M364.7 203h1M362.1 196.6h1M375.2 202.2h1M389 219.4h1M373.7 222h1M379.4 210.3h1M380.6 220.1h1M405.9 230.9h1M392.6 223h1M366.4 200.1h1M384.9 219.6h1M380.2 213.4h1M393 219.9h1M388.4 219.7h1M375 208.9h1M358.8 191.8h1M372.7 209.7h1M376.2 214.3h1M388.7 220.9h1M381 216.2h1M380.6 213h1M390 217h1M379 208.9h1M367.3 204.3h1M418.4 234h1M370.6 206.7h1M381.7 209.4h1M402.4 227.9h1M370.1 205h1M379.1 215.7h1M342.7 186.6h1M382.7 220.4h1M372.1 216.4h1M358.6 195.1h1M360.8 195.2h1M371.2 201.8h1M394 219.1h1M401.8 229.1h1M374.6 201.4h1M371.9 209.5h1M398.4 221.5h1M386.9 209.5h1M377.4 206.7h1M371 205.5h1M372.7 199.4h1M366.7 203.1h1M388.8 210.9h1M383.2 211.5h1M389.3 225.5h1M390.5 221.2h1M395.6 220.4h1M374.7 208.5h1M366.7 203.1h1M372.4 206.5h1M357.2 202.5h1M396.8 225.6h1M385.4 217.1h1M411.1 234h1M375.9 214.3h1M385.7 213.8h1M364.4 197.2h1M369.2 204.5h1M378.7 219.7h1M374.8 208.8h1M386.9 226h1M387.5 215h1M395.4 224h1M399.8 223.3h1M392.2 213.9h1M388.8 213.5h1M392.8 216.2h1M382.6 211.7h1M386 218.3h1M411.3 238.1h1M375.2 205.4h1M360.7 197.2h1M402.2 229.2h1M381 210.3h1M373.5 205.7h1M364.8 198.9h1M375.4 216.8h1M370.2 204.2h1M391.3 221.7h1M367.3 208.2h1M384.5 221.6h1M384.2 206.3h1M385.5 212.5h1M402.3 236.7h1M360.5 197.1h1M378.3 211.1h1M391.4 220.2h1M385.6 225.8h1M380.2 210.2h1M391.1 225.5h1M350.7 198.2h1M393.2 219.8h1M391.2 229.5h1M375.6 212.7h1M398.4 229.7h1M379.9 210h1M406.5 231.1h1M375.7 215.6h1M367.6 201.6h1M411 234.7h1M385.7 225.7h1M393.7 226.6h1M365.3 199.9h1M372.5 212.1h1M414.7 233.1h1M384.8 217.4h1M343.9 188.8h1M383 214.6h1M373 210.4h1M373.7 205.6h1M394.7 229.6h1M378.8 213.5h1M411.3 243.7h1M398.4 225.4h1M379.8 213.9h1M393.1 212.5h1M383.8 220.6h1M394.1 221.3h1M375.4 214h1M395 223h1M351.2 192.8h1M371.1 203.3h1M389.8 211.9h1M401.2 231.7h1M387 221.2h1M373.8 206h1M365.5 212.7h1M377.1 212.4h1M377.6 204.6h1M364.7 201.1h1M372.1 209.3h1M387.1 215.6h1M386.5 227.7h1M370.6 213.6h1M387.9 224.7h1M387.2 221h1M382.2 210.3h1M390.7 227.3h1M388.7 214.4h1M390.6 225.1h1M390.7 228.4h1M394.2 219.8h1M400.8 226.1h1M401.4 225.9h1M381.6 210.5h1M381.6 221.7h1M371.1 215.3h1M371.2 210.3h1M380.9 223.8h1M398.6 229.5h1M368.5 203.1h1M385.5 220.1h1M378.6 206.1h1M391.8 228.6h1M395.6 223.3h1M385.7 226h1M370 200.3h1M379.9 217.1h1M379.3 217.1h1M368.3 194.5h1M385.9 219.4h1M377.8 208.5h1M385 215.7h1M387.9 221.4h1M396.6 223.8h1M412.8 235h1M395.8 222h1M404.9 239.3h1M385.3 214.3h1M385.4 222.5h1M377.6 204h1M388 217h1M380.1 212.5h1M385.9 212.6h1M376.9 208.2h1M377.9 202.8h1M375.5 216.1h1M384.9 215.1h1M393.6 225.8h1M383.6 220.9h1M380.9 225.1h1M396.7 219.5h1M370.2 207.7h1M361 201.9h1M405.7 233.8h1M387 225.3h1M400.1 231.7h1M368.5 214.4h1M379.4 208.6h1M387 216.7h1M370.4 205.7h1M376.8 217.1h1M382.3 221.1h1M367.3 212h1M367.8 205h1M384.2 218h1M364.2 195.9h1M392.1 226.7h1M383 220.3h1M363.8 204.7h1M412.9 240.4h1M353.3 194.5h1M363.8 201.8h1M356.1 195.9h1M392.2 227h1M401.8 229.2h1M389 217.4h1M387.1 223.1h1M385.3 221.5h1M373.9 209.4h1M375.6 209.6h1M373.6 208.5h1M389.7 217.6h1M381.2 216.8h1M363 210.2h1M375.4 220.2h1M386.3 221.7h1M385.6 219.2h1M403 230.9h1M376.4 211.2h1M369 198.8h1M396.4 221.4h1M376.5 200.3h1M382.8 212.7h1M369.5 209.9h1M385.6 217.8h1M394.9 224.6h1M373.3 207.9h1M395 225h1M381.4 220.8h1M383.5 221.7h1M359.2 200.1h1M391.7 221.3h1M364.1 200.6h1M361.6 208.8h1M391.8 220.5h1M360.9 201.3h1M385.4 212.9h1M386.7 215.9h1M383.5 219.1h1M381.3 215.2h1M391.8 218.9h1M378.9 209.9h1M355.2 195.3h1M404.1 230.6h1M394.6 219.2h1M397.3 221.5h1M379.7 211.2h1M386.2 216.9h1M371.6 206.8h1M356.5 193.6h1M373.1 209.6h1M360.2 197.9h1M373.1 213.5h1M374.3 215.5h1M396.8 223h1M397.9 226.5h1M373.6 216.4h1M374.9 214.7h1M372.1 208.6h1M397.6 218.2h1M379.8 217.4h1M388.1 226.9h1M382.9 212.7h1M365.9 198.3h1M365.5 200h1M375.8 203.5h1M383.7 220.1h1M401.4 228.2h1M379.9 210.2h1M385.7 214.1h1M384.4 213.1h1M377.9 208.4h1M375.1 204.7h1M398.8 225.3h1M360.7 197.9h1M370.6 208.9h1M378.9 203.8h1M401.1 229.7h1M405.5 230.7h1M377 206.7h1M385.9 221.4h1M363.2 207.5h1M386.7 221.3h1M387.1 227.7h1M398.5 228.4h1M379.4 216.3h1M371.6 202.9h1M416 238.4h1M367.7 210.8h1M370.2 211.2h1M358.4 197.8h1M386.1 216.4h1M369.7 211.5h1M391 219.6h1M374.7 209.4h1M380.2 215.7h1M371.2 211.8h1M381.2 217.4h1M374.2 217.9h1M381.3 218.1h1M367.9 206.3h1M384.3 220.6h1M379.4 211.5h1M376.8 218.5h1M397.9 221.8h1M379.8 214h1M390.8 221.2h1M376.5 213.4h1M361 206.8h1M393.6 225.2h1M382.9 220.3h1M366.4 200.7h1M378.5 221.7h1M379.8 208.2h1M381 229.5h1M375.3 209.6h1M366.3 201.9h1M380 220.6h1M362.7 209.4h1M363.3 194h1M378.2 208.1h1M373.7 215.4h1M348.8 198.6h1M381.8 202.9h1M382.8 206.6h1M381 206h1M363.6 196.6h1M376.8 205.4h1M376 204.9h1M374.5 201h1M355.8 199.5h1M375.4 205.9h1M368.8 198.7h1M384.1 205.1h1M378.6 209.3h1M371.6 203.3h1M354.4 196.7h1M350 194h1M383.3 208.8h1M390.4 207h1M380.4 208.6h1M383 204.7h1M366.6 198.2h1M355.6 198.1h1M382.2 199.9h1M365.1 199.5h1M367.7 207.5h1M375.7 205.8h1M374.7 203.7h1M385.4 206h1M382.7 210.9h1M363.1 197h1M389.3 206.3h1M358.9 200h1M362.4 200.6h1M369.2 205.4h1M373.2 207.5h1M386.7 202.5h1M354.5 193.3h1M369.3 203.3h1M379.7 208h1M370.8 201.9h1M375 205.7h1M378.5 200.9h1M364.4 204.3h1M362 199.1h1M364.2 205h1M386.2 206h1M371 196.9h1M367 200h1M387.7 211.3h1M383.6 207.6h1M382.3 204.8h1M371.3 202.9h1M379.4 201.9h1M387.7 206.5h1M376.4 207.1h1M385.9 204.8h1M381.2 204.2h1M380.2 204.1h1M382.5 203.1h1M365.5 199.8h1M377.4 208.2h1M371.3 203.6h1M376.7 200.2h1M379.5 207.1h1M374.9 198.9h1M380.8 203.2h1M367.4 201.3h1M367.7 202.1h1M359.4 201.5h1M368 200.9h1M375.3 206h1M372.6 203.9h1M358.6 199.1h1M371.6 204.8h1M376.3 200.1h1M360.2 197.1h1M362.3 202.9h1M360.9 199.7h1M377 208.6h1M386 208.5h1M365.4 200.8h1M369.7 198.2h1M371.9 202.2h1M388.7 210.2h1M379.9 201.4h1M376 201.8h1M370.9 200.9h1M388 208.3h1M377.9 206.4h1M379.3 206.1h1M366.1 205.5h1M365.3 199.7h1M391.7 214.9h1M375.8 206.5h1M368 198.8h1M378.2 201.7h1M359.8 192.7h1M365.1 201.3h1M368.2 204.3h1M371.9 204.6h1M380.3 207.2h1M370.7 205.7h1M354 198.7h1M368.5 199.4h1M377.9 204h1M372.7 210.2h1M376.7 198.3h1M347.5 243.4h1M344.1 214.9h1M390.4 238.8h1M354.1 260.3h1M351.8 226.7h1M350.8 219h1M388 239.9h1M347.6 271.6h1M364.2 208.7h1M351.9 264.1h1M359.2 217.3h1M396.1 256.1h1M363 230.2h1M362.9 224.1h1M355.6 228.7h1M357.5 231.9h1M376.3 255.3h1M356.9 224.4h1M366.9 234.4h1M360.1 258.1h1M365.9 216.5h1M367.2 222.3h1M359 241.7h1M361.7 247.8h1M352.9 269.1h1M353.9 232.8h1M349.9 238.3h1M378 244.3h1M390 226.7h1M364.4 235h1M390.9 244.1h1M349.2 269.2h1M377.2 212.3h1M369.7 199.7h1M341.9 241.5h1M345.9 204.9h1M388.1 254.3h1M360.1 211.7h1M397.5 229h1M379.3 258.4h1M361.7 212.9h1M375 226.1h1M342.8 205.1h1M355.5 218.3h1M373 223.6h1M367.7 230.5h1M369.5 221.3h1M383.9 220.6h1M378.1 253.8h1M396.4 226.8h1M380 263.9h1M357.7 217h1M345.4 201.7h1M357.8 236.6h1M356.8 198.2h1M364.4 234.2h1M358.4 249h1M355 243.4h1M362.4 230.7h1M357.5 200h1M363.5 250.7h1M359.6 249.8h1M374.9 217.2h1M391.7 256.9h1M361.4 237.4h1M376.3 264.2h1M372.7 242.2h1M360.9 248.8h1M368.1 224.4h1M348.4 268.4h1M371.3 229.9h1M379.5 226h1M344 226.6h1M352.1 248.2h1M393.2 231.7h1M384.8 234.2h1M354.8 230.7h1M388.2 243.6h1M366.7 242.5h1M376.4 205.1h1M356.5 206.4h1M346.1 204.5h1M361.8 243.3h1M359.2 223.9h1M373.2 251.9h1M382.4 227.7h1M348.7 232.7h1M344 215.3h1M380.8 213.3h1M345.7 236.5h1M369 208.5h1M367.3 252.9h1M357.1 219.5h1M356.5 222.4h1M366 253.4h1M361.3 238.1h1M355.6 237.2h1M377.3 243.1h1M366.1 218.5h1M355.5 222h1M372 211.2h1M355.3 255.7h1M376.1 211h1M355.7 271.1h1M379 272.9h1M363.5 230.1h1M383.8 224.6h1M353 229.5h1M366.6 234.7h1M389.2 230h1M371 224.6h1M377.9 211.7h1M363.7 230.7h1M348.9 235.5h1M375.6 246.9h1M374.7 244h1M372.1 217.5h1M345.1 238.9h1M374 266.1h1M373.1 256.8h1M357.8 271.5h1M393.6 267.1h1M378.3 258.5h1M392.4 246h1M394.7 200.6h1M362.1 250.9h1M382.7 210.7h1M361.8 261.7h1M382.7 229.4h1M360.4 256.5h1M368.3 230.6h1M361 243.1h1M349.7 214.5h1M375 208.4h1M361.5 234.3h1M396.7 262.3h1M370.6 245.5h1M362.5 228.6h1M373 224.3h1M364.5 238.6h1M350.6 234.3h1M380.1 233h1M351.7 201.3h1M375.4 207.4h1M358.6 242.4h1M368.9 246.9h1M366.5 215h1M363.7 244.1h1M369.8 222.2h1M344.8 221.9h1M367 210.9h1M353.1 217.2h1M351.1 212.8h1M370.6 225.4h1M362.7 211h1M429.2 223.8h1M431.7 203.3h1M428.9 186.5h1M427.5 224h1M430.1 199.1h1M437 210.8h1M429.3 191h1M430 221.9h1M436 209.7h1M433 206.5h1M444.5 215.5h1M432.6 198.5h1M431.5 184.6h1M431.6 201.1h1M428.7 191.2h1M431.3 205.1h1M442.4 219.7h1M437.3 178.5h1M430.5 204.1h1M434.3 201.5h1M439.6 222h1M439.7 209h1M427.1 185.7h1M429 225.9h1M430.9 208.8h1M434.1 224.5h1M435 220.9h1M430 194.5h1M434.5 205.6h1M428.9 185h1M433.4 202.7h1M431.3 205.3h1M425.9 176.1h1M435.1 213.9h1M431.9 221h1M427.6 222.6h1M439.4 195.3h1M427.4 243.9h1M433.5 213h1M435.8 186.4h1M432.7 192h1M430.4 215.5h1M428.9 219.1h1M426.7 241.2h1M430.9 226.7h1M433.4 193.3h1M425.7 180.6h1M432.2 198h1M435.2 205.5h1M434.3 215.2h1M428.5 226.4h1M432.7 234.8h1M432.5 235.5h1M420.9 231.9h1M411.9 234.8h1M410.4 240.1h1M400.5 230.4h1M400.5 228.4h1M420.1 231.5h1M400.6 235.1h1M410 232.6h1M406.2 236.1h1M408.3 233.2h1M393.5 236.5h1M399.6 237.7h1M415.5 233.2h1M430.6 233.3h1M403.3 241.3h1M398.9 234.7h1M391.4 229.8h1M410.6 236.7h1M427.7 236.7h1M393.4 231.5h1M412.2 233.4h1M389.5 234.5h1M398.2 232.1h1M417.3 233.6h1M413.8 234.3h1M415.1 238.5h1M388 234.6h1M390.2 233.7h1M394.8 231.8h1M435.8 233h1M425.3 231.7h1M407.7 234.6h1M390.1 234.6h1M405.6 231.8h1M417.2 237.7h1M415.3 234.8h1M421.9 230.6h1M408 231.5h1M426.1 232.7h1M415.5 239.5h1M403.8 233.5h1M417.2 232.6h1M412.6 235.8h1M403.1 234.6h1M415.4 232.4h1M389.1 230.7h1M397.4 231h1M409.1 233.1h1M429.9 230.6h1M420.1 235.3h1M402.8 233.5h1M395.1 231.3h1M421.2 231.5h1M400.7 235h1M433.4 232.1h1M417.7 233.4h1M413.5 232.7h1M421.6 235.8h1M407.5 233.2h1M421.1 233.7h1M410.9 233.2h1M435.8 232.9h1M388.6 235h1M419.3 232.1h1M414.5 233h1M427.3 232.3h1M405 233.3h1M423.9 232.3h1M403.3 236.1h1M417.9 234.4h1M388 233.2h1M429.1 233.6h1M406.8 232.3h1M415.5 233.9h1M399.5 233.8h1M417.9 236.3h1M427.2 232.6h1M384.4 236.9h1M420.1 236.7h1M425.8 236.2h1M428.2 236.1h1M416.3 237.7h1M399.1 230.8h1M433.8 231.4h1M417.7 235.1h1M404.1 231.8h1M408.3 235.6h1M405.7 233.3h1M404.8 234.8h1M405.9 230.4h1M432 232.1h1M407.2 231.5h1M416.6 231.8h1M413.8 234.9h1M410.1 234.5h1M399.3 230.1h1M412.3 232.4h1M396.8 229.1h1M432.5 233.9h1M413.4 238.2h1M414.9 232.8h1M422.2 233h1M420.8 234.3h1M420.4 236.1h1M423.4 229.6h1M395.9 231.8h1M408.5 235.2h1M403 231.6h1M405.2 235.8h1M409.1 234.2h1M394.5 234.1h1M418.4 234.7h1M425.3 233h1M401.8 231.9h1M393.3 231.6h1M398.1 230.6h1M416.7 236.7h1M417.9 235h1M404.6 230.1h1M411.3 237.7h1" stroke="#111" stroke-width="1.0" fill="none"/><path d="M416.2 231.7l-1.4-.1-1.3 .2-1.3 0-1.3-.2-1.3 0-1.5-.6-1.4-.6-1.1-1-1.5-.9-.9-.7-.9-.9-.6-1-.7-.9-.6-1.4-.6-.9-.6-1.1-.2-1.1-.4-1.1-.2-1.1-.6-1.1-.3-1.3-.2-1.5 0-1.4-.4-1.3-.3-1.3 0-1.4 .1-1.2-.1-1.5 0-1.1-.1-1.2 0-1.5 0-1.4 .1-1.1 .1-1.5-1.2-.9-1.5-.2-1.4-.1-1.2-.2-1.4-.2-1.5-.2-1.5-.1-1.1-.3-1.3-.1-1.2 .2-1.1 0-1.3-.3-1.4-.2-1.6-.2-1.2-.1-1.4-.4-1.4-.4-1.3-.4-1.5-.2-1.3-.2-1.4 0-1.2-.2-1.2-.2-1.3-.5-1.4-.2-1.2-.5-1.5-.2-1.3-.2-1.3-.3-1.5-.5-1.2-.6-1.2-.5-1.4 0-1.1-.3-1.2-.5-1.1-.6-1.4-.5-1.5-.3-.8-.8-1.1-.9-.5-1-.5-1.2 .3-1.1 .9-1 1.3-1.1 1.2-.4 1.2-.4 1-.7 1.1-.8 1.2-.3 1.3-.2 1.3-.2 1.4-.2 1.5-.3 1.4-.1 1.3 0 1.2 0 1.4-.1 1.3 0 1.3-.1 1.5-.3 1.4 0 1.3 0 1.1-.3 1.2-.1 1.4-.1 1.4 .1 1.3 0 1.3 0 1.2 .1 1.1 0 1.4-.1 1.2 0 1.3-.1 1.3 0 1.3 .1 1.5 .1 1.3 .1 1.4 0 1.3-.1 1.3 0 1.3 0 1.3 .1 1.3 .1 1.4 .2 1 .9 .7 1 1 .6 1.1 .5 1.1 .5 1.1-.6 1.5-.4 1.1-.9 1.3-.9 1.5-.1 1.3-.1 1.2-.2 1.2-.2 1.6-.2 1.4 .4 1.3 .7 1.3-.2 1.3 .9 1 .7 1.3 .8 1.2 .5 .6 1.2 .7 .9 .8 1.2 .8 .8 .8 1.4 .4 1.3 .4 1.5 .4 1 .4 1.2 .4 1.3 .3 1.4 .3 1.3 .1 1.2 .1 1.2 .1 1.3 0 1.2 .1 1.2 0 1.3 0 1.4 0 1.1-.2 1.2 .1 1.3 .1 1.3 0 1.2-.2 1.4-.1 1.2 0 1.2-.3 1.2-.3 1.3-.3 1.2-.6 1.3-.5 1.6-.5 1.4-.5 1.4-.6 .9-.8 1.5-.9 1-.7 .9-1.1 1.1-1 .9-1.3 .9-1 .6-1.3 .7-1.3 .2-.8 0M416.9 229.6l-1.3 .1-1.3 0-1.6 .2-1.4-.1-1.4-.2-1.3-.4-1.4-.6-1.1-.6-.8-.8-1.1-.8-.8-.9-.9-1.2-.7-1-.6-1.4-.6-1.1-.5-1.2-.7-1-.2-1.3-.3-1.1-.2-1.5-.3-1.3-.4-1.1 .1-1.4-.2-1.4-.2-1.3 .1-1.3 .1-1.2-.2-1.3 0-1.5 .1-1.3 0-1.2 0-1.2 0-1.2-.4-1.1-1.3-.3-1.3 0-1.2-.3-1.4-.1-1.5-.4-1.2 0-1.4-.1-1.3-.1-1.3 0-1.2 0-1.4-.2-1.1-.1-1.5-.4-1.6 0-1.3-.3-1.1-.5-1.3-.1-1.5 0-1.4-.5-1.2-.4-1.5 0-1.2-.3-1.4-.3-1.2-.4-1.3 0-1.4-.4-1.3 0-1.2-.4-1.4-.4-1.2-.6-1.3-.3-1.2-.4-1.2-.3-1.3-.3-1.2-.7-1.4-.2-1.4-.3-1.2-.5-1.4-.8-.8-.8-.5-1.3 .3-1.4 .7-.9 1.1-.6 1.3-.6 1.1-.8 1.2-.5 1.1-.7 1.5-.1 1.3-.1 1.4 0 1.3-.3 1.3-.1 1.2-.1 1.4-.2 1.5 .1 1.3-.1 1.4-.2 1.4-.1 1.3-.2 1.2 .1 1.2 .1 1.4-.4 1.3 0 1.4 .1 1.2-.2 1.4 0 1.5 .1 1.3 .1 1.4-.2 1.2 0 1.2 .1 1.3 .1 1.4 0 1.4-.1 1.4 .1 1.2 0 1.4 0 1.3-.2 1.4 .1 1.3 .2 1.2 .4 1.3 .8 .8 .8 1 .8 1.2 .4 1.2 .8 1.2 .3 1.2-.4 1.4-.7 1.2-.5 1.4-.5 1.6-.5 1.3 0 1.4-.1 1.2 0 1.5 .1 1.3 .2 1.2 .5 1.3 .5 1.1 .5 .9 1 .9 .7 .8 .9 .7 .9 .6 .9 .8 .9 .4 1.4 .7 1.1 .4 1.3 .5 1.3 .4 1.4 .3 1.2 .2 1.5 .1 1.4 .2 1.3 .4 1.3-.1 1.3-.1 1.2 0 1.5 .2 1.5-.1 1.3 0 1.2 0 1.3 0 1.3-.2 1.4-.1 1.3-.3 1.5-.3 1.4-.4 1.4-.3 1.1-.5 1.1-.4 1.3-.7 1.3-.4 1.1-.9 1-.7 1.2-.7 1-1 .7-1.1 .9-1.4 .8-1 .6-1.3 .3-.4 .1M415.3 228.3l-1.3 .1-1.1 0-1.5-.2-1-.3-1.2-.1-1.2-.5-1.2-.9-1.1-.5-.8-.9-.7-.9-.9-.9-.7-1.3-.7-.9-.5-1-.3-1.1-.5-1.1-.4-1.3-.3-1.3-.5-1.3-.2-1.3-.1-1.2-.1-1.5-.1-1.2 0-1.2-.3-1.4 0-1.4 .3-1.4-.1-1.2 0-1.5 .1-1.3 .2-1.3-.2-1.3-.4-1.3-1.2-.5-1.3 .2-1.5 .2-1.4-.1-1.4-.2-1.4 0-1.3 0-1.1-.2-1.3-.3-1.6-.2-1.3 0-1.3-.1-1.3 0-1.1-.3-1.3-.3-1.2-.1-1.3-.2-1.2-.3-1.2-.2-1.4-.2-1.5-.5-1.4-.1-1.3-.4-1.5 0-1.3-.2-1.1-.3-1.4-.3-1.1-.4-1.2-.2-1.5-.3-1.3-.5-1-.5-1.4-.3-1.2-.3-1.3-.2-1.4-.8-1.3-.2-1.4-.4-1.1-.5-1.1-.8-.3-1.1 .2-1.1 1-.9 1.1-.6 1-.4 1.1-.4 1-.6 1.1-.5 1.5-.3 1.5-.1 1.4-.2 1.4-.2 1.4 .3 1.4-.1 1.2-.2 1.3 0 1.3-.2 1.3-.3 1.2 0 1.4 0 1.4-.3 1.5 .1 1.3 0 1.1-.1 1.4 0 1.3 .1 1.3 0 1.5-.1 1.4 .2 1.3-.1 1.1-.1 1.3 0 1.4 0 1.3 .2 1.4-.1 1.3-.1 1.3 0 1.3 .2 1.3 0 1.5 0 1.3 .4 1.4 .9 1 1.1 1 1 .8 .8 .6 .9 1 .9 1-.4 .9-.9 1-.5 1.1-.4 1.1-.7 1.4-.4 1.4-.1 1.4-.6 1.1 0 1.3 .2 1.4 .2 1.5 .2 1.1 .7 1.2 .5 1.2 .7 1 1.1 .7 .9 .9 1.1 .6 1 .7 1.1 .4 1.1 .8 1.2 .4 1.3 .1 1.5 .4 1.1 .4 1.1 .1 1.3 0 1.2 .4 1 .2 1.4-.2 1.2 .2 1.5 0 1.3 .1 1.3-.1 1.3-.1 1.4-.1 1.3-.2 1.4-.2 1.4-.1 1.2-.3 1.1-.1 1.2-.3 1.3-.7 1.1-.6 1.4-.5 1.2-.5 1.1-.8 1-.9 1.2-.9 .8-.9 .8-.9 .7-1.3 .8-1.3 .4-1.5 .4-.6 .2M413.4 226.8l-1.4 0-1.4-.1-1.2-.4-1.2-.6-1.1-.5-1.1-1-1.1-.7-.7-1.2-.9-1.1-.7-1-.6-1.3-.5-1.4-.4-1.4-.2-1.6-.5-1-.1-1.4-.3-1.2-.3-1.3 .2-1.3-.2-1.5-.2-1.2-.1-1.4 .3-1.2 .2-1.3 0-1.4 0-1.4 .1-1.2 0-1.3-.2-1.4-.8-.8-1.1-.4-1.3-.3-1.4 .2-1.3 .1-1.3 .2-1.5-.4-1.2-.1-1.2-.1-1.4 .1-1.4-.2-1.4-.1-1.2-.2-1.2-.2-1.3-.1-1.3-.2-1.5-.3-1.4 0-1.4-.3-1.3-.4-1-.4-1.5-.3-1.5 0-1.2-.3-1.2-.2-1.4-.2-1.3-.3-1.3-.1-1.2-.2-1.4-.4-1.4-.5-1.1-.2-1.4-.4-1.1-.4-1.3-.3-1.3-.5-1.1-.2-1.2-.5-1.4-.5-1-.8-.1-1.5 .9-.6 1.1-.9 1.2-.7 1.4-.3 1.4-.5 1.4 .1 1.3 0 1.2-.2 1.4-.2 1.2-.2 1.5-.1 1.2-.2 1.3 .1 1.5 0 1.3-.2 1.2-.2 1.5 .2 1.1-.3 1.3-.1 1.2 .2 1.3-.2 1.1 0 1.7 .1 1.2 0 1.2 0 1.4 0 1.3 .1 1.4 .1 1.1 0 1.6-.2 1.4 0 1.4 .2 1.2 .1 1.3 0 1.2 0 1.2 .1 1.4 .4 1.1 .9 1.2 1.1 .8 .8 .7 1.1-.1 1.4 .1 1.4 .3 1.4 1.3 .4 1.1-.9 .7-.9 .9-1 .9-.9 1-.6 1.1-1.1 1.4-.4 1.3-.3 1.4-.3 1.3 .1 1.2-.1 1.6 .2 1.2 .4 1.1 .5 1.2 .4 1.3 .9 .7 .9 1 .8 .7 .9 .6 1 .5 1.3 .7 1.1 .6 1.2 .3 1.2 .3 1.5 .3 1.2 .2 1.2 .4 1.1 .2 1.2-.1 1.3 0 1.3 .2 1.5 .1 1.4 .1 1.1-.1 1.4-.3 1.3 0 1.4-.2 1.3-.3 1.2 0 1.4-.3 1.2-.3 1.1-.6 1.3-.4 1.2-.6 1.4-.7 .9-.5 1.4-1.3 .9-.9 1.3-1 .6-1.1 .9-1.5 .5-1.4 .4-1.2 .1-1.3 .1M394.4 192.6l-1.4 0-1.4-.3-1.3-.3-1.4 0-1.2 .2-1.1-.1-1.4-.3-1.2-.1-1.2 0-1.1-.2-1.2-.2-1.1-.2-1.4-.3-1.5-.2-1-.4-1.1-.2-1.3-.3-1.4 .1-1.3-.2-1.2-.3-1.2-.5-1.5-.2-1.1 0-1.4-.3-1.2-.2-1.3-.1-1.1-.2-1.1-.5-1.3-.3-1.3-.3-1.1-.3-1.4-.5-1.4-.5-1.1-.4-.6-1.1 .7-1.2 1.1-.6 1.2-.4 1.2 .1 1.5-.2 1.5-.2 1.4-.2 1.1-.1 1.4-.1 1.2-.2 1.4-.2 1.3-.1 1.4-.2 1.1-.1 1.4-.1 1.4-.2 1.4 0 1.3 .2 1.1-.2 1.2 0 1.4 .2 1.5 0 1.5 .1 1.3-.1 1.2 0 1.4 .1 1.2 .1 1.3 0 1.4 0 1.4 0 1.4 0 1.3 0 1.2 .2 1.3 .1 1.1 .5 1.1 1 .8 .9 .5 1.4-.1 1.4-.5 1.3-.3 1.2 .2 1.5-.4 1.3-1 .7-1 .3-1.3 .3 0 .1M413.8 225.3l-1.3 .3-1.1-.2-1.4-.3-1.1-.4-1-.6-1.2-.9-1.2-.4-.7-1.1-.5-1.2-.4-1.1-.8-.7-.5-1.1-.4-1-.4-1.3-.4-1.2-.6-1.3 0-1.4-.1-1.4 0-1.4-.1-1.2-.1-1.2 0-1.6 0-1.3 0-1.2 0-1.5 .1-1.2 .1-1.2 .4-1.3-.1-1.3 .2-1.4 .1-1.3 .7-1.4 .6-1 .9-1.1 .4-1.1 1.1-1.1 .8-.9 1-1 .9-.7 1-.4 1.1-.5 1.3 .1 1.4-.3 1.3 0 1.1 .1 1.1 .1 1.3 .3 1.4 .6 .9 .6 1.1 .8 .9 1 1 .7 .6 1.4 .6 1.5 .6 1.3 .3 1.1 .6 1.3 .3 1.7 .2 1.2 .2 1.4 .1 1.3 .1 1.2 .1 1.6 0 1.1-.1 1.4 .1 1.5 0 1.2-.1 1.2-.3 1.4 0 1.2-.3 1.5-.4 1-.1 1.2-.4 1.3-.5 1-.5 1-.7 1-.7 1.4-.8 .8-.8 1-1.1 .8-1.2 .9-1.5 .3-1.4 .5-1.4-.1-.4 0M393.9 190.4l-1.3 .3-1.3-.1-1.4-.2-1.3-.3-1.3 0-1.5 .1-1.4-.1-1.1 .1-1.3-.2-1.1-.2-1.2-.3-1.5-.1-1.5-.4-1.2-.2-1.3-.4-1.4 0-1.7-.2-1.3-.1-1.3-.2-1.4-.4-1.3 0-1.4-.1-1.5-.5-1.4-.2-1.2-.3-1.3-.4-1.3-.4-1.2-.6-1.3-.7 .7-1.2 1.3-.3 1.3-.2 1.5-.4 1.3-.1 1.1-.2 1.2-.3 1.2 .1 1.3-.1 1.4-.2 1.4-.4 1.3-.1 1.6-.2 1.6 0 1.3 .1 1.6 0 1.6 .1 1.5 0 1.1 .1 1.5-.1 1.2 0 1.2 .1 1.3 0 1.2 0 1.3 .4 1.4 .1 1.3-.2 1.3 .1 1.2 0 1.3 .4 1.2 .9 .7 .8 .2 1.4-.3 1.2-.4 1.5-.3 1.3-1 1.1-.9 .4M415.2 224.2l-1.3 .3-1.3 0-1.5-.4-1.5-.2-1-.6-1.1-.8-1.1-.9-.8-.8-.7-.9-.8-1-.4-1.1-.6-1.1-.4-1.5-.5-1.2-.3-1.2-.1-1.4-.2-1.2-.1-1.4-.3-1.5 0-1.3-.1-1.2 .1-1.4 0-1.3 0-1.5 .1-1.2 .2-1.2 .3-1.2 0-1.5 .4-1.3 .6-1.3 .4-1.2 .7-1.3 .8-.8 .5-1.1 .9-1 1-.8 .9-.7 1.3-.7 1.5-.6 1.4-.2 1.2 .2 1.3 .1 1.2 .1 1.4 .3 1.1 .6 1.2 .7 1 .9 .9 .9 .7 1.3 .6 1.2 .7 1 .5 1.4 .2 1.4 .2 1.3 .4 1.2 .3 1.3 .4 1.4 .2 1.4-.1 1.4 0 1.3-.1 1.3 .2 1.3-.1 1.4-.3 1.3-.2 1.4-.2 1.3-.2 1.1-.3 1.3-.3 1.4-.5 .9-.4 1.1-.6 1.2-.9 1.1-.9 .9-.8 1-.8 .8-1 .4-1.2 .6-1.3 .3-.5 .2M392.9 188.6l-1.3 0-1.5 0-1.1-.1-1.4-.3-1.5 .1-1.5-.1-1.2-.1-1.4-.2-1.2 0-1.3 .1-1.5-.2-1.3-.2-1.2-.2-1.4-.2-1.1-.1-1.3-.2-1.3-.1-1.1-.3-1.4-.1-1.4-.3-1.3-.2-1.4-.3-1.2-.3-1.3-.4-.1-1.1 1.4-.4 1.3-.4 1.5-.4 1.4-.3 1.5 .1 1.3-.2 1.5-.2 1.1-.2 1.3-.2 1.5 .3 1.3-.1 1.3-.1 1.3 .1 1.2 0 1.2 .1 1.1 .1 1.3-.1 1.3 0 1.2-.2 1.4 .2 1.5 .2 1.3 .3 1.3 .2 1.2 0 .9 .6 .9 .8 .1 1.2-.4 1.2-.5 1.2-.8 1-.2 0M415.7 222.9l-1.5 .3-1.3 0-1.5-.1-1.2-.3-1.2-.6-1-.6-1.2-1-.7-1-.9-.6-.5-1-.4-1.1-.6-1-.5-1.3-.3-1.3-.3-1.3-.4-1.3-.1-1.2 .2-1.6-.2-1.4-.1-1.2-.1-1.2 .1-1.2 .1-1.2 0-1.3 .1-1.4 .3-1.2 .4-1.1 .3-1.5 .2-1.5 .5-1.2 .7-1.3 .7-1.1 .7-1 .8-.9 1.1-.7 1.1-.8 1.3-.5 1.5-.3 1.2-.2 1.3 0 1.4 .2 1.2 .4 1.3 .9 1 .4 .8 .8 .8 .8 .7 1 .6 1 .8 1 .3 1.4 .3 1.5 .5 1 .5 1.4 0 1.2 .1 1.1 .2 1.3 .1 1.2 0 1.5-.2 1.5 .3 1.3-.1 1.3-.2 1.4-.2 1.2-.1 1.3-.4 1-.2 1.3-.5 1.4-.6 1.2-.4 1-.8 1.1-1 1.2-1 .9-1.4 .9-1.2 .7-1.3 .4M386.8 186l-1.2 .4-1.4 0-1.3 .2-1.4-.1-1.3-.3-1.3 .1-1.4 0-1.3-.1-1.3 0-1.4-.2-1.3-.2-1.6-.6-1.2-.1-1.2-.6 1.1-.9 1.1-.2 1.4-.2 1.3-.3 1.5-.3 1.1 .1 1.4 .1 1.2 0 1.4 0 1.2 .1 1.2 0 1.6 0 1.3 .4 1.2 .1 1.2 .3 1.2 .4 1.3 .7-.9 1-1.3 .4-.9-.1M413.9 222.1l-1.3-.2-1.5-.2-1.2-.2-1.1-.8-1.1-.7-1-.8-.7-.9-.8-1-.3-1.2-.5-1.2-.6-.9-.4-1.3-.3-1.2 0-1.2-.2-1.3-.1-1.5-.1-1.5 0-1.2 .2-1.5 0-1.4-.1-1.1 0-1.3 .4-1.3 .2-1.6 .5-1.4 .3-1.2 .7-1.2 .5-1.3 .7-.9 .7-.9 .8-.9 1-.7 1.2-.6 1.1-.3 1.2-.4 1.6 .1 1.2 .1 1.4 .2 1.1 .4 1 .6 1 .8 .9 .9 .6 1 .6 1 .9 1.1 .4 1.3 .3 1.1 .3 1.4 .1 1.2 .3 1.4 .2 1.3-.2 1.3 .4 1.4 0 1.4-.1 1.3 .1 1.3-.2 1.3-.2 1.4-.3 1.3-.1 1.3-.5 1.2-.6 1.4-.1 1.1-.5 1-.9 .7-.8 .9-1 .8-1.2 1.1-1.1 .5-1.1 .4-1.3 .3-.5 .1M415.2 220.7l-1.4 .1-1.3-.1-1.4-.1-1.3-.5-1.2-.7-1-.8-.9-.9-.6-1.1-.7-.8-.7-1-.2-1.1-.1-1.4-.4-1.5-.4-1.1-.3-1.1-.1-1.2 .2-1.4-.1-1.3 0-1.3 .1-1.3 .1-1.3 .3-1.5 .1-1.5 .1-1.2 .6-1.3 .6-1 .5-1.1 .6-1.3 .7-.9 .8-1 1.1-.8 1.3-.7 1.3-.3 1.5-.1 1.3 .2 1.3 .2 1.5 .3 1.1 .7 .9 .8 .9 .9 .8 1.1 .7 1.2 .6 1.3 .5 1.4 .2 1.3 .3 1.3 .1 1.2 .1 1.3 0 1.3 .3 1.2-.2 1.3 0 1.5 .1 1.1-.2 1.3-.1 1.1-.2 1.2-.4 1.4-.6 1.1-.2 1.5-.7 .9-.7 1-.9 1-1 .8-.9 .8-1.3 .4-.9 .5M416.3 219.4l-1.4 .2-1.4 .2-1.4-.2-1.3-.1-1.1-.7-1.2-.7-.8-1-.9-.8-.9-1.3-.5-1.3-.6-1.3 0-1.5-.5-1.2-.2-1.5 0-1.2-.1-1.4 0-1.3 .1-1.3 0-1.3 .2-1.3 .2-1.4 .1-1.2 .4-1.2 .4-1.2 .5-1.2 .9-1.2 .5-1.2 1-.7 1.3-.9 1-.6 1.4-.2 1.3-.2 1.3 0 1.2 .6 1.3 .4 1.2 .6 1.1 1.1 .8 1.3 .7 1.1 .4 1.2 .5 1.1 .3 1.4 .3 1.3 .2 1.3 0 1.5 .1 1.1 .1 1.3-.1 1.1 0 1.3-.1 1.3-.2 1.5-.2 1.1-.4 1.1-.1 1.3-.6 1.2-.7 1.2-.7 1-.8 1-1 .9-1.1 .4-.6 .5M415.2 218.4l-1.2 0-1.5 .1-1.5-.4-1.3-.3-.9-.7-.8-.9-.8-.9-.6-1.2-.5-1-.4-1.3-.5-1.3-.5-1.4 0-1.1 0-1.5 0-1.5 0-1.1-.1-1.3 .1-1.3 .2-1.2 .3-1.2 .2-1.1 .2-1.6 .6-.9 .7-.9 .5-1 .8-.9 1.1-1.1 1.3-.6 1.5-.3 1.4-.3 1.2 .2 1.3 .3 1.1 .6 1.1 .9 .9 .9 .6 1.1 .8 1.1 .5 1.2 .3 1.2 .3 1.3 .3 1.2 0 1.3 0 1.4 .1 1.3 .1 1.2-.1 1.4-.1 1.4-.1 1.2-.1 1.1-.4 1.2-.4 1-.4 1.1-.6 1.1-.8 .9-.7 .8-1.1 1.1-1.3 .5-.8 .3M415.5 217.2l-1.3 .3-1.2 0-1.3-.1-1.4-.5-.9-.7-.9-.9-.8-.9-.8-1.2-.4-1.2-.4-1.5-.4-1.3-.3-1.4 .2-1.3 0-1.1 0-1.4 0-1.1 0-1.3 .1-1.3 .1-1.1 .4-1.3 .4-1.1 .5-1 .5-1.1 .9-1.1 1.1-.9 1.1-.7 1.5-.3 1.3-.2 1.2 0 1.2 .7 1.3 .7 1.1 .3 .8 1.2 .5 1.5 .7 1.2 .5 1.3 .2 1.5 .2 1.2 .3 1.3-.3 1.5-.1 1.4 0 1.2 .1 1.3-.2 1.4-.2 1.4-.6 1.1-.7 1.2-.5 1.3-.7 1.2-.9 .7-.8 .9-1.1 .2M414.3 216.2l-1.3 0-1.2-.1-1.1-.2-1.1-1.1-1.2-.9-.6-1.3-.4-1.1-.3-1.1-.6-1.2-.4-1.4 .2-1.4-.1-1.2-.1-1.5 .2-1.4 0-1.3 .2-1.4 .2-1.4 .7-1.5 .9-1.1 .6-1.1 1-.7 1-.5 1.1-.5 1.3-.1 1.2 .1 1.5 .5 1.1 .5 .7 .9 .8 1.1 .6 1 .6 1.4 .4 1.2 .2 1.5 .1 1.4 .2 1.4 0 1.2 0 1.2-.2 1.6-.1 1.1-.2 1.1-.6 1.6-.4 1.2-.7 .9-.8 1-.9 .6-.9 .7-1.4 .2-.1 .1M414.7 214.9l-1.2 0-1.3 .1-1.3-.2-.9-.6-.8-1.1-1-1.2-.4-1.4-.5-1.3-.1-1.3-.1-1.4-.2-1.4 .3-1.1 0-1.5-.1-1.4 .3-1.3 .3-1.2 .5-1.1 .8-1.2 .8-.8 .9-1.1 1.2-.4 1.3-.1 1.3 .1 1.2 .4 1.1 .7 .9 .8 .9 1.3 .5 1.4 .4 1.2 .2 1.5-.1 1.3 .2 1.2 .2 1.3-.1 1.3-.3 1.3-.1 1.4-.5 1.2-.5 1-.3 1.1-.9 .9-.8 1-1.2 .4-.8 .2M415 213.4l-1.3 .5-1.4-.2-1.2-.4-.9-.7-.8-.8-.9-1.5-.4-1.1-.3-1.4 .1-1.5-.2-1.3-.1-1.2 .2-1.3 .2-1.2 .3-1.2 .3-1.2 .4-1.3 .6-1 1.2-1 1.3-.3 1.3-.2 1.4 0 1.4 .7 .9 .9 .7 .9 .4 1.1 .1 1.1 .5 1 .4 1.4 0 1.2 .2 1.4-.2 1.3-.2 1.3-.2 1.2-.4 1.3-.4 1-.6 1.3-1 .7-1.2 .4-.3 0M415.2 212.3l-1.2 .4-1.5-.2-1.3-.5-1.1-1.2-.8-.8-.5-1.2-.2-1.3-.4-1.2-.2-1.6 .3-1.3 .2-1.3 .5-1.4 .4-1.3 .4-1.2 1-.9 1.2-.8 1.2-.2 1.4 .1 1.1 .5 .7 .9 .8 1.2 .6 1 .3 1.2 .2 1.3 .2 1.5 .1 1.4-.3 1.2-.4 1.2-.2 1.2-.2 1.1-1.1 1.1-.9 .9-.4 .2M414.4 210.9l-1.4 .3-1.4-.4-.9-1.2-.8-1.3-.3-1.5-.1-1.3-.2-1.3 .1-1.2 .2-1.4 .4-1.2 .7-.8 .8-1 1.1-.6 1.3-.1 1.2 .6 1 .5 .6 1.1 .3 1.2 .3 1.1 .2 1.2 0 1.3 0 1.2-.2 1.2-.4 1.4-.7 1-.8 .8-1 .3M414.2 209.4l-1.1 0-1.4-.8-.9-1.2-.2-1.4-.2-1.2 .1-1.3 .3-1.3 .3-1.4 1-1.2 1.4 0 1.4 .1 .8 .9 .2 1.1 .5 1.3 .1 1.4 0 1.3-.2 1.2-.7 1.4-.8 .8-.5 .3" fill="none" stroke="#000" stroke-width="0.68" stroke-linejoin="round"/></g><rect x="37.7" y="43.5" width="105.9" height="106.1" fill="none" stroke="#777" stroke-width="1.0"/><rect x="195.0" y="43.6" width="105.4" height="105.7" fill="none" stroke="#777" stroke-width="1.0"/><rect x="342.5" y="43.7" width="106.9" height="105.6" fill="none" stroke="#777" stroke-width="1.0"/><rect x="38.8" y="172.4" width="105.5" height="106.4" fill="none" stroke="#777" stroke-width="1.0"/><rect x="194.6" y="172.3" width="106.0" height="105.8" fill="none" stroke="#777" stroke-width="1.0"/><rect x="340.9" y="172.2" width="106.0" height="105.8" fill="none" stroke="#777" stroke-width="1.0"/><path d="M43.5 149.6v2.2M62.5 149.6v2.2M87.0 149.6v2.2M111.0 149.6v2.2M133.5 149.6v2.2M37.7 53.6h-2.2M37.7 77.5h-2.2M37.7 104.5h-2.2M37.7 127.5h-2.2M69.9 149.6v1.3M74.2 149.6v1.3M77.3 149.6v1.3M79.6 149.6v1.3M81.6 149.6v1.3M83.2 149.6v1.3M84.6 149.6v1.3M85.9 149.6v1.3M94.2 149.6v1.3M98.5 149.6v1.3M101.4 149.6v1.3M103.8 149.6v1.3M105.7 149.6v1.3M107.3 149.6v1.3M108.7 149.6v1.3M109.9 149.6v1.3M117.8 149.6v1.3M121.7 149.6v1.3M124.5 149.6v1.3M126.7 149.6v1.3M128.5 149.6v1.3M130.0 149.6v1.3M131.3 149.6v1.3M132.5 149.6v1.3M37.7 96.4h-1.3M37.7 91.6h-1.3M37.7 88.2h-1.3M37.7 85.6h-1.3M37.7 83.5h-1.3M37.7 81.7h-1.3M37.7 80.1h-1.3M37.7 78.7h-1.3M37.7 70.3h-1.3M37.7 66.1h-1.3M37.7 63.1h-1.3M37.7 60.8h-1.3M37.7 58.9h-1.3M37.7 57.3h-1.3M37.7 55.9h-1.3M37.7 54.7h-1.3" stroke="#444" stroke-width="0.7" fill="none"/><path d="M222.0 149.3v2.2M235.0 149.3v2.2M265.5 149.3v2.2M290.5 149.3v2.2M195.0 53.8h-2.2M195.0 77.5h-2.2M195.0 101.2h-2.2M195.0 125.0h-2.2M195.0 143.8h-2.2M244.2 149.3v1.3M249.6 149.3v1.3M253.4 149.3v1.3M256.3 149.3v1.3M258.7 149.3v1.3M260.8 149.3v1.3M262.5 149.3v1.3M264.1 149.3v1.3M273.0 149.3v1.3M277.4 149.3v1.3M280.6 149.3v1.3M283.0 149.3v1.3M285.0 149.3v1.3M286.6 149.3v1.3M288.1 149.3v1.3M289.4 149.3v1.3M195.0 117.8h-1.3M195.0 113.6h-1.3M195.0 110.7h-1.3M195.0 108.4h-1.3M195.0 106.5h-1.3M195.0 104.9h-1.3M195.0 103.5h-1.3M195.0 102.3h-1.3M195.0 94.1h-1.3M195.0 89.9h-1.3M195.0 86.9h-1.3M195.0 84.6h-1.3M195.0 82.8h-1.3M195.0 81.2h-1.3M195.0 79.8h-1.3M195.0 78.6h-1.3M195.0 70.4h-1.3M195.0 66.2h-1.3M195.0 63.2h-1.3M195.0 60.9h-1.3M195.0 59.1h-1.3M195.0 57.5h-1.3M195.0 56.1h-1.3M195.0 54.9h-1.3" stroke="#444" stroke-width="0.7" fill="none"/><path d="M370.0 149.3v2.2M383.8 149.3v2.2M413.8 149.3v2.2M438.8 149.3v2.2M342.5 53.0h-2.2M342.5 77.5h-2.2M342.5 101.2h-2.2M342.5 126.0h-2.2M342.5 143.8h-2.2M392.8 149.3v1.3M398.1 149.3v1.3M401.9 149.3v1.3M404.8 149.3v1.3M407.1 149.3v1.3M409.2 149.3v1.3M410.9 149.3v1.3M412.4 149.3v1.3M421.3 149.3v1.3M425.7 149.3v1.3M428.9 149.3v1.3M431.3 149.3v1.3M433.3 149.3v1.3M434.9 149.3v1.3M436.4 149.3v1.3M437.7 149.3v1.3M342.5 118.5h-1.3M342.5 114.2h-1.3M342.5 111.1h-1.3M342.5 108.7h-1.3M342.5 106.7h-1.3M342.5 105.0h-1.3M342.5 103.6h-1.3M342.5 102.3h-1.3M342.5 94.1h-1.3M342.5 89.9h-1.3M342.5 86.9h-1.3M342.5 84.6h-1.3M342.5 82.8h-1.3M342.5 81.2h-1.3M342.5 79.8h-1.3M342.5 78.6h-1.3M342.5 70.1h-1.3M342.5 65.8h-1.3M342.5 62.7h-1.3M342.5 60.4h-1.3M342.5 58.4h-1.3M342.5 56.8h-1.3M342.5 55.4h-1.3M342.5 54.1h-1.3" stroke="#444" stroke-width="0.7" fill="none"/><path d="M45.0 278.8v2.2M63.5 278.8v2.2M88.9 278.8v2.2M115.4 278.8v2.2M137.3 278.8v2.2M38.8 182.2h-2.2M38.8 206.8h-2.2M38.8 233.8h-2.2M38.8 257.8h-2.2M71.1 278.8v1.3M75.6 278.8v1.3M78.8 278.8v1.3M81.3 278.8v1.3M83.3 278.8v1.3M85.0 278.8v1.3M86.4 278.8v1.3M87.7 278.8v1.3M96.9 278.8v1.3M101.5 278.8v1.3M104.9 278.8v1.3M107.4 278.8v1.3M109.5 278.8v1.3M111.3 278.8v1.3M112.8 278.8v1.3M114.2 278.8v1.3M122.0 278.8v1.3M125.8 278.8v1.3M128.6 278.8v1.3M130.7 278.8v1.3M132.4 278.8v1.3M133.9 278.8v1.3M135.2 278.8v1.3M136.3 278.8v1.3M38.8 225.7h-1.3M38.8 220.9h-1.3M38.8 217.5h-1.3M38.8 214.9h-1.3M38.8 212.8h-1.3M38.8 211.0h-1.3M38.8 209.4h-1.3M38.8 208.0h-1.3M38.8 199.4h-1.3M38.8 195.1h-1.3M38.8 192.0h-1.3M38.8 189.6h-1.3M38.8 187.7h-1.3M38.8 186.0h-1.3M38.8 184.6h-1.3M38.8 183.3h-1.3" stroke="#444" stroke-width="0.7" fill="none"/><path d="M222.5 278.1v2.2M234.5 278.1v2.2M266.0 278.1v2.2M290.8 278.1v2.2M194.6 182.2h-2.2M194.6 206.0h-2.2M194.6 230.0h-2.2M194.6 254.5h-2.2M194.6 273.0h-2.2M244.0 278.1v1.3M249.5 278.1v1.3M253.5 278.1v1.3M256.5 278.1v1.3M259.0 278.1v1.3M261.1 278.1v1.3M262.9 278.1v1.3M264.6 278.1v1.3M273.5 278.1v1.3M277.8 278.1v1.3M280.9 278.1v1.3M283.3 278.1v1.3M285.3 278.1v1.3M287.0 278.1v1.3M288.4 278.1v1.3M289.7 278.1v1.3M194.6 247.1h-1.3M194.6 242.8h-1.3M194.6 239.7h-1.3M194.6 237.4h-1.3M194.6 235.4h-1.3M194.6 233.8h-1.3M194.6 232.4h-1.3M194.6 231.1h-1.3M194.6 222.8h-1.3M194.6 218.5h-1.3M194.6 215.6h-1.3M194.6 213.2h-1.3M194.6 211.3h-1.3M194.6 209.7h-1.3M194.6 208.3h-1.3M194.6 207.1h-1.3M194.6 198.8h-1.3M194.6 194.6h-1.3M194.6 191.7h-1.3M194.6 189.4h-1.3M194.6 187.5h-1.3M194.6 185.9h-1.3M194.6 184.5h-1.3M194.6 183.3h-1.3" stroke="#444" stroke-width="0.7" fill="none"/><path d="M367.7 278.0v2.2M383.1 278.0v2.2M411.7 278.0v2.2M436.3 278.0v2.2M340.9 182.2h-2.2M340.9 206.2h-2.2M340.9 230.2h-2.2M340.9 253.8h-2.2M340.9 273.0h-2.2M391.7 278.0v1.3M396.7 278.0v1.3M400.3 278.0v1.3M403.1 278.0v1.3M405.4 278.0v1.3M407.3 278.0v1.3M408.9 278.0v1.3M410.4 278.0v1.3M419.1 278.0v1.3M423.4 278.0v1.3M426.5 278.0v1.3M428.9 278.0v1.3M430.8 278.0v1.3M432.5 278.0v1.3M433.9 278.0v1.3M435.2 278.0v1.3M340.9 246.7h-1.3M340.9 242.5h-1.3M340.9 239.6h-1.3M340.9 237.3h-1.3M340.9 235.4h-1.3M340.9 233.9h-1.3M340.9 232.5h-1.3M340.9 231.3h-1.3M340.9 223.0h-1.3M340.9 218.7h-1.3M340.9 215.8h-1.3M340.9 213.4h-1.3M340.9 211.5h-1.3M340.9 209.9h-1.3M340.9 208.5h-1.3M340.9 207.3h-1.3M340.9 199.0h-1.3M340.9 194.7h-1.3M340.9 191.8h-1.3M340.9 189.4h-1.3M340.9 187.5h-1.3M340.9 185.9h-1.3M340.9 184.5h-1.3M340.9 183.3h-1.3" stroke="#444" stroke-width="0.7" fill="none"/><rect x="109.1" y="51.1" width="30.9" height="37.5" fill="none" stroke="#222" stroke-width="2.2"/><path d="M121.2 149.6 L121.2 109.7 L143.2 109.7 L143.2 149.6" fill="none" stroke="#222" stroke-width="2.2"/><text x="81.4" y="63.3" font-size="11" font-weight="bold" text-anchor="start" fill="#111" >36.2</text><text x="90.3" y="146.2" font-size="11" font-weight="bold" text-anchor="start" fill="#111" >10.7</text><rect x="196.2" y="47.1" width="40.7" height="42.7" fill="none" stroke="#222" stroke-width="2.2"/><rect x="239.1" y="46.6" width="47.1" height="39.8" fill="none" stroke="#222" stroke-width="2.2"/><text x="234.2" y="103.1" font-size="11" font-weight="bold" text-anchor="start" fill="#111" >28.9</text><text x="266.3" y="103.1" font-size="11" font-weight="bold" text-anchor="start" fill="#111" >7.15</text><ellipse cx="416.5" cy="82.6" rx="18.8" ry="37.0" transform="rotate(0 416.5 82.6)" fill="none" stroke="#222" stroke-width="2.2"/><text x="386.7" y="134.1" font-size="11" font-weight="bold" text-anchor="start" fill="#111" >78.5</text><rect x="109.7" y="192.8" width="31.9" height="39.3" fill="none" stroke="#222" stroke-width="2.2"/><path d="M115.7 278.8 L115.7 238.3 L144.3 238.3" fill="none" stroke="#222" stroke-width="2.2"/><text x="112.4" y="190.2" font-size="11" font-weight="bold" text-anchor="start" fill="#111" >5.07</text><text x="93.6" y="274.2" font-size="11" font-weight="bold" text-anchor="start" fill="#111" >38</text><rect x="195.7" y="174.2" width="46.5" height="29.6" fill="none" stroke="#222" stroke-width="2.2"/><rect x="248.2" y="173.5" width="40.4" height="26.6" fill="none" stroke="#222" stroke-width="2.2"/><rect x="248.2" y="203.4" width="40.4" height="32.0" fill="none" stroke="#222" stroke-width="2.2"/><text x="196.8" y="225.6" font-size="11" font-weight="bold" text-anchor="start" fill="#111" >29.4</text><text x="275.2" y="184.7" font-size="11" font-weight="bold" text-anchor="start" fill="#111" >31</text><text x="240.0" y="255.4" font-size="11" font-weight="bold" text-anchor="start" fill="#111" >20.5</text><path d="M342.2 175 L401.8 175 L391 199.6 L342.2 199.6 Z" fill="none" stroke="#222" stroke-width="2.2" stroke-linejoin="miter"/><ellipse cx="411.5" cy="206.5" rx="16.2" ry="31.8" transform="rotate(0 411.5 206.5)" fill="none" stroke="#2a2a2a" stroke-width="2.3"/><text x="344.8" y="213.4" font-size="11" font-weight="bold" text-anchor="start" fill="#111" >18.5</text><text x="420.0" y="251.0" font-size="11" font-weight="bold" text-anchor="start" fill="#111" >73.4</text></svg></body></html>
